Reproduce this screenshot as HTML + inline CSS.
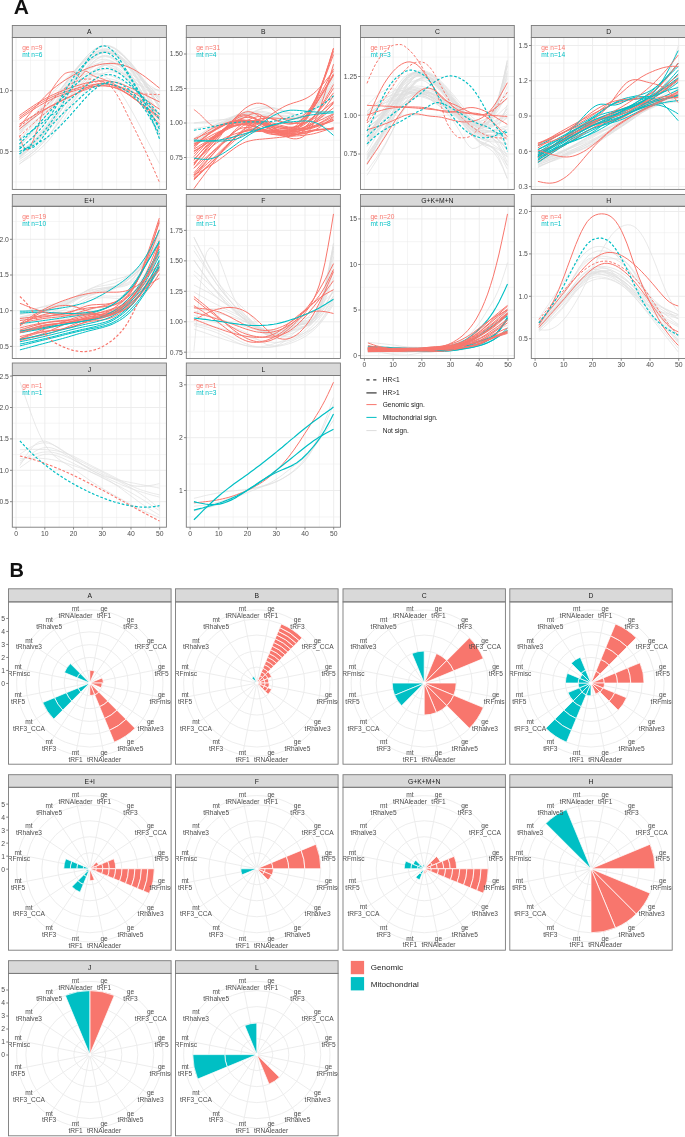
<!DOCTYPE html>
<html><head><meta charset="utf-8"><style>
html,body{margin:0;padding:0;background:#fff;overflow:hidden;}
svg{display:block;font-family:"Liberation Sans",sans-serif;will-change:transform;}
</style></head><body>
<svg width="685" height="1137" viewBox="0 0 685 1137">
<defs><clipPath id="clipA0"><rect x="12.3" y="37.5" width="154.1" height="151.9"/></clipPath><clipPath id="clipA1"><rect x="186.3" y="37.5" width="154.1" height="151.9"/></clipPath><clipPath id="clipA2"><rect x="360.5" y="37.5" width="153.8" height="151.9"/></clipPath><clipPath id="clipA3"><rect x="531.3" y="37.5" width="154.7" height="151.9"/></clipPath><clipPath id="clipA4"><rect x="12.3" y="206.3" width="154.1" height="152.2"/></clipPath><clipPath id="clipA5"><rect x="186.3" y="206.3" width="154.1" height="152.2"/></clipPath><clipPath id="clipA6"><rect x="360.5" y="206.3" width="153.8" height="152.2"/></clipPath><clipPath id="clipA7"><rect x="531.3" y="206.3" width="154.7" height="152.2"/></clipPath><clipPath id="clipA8"><rect x="12.3" y="375.5" width="154.1" height="151.7"/></clipPath><clipPath id="clipA9"><rect x="186.3" y="375.5" width="154.1" height="151.7"/></clipPath><clipPath id="clipB0"><rect x="8.5" y="601.9" width="162.6" height="162.3"/></clipPath><clipPath id="clipB1"><rect x="175.5" y="601.9" width="162.6" height="162.3"/></clipPath><clipPath id="clipB2"><rect x="343" y="601.9" width="162.4" height="162.3"/></clipPath><clipPath id="clipB3"><rect x="509.8" y="601.9" width="162.4" height="162.3"/></clipPath><clipPath id="clipB4"><rect x="8.5" y="787.3" width="162.6" height="162.9"/></clipPath><clipPath id="clipB5"><rect x="175.5" y="787.3" width="162.6" height="162.9"/></clipPath><clipPath id="clipB6"><rect x="343" y="787.3" width="162.4" height="162.9"/></clipPath><clipPath id="clipB7"><rect x="509.8" y="787.3" width="162.4" height="162.9"/></clipPath><clipPath id="clipB8"><rect x="8.5" y="973.4" width="162.6" height="162.4"/></clipPath><clipPath id="clipB9"><rect x="175.5" y="973.4" width="162.6" height="162.4"/></clipPath></defs>
<rect width="685" height="1137" fill="#fff"/>
<text x="13.7" y="14.1" font-size="21" text-anchor="start" fill="#111" font-weight="bold" >A</text>
<rect x="12.3" y="37.5" width="154.1" height="151.9" fill="#fff"/>
<g clip-path="url(#clipA0)">
<line x1="12.3" x2="166.4" y1="181.9" y2="181.9" stroke="#EBEBEB" stroke-width="0.5"/>
<line x1="12.3" x2="166.4" y1="121.1" y2="121.1" stroke="#EBEBEB" stroke-width="0.5"/>
<line x1="12.3" x2="166.4" y1="60.3" y2="60.3" stroke="#EBEBEB" stroke-width="0.5"/>
<line x1="30.46" x2="30.46" y1="37.5" y2="189.4" stroke="#EBEBEB" stroke-width="0.5"/>
<line x1="59.18" x2="59.18" y1="37.5" y2="189.4" stroke="#EBEBEB" stroke-width="0.5"/>
<line x1="87.9" x2="87.9" y1="37.5" y2="189.4" stroke="#EBEBEB" stroke-width="0.5"/>
<line x1="116.62" x2="116.62" y1="37.5" y2="189.4" stroke="#EBEBEB" stroke-width="0.5"/>
<line x1="145.34" x2="145.34" y1="37.5" y2="189.4" stroke="#EBEBEB" stroke-width="0.5"/>
<line x1="12.3" x2="166.4" y1="151.5" y2="151.5" stroke="#EBEBEB" stroke-width="0.9"/>
<line x1="12.3" x2="166.4" y1="90.7" y2="90.7" stroke="#EBEBEB" stroke-width="0.9"/>
<line x1="16.1" x2="16.1" y1="37.5" y2="189.4" stroke="#EBEBEB" stroke-width="0.9"/>
<line x1="44.82" x2="44.82" y1="37.5" y2="189.4" stroke="#EBEBEB" stroke-width="0.9"/>
<line x1="73.54" x2="73.54" y1="37.5" y2="189.4" stroke="#EBEBEB" stroke-width="0.9"/>
<line x1="102.26" x2="102.26" y1="37.5" y2="189.4" stroke="#EBEBEB" stroke-width="0.9"/>
<line x1="130.98" x2="130.98" y1="37.5" y2="189.4" stroke="#EBEBEB" stroke-width="0.9"/>
<line x1="159.7" x2="159.7" y1="37.5" y2="189.4" stroke="#EBEBEB" stroke-width="0.9"/>
<path d="M19.4,161.7 23.9,158.8 28.4,155.7 32.9,152.3 37.5,148.5 42,144 46.5,138.8 51,132.6 55.5,125.5 60.1,117.8 64.6,109.8 69.1,101.8 73.6,94.3 78.2,87.4 82.7,81.3 87.2,76.1 91.7,71.8 96.3,68.5 100.8,66.3 105.3,65.1 109.8,65.1 114.3,66.2 118.9,68.5 123.4,71.9 127.9,76.6 132.4,82.5 137,89.5 141.5,97.4 146,106.1 150.5,115.2 155.1,124.8 159.6,134.5" fill="none" stroke="#DFDFDF" stroke-width="0.7" stroke-linejoin="round"/>
<path d="M19.4,159.6 23.9,156.5 28.4,153.4 32.9,150 37.5,146.4 42,142.3 46.5,137.8 51,132.6 55.5,126.8 60.1,120.6 64.6,114.1 69.1,107.7 73.6,101.4 78.2,95.5 82.7,90 87.2,85.1 91.7,80.9 96.3,77.3 100.8,74.6 105.3,72.7 109.8,71.9 114.3,72.1 118.9,73.4 123.4,76.1 127.9,80.1 132.4,85.6 137,92.4 141.5,100.3 146,109.1 150.5,118.6 155.1,128.5 159.6,138.7" fill="none" stroke="#DFDFDF" stroke-width="0.7" stroke-linejoin="round"/>
<path d="M19.4,130.5 23.9,127.8 28.4,125 32.9,122.1 37.5,118.9 42,115.4 46.5,111.6 51,107.3 55.5,102.7 60.1,97.8 64.6,92.9 69.1,88.3 73.6,84.1 78.2,80.6 82.7,77.8 87.2,75.7 91.7,74.3 96.3,73.6 100.8,73.6 105.3,74.2 109.8,75.4 114.3,77.2 118.9,79.3 123.4,81.7 127.9,84.2 132.4,86.8 137,89.4 141.5,92 146,94.5 150.5,97.1 155.1,99.7 159.6,102.3" fill="none" stroke="#DFDFDF" stroke-width="0.7" stroke-linejoin="round"/>
<path d="M19.4,147 23.9,141.9 28.4,136.9 32.9,131.7 37.5,126.4 42,121 46.5,115.4 51,109.6 55.5,103.5 60.1,97.4 64.6,91.1 69.1,85 73.6,78.9 78.2,73.1 82.7,67.7 87.2,62.7 91.7,58.5 96.3,55.1 100.8,52.7 105.3,51.5 109.8,51.5 114.3,52.7 118.9,55 123.4,58.4 127.9,62.6 132.4,67.6 137,73.4 141.5,79.7 146,86.5 150.5,93.7 155.1,101.1 159.6,108.7" fill="none" stroke="#DFDFDF" stroke-width="0.7" stroke-linejoin="round"/>
<path d="M19.4,157.1 23.9,151.9 28.4,146.7 32.9,141.5 37.5,136.3 42,131.1 46.5,125.9 51,120.7 55.5,115.6 60.1,110.4 64.6,105.2 69.1,99.9 73.6,94.6 78.2,89.1 82.7,83.6 87.2,78.4 91.7,73.7 96.3,69.5 100.8,66.2 105.3,63.9 109.8,62.7 114.3,62.8 118.9,64.2 123.4,66.9 127.9,71.1 132.4,76.7 137,83.6 141.5,91.6 146,100.4 150.5,110 155.1,119.9 159.6,130.1" fill="none" stroke="#DFDFDF" stroke-width="0.7" stroke-linejoin="round"/>
<path d="M19.4,144 23.9,139.7 28.4,135.3 32.9,130.7 37.5,125.8 42,120.5 46.5,114.7 51,108.4 55.5,101.5 60.1,94.2 64.6,87 69.1,79.9 73.6,73.3 78.2,67.4 82.7,62.3 87.2,58 91.7,54.5 96.3,51.9 100.8,50.2 105.3,49.5 109.8,49.6 114.3,50.7 118.9,52.8 123.4,55.8 127.9,59.7 132.4,64.5 137,70.3 141.5,76.7 146,83.6 150.5,91 155.1,98.7 159.6,106.5" fill="none" stroke="#DFDFDF" stroke-width="0.7" stroke-linejoin="round"/>
<path d="M19.4,157.3 23.9,153.2 28.4,149 32.9,144.6 37.5,140 42,135.2 46.5,129.9 51,124.2 55.5,118.1 60.1,111.7 64.6,105 69.1,98.3 73.6,91.5 78.2,85 82.7,78.9 87.2,73.3 91.7,68.5 96.3,64.6 100.8,62 105.3,60.8 109.8,61 114.3,62.7 118.9,65.7 123.4,69.9 127.9,75.1 132.4,81.3 137,88.3 141.5,96 146,104.2 150.5,112.9 155.1,121.8 159.6,130.8" fill="none" stroke="#DFDFDF" stroke-width="0.7" stroke-linejoin="round"/>
<path d="M19.4,139.6 23.9,134.7 28.4,129.8 32.9,124.8 37.5,119.7 42,114.5 46.5,109 51,103.2 55.5,97.2 60.1,91 64.6,84.8 69.1,78.5 73.6,72.4 78.2,66.5 82.7,60.9 87.2,56 91.7,51.7 96.3,48.5 100.8,46.4 105.3,45.6 109.8,46.3 114.3,48.3 118.9,51.4 123.4,55.4 127.9,60.3 132.4,65.8 137,71.8 141.5,78.3 146,85.1 150.5,92.2 155.1,99.5 159.6,106.8" fill="none" stroke="#DFDFDF" stroke-width="0.7" stroke-linejoin="round"/>
<path d="M19.4,129.1 23.9,125.5 28.4,121.8 32.9,118 37.5,114 42,109.8 46.5,105.3 51,100.5 55.5,95.4 60.1,90.1 64.6,84.8 69.1,79.5 73.6,74.5 78.2,70 82.7,65.9 87.2,62.4 91.7,59.6 96.3,57.5 100.8,56.4 105.3,56.1 109.8,56.8 114.3,58.3 118.9,60.4 123.4,63.2 127.9,66.5 132.4,70.1 137,74.1 141.5,78.4 146,82.9 150.5,87.5 155.1,92.3 159.6,97.1" fill="none" stroke="#DFDFDF" stroke-width="0.7" stroke-linejoin="round"/>
<path d="M19.4,139.6 23.9,135.3 28.4,130.9 32.9,126.5 37.5,122 42,117.3 46.5,112.5 51,107.4 55.5,102.1 60.1,96.6 64.6,90.8 69.1,84.8 73.6,78.6 78.2,72.3 82.7,65.9 87.2,59.9 91.7,54.6 96.3,50.2 100.8,47.1 105.3,45.6 109.8,45.8 114.3,47.6 118.9,50.7 123.4,54.8 127.9,59.8 132.4,65.4 137,71.4 141.5,77.9 146,84.7 150.5,91.7 155.1,98.9 159.6,106.2" fill="none" stroke="#DFDFDF" stroke-width="0.7" stroke-linejoin="round"/>
<path d="M19.4,134.3 23.9,128.6 28.4,122.9 32.9,117.4 37.5,112.1 42,107.1 46.5,102.5 51,98.3 55.5,94.5 60.1,90.9 64.6,87.5 69.1,84 73.6,80.2 78.2,76.1 82.7,71.8 87.2,67.7 91.7,64.1 96.3,61.2 100.8,59.5 105.3,59.3 109.8,60.3 114.3,62.3 118.9,65.1 123.4,68.3 127.9,71.6 132.4,74.9 137,77.9 141.5,80.8 146,83.5 150.5,86.2 155.1,88.8 159.6,91.3" fill="none" stroke="#DFDFDF" stroke-width="0.7" stroke-linejoin="round"/>
<path d="M19.4,153.7 23.9,149.9 28.4,145.9 32.9,141.8 37.5,137.4 42,132.6 46.5,127.4 51,121.6 55.5,115.2 60.1,108.4 64.6,101.2 69.1,93.9 73.6,86.6 78.2,79.3 82.7,72.4 87.2,66.1 91.7,60.6 96.3,56.2 100.8,53.2 105.3,51.7 109.8,52 114.3,53.8 118.9,57 123.4,61.4 127.9,66.8 132.4,73 137,80 141.5,87.5 146,95.5 150.5,103.8 155.1,112.4 159.6,121.1" fill="none" stroke="#DFDFDF" stroke-width="0.7" stroke-linejoin="round"/>
<path d="M19.4,133.7 23.9,130.4 28.4,127 32.9,123.4 37.5,119.4 42,115 46.5,110 51,104.3 55.5,97.9 60.1,91.2 64.6,84.3 69.1,77.7 73.6,71.5 78.2,66.1 82.7,61.6 87.2,57.9 91.7,55.1 96.3,53.2 100.8,52.3 105.3,52.4 109.8,53.3 114.3,55.1 118.9,57.6 123.4,60.8 127.9,64.6 132.4,68.9 137,73.6 141.5,78.7 146,84.1 150.5,89.8 155.1,95.6 159.6,101.4" fill="none" stroke="#DFDFDF" stroke-width="0.7" stroke-linejoin="round"/>
<path d="M19.4,131.4 23.9,127.1 28.4,122.8 32.9,118.5 37.5,114.2 42,110 46.5,105.7 51,101.6 55.5,97.4 60.1,93.4 64.6,89.3 69.1,85.3 73.6,81.3 78.2,77.3 82.7,73.6 87.2,70.2 91.7,67.5 96.3,65.6 100.8,64.7 105.3,65.1 109.8,66.7 114.3,69.3 118.9,72.5 123.4,75.9 127.9,79.2 132.4,81.9 137,84.1 141.5,85.9 146,87.3 150.5,88.4 155.1,89.3 159.6,90.1" fill="none" stroke="#DFDFDF" stroke-width="0.7" stroke-linejoin="round"/>
<path d="M19.4,157 23.9,152.9 28.4,148.6 32.9,144.1 37.5,139.4 42,134.2 46.5,128.6 51,122.3 55.5,115.5 60.1,108.2 64.6,100.8 69.1,93.3 73.6,86.1 78.2,79.2 82.7,73 87.2,67.4 91.7,62.9 96.3,59.4 100.8,57.3 105.3,56.6 109.8,57.5 114.3,59.8 118.9,63.2 123.4,67.7 127.9,73 132.4,79 137,85.5 141.5,92.4 146,99.7 150.5,107.3 155.1,115 159.6,122.9" fill="none" stroke="#DFDFDF" stroke-width="0.7" stroke-linejoin="round"/>
<path d="M19.4,133.9 23.9,128.1 28.4,122.2 32.9,116.5 37.5,110.8 42,105.3 46.5,99.9 51,94.6 55.5,89.6 60.1,84.8 64.6,80.1 69.1,75.6 73.6,71.3 78.2,67.2 82.7,63.3 87.2,59.8 91.7,56.9 96.3,54.6 100.8,53.2 105.3,52.7 109.8,53.2 114.3,54.5 118.9,56.6 123.4,59.5 127.9,63 132.4,67.1 137,71.7 141.5,76.7 146,82 150.5,87.6 155.1,93.4 159.6,99.2" fill="none" stroke="#DFDFDF" stroke-width="0.7" stroke-linejoin="round"/>
<path d="M19.4,129.6 23.9,125.6 28.4,121.7 32.9,117.7 37.5,113.7 42,109.6 46.5,105.5 51,101.2 55.5,97 60.1,92.7 64.6,88.6 69.1,84.7 73.6,81.2 78.2,78.1 82.7,75.5 87.2,73.3 91.7,71.6 96.3,70.4 100.8,69.7 105.3,69.5 109.8,69.9 114.3,70.7 118.9,71.9 123.4,73.6 127.9,75.6 132.4,78 137,80.6 141.5,83.5 146,86.6 150.5,89.8 155.1,93.2 159.6,96.6" fill="none" stroke="#DFDFDF" stroke-width="0.7" stroke-linejoin="round"/>
<path d="M19.4,149.4 23.9,145.3 28.4,141.1 32.9,136.7 37.5,132 42,126.9 46.5,121.3 51,115.1 55.5,108.3 60.1,101 64.6,93.6 69.1,86.1 73.6,78.8 78.2,71.9 82.7,65.5 87.2,59.9 91.7,55.2 96.3,51.7 100.8,49.4 105.3,48.6 109.8,49.3 114.3,51.5 118.9,54.9 123.4,59.3 127.9,64.7 132.4,70.9 137,77.7 141.5,85.1 146,92.9 150.5,100.9 155.1,109.3 159.6,117.7" fill="none" stroke="#DFDFDF" stroke-width="0.7" stroke-linejoin="round"/>
<path d="M19.4,132 23.9,127.9 28.4,123.8 32.9,119.6 37.5,115.2 42,110.6 46.5,105.8 51,100.7 55.5,95.2 60.1,89.6 64.6,83.9 69.1,78.2 73.6,72.6 78.2,67.3 82.7,62.4 87.2,58.1 91.7,54.6 96.3,52.1 100.8,50.8 105.3,50.8 109.8,52.2 114.3,54.6 118.9,57.8 123.4,61.8 127.9,66.1 132.4,70.7 137,75.5 141.5,80.4 146,85.4 150.5,90.5 155.1,95.6 159.6,100.7" fill="none" stroke="#DFDFDF" stroke-width="0.7" stroke-linejoin="round"/>
<path d="M19.4,145.2 23.9,141.5 28.4,137.7 32.9,133.7 37.5,129.3 42,124.3 46.5,118.7 51,112.4 55.5,105.3 60.1,97.7 64.6,89.8 69.1,82 73.6,74.5 78.2,67.5 82.7,61.2 87.2,55.8 91.7,51.4 96.3,48.1 100.8,46.1 105.3,45.5 109.8,46.4 114.3,48.6 118.9,51.9 123.4,56.2 127.9,61.3 132.4,67 137,73.2 141.5,79.8 146,86.8 150.5,94 155.1,101.4 159.6,108.8" fill="none" stroke="#DFDFDF" stroke-width="0.7" stroke-linejoin="round"/>
<path d="M19.4,151.5 23.9,148.3 28.4,144.9 32.9,141.3 37.5,137.1 42,132.4 46.5,126.8 51,120.2 55.5,112.8 60.1,104.7 64.6,96.3 69.1,88.1 73.6,80.3 78.2,73.3 82.7,67.3 87.2,62.1 91.7,58 96.3,55 100.8,53.1 105.3,52.3 109.8,52.8 114.3,54.4 118.9,57.1 123.4,61 127.9,65.9 132.4,71.9 137,78.7 141.5,86.4 146,94.6 150.5,103.3 155.1,112.3 159.6,121.5" fill="none" stroke="#DFDFDF" stroke-width="0.7" stroke-linejoin="round"/>
<path d="M19.4,157.7 23.9,153.9 28.4,150 32.9,146 37.5,141.9 42,137.5 46.5,132.8 51,127.8 55.5,122.4 60.1,116.7 64.6,110.7 69.1,104.7 73.6,98.5 78.2,92.3 82.7,86.3 87.2,80.7 91.7,75.5 96.3,71.1 100.8,67.6 105.3,65.2 109.8,64 114.3,64.1 118.9,65.4 123.4,68.1 127.9,72.1 132.4,77.4 137,84 141.5,91.6 146,100 150.5,109 155.1,118.4 159.6,128" fill="none" stroke="#DFDFDF" stroke-width="0.7" stroke-linejoin="round"/>
<path d="M19.4,127.8 23.9,124.1 28.4,120.4 32.9,116.7 37.5,112.9 42,109 46.5,105 51,100.9 55.5,96.7 60.1,92.4 64.6,88.1 69.1,83.8 73.6,79.5 78.2,75.4 82.7,71.6 87.2,68.2 91.7,65.5 96.3,63.7 100.8,62.9 105.3,63.3 109.8,64.8 114.3,67.1 118.9,70.1 123.4,73.4 127.9,76.8 132.4,80.1 137,83.3 141.5,86.3 146,89.2 150.5,92 155.1,94.8 159.6,97.6" fill="none" stroke="#DFDFDF" stroke-width="0.7" stroke-linejoin="round"/>
<path d="M19.4,147.3 23.9,144.4 28.4,141.4 32.9,138.1 37.5,134.4 42,130.1 46.5,125.1 51,119.2 55.5,112.5 60.1,105.1 64.6,97.5 69.1,89.7 73.6,82.1 78.2,75 82.7,68.4 87.2,62.7 91.7,57.8 96.3,54.1 100.8,51.6 105.3,50.6 109.8,51 114.3,52.8 118.9,55.8 123.4,59.9 127.9,64.8 132.4,70.6 137,77 141.5,83.9 146,91.2 150.5,98.9 155.1,106.8 159.6,114.8" fill="none" stroke="#DFDFDF" stroke-width="0.7" stroke-linejoin="round"/>
<path d="M19.4,155.6 23.9,151.9 28.4,148.1 32.9,144.2 37.5,139.9 42,135.3 46.5,130.2 51,124.6 55.5,118.3 60.1,111.7 64.6,104.6 69.1,97.3 73.6,90 78.2,82.6 82.7,75.6 87.2,69.1 91.7,63.6 96.3,59.2 100.8,56.3 105.3,55.2 109.8,56.1 114.3,58.7 118.9,62.7 123.4,67.9 127.9,74 132.4,80.7 137,88 141.5,95.8 146,103.8 150.5,112.2 155.1,120.7 159.6,129.3" fill="none" stroke="#DFDFDF" stroke-width="0.7" stroke-linejoin="round"/>
<path d="M19.4,164.2 23.9,160.4 28.4,156.5 32.9,152.5 37.5,148.2 42,143.6 46.5,138.6 51,133.1 55.5,127.1 60.1,120.7 64.6,114.1 69.1,107.4 73.6,100.8 78.2,94.3 82.7,88.1 87.2,82.4 91.7,77.4 96.3,73.3 100.8,70.2 105.3,68.3 109.8,67.8 114.3,68.6 118.9,70.6 123.4,74 127.9,78.7 132.4,84.6 137,91.6 141.5,99.5 146,108.2 150.5,117.5 155.1,127.1 159.6,136.9" fill="none" stroke="#DFDFDF" stroke-width="0.7" stroke-linejoin="round"/>
<path d="M19.4,159 22.5,156 25.7,152.9 28.9,149.9 32.1,146.7 35.3,143.4 38.5,140 41.7,136.5 44.9,132.7 48,128.8 51.2,124.6 54.4,120.2 57.6,115.7 60.8,111 64,106.4 67.2,101.8 70.3,97.4 73.5,93.1 76.7,89.2 79.9,85.5 83.1,82.3 86.3,79.5 89.5,77.3 92.7,75.7 95.8,74.8 99,74.6 102.2,75.2 105.4,76.6 108.6,78.7 111.8,81.6 115,85 118.1,89 121.3,93.4 124.5,98.4 127.7,103.7 130.9,109.2 134.1,115 137.3,121 140.5,127 143.6,133.1 146.8,139.2 150,145.4 153.2,151.6 156.4,157.8 159.6,163.9" fill="none" stroke="#DFDFDF" stroke-width="0.7" stroke-linejoin="round"/>
<path d="M19.4,163.9 22.5,161.9 25.7,159.8 28.9,157.7 32.1,155.4 35.3,153 38.5,150.4 41.7,147.5 44.9,144.4 48,141 51.2,137.2 54.4,133.1 57.6,128.7 60.8,124.1 64,119.5 67.2,114.8 70.3,110.2 73.5,105.6 76.7,101.3 79.9,97.3 83.1,93.5 86.3,90.1 89.5,87.1 92.7,84.4 95.8,82.3 99,80.6 102.2,79.4 105.4,78.8 108.6,78.8 111.8,79.2 115,80 118.1,81.3 121.3,82.9 124.5,84.8 127.7,87 130.9,89.5 134.1,92.2 137.3,95.2 140.5,98.3 143.6,101.5 146.8,104.9 150,108.4 153.2,112 156.4,115.6 159.6,119.3" fill="none" stroke="#DFDFDF" stroke-width="0.7" stroke-linejoin="round"/>
<path d="M19.4,115.5 22.2,113.5 25.1,111.5 27.9,109.5 30.8,107.6 33.7,105.6 36.5,103.8 39.4,102 42.3,100.3 45.1,98.7 48,97.2 50.8,95.7 53.7,94.4 56.6,93.1 59.4,91.9 62.3,90.8 65.1,89.7 68,88.7 70.9,87.7 73.7,86.7 76.6,85.8 79.5,84.9 82.3,84.1 85.2,83.3 88,82.6 90.9,82 93.8,81.5 96.6,81.2 99.5,80.9 102.3,80.8 105.2,80.8 108.1,81 110.9,81.4 113.8,81.9 116.7,82.6 119.5,83.4 122.4,84.4 125.2,85.5 128.1,86.8 131,88.1 133.8,89.4 136.7,90.8 139.5,92.3 142.4,93.7 145.3,95 148.1,96.4 151,97.8 153.9,99.2 156.7,100.5 159.6,101.9" fill="none" stroke="#F8766D" stroke-width="1.0" stroke-linejoin="round"/>
<path d="M19.4,117.5 22.2,115.5 25.1,113.4 27.9,111.4 30.8,109.4 33.7,107.4 36.5,105.5 39.4,103.7 42.3,102 45.1,100.4 48,98.9 50.8,97.5 53.7,96.2 56.6,95 59.4,93.9 62.3,92.9 65.1,91.9 68,90.9 70.9,90.1 73.7,89.2 76.6,88.4 79.5,87.6 82.3,86.9 85.2,86.2 88,85.6 90.9,85 93.8,84.6 96.6,84.3 99.5,84.1 102.3,84 105.2,84.1 108.1,84.3 110.9,84.7 113.8,85.2 116.7,85.9 119.5,86.7 122.4,87.6 125.2,88.7 128.1,89.9 131,91.3 133.8,92.8 136.7,94.3 139.5,96 142.4,97.8 145.3,99.6 148.1,101.5 151,103.4 153.9,105.4 156.7,107.3 159.6,109.3" fill="none" stroke="#F8766D" stroke-width="1.0" stroke-linejoin="round"/>
<path d="M19.4,119.3 22.2,117.2 25.1,115.2 27.9,113.2 30.8,111.2 33.7,109.3 36.5,107.5 39.4,105.7 42.3,104 45.1,102.4 48,100.9 50.8,99.5 53.7,98.2 56.6,97 59.4,95.8 62.3,94.8 65.1,93.7 68,92.8 70.9,91.8 73.7,91 76.6,90.1 79.5,89.3 82.3,88.5 85.2,87.8 88,87.2 90.9,86.6 93.8,86.2 96.6,85.9 99.5,85.7 102.3,85.7 105.2,85.8 108.1,86.1 110.9,86.6 113.8,87.3 116.7,88.2 119.5,89.3 122.4,90.6 125.2,92.1 128.1,93.8 131,95.8 133.8,98 136.7,100.4 139.5,103 142.4,105.7 145.3,108.6 148.1,111.6 151,114.7 153.9,117.8 156.7,121 159.6,124.2" fill="none" stroke="#F8766D" stroke-width="1.0" stroke-linejoin="round"/>
<path d="M19.4,126.7 22.2,123.1 25.1,119.5 27.9,116 30.8,112.5 33.7,109 36.5,105.7 39.4,102.4 42.3,99.3 45.1,96.4 48,93.5 50.8,90.9 53.7,88.4 56.6,86.1 59.4,84 62.3,81.9 65.1,80.1 68,78.3 70.9,76.6 73.7,75 76.6,73.5 79.5,72 82.3,70.6 85.2,69.4 88,68.2 90.9,67.1 93.8,66.2 96.6,65.3 99.5,64.6 102.3,64.1 105.2,63.7 108.1,63.5 110.9,63.4 113.8,63.5 116.7,63.8 119.5,64.3 122.4,65 125.2,65.8 128.1,66.9 131,68.1 133.8,69.6 136.7,71.2 139.5,73 142.4,74.9 145.3,76.9 148.1,79.1 151,81.3 153.9,83.6 156.7,85.9 159.6,88.2" fill="none" stroke="#F8766D" stroke-width="1.0" stroke-linejoin="round"/>
<path d="M19.4,135.4 22.2,144.1 25.1,149.1 27.9,150.1 30.8,146.3 33.7,139.1 36.5,131 39.4,122.8 42.3,112.9 45.1,103.9 48,97.4 50.8,91.7 53.7,86.8 56.6,82.7 59.4,79.1 62.3,75.8 65.1,73.4 68,72.4 70.9,71.9 73.7,71.6 76.6,74 79.5,77.6 82.3,74.6 85.2,71 88,72 90.9,74.5 93.8,76 96.6,77 99.5,77.9 102.3,78.8 105.2,80 108.1,81.2 110.9,82.5 113.8,83.9 116.7,85.4 119.5,86.9 122.4,88.5 125.2,90.2 128.1,91.8 131,93.6 133.8,95.4 136.7,97.3 139.5,99.2 142.4,101.2 145.3,103.2 148.1,105.3 151,107.5 153.9,109.7 156.7,112 159.6,114.3" fill="none" stroke="#F8766D" stroke-width="0.9" stroke-linejoin="round"/>
<path d="M19.4,129.2 22.2,126.9 25.1,124.6 27.9,122.3 30.8,120.1 33.7,117.9 36.5,115.8 39.4,113.7 42.3,111.7 45.1,109.7 48,107.9 50.8,106.1 53.7,104.5 56.6,103 59.4,101.5 62.3,100.1 65.1,98.7 68,97.4 70.9,96.1 73.7,94.8 76.6,93.5 79.5,92.2 82.3,90.9 85.2,89.8 88,88.7 90.9,87.7 93.8,86.9 96.6,86.3 99.5,85.9 102.3,85.8 105.2,85.8 108.1,86.2 110.9,86.7 113.8,87.5 116.7,88.5 119.5,89.7 122.4,91.1 125.2,92.6 128.1,94.3 131,96.1 133.8,98.1 136.7,100.1 139.5,102.3 142.4,104.6 145.3,106.9 148.1,109.3 151,111.7 153.9,114.2 156.7,116.7 159.6,119.3" fill="none" stroke="#F8766D" stroke-width="1.0" stroke-linejoin="round"/>
<path d="M19.4,124.2 22.2,122.5 25.1,120.7 27.9,119 30.8,117.2 33.7,115.5 36.5,113.9 39.4,112.2 42.3,110.6 45.1,109.1 48,107.6 50.8,106.2 53.7,104.8 56.6,103.4 59.4,102 62.3,100.6 65.1,99.2 68,97.8 70.9,96.3 73.7,94.8 76.6,93.3 79.5,91.7 82.3,90.1 85.2,88.6 88,87.2 90.9,86 93.8,84.9 96.6,84 99.5,83.5 102.3,83.2 105.2,83.4 108.1,83.9 110.9,84.7 113.8,85.8 116.7,87.2 119.5,88.8 122.4,90.6 125.2,92.5 128.1,94.5 131,96.5 133.8,98.6 136.7,100.6 139.5,102.6 142.4,104.7 145.3,106.7 148.1,108.7 151,110.7 153.9,112.8 156.7,114.8 159.6,116.8" fill="none" stroke="#F8766D" stroke-width="1.0" stroke-linejoin="round"/>
<path d="M19.4,136.6 22.2,133.9 25.1,131.2 27.9,128.6 30.8,125.9 33.7,123.3 36.5,120.7 39.4,118.2 42.3,115.7 45.1,113.2 48,110.8 50.8,108.3 53.7,105.8 56.6,103.2 59.4,100.5 62.3,98 65.1,95.6 68,93.4 70.9,91.4 73.7,89.8 76.6,88.5 79.5,87.2 82.3,85.9 85.2,84.7 88,83.7 90.9,82.8 93.8,82.1 96.6,81.7 99.5,81.5 102.3,82 105.2,83 108.1,84.4 110.9,86.4 113.8,90 116.7,94.2 119.5,99 122.4,104.4 125.2,110.2 128.1,116.1 131,121.8 133.8,127.4 136.7,133.1 139.5,138.9 142.4,144.8 145.3,150.8 148.1,156.9 151,163.1 153.9,169.5 156.7,176 159.6,182.6" fill="none" stroke="#F8766D" stroke-width="1.0" stroke-dasharray="2.7,1.8" stroke-linejoin="round"/>
<path d="M19.4,126.7 22.2,124.5 25.1,122.3 27.9,120 30.8,117.8 33.7,115.5 36.5,113.1 39.4,110.8 42.3,108.4 45.1,105.9 48,103.4 50.8,100.8 53.7,98.2 56.6,95.5 59.4,93 62.3,90.5 65.1,88.1 68,86 70.9,84 73.7,82.4 76.6,81.1 79.5,80.1 82.3,79.5 85.2,79.1 88,79 90.9,79.1 93.8,79.4 96.6,79.9 99.5,80.6 102.3,81.4 105.2,82.4 108.1,83.4 110.9,84.5 113.8,85.6 116.7,86.8 119.5,87.9 122.4,89 125.2,90 128.1,91 131,91.8 133.8,92.5 136.7,93.1 139.5,93.5 142.4,93.8 145.3,94.1 148.1,94.2 151,94.3 153.9,94.4 156.7,94.4 159.6,94.5" fill="none" stroke="#F8766D" stroke-width="1.0" stroke-dasharray="2.7,1.8" stroke-linejoin="round"/>
<path d="M19.4,154 22.2,151.8 25.1,149.5 27.9,147.2 30.8,144.7 33.7,142.2 36.5,139.5 39.4,136.6 42.3,133.5 45.1,130.1 48,126.5 50.8,122.5 53.7,118.3 56.6,113.8 59.4,109 62.3,104.1 65.1,99 68,93.8 70.9,88.6 73.7,83.4 76.6,78.2 79.5,73.1 82.3,68.1 85.2,63.5 88,59.1 90.9,55.1 93.8,51.7 96.6,48.9 99.5,46.9 102.3,45.9 105.2,46 108.1,47.1 110.9,49.1 113.8,51.9 116.7,55.3 119.5,59.2 122.4,63.6 125.2,68.2 128.1,73 131,77.8 133.8,82.6 136.7,87.5 139.5,92.7 142.4,98.1 145.3,103.8 148.1,110.1 151,116.8 153.9,124 156.7,131.5 159.6,139.1" fill="none" stroke="#00BFC4" stroke-width="1.15" stroke-dasharray="2.7,1.8" stroke-linejoin="round"/>
<path d="M19.4,149.1 22.2,146.6 25.1,144.2 27.9,141.6 30.8,139 33.7,136.3 36.5,133.3 39.4,130.2 42.3,126.8 45.1,123.2 48,119.2 50.8,115 53.7,110.4 56.6,105.5 59.4,100.6 62.3,95.6 65.1,90.6 68,85.8 70.9,81.2 73.7,76.9 76.6,73 79.5,69.5 82.3,66.3 85.2,63.5 88,60.8 90.9,58.4 93.8,56.2 96.6,54.4 99.5,53.1 102.3,52.4 105.2,52.3 108.1,53.1 110.9,54.6 113.8,56.7 116.7,59.4 119.5,62.7 122.4,66.4 125.2,70.4 128.1,74.8 131,79.4 133.8,84.2 136.7,89 139.5,93.9 142.4,98.9 145.3,103.9 148.1,108.9 151,113.9 153.9,119 156.7,124.1 159.6,129.2" fill="none" stroke="#00BFC4" stroke-width="1.15" stroke-dasharray="2.7,1.8" stroke-linejoin="round"/>
<path d="M19.4,144.1 22.2,141.1 25.1,138.1 27.9,135.1 30.8,132 33.7,129 36.5,126 39.4,122.9 42.3,119.8 45.1,116.7 48,113.6 50.8,110.5 53.7,107.4 56.6,104.2 59.4,101.1 62.3,98 65.1,95 68,92.1 70.9,89.2 73.7,86.4 76.6,83.8 79.5,81.3 82.3,79 85.2,76.9 88,74.9 90.9,73.1 93.8,71.6 96.6,70.3 99.5,69.3 102.3,68.6 105.2,68.4 108.1,68.5 110.9,69.2 113.8,70.2 116.7,71.7 119.5,73.5 122.4,75.6 125.2,78.1 128.1,80.9 131,83.9 133.8,87.1 136.7,90.4 139.5,93.9 142.4,97.5 145.3,101.1 148.1,104.7 151,108.3 153.9,112 156.7,115.6 159.6,119.3" fill="none" stroke="#00BFC4" stroke-width="1.15" stroke-dasharray="2.7,1.8" stroke-linejoin="round"/>
<path d="M19.4,140.4 22.2,138.2 25.1,136 27.9,133.8 30.8,131.6 33.7,129.4 36.5,127.2 39.4,125 42.3,122.7 45.1,120.4 48,118.1 50.8,115.8 53.7,113.5 56.6,111.1 59.4,108.7 62.3,106.3 65.1,103.8 68,101.3 70.9,98.9 73.7,96.3 76.6,93.8 79.5,91.3 82.3,88.8 85.2,86.4 88,84.1 90.9,81.9 93.8,79.9 96.6,78.2 99.5,76.7 102.3,75.5 105.2,74.8 108.1,74.5 110.9,74.8 113.8,75.4 116.7,76.5 119.5,77.9 122.4,79.6 125.2,81.6 128.1,83.8 131,86.1 133.8,88.5 136.7,91.1 139.5,93.8 142.4,96.5 145.3,99.4 148.1,102.3 151,105.3 153.9,108.2 156.7,111.3 159.6,114.3" fill="none" stroke="#00BFC4" stroke-width="1.15" stroke-dasharray="2.7,1.8" stroke-linejoin="round"/>
<path d="M19.4,146.6 22.2,147.6 25.1,148.4 27.9,148.8 30.8,148.4 33.7,147 36.5,144.7 39.4,141.6 42.3,138 45.1,134.1 48,130.2 50.8,126.4 53.7,123 56.6,119.8 59.4,116.9 62.3,114.1 65.1,111.5 68,108.9 70.9,106.4 73.7,103.8 76.6,101.2 79.5,98.5 82.3,95.9 85.2,93.4 88,91 90.9,88.9 93.8,87.1 96.6,85.6 99.5,84.5 102.3,83.8 105.2,83.6 108.1,83.7 110.9,84.2 113.8,85 116.7,86 119.5,87.2 122.4,88.5 125.2,90.1 128.1,91.9 131,94.1 133.8,96.5 136.7,99.3 139.5,102.6 142.4,106.3 145.3,110.3 148.1,114.7 151,119.4 153.9,124.2 156.7,129.1 159.6,134.2" fill="none" stroke="#00BFC4" stroke-width="1.15" stroke-dasharray="2.7,1.8" stroke-linejoin="round"/>
<path d="M19.4,151.5 22.2,150.4 25.1,149.2 27.9,147.9 30.8,146.6 33.7,145.3 36.5,143.8 39.4,142.2 42.3,140.5 45.1,138.7 48,136.7 50.8,134.5 53.7,132.1 56.6,129.5 59.4,126.8 62.3,123.9 65.1,120.9 68,117.8 70.9,114.7 73.7,111.4 76.6,108.1 79.5,104.8 82.3,101.5 85.2,98.4 88,95.3 90.9,92.5 93.8,89.9 96.6,87.7 99.5,85.7 102.3,84.2 105.2,83 108.1,82.2 110.9,81.9 113.8,82 116.7,82.6 119.5,83.6 122.4,84.9 125.2,86.7 128.1,88.7 131,91.1 133.8,93.8 136.7,96.8 139.5,100 142.4,103.4 145.3,107 148.1,110.8 151,114.7 153.9,118.6 156.7,122.7 159.6,126.7" fill="none" stroke="#00BFC4" stroke-width="1.15" stroke-dasharray="2.7,1.8" stroke-linejoin="round"/>
<text x="22.2" y="49.8" font-size="6.6" text-anchor="start" fill="#F8766D" font-weight="normal" >ge n=9</text>
<text x="22.2" y="57.1" font-size="6.6" text-anchor="start" fill="#00BFC4" font-weight="normal" >mt n=6</text>
</g>
<rect x="12.3" y="25.5" width="154.1" height="12" fill="#D9D9D9" stroke="#7a7a7a" stroke-width="0.9"/>
<text x="89.35" y="34" font-size="6.8" text-anchor="middle" fill="#1A1A1A" font-weight="normal" >A</text>
<rect x="12.3" y="37.5" width="154.1" height="151.9" fill="none" stroke="#7a7a7a" stroke-width="0.9"/>
<line x1="10" x2="12.3" y1="151.5" y2="151.5" stroke="#7a7a7a" stroke-width="0.9"/>
<text x="8.9" y="153.9" font-size="6.8" text-anchor="end" fill="#4D4D4D" font-weight="normal" >0.5</text>
<line x1="10" x2="12.3" y1="90.7" y2="90.7" stroke="#7a7a7a" stroke-width="0.9"/>
<text x="8.9" y="93.1" font-size="6.8" text-anchor="end" fill="#4D4D4D" font-weight="normal" >1.0</text>
<rect x="186.3" y="37.5" width="154.1" height="151.9" fill="#fff"/>
<g clip-path="url(#clipA1)">
<line x1="186.3" x2="340.4" y1="174.75" y2="174.75" stroke="#EBEBEB" stroke-width="0.5"/>
<line x1="186.3" x2="340.4" y1="140.25" y2="140.25" stroke="#EBEBEB" stroke-width="0.5"/>
<line x1="186.3" x2="340.4" y1="105.75" y2="105.75" stroke="#EBEBEB" stroke-width="0.5"/>
<line x1="186.3" x2="340.4" y1="71.25" y2="71.25" stroke="#EBEBEB" stroke-width="0.5"/>
<line x1="186.3" x2="340.4" y1="36.75" y2="36.75" stroke="#EBEBEB" stroke-width="0.5"/>
<line x1="204.46" x2="204.46" y1="37.5" y2="189.4" stroke="#EBEBEB" stroke-width="0.5"/>
<line x1="233.18" x2="233.18" y1="37.5" y2="189.4" stroke="#EBEBEB" stroke-width="0.5"/>
<line x1="261.9" x2="261.9" y1="37.5" y2="189.4" stroke="#EBEBEB" stroke-width="0.5"/>
<line x1="290.62" x2="290.62" y1="37.5" y2="189.4" stroke="#EBEBEB" stroke-width="0.5"/>
<line x1="319.34" x2="319.34" y1="37.5" y2="189.4" stroke="#EBEBEB" stroke-width="0.5"/>
<line x1="186.3" x2="340.4" y1="157.5" y2="157.5" stroke="#EBEBEB" stroke-width="0.9"/>
<line x1="186.3" x2="340.4" y1="123" y2="123" stroke="#EBEBEB" stroke-width="0.9"/>
<line x1="186.3" x2="340.4" y1="88.5" y2="88.5" stroke="#EBEBEB" stroke-width="0.9"/>
<line x1="186.3" x2="340.4" y1="54" y2="54" stroke="#EBEBEB" stroke-width="0.9"/>
<line x1="190.1" x2="190.1" y1="37.5" y2="189.4" stroke="#EBEBEB" stroke-width="0.9"/>
<line x1="218.82" x2="218.82" y1="37.5" y2="189.4" stroke="#EBEBEB" stroke-width="0.9"/>
<line x1="247.54" x2="247.54" y1="37.5" y2="189.4" stroke="#EBEBEB" stroke-width="0.9"/>
<line x1="276.26" x2="276.26" y1="37.5" y2="189.4" stroke="#EBEBEB" stroke-width="0.9"/>
<line x1="304.98" x2="304.98" y1="37.5" y2="189.4" stroke="#EBEBEB" stroke-width="0.9"/>
<line x1="333.7" x2="333.7" y1="37.5" y2="189.4" stroke="#EBEBEB" stroke-width="0.9"/>
<path d="M193.9,142.6 198.4,139.7 202.9,136.8 207.4,134 211.9,131.1 216.4,128.2 220.9,125.3 225.4,122.4 230,119.7 234.5,117.3 239,115.2 243.5,113.7 248,112.7 252.5,112.3 257,112.3 261.5,112.7 266,113.2 270.5,114 275,114.8 279.5,115.7 284,116.5 288.5,117.3 293,117.9 297.5,118.1 302,117.3 306.5,115.4 311,112.1 315.5,107 320,100.6 324.5,93.1 329,84.9 333.5,76.4" fill="none" stroke="#DFDFDF" stroke-width="0.7" stroke-linejoin="round"/>
<path d="M193.9,143.7 198.4,140.9 202.9,138.1 207.4,135.2 211.9,132.4 216.4,129.5 220.9,126.6 225.4,123.6 230,120.9 234.5,118.4 239,116.6 243.5,115.4 248,115 252.5,115.3 257,115.9 261.5,116.6 266,117.2 270.5,117.6 275,117.9 279.5,118.1 284,118.2 288.5,118.6 293,118.9 297.5,119 302,118.4 306.5,116.5 311,113.1 315.5,107.8 320,100.9 324.5,92.8 329,84 333.5,74.8" fill="none" stroke="#DFDFDF" stroke-width="0.7" stroke-linejoin="round"/>
<path d="M193.9,123.1 198.4,122.4 202.9,121.7 207.4,121 211.9,120.4 216.4,120 220.9,119.7 225.4,119.6 230,119.5 234.5,119.1 239,118.3 243.5,117 248,115.1 252.5,112.9 257,110.7 261.5,109 266,108.1 270.5,108.2 275,109 279.5,110.4 284,111.9 288.5,113.5 293,114.7 297.5,115.8 302,116.6 306.5,117.4 311,118 315.5,118.7 320,119.3 324.5,119.9 329,120.4 333.5,121" fill="none" stroke="#DFDFDF" stroke-width="0.7" stroke-linejoin="round"/>
<path d="M193.9,142.6 198.4,139.5 202.9,136.4 207.4,133.2 211.9,130.2 216.4,127.1 220.9,124.2 225.4,121.3 230,118.7 234.5,116.5 239,114.8 243.5,113.9 248,113.6 252.5,113.9 257,114.5 261.5,115.1 266,115.6 270.5,115.8 275,115.8 279.5,115.8 284,116 288.5,116.6 293,117.6 297.5,118.4 302,118.4 306.5,117.1 311,114 315.5,108.5 320,101.2 324.5,92.4 329,82.7 333.5,72.6" fill="none" stroke="#DFDFDF" stroke-width="0.7" stroke-linejoin="round"/>
<path d="M193.9,138.9 198.4,135.7 202.9,132.6 207.4,129.6 211.9,126.8 216.4,124.2 220.9,122 225.4,120 230,118.4 234.5,116.9 239,115.6 243.5,114.3 248,113.1 252.5,112.1 257,111.5 261.5,111.4 266,111.9 270.5,113.1 275,114.8 279.5,116.5 284,117.9 288.5,118.6 293,118.5 297.5,117.5 302,115.7 306.5,113.2 311,110 315.5,106.2 320,102 324.5,97.4 329,92.5 333.5,87.6" fill="none" stroke="#DFDFDF" stroke-width="0.7" stroke-linejoin="round"/>
<path d="M193.9,143.3 198.4,140.2 202.9,137.1 207.4,133.9 211.9,130.8 216.4,127.7 220.9,124.5 225.4,121.4 230,118.5 234.5,116 239,114.1 243.5,113.1 248,112.9 252.5,113.3 257,114.1 261.5,114.8 266,115.4 270.5,115.5 275,115.4 279.5,115.2 284,115.2 288.5,115.6 293,116.5 297.5,117.3 302,117.6 306.5,116.7 311,114.1 315.5,109.5 320,103.3 324.5,95.8 329,87.4 333.5,78.6" fill="none" stroke="#DFDFDF" stroke-width="0.7" stroke-linejoin="round"/>
<path d="M193.9,123 198.4,122.9 202.9,122.8 207.4,122.5 211.9,122 216.4,121.3 220.9,120.3 225.4,119 230,117.5 234.5,115.8 239,114 243.5,112.1 248,110.4 252.5,108.9 257,107.7 261.5,106.9 266,106.7 270.5,107.2 275,108.1 279.5,109.4 284,110.8 288.5,112.3 293,113.7 297.5,115.1 302,116.6 306.5,118.2 311,120 315.5,122.1 320,124.3 324.5,126.8 329,129.3 333.5,131.9" fill="none" stroke="#DFDFDF" stroke-width="0.7" stroke-linejoin="round"/>
<path d="M193.9,139.4 198.4,136.9 202.9,134.5 207.4,132 211.9,129.6 216.4,127.1 220.9,124.7 225.4,122.3 230,120.1 234.5,118.2 239,116.6 243.5,115.5 248,114.9 252.5,114.8 257,115.1 261.5,115.7 266,116.5 270.5,117.4 275,118.3 279.5,119 284,119.4 288.5,119.3 293,118.6 297.5,117.4 302,115.4 306.5,112.7 311,109.3 315.5,105.1 320,100.3 324.5,95 329,89.4 333.5,83.6" fill="none" stroke="#DFDFDF" stroke-width="0.7" stroke-linejoin="round"/>
<path d="M193.9,138.5 198.4,135.4 202.9,132.5 207.4,129.6 211.9,127 216.4,124.7 220.9,122.7 225.4,121.2 230,119.9 234.5,118.9 239,118.1 243.5,117.4 248,116.8 252.5,116.2 257,115.6 261.5,115 266,114.3 270.5,113.7 275,113.2 279.5,113 284,113.1 288.5,113.7 293,114.7 297.5,115.8 302,116.3 306.5,115.7 311,113.7 315.5,109.7 320,104.1 324.5,97.4 329,89.9 333.5,82" fill="none" stroke="#DFDFDF" stroke-width="0.7" stroke-linejoin="round"/>
<path d="M193.9,128.7 198.4,128 202.9,127.2 207.4,126.5 211.9,125.6 216.4,124.7 220.9,123.7 225.4,122.6 230,121.4 234.5,120 239,118.3 243.5,116.4 248,114.3 252.5,112.1 257,110.1 261.5,108.6 266,107.7 270.5,107.7 275,108.3 279.5,109.5 284,110.9 288.5,112.6 293,114.2 297.5,115.8 302,117.1 306.5,118 311,118.5 315.5,118.4 320,117.8 324.5,116.9 329,115.7 333.5,114.5" fill="none" stroke="#DFDFDF" stroke-width="0.7" stroke-linejoin="round"/>
<path d="M193.9,165.3 198.4,159 202.9,152.9 207.4,147 211.9,141.5 216.4,136.5 220.9,132.1 225.4,128.5 230,125.5 234.5,123.2 239,121.6 243.5,120.7 248,120.3 252.5,120.6 257,121.5 261.5,122.8 266,124.7 270.5,126.9 275,129.1 279.5,130.8 284,131.8 288.5,131.5 293,129.7 297.5,126.6 302,122.4 306.5,117.2 311,111.3 315.5,104.8 320,97.8 324.5,90.5 329,82.9 333.5,75.3" fill="none" stroke="#F8766D" stroke-width="1.0" stroke-linejoin="round"/>
<path d="M193.9,175.5 198.4,171.6 202.9,167.6 207.4,163.5 211.9,159.4 216.4,155.2 220.9,150.8 225.4,146.4 230,142 234.5,138.1 239,134.7 243.5,132 248,130.4 252.5,129.5 257,129.3 261.5,129.7 266,130.6 270.5,131.7 275,132.9 279.5,134 284,134.9 288.5,135.2 293,135 297.5,134.4 302,133.5 306.5,132.4 311,131.5 315.5,130.6 320,130 324.5,129.4 329,128.9 333.5,128.5" fill="none" stroke="#F8766D" stroke-width="1.0" stroke-linejoin="round"/>
<path d="M193.9,144.6 198.4,141.4 202.9,138.3 207.4,135.2 211.9,132.3 216.4,129.5 220.9,126.9 225.4,124.5 230,122.5 234.5,121.1 239,120.2 243.5,120.2 248,121 252.5,122.4 257,124.2 261.5,126.1 266,128 270.5,129.6 275,130.8 279.5,131.6 284,132 288.5,131.8 293,131.1 297.5,129.9 302,128.3 306.5,126.5 311,124.5 315.5,122.4 320,120.3 324.5,118.2 329,116 333.5,113.8" fill="none" stroke="#F8766D" stroke-width="1.0" stroke-linejoin="round"/>
<path d="M193.9,164.3 198.4,159.1 202.9,153.9 207.4,148.8 211.9,143.8 216.4,138.9 220.9,134.1 225.4,129.6 230,125.5 234.5,122 239,119.3 243.5,117.8 248,117.3 252.5,118 257,119.6 261.5,122 266,125.1 270.5,128.6 275,132.1 279.5,134.9 284,136.5 288.5,136.4 293,134.2 297.5,130.2 302,124.8 306.5,118.5 311,111.5 315.5,104.3 320,96.8 324.5,89.2 329,81.6 333.5,73.8" fill="none" stroke="#F8766D" stroke-width="1.0" stroke-linejoin="round"/>
<path d="M193.9,146.2 198.4,142.2 202.9,138.4 207.4,134.7 211.9,131.2 216.4,128.1 220.9,125.5 225.4,123.3 230,121.7 234.5,120.6 239,120 243.5,120 248,120.4 252.5,121.3 257,122.5 261.5,124 266,125.5 270.5,127.1 275,128.5 279.5,129.7 284,130.5 288.5,130.8 293,130.5 297.5,129.5 302,128 306.5,125.9 311,123.2 315.5,119.9 320,116.1 324.5,112.1 329,107.8 333.5,103.4" fill="none" stroke="#F8766D" stroke-width="1.0" stroke-linejoin="round"/>
<path d="M193.9,179.1 198.4,174.9 202.9,170.7 207.4,166.5 211.9,162.1 216.4,157.5 220.9,152.8 225.4,147.9 230,142.9 234.5,138.1 239,133.5 243.5,129.2 248,125.5 252.5,122.5 257,120.1 261.5,118.6 266,118.1 270.5,118.5 275,119.5 279.5,120.9 284,122.2 288.5,123.2 293,123.5 297.5,122.7 302,120.4 306.5,116.2 311,109.6 315.5,100.5 320,89.2 324.5,76.4 329,62.6 333.5,48.2" fill="none" stroke="#F8766D" stroke-width="1.0" stroke-linejoin="round"/>
<path d="M193.9,156.6 198.4,151.6 202.9,146.8 207.4,142.2 211.9,137.9 216.4,134.1 220.9,130.9 225.4,128.3 230,126.4 234.5,125.2 239,124.6 243.5,124.7 248,125.4 252.5,126.5 257,127.8 261.5,129 266,129.9 270.5,130.4 275,130.5 279.5,130.4 284,130.2 288.5,129.9 293,129.7 297.5,129.4 302,128.9 306.5,128.1 311,126.8 315.5,125.1 320,122.8 324.5,120.3 329,117.5 333.5,114.6" fill="none" stroke="#F8766D" stroke-width="1.0" stroke-linejoin="round"/>
<path d="M193.9,163.2 198.4,158.8 202.9,154.5 207.4,150.4 211.9,146.5 216.4,143.1 220.9,140.1 225.4,137.6 230,135.6 234.5,134 239,132.7 243.5,131.7 248,130.9 252.5,130.4 257,130.2 261.5,130.2 266,130.4 270.5,131 275,131.6 279.5,132.4 284,133.1 288.5,133.7 293,134.2 297.5,134.3 302,134 306.5,133.2 311,131.8 315.5,129.7 320,127.1 324.5,124 329,120.7 333.5,117.2" fill="none" stroke="#F8766D" stroke-width="1.0" stroke-linejoin="round"/>
<path d="M193.9,138.9 198.4,137 202.9,135.1 207.4,133.2 211.9,131.2 216.4,129.1 220.9,127 225.4,124.8 230,122.9 234.5,121.5 239,120.9 243.5,121.4 248,123.1 252.5,125.5 257,128.3 261.5,130.9 266,133 270.5,134.2 275,134.7 279.5,134.6 284,134.1 288.5,133.4 293,132.5 297.5,131.5 302,130.3 306.5,129 311,127.3 315.5,125.5 320,123.4 324.5,121.2 329,118.9 333.5,116.5" fill="none" stroke="#F8766D" stroke-width="1.0" stroke-linejoin="round"/>
<path d="M193.9,147.8 198.4,143.5 202.9,139.3 207.4,135.4 211.9,131.7 216.4,128.6 220.9,125.9 225.4,123.9 230,122.4 234.5,121.5 239,120.9 243.5,120.8 248,121 252.5,121.4 257,122.1 261.5,122.9 266,123.7 270.5,124.6 275,125.5 279.5,126.3 284,127.1 288.5,127.8 293,128.3 297.5,128.5 302,128.1 306.5,127 311,124.9 315.5,121.7 320,117.7 324.5,112.9 329,107.8 333.5,102.4" fill="none" stroke="#F8766D" stroke-width="1.0" stroke-linejoin="round"/>
<path d="M193.9,162.8 198.4,158.1 202.9,153.4 207.4,148.6 211.9,143.7 216.4,138.6 220.9,133.3 225.4,128 230,122.9 234.5,118.7 239,115.8 243.5,114.6 248,115.2 252.5,117.4 257,120.4 261.5,123.7 266,126.7 270.5,129.1 275,130.6 279.5,131.3 284,131.1 288.5,129.9 293,127.8 297.5,124.6 302,120.5 306.5,115.3 311,109.3 315.5,102.3 320,94.6 324.5,86.3 329,77.7 333.5,68.9" fill="none" stroke="#F8766D" stroke-width="1.0" stroke-linejoin="round"/>
<path d="M193.9,141.3 198.4,137.8 202.9,134.3 207.4,131.2 211.9,128.5 216.4,126.3 220.9,124.7 225.4,123.9 230,123.6 234.5,123.4 239,123.2 243.5,122.7 248,121.9 252.5,121 257,120.5 261.5,120.8 266,122.1 270.5,124.8 275,128.1 279.5,131.5 284,134.3 288.5,135.9 293,135.8 297.5,134.4 302,132 306.5,128.9 311,125.4 315.5,121.9 320,118.4 324.5,114.9 329,111.4 333.5,107.9" fill="none" stroke="#F8766D" stroke-width="1.0" stroke-linejoin="round"/>
<path d="M193.9,151 198.4,148.3 202.9,145.5 207.4,142.7 211.9,139.6 216.4,136.4 220.9,133 225.4,129.3 230,125.9 234.5,123.1 239,121.2 243.5,120.7 248,121.8 252.5,123.9 257,126.5 261.5,129.1 266,131.3 270.5,132.6 275,133.1 279.5,133.2 284,132.9 288.5,132.4 293,131.8 297.5,131.2 302,130.5 306.5,129.6 311,128.5 315.5,127.2 320,125.7 324.5,124 329,122.3 333.5,120.5" fill="none" stroke="#F8766D" stroke-width="1.0" stroke-linejoin="round"/>
<path d="M193.9,176.8 198.4,171.4 202.9,166 207.4,160.7 211.9,155.5 216.4,150.4 220.9,145.5 225.4,140.8 230,136.3 234.5,132.2 239,128.6 243.5,125.5 248,123 252.5,121 257,119.6 261.5,118.6 266,118.1 270.5,118 275,118.1 279.5,118.4 284,118.8 288.5,119 293,119 297.5,118.3 302,116.4 306.5,112.8 311,107 315.5,98.8 320,88.7 324.5,77 329,64.4 333.5,51.2" fill="none" stroke="#F8766D" stroke-width="1.0" stroke-linejoin="round"/>
<path d="M193.9,151.5 198.4,148.8 202.9,145.9 207.4,142.9 211.9,139.7 216.4,136.1 220.9,132.2 225.4,127.9 230,123.7 234.5,120 239,117.2 243.5,115.8 248,115.9 252.5,117.1 257,119.2 261.5,121.6 266,123.8 270.5,125.7 275,127.1 279.5,128 284,128.5 288.5,128.4 293,127.8 297.5,126.6 302,124.7 306.5,122.1 311,118.8 315.5,114.6 320,109.7 324.5,104.4 329,98.7 333.5,92.9" fill="none" stroke="#F8766D" stroke-width="1.0" stroke-linejoin="round"/>
<path d="M193.9,149.1 198.4,146.4 202.9,143.7 207.4,141.1 211.9,138.4 216.4,135.7 220.9,133.1 225.4,130.5 230,128.1 234.5,126.2 239,124.8 243.5,124.3 248,124.7 252.5,125.7 257,127 261.5,128.5 266,129.9 270.5,131 275,131.8 279.5,132.2 284,132.3 288.5,132.2 293,131.7 297.5,131 302,130.1 306.5,129 311,127.8 315.5,126.5 320,125 324.5,123.5 329,122 333.5,120.4" fill="none" stroke="#F8766D" stroke-width="1.0" stroke-linejoin="round"/>
<path d="M193.9,174.6 198.4,169.7 202.9,164.8 207.4,159.9 211.9,155 216.4,150 220.9,145 225.4,140 230,135.1 234.5,130.6 239,126.4 243.5,122.9 248,120.1 252.5,118 257,116.8 261.5,116.4 266,116.9 270.5,118.3 275,120 279.5,121.9 284,123.4 288.5,124.2 293,123.9 297.5,122.2 302,119.2 306.5,114.5 311,107.9 315.5,99.6 320,89.7 324.5,78.6 329,66.8 333.5,54.6" fill="none" stroke="#F8766D" stroke-width="1.0" stroke-linejoin="round"/>
<path d="M193.9,168.1 198.4,164.2 202.9,160.2 207.4,156.2 211.9,152.2 216.4,148 220.9,143.7 225.4,139.4 230,135.3 234.5,131.7 239,129.1 243.5,127.6 248,127.5 252.5,128.3 257,129.6 261.5,130.9 266,131.9 270.5,132.3 275,132.2 279.5,131.7 284,131.1 288.5,130.5 293,130 297.5,129.5 302,129 306.5,128.3 311,127.3 315.5,126.1 320,124.5 324.5,122.8 329,120.9 333.5,119" fill="none" stroke="#F8766D" stroke-width="1.0" stroke-linejoin="round"/>
<path d="M193.9,145.9 198.4,143 202.9,140.3 207.4,137.6 211.9,135.1 216.4,132.8 220.9,130.8 225.4,129 230,127.5 234.5,126.2 239,125.1 243.5,124.2 248,123.3 252.5,122.7 257,122.5 261.5,122.6 266,123.1 270.5,124.2 275,125.5 279.5,126.7 284,127.6 288.5,127.9 293,127.3 297.5,126.1 302,124.2 306.5,121.8 311,118.9 315.5,115.8 320,112.5 324.5,109 329,105.3 333.5,101.6" fill="none" stroke="#F8766D" stroke-width="1.0" stroke-linejoin="round"/>
<path d="M193.9,180 198.4,175.6 202.9,171.2 207.4,166.8 211.9,162.4 216.4,157.9 220.9,153.4 225.4,148.9 230,144.6 234.5,140.6 239,137.3 243.5,134.7 248,132.9 252.5,131.9 257,131.5 261.5,131.5 266,131.8 270.5,132.3 275,132.8 279.5,133.3 284,133.6 288.5,133.7 293,133.4 297.5,132.9 302,132.2 306.5,131.4 311,130.7 315.5,130.1 320,129.5 324.5,129 329,128.6 333.5,128.2" fill="none" stroke="#F8766D" stroke-width="1.0" stroke-linejoin="round"/>
<path d="M193.9,160.4 198.4,154.9 202.9,149.5 207.4,144.4 211.9,139.5 216.4,135.1 220.9,131.2 225.4,127.9 230,125.3 234.5,123.2 239,121.9 243.5,121.1 248,121.1 252.5,121.6 257,122.7 261.5,124.3 266,126.3 270.5,128.6 275,130.8 279.5,132.6 284,133.4 288.5,133 293,130.9 297.5,127.5 302,122.9 306.5,117.4 311,111.2 315.5,104.5 320,97.5 324.5,90.2 329,82.6 333.5,75" fill="none" stroke="#F8766D" stroke-width="1.0" stroke-linejoin="round"/>
<path d="M193.9,178.4 198.4,174.4 202.9,170.4 207.4,166.2 211.9,161.9 216.4,157.3 220.9,152.4 225.4,147.3 230,142.3 234.5,137.7 239,133.9 243.5,131.2 248,129.8 252.5,129.4 257,129.9 261.5,130.9 266,132.1 270.5,133.4 275,134.5 279.5,135.4 284,135.8 288.5,135.8 293,135.1 297.5,134 302,132.7 306.5,131.4 311,130.4 315.5,129.7 320,129.3 324.5,129.2 329,129.2 333.5,129.3" fill="none" stroke="#F8766D" stroke-width="1.0" stroke-linejoin="round"/>
<path d="M193.9,153.9 198.4,149.5 202.9,145.3 207.4,141.3 211.9,137.5 216.4,134.1 220.9,131.2 225.4,128.7 230,126.8 234.5,125.3 239,124.2 243.5,123.5 248,123.1 252.5,122.9 257,123.1 261.5,123.7 266,124.5 270.5,125.7 275,127 279.5,128.2 284,129 288.5,129.4 293,129.1 297.5,128 302,126 306.5,123.1 311,119.2 315.5,114.3 320,108.5 324.5,102.1 329,95.3 333.5,88.3" fill="none" stroke="#F8766D" stroke-width="1.0" stroke-linejoin="round"/>
<path d="M193.9,188.7 198.4,182.5 202.9,176.5 207.4,170.5 211.9,164.6 216.4,158.8 220.9,153.2 225.4,147.8 230,142.7 234.5,138 239,133.8 243.5,130.1 248,127 252.5,124.6 257,123 261.5,122 266,121.9 270.5,122.5 275,123.6 279.5,124.9 284,126.1 288.5,127 293,127.2 297.5,126.2 302,123.7 306.5,119.2 311,112.3 315.5,102.8 320,91.1 324.5,77.8 329,63.3 333.5,48.3" fill="none" stroke="#F8766D" stroke-width="1.0" stroke-linejoin="round"/>
<path d="M193.9,109.4 194.4,109.8 194.8,110.1 195.2,110.5 195.7,110.8 196.1,111.2 196.6,111.5 197,111.9 197.4,112.2 197.9,112.6 198.3,113 198.7,113.4 199.2,113.7 199.6,114.1 200.1,114.5 200.5,114.9 200.9,115.3 201.4,115.8 201.8,116.2 202.3,116.6 202.7,117.1 203.1,117.5 203.6,118 204,118.4 204.5,118.9 204.9,119.3 205.3,119.8 205.8,120.3 206.2,120.7 206.6,121.1 207.1,121.6 207.5,122 208,122.4 208.4,122.8 208.8,123.2 209.3,123.5 209.7,123.9 210.2,124.2 210.6,124.5 211,124.8 211.5,125.1 211.9,125.4 212.3,125.7 212.8,126 213.2,126.2 213.7,126.5 214.1,126.8 214.5,127 215,127.3 215.4,127.5" fill="none" stroke="#F8766D" stroke-width="1.0" stroke-linejoin="round"/>
<path d="M193.9,168.3 196.8,164.8 199.6,161.4 202.5,158 205.3,154.6 208.2,151.1 211,147.7 213.9,144.2 216.7,140.6 219.6,137 222.4,133.4 225.3,129.8 228.1,126.2 231,122.8 233.8,119.4 236.7,116.2 239.5,113.3 242.4,110.7 245.2,108.3 248.1,106.4 250.9,104.9 253.8,103.8 256.6,103.2 259.5,103.2 262.3,103.7 265.2,104.6 268,106 270.9,108 273.7,110.3 276.6,112.8 279.4,115.3 282.3,117.7 285.1,119.7 288,121.2 290.8,122.4 293.7,123.1 296.5,123.5 299.4,123.6 302.2,123.3 305,122.7 307.9,121.7 310.7,120.5 313.6,118.8 316.4,116.7 319.3,114.2 322.1,111.3 325,107.8 327.8,104 330.7,100 333.5,95.8" fill="none" stroke="#F8766D" stroke-width="1.0" stroke-linejoin="round"/>
<path d="M193.9,159.2 196.8,156.3 199.6,153.4 202.5,150.5 205.3,147.7 208.2,144.9 211,142.2 213.9,139.6 216.7,137.1 219.6,134.6 222.4,132.3 225.3,130.1 228.1,128 231,126 233.8,124 236.7,122.2 239.5,120.4 242.4,118.6 245.2,116.9 248.1,115.4 250.9,114.2 253.8,113.5 256.6,113.5 259.5,114.3 262.3,116 265.2,118.3 268,121 270.9,124 273.7,127 276.6,129.8 279.4,132.3 282.3,134.4 285.1,136.1 288,137.4 290.8,138.3 293.7,138.8 296.5,138.8 299.4,138.3 302.2,137.2 305,135.3 307.9,132.5 310.7,128.6 313.6,123.6 316.4,117.3 319.3,110.1 322.1,101.9 325,93.1 327.8,83.7 330.7,74 333.5,64.2" fill="none" stroke="#F8766D" stroke-width="1.0" stroke-linejoin="round"/>
<path d="M193.9,143.4 196.8,142.6 199.6,141.8 202.5,141 205.3,140 208.2,138.9 211,137.6 213.9,136.1 216.7,134.4 219.6,132.3 222.4,130 225.3,127.4 228.1,124.7 231,122 233.8,119.4 236.7,117 239.5,114.9 242.4,113.2 245.2,112.1 248.1,111.6 250.9,111.9 253.8,112.9 256.6,114.6 259.5,116.6 262.3,119 265.2,121.5 268,124.1 270.9,126.6 273.7,128.8 276.6,130.7 279.4,132.3 282.3,133.5 285.1,134.3 288,134.6 290.8,134.6 293.7,134 296.5,132.9 299.4,131.4 302.2,129.4 305,127 307.9,124.2 310.7,121 313.6,117.3 316.4,113.3 319.3,109 322.1,104.4 325,99.6 327.8,94.7 330.7,89.6 333.5,84.5" fill="none" stroke="#F8766D" stroke-width="1.0" stroke-linejoin="round"/>
<path d="M193.9,172.8 196.8,169.5 199.6,166.2 202.5,162.9 205.3,159.7 208.2,156.7 211,153.7 213.9,150.9 216.7,148.3 219.6,145.9 222.4,143.7 225.3,141.8 228.1,139.9 231,138.3 233.8,136.7 236.7,135.2 239.5,133.7 242.4,132.2 245.2,130.6 248.1,129 250.9,127.4 253.8,125.7 256.6,124 259.5,122.2 262.3,120.4 265.2,118.5 268,116.6 270.9,114.7 273.7,112.8 276.6,110.9 279.4,109.2 282.3,107.6 285.1,106.1 288,104.8 290.8,103.8 293.7,102.8 296.5,102 299.4,101.1 302.2,100.1 305,98.9 307.9,97.4 310.7,95.6 313.6,93.5 316.4,90.9 319.3,88.1 322.1,84.9 325,81.6 327.8,78.1 330.7,74.6 333.5,70.9" fill="none" stroke="#F8766D" stroke-width="1.0" stroke-linejoin="round"/>
<path d="M193.9,175 196.8,173.5 199.6,171.9 202.5,170.3 205.3,168.7 208.2,167 211,165.2 213.9,163.4 216.7,161.5 219.6,159.5 222.4,157.3 225.3,155.2 228.1,152.9 231,150.8 233.8,148.7 236.7,146.7 239.5,145 242.4,143.5 245.2,142.2 248.1,141.3 250.9,140.6 253.8,140 256.6,139.6 259.5,139.3 262.3,139.1 265.2,138.8 268,138.6 270.9,138.3 273.7,138 276.6,137.7 279.4,137.4 282.3,137.1 285.1,136.8 288,136.6 290.8,136.3 293.7,136.1 296.5,135.9 299.4,135.7 302.2,135.5 305,135.1 307.9,134.7 310.7,134.3 313.6,133.7 316.4,133 319.3,132.2 322.1,131.3 325,130.4 327.8,129.5 330.7,128.5 333.5,127.5" fill="none" stroke="#F8766D" stroke-width="1.0" stroke-linejoin="round"/>
<path d="M193.9,140 196.8,140.2 199.6,140.4 202.5,140.6 205.3,140.7 208.2,140.9 211,141 213.9,141.1 216.7,141.1 219.6,141.1 222.4,141 225.3,140.9 228.1,140.6 231,140.2 233.8,139.7 236.7,138.9 239.5,137.9 242.4,136.7 245.2,135.1 248.1,133.4 250.9,131.4 253.8,129.3 256.6,127.2 259.5,125 262.3,122.8 265.2,120.8 268,118.8 270.9,117.1 273.7,115.5 276.6,114 279.4,112.8 282.3,111.8 285.1,111.1 288,110.5 290.8,110.2 293.7,110.2 296.5,110.3 299.4,110.5 302.2,110.8 305,111.1 307.9,111.4 310.7,111.7 313.6,111.9 316.4,112 319.3,112.1 322.1,112 325,112 327.8,111.9 330.7,111.8 333.5,111.7" fill="none" stroke="#00BFC4" stroke-width="1.0" stroke-linejoin="round"/>
<path d="M193.9,158.1 196.8,158.6 199.6,159 202.5,159.3 205.3,159.4 208.2,159.3 211,158.7 213.9,157.9 216.7,156.8 219.6,155.4 222.4,153.8 225.3,152 228.1,150.1 231,148.1 233.8,146 236.7,143.9 239.5,141.7 242.4,139.6 245.2,137.6 248.1,135.6 250.9,133.8 253.8,132.1 256.6,130.6 259.5,129.3 262.3,128.1 265.2,127.1 268,126.2 270.9,125.4 273.7,124.7 276.6,124.1 279.4,123.6 282.3,123.1 285.1,122.6 288,122.3 290.8,121.9 293.7,121.6 296.5,121.4 299.4,121.2 302.2,121 305,120.9 307.9,121.1 310.7,121.4 313.6,122.1 316.4,123.1 319.3,124.5 322.1,126.2 325,128.2 327.8,130.5 330.7,132.9 333.5,135.4" fill="none" stroke="#00BFC4" stroke-width="1.0" stroke-linejoin="round"/>
<path d="M193.9,130.2 196.8,129.7 199.6,129.2 202.5,128.7 205.3,128.2 208.2,127.6 211,127 213.9,126.4 216.7,125.8 219.6,125.1 222.4,124.5 225.3,124 228.1,123.5 231,123 233.8,122.7 236.7,122.4 239.5,122.2 242.4,122 245.2,121.9 248.1,121.9 250.9,121.9 253.8,121.9 256.6,121.9 259.5,121.9 262.3,121.9 265.2,121.8 268,121.7 270.9,121.5 273.7,121.2 276.6,120.7 279.4,120.1 282.3,119.4 285.1,118.6 288,117.7 290.8,116.7 293.7,115.8 296.5,114.8 299.4,113.9 302.2,113 305,112.1 307.9,111.2 310.7,110.2 313.6,109.1 316.4,107.8 319.3,106.4 322.1,104.7 325,102.7 327.8,100.5 330.7,98.2 333.5,95.8" fill="none" stroke="#00BFC4" stroke-width="1.15" stroke-dasharray="2.7,1.8" stroke-linejoin="round"/>
<path d="M193.9,141.1 196.8,141.1 199.6,141.1 202.5,141.1 205.3,141.1 208.2,141 211,140.9 213.9,140.7 216.7,140.4 219.6,140 222.4,139.5 225.3,139 228.1,138.3 231,137.6 233.8,136.9 236.7,136.1 239.5,135.2 242.4,134.4 245.2,133.5 248.1,132.7 250.9,131.8 253.8,131 256.6,130.1 259.5,129.2 262.3,128.4 265.2,127.5 268,126.7 270.9,125.8 273.7,124.9 276.6,124.1 279.4,123.2 282.3,122.4 285.1,121.5 288,120.7 290.8,119.9 293.7,119 296.5,118.3 299.4,117.5 302.2,116.8 305,116.1 307.9,115.5 310.7,115 313.6,114.6 316.4,114.2 319.3,113.9 322.1,113.6 325,113.4 327.8,113.2 330.7,113 333.5,112.8" fill="none" stroke="#00BFC4" stroke-width="1.0" stroke-linejoin="round"/>
<text x="196.2" y="49.8" font-size="6.6" text-anchor="start" fill="#F8766D" font-weight="normal" >ge n=31</text>
<text x="196.2" y="57.1" font-size="6.6" text-anchor="start" fill="#00BFC4" font-weight="normal" >mt n=4</text>
</g>
<rect x="186.3" y="25.5" width="154.1" height="12" fill="#D9D9D9" stroke="#7a7a7a" stroke-width="0.9"/>
<text x="263.35" y="34" font-size="6.8" text-anchor="middle" fill="#1A1A1A" font-weight="normal" >B</text>
<rect x="186.3" y="37.5" width="154.1" height="151.9" fill="none" stroke="#7a7a7a" stroke-width="0.9"/>
<line x1="184" x2="186.3" y1="157.5" y2="157.5" stroke="#7a7a7a" stroke-width="0.9"/>
<text x="182.9" y="159.9" font-size="6.8" text-anchor="end" fill="#4D4D4D" font-weight="normal" >0.75</text>
<line x1="184" x2="186.3" y1="123" y2="123" stroke="#7a7a7a" stroke-width="0.9"/>
<text x="182.9" y="125.4" font-size="6.8" text-anchor="end" fill="#4D4D4D" font-weight="normal" >1.00</text>
<line x1="184" x2="186.3" y1="88.5" y2="88.5" stroke="#7a7a7a" stroke-width="0.9"/>
<text x="182.9" y="90.9" font-size="6.8" text-anchor="end" fill="#4D4D4D" font-weight="normal" >1.25</text>
<line x1="184" x2="186.3" y1="54" y2="54" stroke="#7a7a7a" stroke-width="0.9"/>
<text x="182.9" y="56.4" font-size="6.8" text-anchor="end" fill="#4D4D4D" font-weight="normal" >1.50</text>
<rect x="360.5" y="37.5" width="153.8" height="151.9" fill="#fff"/>
<g clip-path="url(#clipA2)">
<line x1="360.5" x2="514.3" y1="173.38" y2="173.38" stroke="#EBEBEB" stroke-width="0.5"/>
<line x1="360.5" x2="514.3" y1="134.62" y2="134.62" stroke="#EBEBEB" stroke-width="0.5"/>
<line x1="360.5" x2="514.3" y1="95.88" y2="95.88" stroke="#EBEBEB" stroke-width="0.5"/>
<line x1="360.5" x2="514.3" y1="57.12" y2="57.12" stroke="#EBEBEB" stroke-width="0.5"/>
<line x1="378.76" x2="378.76" y1="37.5" y2="189.4" stroke="#EBEBEB" stroke-width="0.5"/>
<line x1="407.48" x2="407.48" y1="37.5" y2="189.4" stroke="#EBEBEB" stroke-width="0.5"/>
<line x1="436.2" x2="436.2" y1="37.5" y2="189.4" stroke="#EBEBEB" stroke-width="0.5"/>
<line x1="464.92" x2="464.92" y1="37.5" y2="189.4" stroke="#EBEBEB" stroke-width="0.5"/>
<line x1="493.64" x2="493.64" y1="37.5" y2="189.4" stroke="#EBEBEB" stroke-width="0.5"/>
<line x1="360.5" x2="514.3" y1="154" y2="154" stroke="#EBEBEB" stroke-width="0.9"/>
<line x1="360.5" x2="514.3" y1="115.25" y2="115.25" stroke="#EBEBEB" stroke-width="0.9"/>
<line x1="360.5" x2="514.3" y1="76.5" y2="76.5" stroke="#EBEBEB" stroke-width="0.9"/>
<line x1="364.4" x2="364.4" y1="37.5" y2="189.4" stroke="#EBEBEB" stroke-width="0.9"/>
<line x1="393.12" x2="393.12" y1="37.5" y2="189.4" stroke="#EBEBEB" stroke-width="0.9"/>
<line x1="421.84" x2="421.84" y1="37.5" y2="189.4" stroke="#EBEBEB" stroke-width="0.9"/>
<line x1="450.56" x2="450.56" y1="37.5" y2="189.4" stroke="#EBEBEB" stroke-width="0.9"/>
<line x1="479.28" x2="479.28" y1="37.5" y2="189.4" stroke="#EBEBEB" stroke-width="0.9"/>
<line x1="508" x2="508" y1="37.5" y2="189.4" stroke="#EBEBEB" stroke-width="0.9"/>
<path d="M367,143.6 371.5,136.1 376.1,128.6 380.6,120.9 385.1,113 389.6,104.7 394.2,96.5 398.7,88.9 403.2,82.5 407.7,78.2 412.3,75.8 416.8,75.1 421.3,75.8 425.9,77.4 430.4,79.7 434.9,82.8 439.4,86.6 444,91.1 448.5,96.3 453,101.7 457.5,107.4 462.1,113.1 466.6,118.4 471.1,122.7 475.6,125.3 480.2,125.5 484.7,122.8 489.2,117.5 493.7,109.9 498.3,100.5 502.8,89.9 507.3,78.6" fill="none" stroke="#DFDFDF" stroke-width="0.7" stroke-linejoin="round"/>
<path d="M367,158.6 371.5,152 376.1,145.2 380.6,137.8 385.1,129.7 389.6,120.5 394.2,110.6 398.7,100.8 403.2,91.8 407.7,84.5 412.3,79.1 416.8,75.5 421.3,73.6 425.9,73.3 430.4,74.6 434.9,77.5 439.4,81.9 444,87.8 448.5,94.9 453,102.6 457.5,110.1 462.1,116.8 466.6,122.1 471.1,126 475.6,128.8 480.2,130.4 484.7,131.2 489.2,131.6 493.7,132.3 498.3,133.7 502.8,136 507.3,138.7" fill="none" stroke="#DFDFDF" stroke-width="0.7" stroke-linejoin="round"/>
<path d="M367,122.5 371.5,120 376.1,117.4 380.6,114.4 385.1,110.9 389.6,106.8 394.2,102.3 398.7,98 403.2,94.7 407.7,92.8 412.3,92.3 416.8,92.9 421.3,94 425.9,95.1 430.4,96.2 434.9,97.6 439.4,99.6 444,102.5 448.5,106.4 453,111 457.5,115.9 462.1,120.8 466.6,125.4 471.1,129.3 475.6,132 480.2,133.3 484.7,133 489.2,131.6 493.7,130.1 498.3,129.3 502.8,129.3 507.3,129.8" fill="none" stroke="#DFDFDF" stroke-width="0.7" stroke-linejoin="round"/>
<path d="M367,146.5 371.5,140 376.1,133.3 380.6,126.3 385.1,118.6 389.6,110.2 394.2,101.3 398.7,92.6 403.2,84.8 407.7,78.6 412.3,74.3 416.8,71.6 421.3,70.6 425.9,71.2 430.4,73 434.9,76 439.4,79.9 444,84.3 448.5,89.2 453,94.4 457.5,99.9 462.1,105.6 466.6,111.3 471.1,116.3 475.6,119.9 480.2,121.3 484.7,120 489.2,116.8 493.7,112.3 498.3,107.5 502.8,102.8 507.3,98.1" fill="none" stroke="#DFDFDF" stroke-width="0.7" stroke-linejoin="round"/>
<path d="M367,127.4 371.5,124.5 376.1,121.3 380.6,117.7 385.1,113.4 389.6,108.2 394.2,102.3 398.7,96.7 403.2,91.9 407.7,88.7 412.3,87.3 416.8,87.4 421.3,88.4 425.9,90.2 430.4,92.4 434.9,94.9 439.4,97.8 444,100.9 448.5,104.1 453,107.4 457.5,110.8 462.1,114.2 466.6,117.6 471.1,120.6 475.6,123.1 480.2,124.8 484.7,125.5 489.2,124.9 493.7,122.9 498.3,119.3 502.8,114.5 507.3,109" fill="none" stroke="#DFDFDF" stroke-width="0.7" stroke-linejoin="round"/>
<path d="M367,158.2 371.5,150.5 376.1,142.8 380.6,135 385.1,127.1 389.6,118.9 394.2,110.8 398.7,103 403.2,95.8 407.7,89.5 412.3,84.3 416.8,80.4 421.3,77.9 425.9,77.1 430.4,77.8 434.9,80.1 439.4,83.8 444,88.9 448.5,95.1 453,101.9 457.5,108.9 462.1,115.5 466.6,121.4 471.1,126.4 475.6,130.2 480.2,132.8 484.7,134.1 489.2,135 493.7,136.5 498.3,139.8 502.8,144.7 507.3,150.4" fill="none" stroke="#DFDFDF" stroke-width="0.7" stroke-linejoin="round"/>
<path d="M367,118.1 371.5,113.2 376.1,108.6 380.6,104.4 385.1,100.8 389.6,98.2 394.2,96.4 398.7,95.3 403.2,94.5 407.7,94 412.3,93.7 416.8,93.7 421.3,94.1 425.9,95.1 430.4,96.7 434.9,98.8 439.4,101.5 444,104.6 448.5,108 453,111.7 457.5,115.6 462.1,119.5 466.6,123.3 471.1,126.8 475.6,129.5 480.2,131.2 484.7,131.9 489.2,132 493.7,132.5 498.3,134 502.8,136.8 507.3,140.1" fill="none" stroke="#DFDFDF" stroke-width="0.7" stroke-linejoin="round"/>
<path d="M367,159.2 371.5,152.5 376.1,145.6 380.6,138.5 385.1,130.9 389.6,122.8 394.2,114.4 398.7,105.9 403.2,97.8 407.7,90.7 412.3,84.7 416.8,80.5 421.3,78.3 425.9,78.4 430.4,80.8 434.9,84.4 439.4,88.5 444,92.2 448.5,95.4 453,98.8 457.5,103 462.1,108.6 466.6,115.9 471.1,123.7 475.6,130.5 480.2,135.1 484.7,136.7 489.2,137.1 493.7,138.6 498.3,143.6 502.8,152 507.3,162.2" fill="none" stroke="#DFDFDF" stroke-width="0.7" stroke-linejoin="round"/>
<path d="M367,162.3 371.5,156 376.1,149.6 380.6,142.6 385.1,134.9 389.6,126.2 394.2,116.8 398.7,107.4 403.2,98.7 407.7,91.3 412.3,85.6 416.8,81.8 421.3,79.8 425.9,79.9 430.4,81.7 434.9,84.8 439.4,88.8 444,93.3 448.5,98 453,103.1 457.5,108.5 462.1,114.4 466.6,120.8 471.1,126.7 475.6,131.5 480.2,134.3 484.7,134.8 489.2,134.6 493.7,135.7 498.3,140.1 502.8,147.7 507.3,156.9" fill="none" stroke="#DFDFDF" stroke-width="0.7" stroke-linejoin="round"/>
<path d="M367,127.6 371.5,124.3 376.1,120.9 380.6,117 385.1,112.5 389.6,107.3 394.2,101.6 398.7,96.3 403.2,92.2 407.7,90.1 412.3,90 416.8,91.2 421.3,93.1 425.9,95.1 430.4,96.8 434.9,98.6 439.4,100.6 444,102.9 448.5,105.8 453,108.9 457.5,112.4 462.1,116.1 466.6,119.9 471.1,123.5 475.6,126.4 480.2,128.4 484.7,129.1 489.2,128.4 493.7,126.4 498.3,123.1 502.8,118.7 507.3,113.7" fill="none" stroke="#DFDFDF" stroke-width="0.7" stroke-linejoin="round"/>
<path d="M367,141.1 371.5,136.7 376.1,132.2 380.6,127.7 385.1,123.1 389.6,118.3 394.2,113.5 398.7,108.9 403.2,104.6 407.7,100.9 412.3,98.1 416.8,96.3 421.3,95.8 425.9,96.9 430.4,99.4 434.9,102.6 439.4,106 444,108.8 448.5,111.1 453,113.5 457.5,116.5 462.1,120.6 466.6,126.1 471.1,132.2 475.6,137.9 480.2,142.1 484.7,144.5 489.2,146.1 493.7,148.6 498.3,153.4 502.8,160.6 507.3,169.1" fill="none" stroke="#DFDFDF" stroke-width="0.7" stroke-linejoin="round"/>
<path d="M367,159.9 371.5,153.2 376.1,146.4 380.6,139.4 385.1,132.3 389.6,124.8 394.2,117.1 398.7,109.2 403.2,101.4 407.7,93.8 412.3,86.8 416.8,81.3 421.3,77.8 425.9,77 430.4,79 434.9,83.1 439.4,88.5 444,94.6 448.5,100.9 453,107.2 457.5,113.1 462.1,118.5 466.6,123.1 471.1,126.9 475.6,129.8 480.2,132 484.7,133.5 489.2,135.5 493.7,139.2 498.3,145.7 502.8,155 507.3,165.6" fill="none" stroke="#DFDFDF" stroke-width="0.7" stroke-linejoin="round"/>
<path d="M367,165 371.5,155.8 376.1,146.8 380.6,137.8 385.1,129 389.6,120.4 394.2,112.2 398.7,104.3 403.2,97.1 407.7,90.6 412.3,85 416.8,80.7 421.3,78 425.9,77.1 430.4,78 434.9,80.4 439.4,83.9 444,88.1 448.5,92.9 453,98.3 457.5,104.2 462.1,110.7 466.6,117.6 471.1,124.1 475.6,129.3 480.2,132.4 484.7,132.8 489.2,132.1 493.7,132 498.3,134.2 502.8,138.8 507.3,144.8" fill="none" stroke="#DFDFDF" stroke-width="0.7" stroke-linejoin="round"/>
<path d="M367,141.3 371.5,134.3 376.1,127.1 380.6,119.7 385.1,111.9 389.6,103.7 394.2,95.4 398.7,87.5 403.2,80.8 407.7,75.9 412.3,73 416.8,72 421.3,72.7 425.9,74.8 430.4,78.2 434.9,82.4 439.4,86.9 444,91.4 448.5,95.8 453,100.2 457.5,105 462.1,110.2 466.6,115.9 471.1,121.2 475.6,125.2 480.2,126.7 484.7,125.1 489.2,119.9 493.7,111.1 498.3,98.6 502.8,83.1 507.3,66" fill="none" stroke="#DFDFDF" stroke-width="0.7" stroke-linejoin="round"/>
<path d="M367,137 371.5,129.5 376.1,121.9 380.6,114.3 385.1,106.6 389.6,98.6 394.2,90.9 398.7,83.9 403.2,78.2 407.7,74.5 412.3,72.8 416.8,72.8 421.3,74.2 425.9,76.6 430.4,79.8 434.9,83.9 439.4,88.9 444,94.8 448.5,101.4 453,108.1 457.5,114.2 462.1,119.3 466.6,122.9 471.1,124.9 475.6,125.5 480.2,124.8 484.7,122.6 489.2,118.1 493.7,110.1 498.3,97.6 502.8,81.2 507.3,62.8" fill="none" stroke="#DFDFDF" stroke-width="0.7" stroke-linejoin="round"/>
<path d="M367,155.5 371.5,149.1 376.1,142.4 380.6,135.2 385.1,127.2 389.6,118.3 394.2,108.8 398.7,99.3 403.2,90.7 407.7,83.8 412.3,78.9 416.8,75.9 421.3,74.7 425.9,75.3 430.4,77.5 434.9,81 439.4,85.2 444,90.1 448.5,95.1 453,100.4 457.5,105.7 462.1,111 466.6,116 471.1,120.5 475.6,124.1 480.2,126.4 484.7,127.2 489.2,126.8 493.7,125.4 498.3,123.4 502.8,120.9 507.3,118.1" fill="none" stroke="#DFDFDF" stroke-width="0.7" stroke-linejoin="round"/>
<path d="M367,137.9 371.5,131.4 376.1,124.9 380.6,118 385.1,110.8 389.6,103.1 394.2,95.2 398.7,87.7 403.2,81.4 407.7,76.8 412.3,74.2 416.8,73.4 421.3,74.2 425.9,76.3 430.4,79.6 434.9,83.6 439.4,88.2 444,93 448.5,97.9 453,102.8 457.5,107.6 462.1,112.4 466.6,116.9 471.1,120.9 475.6,123.9 480.2,125.5 484.7,125 489.2,121.5 493.7,113.4 498.3,99.7 502.8,81.1 507.3,60.1" fill="none" stroke="#DFDFDF" stroke-width="0.7" stroke-linejoin="round"/>
<path d="M367,113.5 371.5,109.5 376.1,105.6 380.6,102 385.1,98.7 389.6,95.8 394.2,93.4 398.7,91.6 403.2,90.3 407.7,89.7 412.3,89.6 416.8,90.1 421.3,91.2 425.9,92.8 430.4,94.8 434.9,97.3 439.4,100.3 444,103.6 448.5,107.4 453,111.5 457.5,115.8 462.1,120.5 466.6,125.1 471.1,129.5 475.6,132.9 480.2,135 484.7,135.5 489.2,135.3 493.7,135.5 498.3,137.2 502.8,140.5 507.3,144.7" fill="none" stroke="#DFDFDF" stroke-width="0.7" stroke-linejoin="round"/>
<path d="M367,156.8 371.5,150.3 376.1,143.6 380.6,136.3 385.1,128.1 389.6,118.7 394.2,108.6 398.7,98.6 403.2,89.5 407.7,82.3 412.3,77.1 416.8,73.9 421.3,72.4 425.9,72.5 430.4,74 434.9,77 439.4,81.6 444,87.8 448.5,95.2 453,103.1 457.5,110.7 462.1,117.5 466.6,122.8 471.1,126.5 475.6,129 480.2,130.3 484.7,130.6 489.2,130.6 493.7,131.1 498.3,132.9 502.8,135.8 507.3,139.4" fill="none" stroke="#DFDFDF" stroke-width="0.7" stroke-linejoin="round"/>
<path d="M367,136.8 371.5,130.1 376.1,123.4 380.6,116.4 385.1,109.2 389.6,101.7 394.2,94 398.7,86.9 403.2,80.8 407.7,76.4 412.3,73.7 416.8,72.7 421.3,73.3 425.9,75.2 430.4,78.3 434.9,82.3 439.4,87 444,92.1 448.5,97.3 453,102.5 457.5,107.6 462.1,112.3 466.6,116.4 471.1,119.9 475.6,122.5 480.2,124.2 484.7,124.4 489.2,121.9 493.7,115.2 498.3,102.8 502.8,85.3 507.3,65.3" fill="none" stroke="#DFDFDF" stroke-width="0.7" stroke-linejoin="round"/>
<path d="M367,133.1 371.5,128 376.1,122.9 380.6,117.9 385.1,112.9 389.6,108 394.2,103.4 398.7,99.2 403.2,95.6 407.7,93 412.3,91.2 416.8,90.3 421.3,89.9 425.9,90.1 430.4,90.8 434.9,92.4 439.4,95.1 444,99.1 448.5,104.1 453,109.7 457.5,115.3 462.1,120.1 466.6,123.8 471.1,126.3 475.6,127.7 480.2,128 484.7,127.4 489.2,125.9 493.7,123.4 498.3,120.1 502.8,116 507.3,111.6" fill="none" stroke="#DFDFDF" stroke-width="0.7" stroke-linejoin="round"/>
<path d="M367,170.8 371.5,164.6 376.1,158.2 380.6,151.4 385.1,144.1 389.6,135.9 394.2,127.3 398.7,118.7 403.2,110.8 407.7,104.3 412.3,99.2 416.8,95.6 421.3,93.4 425.9,92.3 430.4,92.4 434.9,93.7 439.4,96.3 444,100.2 448.5,105.3 453,111.1 457.5,117.3 462.1,123.5 466.6,129.2 471.1,134.3 475.6,138.5 480.2,141.4 484.7,143.1 489.2,145.1 493.7,149 498.3,156.1 502.8,166.6 507.3,178.7" fill="none" stroke="#DFDFDF" stroke-width="0.7" stroke-linejoin="round"/>
<path d="M367,140 371.5,132.3 376.1,124.6 380.6,117.1 385.1,109.6 389.6,102.3 394.2,95.3 398.7,89.1 403.2,83.9 407.7,80 412.3,77.6 416.8,76.3 421.3,76.2 425.9,76.8 430.4,78.3 434.9,80.7 439.4,84.1 444,88.6 448.5,93.9 453,99.7 457.5,105.5 462.1,111 466.6,115.6 471.1,119.1 475.6,121.2 480.2,121.4 484.7,119.5 489.2,115.2 493.7,108.1 498.3,98 502.8,85.2 507.3,71.2" fill="none" stroke="#DFDFDF" stroke-width="0.7" stroke-linejoin="round"/>
<path d="M367,127.9 371.5,125 376.1,121.8 380.6,118.1 385.1,113.6 389.6,108.2 394.2,102 398.7,96.1 403.2,91.4 407.7,88.6 412.3,87.8 416.8,88.5 421.3,90 425.9,91.6 430.4,93.2 434.9,95.3 439.4,98.1 444,102.1 448.5,107 453,112.1 457.5,116.6 462.1,120 466.6,121.6 471.1,122 475.6,122 480.2,122.5 484.7,123.7 489.2,125 493.7,125.4 498.3,124 502.8,120.8 507.3,116.8" fill="none" stroke="#DFDFDF" stroke-width="0.7" stroke-linejoin="round"/>
<path d="M367,111.3 371.5,107.3 376.1,103.4 380.6,99.7 385.1,96.3 389.6,93.4 394.2,90.9 398.7,89.1 403.2,88 407.7,87.9 412.3,88.6 416.8,90 421.3,92 425.9,94.6 430.4,97.4 434.9,100.4 439.4,103.4 444,106.2 448.5,109 453,111.9 457.5,115.4 462.1,119.7 466.6,125 471.1,130.5 475.6,135.4 480.2,138.6 484.7,139.8 489.2,139.9 493.7,140.1 498.3,141.7 502.8,144.7 507.3,148.5" fill="none" stroke="#DFDFDF" stroke-width="0.7" stroke-linejoin="round"/>
<path d="M367,152.7 371.5,144.5 376.1,136.3 380.6,128.3 385.1,120.5 389.6,113 394.2,105.7 398.7,98.7 403.2,91.9 407.7,85.4 412.3,79.4 416.8,74.8 421.3,72.3 425.9,72.7 430.4,75.8 434.9,80.8 439.4,86.6 444,92.5 448.5,98 453,103.2 457.5,108.2 462.1,113.1 466.6,117.8 471.1,121.8 475.6,124.7 480.2,125.9 484.7,125.2 489.2,123.2 493.7,120.9 498.3,119.1 502.8,118.1 507.3,117.5" fill="none" stroke="#DFDFDF" stroke-width="0.7" stroke-linejoin="round"/>
<path d="M367,132.1 371.5,128.2 376.1,124.3 380.6,119.9 385.1,115 389.6,109.5 394.2,103.5 398.7,97.6 403.2,92.6 407.7,88.9 412.3,86.8 416.8,86 421.3,86.3 425.9,87.5 430.4,89.4 434.9,92 439.4,95.2 444,98.9 448.5,103 453,107.4 457.5,111.8 462.1,116.3 466.6,120.4 471.1,123.8 475.6,126.1 480.2,126.6 484.7,125.2 489.2,122.2 493.7,118.3 498.3,114.2 502.8,110 507.3,105.8" fill="none" stroke="#DFDFDF" stroke-width="0.7" stroke-linejoin="round"/>
<path d="M367,141.7 371.5,135 376.1,128.1 380.6,120.8 385.1,113 389.6,104.6 394.2,95.8 398.7,87.6 403.2,80.7 407.7,75.9 412.3,73.4 416.8,72.6 421.3,73 425.9,74.1 430.4,75.6 434.9,77.8 439.4,81 444,85.2 448.5,90.4 453,96.2 457.5,102.4 462.1,108.5 466.6,114.2 471.1,119.1 475.6,122.8 480.2,124.7 484.7,124.5 489.2,121.3 493.7,114.7 498.3,103.8 502.8,89.3 507.3,73.1" fill="none" stroke="#DFDFDF" stroke-width="0.7" stroke-linejoin="round"/>
<path d="M367,146.2 371.5,139 376.1,131.8 380.6,124.2 385.1,116.3 389.6,107.8 394.2,99.2 398.7,90.8 403.2,83.5 407.7,77.7 412.3,73.7 416.8,71.5 421.3,71 425.9,72.1 430.4,74.6 434.9,78.3 439.4,82.8 444,87.8 448.5,93.2 453,98.7 457.5,104.2 462.1,109.6 466.6,114.6 471.1,118.9 475.6,122 480.2,123.6 484.7,123.4 489.2,121.1 493.7,116.7 498.3,110.1 502.8,101.8 507.3,92.6" fill="none" stroke="#DFDFDF" stroke-width="0.7" stroke-linejoin="round"/>
<path d="M367,175.3 371.5,168.3 376.1,161.1 380.6,153.4 385.1,145.3 389.6,136.4 394.2,127 398.7,117.8 403.2,109.5 407.7,102.8 412.3,97.8 416.8,94.5 421.3,92.6 425.9,92.1 430.4,92.7 434.9,94.5 439.4,97.2 444,100.8 448.5,105.1 453,110.1 457.5,115.7 462.1,121.7 466.6,127.9 471.1,133.9 475.6,139.3 480.2,143.3 484.7,146.1 489.2,148.6 493.7,152.3 498.3,158.8 502.8,167.8 507.3,178.2" fill="none" stroke="#DFDFDF" stroke-width="0.7" stroke-linejoin="round"/>
<path d="M367,126 371.5,121.7 376.1,117.5 380.6,113.5 385.1,109.9 389.6,106.8 394.2,104.1 398.7,101.7 403.2,99.7 407.7,97.8 412.3,96 416.8,94.7 421.3,93.7 425.9,93.4 430.4,93.9 434.9,95.2 439.4,97.4 444,100.7 448.5,104.9 453,109.5 457.5,114 462.1,118.2 466.6,121.6 471.1,124.3 475.6,126.4 480.2,128.3 484.7,129.9 489.2,131 493.7,131.2 498.3,130.5 502.8,128.8 507.3,126.6" fill="none" stroke="#DFDFDF" stroke-width="0.7" stroke-linejoin="round"/>
<path d="M367,138.1 371.5,131.2 376.1,124.3 380.6,117.4 385.1,110.8 389.6,104.4 394.2,98.3 398.7,92.8 403.2,88.1 407.7,84.2 412.3,81.5 416.8,80 421.3,80 425.9,81.7 430.4,84.9 434.9,89.1 439.4,94.1 444,99.3 448.5,104.5 453,109.6 457.5,114.6 462.1,119.5 466.6,123.9 471.1,127.4 475.6,129.5 480.2,129.5 484.7,127.2 489.2,122.4 493.7,115.6 498.3,107 502.8,97 507.3,86.4" fill="none" stroke="#DFDFDF" stroke-width="0.7" stroke-linejoin="round"/>
<path d="M367,164.9 371.5,155.7 376.1,146.5 380.6,137.2 385.1,128 389.6,118.8 394.2,109.8 398.7,101.3 403.2,93.9 407.7,87.7 412.3,83.1 416.8,79.8 421.3,77.8 425.9,77 430.4,77.5 434.9,79.1 439.4,82 444,86.2 448.5,91.5 453,97.8 457.5,104.9 462.1,112.5 466.6,120.3 471.1,127.5 475.6,133.2 480.2,136.6 484.7,137.1 489.2,136.5 493.7,136.4 498.3,138.9 502.8,143.9 507.3,150.3" fill="none" stroke="#DFDFDF" stroke-width="0.7" stroke-linejoin="round"/>
<path d="M367,122.5 371.5,119.6 376.1,116.7 380.6,113.7 385.1,110.5 389.6,107.1 394.2,103.7 398.7,100.3 403.2,97.2 407.7,94.6 412.3,92.7 416.8,91.5 421.3,91.1 425.9,91.8 430.4,93.4 434.9,95.8 439.4,98.7 444,101.9 448.5,105.5 453,109.3 457.5,113.5 462.1,117.9 466.6,122.6 471.1,127 475.6,130.5 480.2,132.5 484.7,132.6 489.2,131.5 493.7,129.8 498.3,128.2 502.8,126.9 507.3,125.8" fill="none" stroke="#DFDFDF" stroke-width="0.7" stroke-linejoin="round"/>
<path d="M367,134.5 371.5,129.1 376.1,123.5 380.6,117.6 385.1,111.1 389.6,103.8 394.2,96.1 398.7,88.7 403.2,82.3 407.7,77.6 412.3,74.8 416.8,73.9 421.3,74.7 425.9,77.1 430.4,80.8 434.9,85.4 439.4,90.5 444,95.8 448.5,100.9 453,105.8 457.5,110.4 462.1,114.4 466.6,117.9 471.1,120.7 475.6,122.8 480.2,124 484.7,124 489.2,121.2 493.7,114 498.3,100.8 502.8,82.2 507.3,60.9" fill="none" stroke="#DFDFDF" stroke-width="0.7" stroke-linejoin="round"/>
<path d="M367,114.9 371.5,111.4 376.1,108 380.6,105.1 385.1,102.8 389.6,101.2 394.2,100.3 398.7,99.6 403.2,98.6 407.7,96.9 412.3,94.7 416.8,92.9 421.3,92 425.9,92.9 430.4,95.5 434.9,99.1 439.4,103 444,106.5 448.5,109.4 453,112.2 457.5,115.1 462.1,118.5 466.6,122.6 471.1,126.9 475.6,130.8 480.2,133.7 484.7,135.1 489.2,135.5 493.7,135.4 498.3,135.4 502.8,135.7 507.3,136.1" fill="none" stroke="#DFDFDF" stroke-width="0.7" stroke-linejoin="round"/>
<path d="M367,144.4 371.5,137.8 376.1,131.3 380.6,125.2 385.1,119.6 389.6,114.8 394.2,110.6 398.7,107 403.2,103.8 407.7,100.8 412.3,98.2 416.8,96.5 421.3,95.9 425.9,96.9 430.4,99.4 434.9,102.7 439.4,106.2 444,109.5 448.5,112.4 453,115.2 457.5,118.5 462.1,122.5 466.6,127.5 471.1,132.8 475.6,137.7 480.2,141.4 484.7,143.6 489.2,145.3 493.7,147.6 498.3,151.9 502.8,158.2 507.3,165.4" fill="none" stroke="#DFDFDF" stroke-width="0.7" stroke-linejoin="round"/>
<path d="M367,144.8 371.5,136.3 376.1,127.8 380.6,119.6 385.1,111.7 389.6,104.2 394.2,97.3 398.7,91.1 403.2,85.8 407.7,81.4 412.3,78.2 416.8,76.1 421.3,75.5 425.9,76.3 430.4,78.4 434.9,81.7 439.4,85.7 444,90.3 448.5,95.1 453,100.4 457.5,105.9 462.1,111.7 466.6,117.6 471.1,122.9 475.6,126.6 480.2,127.8 484.7,125.7 489.2,120.6 493.7,112.6 498.3,101.9 502.8,89.3 507.3,75.7" fill="none" stroke="#DFDFDF" stroke-width="0.7" stroke-linejoin="round"/>
<path d="M367,133 371.5,128.9 376.1,124.7 380.6,120.3 385.1,115.7 389.6,110.9 394.2,105.9 398.7,101 403.2,96.6 407.7,93 412.3,90.3 416.8,88.8 421.3,88.7 425.9,90.1 430.4,92.9 434.9,96.4 439.4,100.1 444,103.4 448.5,106.2 453,108.8 457.5,111.4 462.1,114.2 466.6,117.4 471.1,120.6 475.6,123.6 480.2,126 484.7,127.3 489.2,127.2 493.7,125.3 498.3,121.1 502.8,115.1 507.3,108.2" fill="none" stroke="#DFDFDF" stroke-width="0.7" stroke-linejoin="round"/>
<path d="M367,113.8 371.5,111.1 376.1,108.3 380.6,105.5 385.1,102.6 389.6,99.6 394.2,96.7 398.7,94.1 403.2,92.2 407.7,91.4 412.3,91.7 416.8,92.9 421.3,94.6 425.9,96.7 430.4,98.9 434.9,101.4 439.4,103.9 444,106.7 448.5,109.6 453,113 457.5,117 462.1,121.9 466.6,127.6 471.1,133.6 475.6,138.9 480.2,142.9 484.7,145 489.2,146.1 493.7,147.2 498.3,149.5 502.8,152.9 507.3,157" fill="none" stroke="#DFDFDF" stroke-width="0.7" stroke-linejoin="round"/>
<path d="M367,105.5 371.5,100.8 376.1,96.4 380.6,92.7 385.1,90.1 389.6,88.8 394.2,88.9 398.7,89.8 403.2,91.2 407.7,92.7 412.3,94 416.8,95.4 421.3,96.7 425.9,98.2 430.4,99.8 434.9,101.7 439.4,104.1 444,107 448.5,110.3 453,114 457.5,117.7 462.1,121.4 466.6,125 471.1,128.3 475.6,131.6 480.2,134.9 484.7,138.3 489.2,141.6 493.7,145 498.3,148.2 502.8,151.2 507.3,154.2" fill="none" stroke="#DFDFDF" stroke-width="0.7" stroke-linejoin="round"/>
<path d="M367,111.7 371.5,107.7 376.1,103.9 380.6,100.6 385.1,97.9 389.6,96.1 394.2,95 398.7,94.5 403.2,94.1 407.7,93.6 412.3,93 416.8,92.7 421.3,93 425.9,94.3 430.4,96.5 434.9,99.3 439.4,102.3 444,105.1 448.5,107.9 453,110.8 457.5,114.2 462.1,118.5 466.6,123.8 471.1,129.4 475.6,134.5 480.2,138.4 484.7,140.6 489.2,141.5 493.7,141.9 498.3,142.3 502.8,142.9 507.3,143.8" fill="none" stroke="#DFDFDF" stroke-width="0.7" stroke-linejoin="round"/>
<path d="M367,154.7 370.2,150.1 373.4,145.4 376.6,140.8 379.8,136.3 383,131.7 386.1,127.2 389.3,122.7 392.5,118.2 395.7,113.8 398.9,109.4 402.1,105.4 405.3,101.7 408.5,98.5 411.7,96 414.8,94.2 418,93.3 421.2,93.3 424.4,94.1 427.6,95.6 430.8,97.6 434,100.1 437.2,102.9 440.4,106 443.5,109.3 446.7,112.8 449.9,116.6 453.1,120.8 456.3,125.5 459.5,130.7 462.7,136.4 465.9,142 469.1,146.3 472.2,148.5 475.4,148.2 478.6,146.7 481.8,144.8 485,143 488.2,140.9 491.4,138 494.6,134 497.8,128.4 500.9,121.4 504.1,113.4 507.3,104.9" fill="none" stroke="#DFDFDF" stroke-width="0.7" stroke-linejoin="round"/>
<path d="M367,83.4 369.9,76.3 372.7,69.9 375.6,64.1 378.5,59.4 381.3,55.7 384.2,52.3 387.1,49.2 389.9,46.8 392.8,45.4 395.6,44.8 398.5,44.5 401.4,44.6 404.2,45.9 407.1,48.2 410,50.7 412.8,53.7 415.7,57.4 418.6,61.5 421.4,66 424.3,71.2 427.1,76.4 430,81.4 432.9,86.2 435.7,91.6 438.6,98.6 441.5,107.2 444.3,115.9 447.2,123.5 450.1,128.4 452.9,132.3 455.8,135.6 458.6,137.6 461.5,137.9 464.4,137.7 467.2,137.4 470.1,136.5 473,134.3 475.8,131.6 478.7,128.8 481.5,125.6 484.4,122 487.3,118.4 490.1,114.8 493,111.2 495.9,107.5 498.7,103.8 501.6,100 504.5,96.1 507.3,92.2" fill="none" stroke="#F8766D" stroke-width="1.0" stroke-dasharray="2.7,1.8" stroke-linejoin="round"/>
<path d="M367,123 369.9,119.1 372.7,115.1 375.6,111.1 378.5,107.1 381.3,103.1 384.2,98.9 387.1,94.7 389.9,90.5 392.8,86.2 395.6,82 398.5,78 401.4,74.3 404.2,70.9 407.1,68 410,65.5 412.8,63.7 415.7,62.4 418.6,61.8 421.4,61.9 424.3,62.7 427.1,64.6 430,67.4 432.9,71.4 435.7,76.1 438.6,81.4 441.5,86.8 444.3,92.1 447.2,97.1 450.1,101.9 452.9,106.4 455.8,110.4 458.6,114 461.5,117.3 464.4,120.2 467.2,122.8 470.1,125.2 473,127.4 475.8,129.4 478.7,131.3 481.5,133 484.4,134.5 487.3,135.7 490.1,136.6 493,137.3 495.9,137.7 498.7,137.9 501.6,138 504.5,138 507.3,137.9" fill="none" stroke="#F8766D" stroke-width="1.0" stroke-dasharray="2.7,1.8" stroke-linejoin="round"/>
<path d="M367,121 369.9,113.9 372.7,107 375.6,100.4 378.5,94.2 381.3,88.6 384.2,83.5 387.1,79.1 389.9,75.2 392.8,71.7 395.6,68.8 398.5,66.3 401.4,64.3 404.2,62.9 407.1,62 410,61.9 412.8,62.5 415.7,63.8 418.6,66 421.4,69.1 424.3,72.8 427.1,77 430,81.5 432.9,86 435.7,90.4 438.6,94.3 441.5,97.4 444.3,99.8 447.2,101.5 450.1,102.9 452.9,104 455.8,105.2 458.6,106.6 461.5,108 464.4,109.5 467.2,111 470.1,112.4 473,113.6 475.8,114.5 478.7,115 481.5,115 484.4,114.3 487.3,113.2 490.1,111.6 493,109.8 495.9,107.7 498.7,105.4 501.6,103.1 504.5,100.6 507.3,98.1" fill="none" stroke="#F8766D" stroke-width="1.0" stroke-linejoin="round"/>
<path d="M367,164 369.9,159.8 372.7,155.6 375.6,151.4 378.5,147.1 381.3,142.6 384.2,138.1 387.1,133.5 389.9,128.9 392.8,124.4 395.6,120.1 398.5,115.8 401.4,111.8 404.2,107.9 407.1,104.2 410,100.6 412.8,97.4 415.7,94.4 418.6,91.9 421.4,89.9 424.3,88.5 427.1,88 430,88.3 432.9,89.4 435.7,91.1 438.6,93.4 441.5,96 444.3,98.7 447.2,101.5 450.1,104.1 452.9,106.5 455.8,108.6 458.6,110.3 461.5,111.6 464.4,112.4 467.2,112.8 470.1,113 473,113.1 475.8,113.3 478.7,113.7 481.5,114.4 484.4,115.7 487.3,117.6 490.1,119.8 493,122.4 495.9,125.1 498.7,128 501.6,130.8 504.5,133.7 507.3,136.6" fill="none" stroke="#F8766D" stroke-width="1.0" stroke-linejoin="round"/>
<path d="M367,105.3 369.9,105.5 372.7,105.6 375.6,105.7 378.5,105.8 381.3,105.9 384.2,106.1 387.1,106.2 389.9,106.3 392.8,106.5 395.6,106.7 398.5,106.8 401.4,107 404.2,107.2 407.1,107.4 410,107.6 412.8,107.8 415.7,108 418.6,108.3 421.4,108.5 424.3,108.7 427.1,109 430,109.3 432.9,109.6 435.7,109.9 438.6,110.2 441.5,110.5 444.3,110.8 447.2,111.1 450.1,111.4 452.9,111.8 455.8,112.1 458.6,112.4 461.5,112.7 464.4,113 467.2,113.4 470.1,113.6 473,113.9 475.8,114.2 478.7,114.4 481.5,114.7 484.4,114.9 487.3,115.1 490.1,115.3 493,115.5 495.9,115.7 498.7,115.9 501.6,116.1 504.5,116.3 507.3,116.4" fill="none" stroke="#F8766D" stroke-width="1.0" stroke-linejoin="round"/>
<path d="M367,115.1 369.9,114.1 372.7,113.1 375.6,112.1 378.5,111.2 381.3,110.4 384.2,109.6 387.1,108.9 389.9,108.4 392.8,107.9 395.6,107.5 398.5,107.3 401.4,107.1 404.2,106.9 407.1,106.9 410,106.9 412.8,106.9 415.7,107 418.6,107.1 421.4,107.3 424.3,107.6 427.1,107.9 430,108.4 432.9,108.9 435.7,109.6 438.6,110.3 441.5,111.1 444.3,111.8 447.2,112.3 450.1,112.3 452.9,112 455.8,111.3 458.6,110.4 461.5,109.5 464.4,108.6 467.2,107.9 470.1,107.6 473,107.6 475.8,108 478.7,108.7 481.5,109.7 484.4,110.9 487.3,112.4 490.1,114 493,115.7 495.9,117.4 498.7,119.2 501.6,120.9 504.5,122.6 507.3,124.4" fill="none" stroke="#F8766D" stroke-width="1.0" stroke-linejoin="round"/>
<path d="M367,129.8 369.9,128.9 372.7,128.1 375.6,127.2 378.5,126.3 381.3,125.3 384.2,124.2 387.1,123.1 389.9,121.9 392.8,120.7 395.6,119.4 398.5,118.1 401.4,116.9 404.2,115.7 407.1,114.8 410,114.1 412.8,113.8 415.7,113.8 418.6,114.1 421.4,114.6 424.3,115.2 427.1,115.7 430,116.1 432.9,116.4 435.7,116.6 438.6,116.9 441.5,117.3 444.3,118 447.2,118.7 450.1,119.5 452.9,120.2 455.8,120.9 458.6,121.4 461.5,121.8 464.4,122 467.2,121.9 470.1,121.7 473,121.2 475.8,120.4 478.7,119.4 481.5,118 484.4,116.1 487.3,113.7 490.1,110.7 493,107.1 495.9,102.9 498.7,98.2 501.6,93.2 504.5,88 507.3,82.7" fill="none" stroke="#F8766D" stroke-width="1.0" stroke-linejoin="round"/>
<path d="M367,131.1 369.9,125.2 372.7,119.1 375.6,112.8 378.5,106.4 381.3,100.2 384.2,94.4 387.1,89.3 389.9,85 392.8,81.4 395.6,78.4 398.5,75.9 401.4,73.8 404.2,72 407.1,70.7 410,70.1 412.8,70.2 415.7,71.1 418.6,72.3 421.4,73.7 424.3,75.4 427.1,77.9 430,81.5 432.9,86.3 435.7,91.7 438.6,96.7 441.5,101.2 444.3,105.4 447.2,109.4 450.1,113.2 452.9,117 455.8,120.6 458.6,124 461.5,127 464.4,129.7 467.2,131.9 470.1,133.8 473,135.3 475.8,136.4 478.7,137.2 481.5,137.7 484.4,137.9 487.3,137.7 490.1,137.2 493,136.4 495.9,135.3 498.7,134.1 501.6,132.7 504.5,131.3 507.3,129.8" fill="none" stroke="#00BFC4" stroke-width="1.15" stroke-dasharray="2.7,1.8" stroke-linejoin="round"/>
<path d="M367,143.8 369.9,141.1 372.7,138.5 375.6,136 378.5,133.7 381.3,131.7 384.2,129.9 387.1,128.3 389.9,126.8 392.8,125.4 395.6,124 398.5,122.6 401.4,121 404.2,119.4 407.1,117.6 410,115.9 412.8,114.3 415.7,112.8 418.6,111.3 421.4,110 424.3,108.5 427.1,107 430,105.3 432.9,103.7 435.7,102.7 438.6,102.5 441.5,103.1 444.3,104.2 447.2,105.7 450.1,107.3 452.9,109 455.8,110.7 458.6,112.4 461.5,114.1 464.4,116 467.2,117.9 470.1,119.7 473,121.3 475.8,122.8 478.7,123.9 481.5,124.9 484.4,125.8 487.3,127 490.1,128.6 493,130.5 495.9,132.5 498.7,133.7 501.6,133.9 504.5,133.2 507.3,132" fill="none" stroke="#00BFC4" stroke-width="1.15" stroke-dasharray="2.7,1.8" stroke-linejoin="round"/>
<path d="M367,136.6 369.9,133.9 372.7,131.2 375.6,128.6 378.5,126 381.3,123.4 384.2,121 387.1,118.5 389.9,116.2 392.8,114 395.6,111.8 398.5,109.7 401.4,107.6 404.2,105.6 407.1,103.6 410,101.6 412.8,99.5 415.7,97.4 418.6,95.1 421.4,92.7 424.3,90.2 427.1,87.7 430,85.3 432.9,83.1 435.7,81.1 438.6,79.4 441.5,78 444.3,76.9 447.2,76.2 450.1,75.9 452.9,76 455.8,76.6 458.6,77.7 461.5,79.1 464.4,80.9 467.2,83.2 470.1,85.9 473,89.1 475.8,92.9 478.7,97.2 481.5,102 484.4,107.2 487.3,112.5 490.1,117.9 493,122.7 495.9,126.6 498.7,129.9 501.6,134.2 504.5,141.4 507.3,151.3" fill="none" stroke="#00BFC4" stroke-width="1.15" stroke-dasharray="2.7,1.8" stroke-linejoin="round"/>
<text x="370.4" y="49.8" font-size="6.6" text-anchor="start" fill="#F8766D" font-weight="normal" >ge n=7</text>
<text x="370.4" y="57.1" font-size="6.6" text-anchor="start" fill="#00BFC4" font-weight="normal" >mt n=3</text>
</g>
<rect x="360.5" y="25.5" width="153.8" height="12" fill="#D9D9D9" stroke="#7a7a7a" stroke-width="0.9"/>
<text x="437.4" y="34" font-size="6.8" text-anchor="middle" fill="#1A1A1A" font-weight="normal" >C</text>
<rect x="360.5" y="37.5" width="153.8" height="151.9" fill="none" stroke="#7a7a7a" stroke-width="0.9"/>
<line x1="358.2" x2="360.5" y1="154" y2="154" stroke="#7a7a7a" stroke-width="0.9"/>
<text x="357.1" y="156.4" font-size="6.8" text-anchor="end" fill="#4D4D4D" font-weight="normal" >0.75</text>
<line x1="358.2" x2="360.5" y1="115.25" y2="115.25" stroke="#7a7a7a" stroke-width="0.9"/>
<text x="357.1" y="117.65" font-size="6.8" text-anchor="end" fill="#4D4D4D" font-weight="normal" >1.00</text>
<line x1="358.2" x2="360.5" y1="76.5" y2="76.5" stroke="#7a7a7a" stroke-width="0.9"/>
<text x="357.1" y="78.9" font-size="6.8" text-anchor="end" fill="#4D4D4D" font-weight="normal" >1.25</text>
<rect x="531.3" y="37.5" width="154.7" height="151.9" fill="#fff"/>
<g clip-path="url(#clipA3)">
<line x1="531.3" x2="686" y1="168.96" y2="168.96" stroke="#EBEBEB" stroke-width="0.5"/>
<line x1="531.3" x2="686" y1="133.69" y2="133.69" stroke="#EBEBEB" stroke-width="0.5"/>
<line x1="531.3" x2="686" y1="98.41" y2="98.41" stroke="#EBEBEB" stroke-width="0.5"/>
<line x1="531.3" x2="686" y1="63.14" y2="63.14" stroke="#EBEBEB" stroke-width="0.5"/>
<line x1="549.46" x2="549.46" y1="37.5" y2="189.4" stroke="#EBEBEB" stroke-width="0.5"/>
<line x1="578.18" x2="578.18" y1="37.5" y2="189.4" stroke="#EBEBEB" stroke-width="0.5"/>
<line x1="606.9" x2="606.9" y1="37.5" y2="189.4" stroke="#EBEBEB" stroke-width="0.5"/>
<line x1="635.62" x2="635.62" y1="37.5" y2="189.4" stroke="#EBEBEB" stroke-width="0.5"/>
<line x1="664.34" x2="664.34" y1="37.5" y2="189.4" stroke="#EBEBEB" stroke-width="0.5"/>
<line x1="531.3" x2="686" y1="186.6" y2="186.6" stroke="#EBEBEB" stroke-width="0.9"/>
<line x1="531.3" x2="686" y1="151.32" y2="151.32" stroke="#EBEBEB" stroke-width="0.9"/>
<line x1="531.3" x2="686" y1="116.05" y2="116.05" stroke="#EBEBEB" stroke-width="0.9"/>
<line x1="531.3" x2="686" y1="80.78" y2="80.78" stroke="#EBEBEB" stroke-width="0.9"/>
<line x1="531.3" x2="686" y1="45.5" y2="45.5" stroke="#EBEBEB" stroke-width="0.9"/>
<line x1="535.1" x2="535.1" y1="37.5" y2="189.4" stroke="#EBEBEB" stroke-width="0.9"/>
<line x1="563.82" x2="563.82" y1="37.5" y2="189.4" stroke="#EBEBEB" stroke-width="0.9"/>
<line x1="592.54" x2="592.54" y1="37.5" y2="189.4" stroke="#EBEBEB" stroke-width="0.9"/>
<line x1="621.26" x2="621.26" y1="37.5" y2="189.4" stroke="#EBEBEB" stroke-width="0.9"/>
<line x1="649.98" x2="649.98" y1="37.5" y2="189.4" stroke="#EBEBEB" stroke-width="0.9"/>
<line x1="678.7" x2="678.7" y1="37.5" y2="189.4" stroke="#EBEBEB" stroke-width="0.9"/>
<path d="M537.9,164.6 542.4,162.9 547,161.2 551.5,159.4 556,157.6 560.5,155.7 565.1,153.7 569.6,151.5 574.1,149.3 578.7,147.1 583.2,144.8 587.7,142.5 592.2,140.3 596.8,138.2 601.3,136.1 605.8,134.1 610.3,131.9 614.9,129.7 619.4,127.3 623.9,124.6 628.4,121.7 633,118.8 637.5,115.8 642,112.8 646.5,110 651.1,107.4 655.6,105 660.1,102.9 664.6,100.9 669.2,99.1 673.7,97.3 678.2,95.6" fill="none" stroke="#DFDFDF" stroke-width="0.7" stroke-linejoin="round"/>
<path d="M537.9,162.2 542.4,161.1 547,159.9 551.5,158.7 556,157.4 560.5,155.9 565.1,154.4 569.6,152.7 574.1,150.8 578.7,148.8 583.2,146.6 587.7,144.2 592.2,141.6 596.8,138.7 601.3,135.8 605.8,132.7 610.3,129.7 614.9,126.7 619.4,123.8 623.9,121.1 628.4,118.7 633,116.4 637.5,114.3 642,112.3 646.5,110.3 651.1,108.4 655.6,106.5 660.1,104.6 664.6,102.7 669.2,100.8 673.7,99 678.2,97.1" fill="none" stroke="#DFDFDF" stroke-width="0.7" stroke-linejoin="round"/>
<path d="M537.9,162.4 542.4,160.3 547,158.3 551.5,156.2 556,154.3 560.5,152.3 565.1,150.5 569.6,148.7 574.1,146.9 578.7,145.2 583.2,143.4 587.7,141.5 592.2,139.5 596.8,137.3 601.3,135 605.8,132.6 610.3,130.1 614.9,127.5 619.4,124.8 623.9,122.1 628.4,119.4 633,116.7 637.5,114.1 642,111.4 646.5,108.8 651.1,106.3 655.6,103.9 660.1,101.5 664.6,99.1 669.2,96.8 673.7,94.6 678.2,92.3" fill="none" stroke="#DFDFDF" stroke-width="0.7" stroke-linejoin="round"/>
<path d="M537.9,161.3 542.4,159.9 547,158.4 551.5,156.8 556,155.1 560.5,153.1 565.1,150.8 569.6,148.2 574.1,145.4 578.7,142.6 583.2,139.7 587.7,137 592.2,134.5 596.8,132.4 601.3,130.5 605.8,128.7 610.3,127 614.9,125.2 619.4,123.2 623.9,120.9 628.4,118.2 633,115.3 637.5,112.2 642,109.1 646.5,105.9 651.1,102.8 655.6,99.8 660.1,97 664.6,94.2 669.2,91.4 673.7,88.7 678.2,86" fill="none" stroke="#DFDFDF" stroke-width="0.7" stroke-linejoin="round"/>
<path d="M537.9,161 542.4,159.2 547,157.4 551.5,155.6 556,153.8 560.5,151.9 565.1,149.9 569.6,147.9 574.1,145.8 578.7,143.6 583.2,141.3 587.7,139 592.2,136.5 596.8,133.9 601.3,131.3 605.8,128.6 610.3,125.9 614.9,123.3 619.4,120.7 623.9,118.3 628.4,115.9 633,113.6 637.5,111.3 642,109.1 646.5,106.8 651.1,104.5 655.6,102 660.1,99.6 664.6,97.1 669.2,94.5 673.7,92 678.2,89.4" fill="none" stroke="#DFDFDF" stroke-width="0.7" stroke-linejoin="round"/>
<path d="M537.9,161.6 542.4,160.1 547,158.5 551.5,156.8 556,155 560.5,153 565.1,150.7 569.6,148.1 574.1,145.4 578.7,142.6 583.2,139.9 587.7,137.4 592.2,135.1 596.8,133.1 601.3,131.5 605.8,130 610.3,128.5 614.9,126.9 619.4,125 623.9,122.7 628.4,120.1 633,117.1 637.5,114 642,110.9 646.5,107.9 651.1,105 655.6,102.4 660.1,100 664.6,97.7 669.2,95.6 673.7,93.6 678.2,91.6" fill="none" stroke="#DFDFDF" stroke-width="0.7" stroke-linejoin="round"/>
<path d="M537.9,165 542.4,163.2 547,161.4 551.5,159.6 556,157.8 560.5,156 565.1,154.1 569.6,152.3 574.1,150.4 578.7,148.5 583.2,146.5 587.7,144.5 592.2,142.4 596.8,140.3 601.3,138 605.8,135.6 610.3,133.1 614.9,130.4 619.4,127.7 623.9,124.7 628.4,121.7 633,118.6 637.5,115.6 642,112.7 646.5,110.1 651.1,107.6 655.6,105.5 660.1,103.7 664.6,102.1 669.2,100.6 673.7,99.2 678.2,97.9" fill="none" stroke="#DFDFDF" stroke-width="0.7" stroke-linejoin="round"/>
<path d="M537.9,167.5 542.4,165.4 547,163.2 551.5,161.1 556,159.2 560.5,157.3 565.1,155.5 569.6,153.9 574.1,152.3 578.7,150.7 583.2,149.1 587.7,147.3 592.2,145.2 596.8,142.8 601.3,140.2 605.8,137.3 610.3,134.2 614.9,130.9 619.4,127.6 623.9,124.3 628.4,121 633,117.8 637.5,114.8 642,112 646.5,109.6 651.1,107.5 655.6,105.9 660.1,104.6 664.6,103.6 669.2,102.8 673.7,102.2 678.2,101.6" fill="none" stroke="#DFDFDF" stroke-width="0.7" stroke-linejoin="round"/>
<path d="M537.9,167.1 542.4,165 547,163 551.5,160.9 556,158.9 560.5,157 565.1,155.1 569.6,153.4 574.1,151.6 578.7,149.8 583.2,148 587.7,146 592.2,143.8 596.8,141.3 601.3,138.6 605.8,135.7 610.3,132.7 614.9,129.5 619.4,126.3 623.9,123 628.4,119.8 633,116.6 637.5,113.6 642,110.9 646.5,108.4 651.1,106.4 655.6,104.8 660.1,103.6 664.6,102.6 669.2,101.9 673.7,101.3 678.2,100.8" fill="none" stroke="#DFDFDF" stroke-width="0.7" stroke-linejoin="round"/>
<path d="M537.9,163.9 542.4,161.9 547,160 551.5,158 556,156.1 560.5,154.3 565.1,152.4 569.6,150.6 574.1,148.9 578.7,147.1 583.2,145.2 587.7,143.3 592.2,141.2 596.8,139 601.3,136.7 605.8,134.2 610.3,131.5 614.9,128.8 619.4,125.9 623.9,123 628.4,120 633,117 637.5,114.1 642,111.3 646.5,108.6 651.1,106.1 655.6,103.8 660.1,101.7 664.6,99.8 669.2,97.9 673.7,96.2 678.2,94.5" fill="none" stroke="#DFDFDF" stroke-width="0.7" stroke-linejoin="round"/>
<path d="M537.9,161.6 542.4,159.8 547,158 551.5,156.2 556,154.4 560.5,152.6 565.1,150.7 569.6,148.7 574.1,146.7 578.7,144.6 583.2,142.4 587.7,140.1 592.2,137.7 596.8,135.1 601.3,132.5 605.8,129.7 610.3,127 614.9,124.3 619.4,121.8 623.9,119.3 628.4,117 633,114.7 637.5,112.5 642,110.3 646.5,108 651.1,105.7 655.6,103.2 660.1,100.7 664.6,98 669.2,95.3 673.7,92.6 678.2,89.9" fill="none" stroke="#DFDFDF" stroke-width="0.7" stroke-linejoin="round"/>
<path d="M537.9,161 542.4,159.2 547,157.3 551.5,155.5 556,153.5 560.5,151.5 565.1,149.4 569.6,147.2 574.1,144.9 578.7,142.6 583.2,140.3 587.7,138 592.2,135.7 596.8,133.6 601.3,131.4 605.8,129.3 610.3,127.2 614.9,125 619.4,122.8 623.9,120.4 628.4,117.8 633,115.2 637.5,112.5 642,109.7 646.5,107 651.1,104.3 655.6,101.6 660.1,99 664.6,96.4 669.2,93.8 673.7,91.3 678.2,88.8" fill="none" stroke="#DFDFDF" stroke-width="0.7" stroke-linejoin="round"/>
<path d="M537.9,166 541.1,164.9 544.3,163.9 547.5,162.8 550.7,161.8 553.9,160.7 557.1,159.5 560.2,158.4 563.4,157.1 566.6,155.9 569.8,154.6 573,153.2 576.2,151.8 579.4,150.3 582.6,148.8 585.8,147.2 588.9,145.6 592.1,144 595.3,142.3 598.5,140.6 601.7,138.8 604.9,137 608.1,135.2 611.3,133.3 614.4,131.3 617.6,129.4 620.8,127.3 624,125.2 627.2,123.1 630.4,120.8 633.6,118.5 636.8,116.1 640,113.6 643.1,111 646.3,108.2 649.5,105.3 652.7,102.2 655.9,98.7 659.1,94.5 662.3,89.3 665.5,83 668.7,75.1 671.8,66.1 675,56.3 678.2,46.1" fill="none" stroke="#DFDFDF" stroke-width="0.7" stroke-linejoin="round"/>
<path d="M537.9,144.8 542.4,142.2 547,139.6 551.5,137 556,134.4 560.5,131.8 565.1,129.3 569.6,126.7 574.1,124.2 578.7,121.7 583.2,119.2 587.7,116.8 592.2,114.3 596.8,111.9 601.3,109.6 605.8,107.4 610.3,105.4 614.9,103.6 619.4,102.2 623.9,101.2 628.4,100.4 633,99.7 637.5,98.8 642,97.6 646.5,95.7 651.1,93.1 655.6,89.5 660.1,85.2 664.6,80.2 669.2,74.8 673.7,69.1 678.2,63.2" fill="none" stroke="#F8766D" stroke-width="1.0" stroke-linejoin="round"/>
<path d="M537.9,156.9 542.4,155.2 547,153.5 551.5,151.7 556,149.7 560.5,147.5 565.1,145 569.6,142.2 574.1,139.2 578.7,136.2 583.2,133.2 587.7,130.5 592.2,128.1 596.8,126.2 601.3,124.6 605.8,123.2 610.3,121.9 614.9,120.5 619.4,118.8 623.9,116.6 628.4,114.1 633,111.4 637.5,108.6 642,105.9 646.5,103.5 651.1,101.5 655.6,100.1 660.1,99 664.6,98.4 669.2,98 673.7,97.7 678.2,97.6" fill="none" stroke="#F8766D" stroke-width="1.0" stroke-linejoin="round"/>
<path d="M537.9,151.6 542.4,150 547,148.3 551.5,146.6 556,144.6 560.5,142.5 565.1,140.1 569.6,137.4 574.1,134.6 578.7,131.6 583.2,128.5 587.7,125.6 592.2,122.8 596.8,120.2 601.3,117.8 605.8,115.6 610.3,113.6 614.9,111.7 619.4,109.9 623.9,108.2 628.4,106.6 633,104.9 637.5,103.1 642,101.2 646.5,99.2 651.1,96.8 655.6,94.2 660.1,91.4 664.6,88.4 669.2,85.2 673.7,82 678.2,78.7" fill="none" stroke="#F8766D" stroke-width="1.0" stroke-linejoin="round"/>
<path d="M537.9,149.5 542.4,147 547,144.5 551.5,142.1 556,139.6 560.5,137.1 565.1,134.6 569.6,132.2 574.1,129.7 578.7,127.3 583.2,125 587.7,122.8 592.2,120.7 596.8,118.7 601.3,116.9 605.8,115.2 610.3,113.6 614.9,112 619.4,110.6 623.9,109.2 628.4,107.7 633,106.2 637.5,104.5 642,102.5 646.5,100.2 651.1,97.5 655.6,94.3 660.1,90.7 664.6,86.8 669.2,82.6 673.7,78.3 678.2,73.9" fill="none" stroke="#00BFC4" stroke-width="1.0" stroke-linejoin="round"/>
<path d="M537.9,156.3 542.4,153.1 547,150.1 551.5,147 556,144 560.5,141.1 565.1,138.2 569.6,135.5 574.1,132.9 578.7,130.4 583.2,128.2 587.7,126.3 592.2,124.7 596.8,123.4 601.3,122.4 605.8,121.5 610.3,120.6 614.9,119.5 619.4,118.1 623.9,116.3 628.4,114.2 633,111.8 637.5,109.3 642,106.9 646.5,104.6 651.1,102.7 655.6,101.1 660.1,99.9 664.6,98.9 669.2,98.2 673.7,97.5 678.2,97" fill="none" stroke="#F8766D" stroke-width="1.0" stroke-linejoin="round"/>
<path d="M537.9,151.8 542.4,149.9 547,148 551.5,146 556,144 560.5,141.9 565.1,139.6 569.6,137.3 574.1,134.8 578.7,132.3 583.2,129.7 587.7,127.1 592.2,124.5 596.8,122 601.3,119.5 605.8,117.2 610.3,115 614.9,112.9 619.4,111 623.9,109.4 628.4,107.8 633,106.3 637.5,104.8 642,103.2 646.5,101.3 651.1,99.1 655.6,96.6 660.1,93.7 664.6,90.6 669.2,87.3 673.7,83.9 678.2,80.5" fill="none" stroke="#F8766D" stroke-width="1.0" stroke-linejoin="round"/>
<path d="M537.9,157.5 542.4,155.5 547,153.4 551.5,151.3 556,149.2 560.5,146.9 565.1,144.5 569.6,141.9 574.1,139.2 578.7,136.5 583.2,133.7 587.7,131 592.2,128.3 596.8,125.7 601.3,123.3 605.8,120.9 610.3,118.8 614.9,116.8 619.4,115 623.9,113.4 628.4,112 633,110.6 637.5,109.3 642,107.9 646.5,106.5 651.1,104.8 655.6,103 660.1,101.1 664.6,98.9 669.2,96.7 673.7,94.5 678.2,92.2" fill="none" stroke="#F8766D" stroke-width="1.0" stroke-linejoin="round"/>
<path d="M537.9,156.5 542.4,153.6 547,150.7 551.5,147.8 556,144.9 560.5,141.9 565.1,138.8 569.6,135.7 574.1,132.6 578.7,129.6 583.2,126.8 587.7,124.3 592.2,122.2 596.8,120.5 601.3,119.1 605.8,117.9 610.3,116.8 614.9,115.6 619.4,114 623.9,112.1 628.4,109.7 633,107.1 637.5,104.4 642,101.7 646.5,99.1 651.1,96.7 655.6,94.7 660.1,92.9 664.6,91.4 669.2,90 673.7,88.8 678.2,87.6" fill="none" stroke="#00BFC4" stroke-width="1.0" stroke-linejoin="round"/>
<path d="M537.9,156.1 542.4,154 547,151.9 551.5,149.8 556,147.9 560.5,146 565.1,144.2 569.6,142.6 574.1,141 578.7,139.2 583.2,137.3 587.7,135.1 592.2,132.5 596.8,129.4 601.3,126 605.8,122.4 610.3,118.8 614.9,115.4 619.4,112.4 623.9,109.9 628.4,108 633,106.5 637.5,105.2 642,104.1 646.5,102.9 651.1,101.6 655.6,100 660.1,98.2 664.6,96.2 669.2,94.2 673.7,92 678.2,89.8" fill="none" stroke="#00BFC4" stroke-width="1.0" stroke-linejoin="round"/>
<path d="M537.9,162 542.4,159 547,156 551.5,153 556,149.9 560.5,146.7 565.1,143.4 569.6,139.9 574.1,136.6 578.7,133.3 583.2,130.3 587.7,127.7 592.2,125.6 596.8,124 601.3,123 605.8,122.2 610.3,121.4 614.9,120.4 619.4,118.9 623.9,116.9 628.4,114.2 633,111.3 637.5,108.2 642,105.1 646.5,102.3 651.1,100.1 655.6,98.4 660.1,97.3 664.6,96.6 669.2,96.1 673.7,95.9 678.2,95.9" fill="none" stroke="#F8766D" stroke-width="1.0" stroke-linejoin="round"/>
<path d="M537.9,153.3 542.4,151.1 547,149 551.5,146.9 556,144.6 560.5,142.3 565.1,140 569.6,137.5 574.1,135 578.7,132.5 583.2,130 587.7,127.7 592.2,125.5 596.8,123.5 601.3,121.7 605.8,120 610.3,118.4 614.9,116.8 619.4,115.2 623.9,113.4 628.4,111.6 633,109.6 637.5,107.4 642,105.1 646.5,102.5 651.1,99.7 655.6,96.7 660.1,93.4 664.6,90 669.2,86.4 673.7,82.8 678.2,79.1" fill="none" stroke="#00BFC4" stroke-width="1.0" stroke-linejoin="round"/>
<path d="M537.9,149.8 542.4,147.6 547,145.4 551.5,143.2 556,140.9 560.5,138.5 565.1,136 569.6,133.4 574.1,130.7 578.7,127.9 583.2,124.9 587.7,121.8 592.2,118.6 596.8,115.2 601.3,111.9 605.8,108.6 610.3,105.6 614.9,103.1 619.4,101.2 623.9,100 628.4,99.4 633,99.2 637.5,98.9 642,98.4 646.5,97.4 651.1,95.6 655.6,92.9 660.1,89.3 664.6,85.1 669.2,80.4 673.7,75.4 678.2,70.2" fill="none" stroke="#00BFC4" stroke-width="1.0" stroke-linejoin="round"/>
<path d="M537.9,154.8 542.4,152.3 547,149.7 551.5,147.1 556,144.3 560.5,141.3 565.1,138.1 569.6,134.6 574.1,131.1 578.7,127.6 583.2,124.2 587.7,121.1 592.2,118.4 596.8,116.2 601.3,114.5 605.8,113.1 610.3,112 614.9,110.9 619.4,109.8 623.9,108.5 628.4,107 633,105.3 637.5,103.4 642,101.3 646.5,99 651.1,96.4 655.6,93.7 660.1,90.7 664.6,87.6 669.2,84.4 673.7,81.1 678.2,77.8" fill="none" stroke="#00BFC4" stroke-width="1.0" stroke-linejoin="round"/>
<path d="M537.9,145.9 542.4,143.5 547,141.2 551.5,138.8 556,136.5 560.5,134.2 565.1,131.9 569.6,129.6 574.1,127.3 578.7,125 583.2,122.5 587.7,119.9 592.2,117.2 596.8,114.2 601.3,111.1 605.8,108 610.3,105.1 614.9,102.5 619.4,100.3 623.9,98.7 628.4,97.5 633,96.6 637.5,95.6 642,94.4 646.5,92.7 651.1,90.4 655.6,87.2 660.1,83.3 664.6,78.8 669.2,73.9 673.7,68.8 678.2,63.5" fill="none" stroke="#00BFC4" stroke-width="1.0" stroke-linejoin="round"/>
<path d="M537.9,158.7 542.4,155.8 547,152.9 551.5,150 556,147.1 560.5,144.2 565.1,141.4 569.6,138.5 574.1,135.7 578.7,133 583.2,130.5 587.7,128.1 592.2,126.1 596.8,124.3 601.3,122.7 605.8,121.3 610.3,119.9 614.9,118.5 619.4,117 623.9,115.2 628.4,113.2 633,111.1 637.5,108.9 642,106.8 646.5,104.8 651.1,103 655.6,101.4 660.1,100 664.6,98.7 669.2,97.6 673.7,96.6 678.2,95.6" fill="none" stroke="#00BFC4" stroke-width="1.0" stroke-linejoin="round"/>
<path d="M537.9,154.3 542.4,152 547,149.6 551.5,147.2 556,144.7 560.5,142.1 565.1,139.3 569.6,136.4 574.1,133.4 578.7,130.4 583.2,127.5 587.7,124.8 592.2,122.4 596.8,120.3 601.3,118.5 605.8,117 610.3,115.6 614.9,114.2 619.4,112.9 623.9,111.4 628.4,109.8 633,108 637.5,106 642,103.9 646.5,101.5 651.1,98.8 655.6,95.9 660.1,92.9 664.6,89.6 669.2,86.2 673.7,82.7 678.2,79.2" fill="none" stroke="#F8766D" stroke-width="1.0" stroke-linejoin="round"/>
<path d="M537.9,160.3 542.4,157.4 547,154.6 551.5,151.7 556,148.8 560.5,146 565.1,143.2 569.6,140.4 574.1,137.7 578.7,135.1 583.2,132.7 587.7,130.5 592.2,128.6 596.8,127 601.3,125.7 605.8,124.4 610.3,123.2 614.9,121.9 619.4,120.4 623.9,118.6 628.4,116.6 633,114.4 637.5,112.1 642,109.9 646.5,107.9 651.1,106.1 655.6,104.6 660.1,103.5 664.6,102.5 669.2,101.7 673.7,101.1 678.2,100.5" fill="none" stroke="#00BFC4" stroke-width="1.0" stroke-linejoin="round"/>
<path d="M537.9,159.8 542.4,156.9 547,154 551.5,151.2 556,148.5 560.5,146.1 565.1,143.9 569.6,142 574.1,140.3 578.7,138.7 583.2,137.1 587.7,135.4 592.2,133.4 596.8,131.2 601.3,128.7 605.8,126.1 610.3,123.4 614.9,120.8 619.4,118.2 623.9,115.9 628.4,113.7 633,111.7 637.5,109.9 642,108.1 646.5,106.4 651.1,104.8 655.6,103.1 660.1,101.4 664.6,99.7 669.2,98 673.7,96.4 678.2,94.7" fill="none" stroke="#00BFC4" stroke-width="1.0" stroke-linejoin="round"/>
<path d="M537.9,156.6 542.4,153.2 547,149.8 551.5,146.4 556,143.1 560.5,139.9 565.1,136.7 569.6,133.6 574.1,130.8 578.7,128.1 583.2,125.7 587.7,123.5 592.2,121.8 596.8,120.4 601.3,119.4 605.8,118.4 610.3,117.6 614.9,116.5 619.4,115.2 623.9,113.5 628.4,111.4 633,108.9 637.5,106.1 642,103.1 646.5,99.8 651.1,96.5 655.6,93.1 660.1,89.6 664.6,86.1 669.2,82.5 673.7,78.9 678.2,75.3" fill="none" stroke="#F8766D" stroke-width="1.0" stroke-linejoin="round"/>
<path d="M537.9,143.2 542.4,141.8 547,140.2 551.5,138.5 556,136.6 560.5,134.4 565.1,131.8 569.6,128.8 574.1,125.6 578.7,122.2 583.2,118.7 587.7,115.3 592.2,112.1 596.8,109.1 601.3,106.5 605.8,104.3 610.3,102.4 614.9,101 619.4,100 623.9,99.4 628.4,99.1 633,98.9 637.5,98.5 642,97.6 646.5,96.1 651.1,93.6 655.6,90.1 660.1,85.8 664.6,80.7 669.2,75.1 673.7,69.1 678.2,63" fill="none" stroke="#F8766D" stroke-width="1.0" stroke-linejoin="round"/>
<path d="M537.9,156.9 540.8,154.9 543.6,152.8 546.5,150.7 549.4,148.5 552.2,146.3 555.1,144.1 558,141.7 560.8,139.3 563.7,136.8 566.6,134.2 569.4,131.4 572.3,128.6 575.1,125.7 578,122.7 580.9,119.5 583.7,116.4 586.6,113.3 589.5,110.5 592.3,108.1 595.2,106.1 598.1,104.8 600.9,104.2 603.8,104.2 606.6,104.5 609.5,104.8 612.4,105.1 615.2,105 618.1,104.4 621,103.3 623.8,101.9 626.7,100.4 629.5,99 632.4,97.9 635.3,97.2 638.1,96.8 641,96.7 643.9,96.6 646.7,96.6 649.6,96.5 652.5,96.2 655.3,95.6 658.2,94.7 661,93.5 663.9,92 666.8,90.3 669.6,88.5 672.5,86.5 675.4,84.4 678.2,82.3" fill="none" stroke="#00BFC4" stroke-width="1.0" stroke-linejoin="round"/>
<path d="M537.9,154.7 540.8,152.9 543.6,151.2 546.5,149.4 549.4,147.7 552.2,145.9 555.1,144.2 558,142.4 560.8,140.7 563.7,139 566.6,137.3 569.4,135.6 572.3,133.9 575.1,132.2 578,130.6 580.9,129 583.7,127.5 586.6,126 589.5,124.5 592.3,123.2 595.2,121.9 598.1,120.7 600.9,119.5 603.8,118.5 606.6,117.4 609.5,116.4 612.4,115.3 615.2,114.1 618.1,112.9 621,111.6 623.8,110.1 626.7,108.5 629.5,106.7 632.4,104.9 635.3,103.1 638.1,101.4 641,100 643.9,98.9 646.7,98.2 649.6,98 652.5,98.3 655.3,99.2 658.2,100.5 661,102.5 663.9,104.9 666.8,107.8 669.6,110.9 672.5,114.2 675.4,117.4 678.2,120.7" fill="none" stroke="#00BFC4" stroke-width="1.0" stroke-linejoin="round"/>
<path d="M537.9,155.8 540.8,154.2 543.6,152.5 546.5,150.9 549.4,149.3 552.2,147.7 555.1,146.1 558,144.4 560.8,142.8 563.7,141.2 566.6,139.6 569.4,138.1 572.3,136.5 575.1,134.9 578,133.4 580.9,131.8 583.7,130.3 586.6,128.8 589.5,127.3 592.3,125.8 595.2,124.3 598.1,122.9 600.9,121.5 603.8,120.1 606.6,118.7 609.5,117.4 612.4,116 615.2,114.7 618.1,113.4 621,112 623.8,110.7 626.7,109.5 629.5,108.2 632.4,106.9 635.3,105.6 638.1,104.2 641,102.7 643.9,101 646.7,99 649.6,96.7 652.5,94 655.3,90.8 658.2,87.1 661,82.9 663.9,78.2 666.8,73.1 669.6,67.7 672.5,62.1 675.4,56.4 678.2,50.6" fill="none" stroke="#00BFC4" stroke-width="1.0" stroke-linejoin="round"/>
<path d="M537.9,152.4 540.8,150.7 543.6,148.9 546.5,147.2 549.4,145.4 552.2,143.7 555.1,141.9 558,140.2 560.8,138.4 563.7,136.7 566.6,135 569.4,133.3 572.3,131.6 575.1,130 578,128.3 580.9,126.8 583.7,125.2 586.6,123.7 589.5,122.3 592.3,120.9 595.2,119.6 598.1,118.4 600.9,117.3 603.8,116.2 606.6,115.1 609.5,114.1 612.4,113.1 615.2,112.1 618.1,111 621,109.9 623.8,108.7 626.7,107.5 629.5,106.1 632.4,104.6 635.3,102.9 638.1,101.1 641,99.2 643.9,97.2 646.7,95 649.6,92.8 652.5,90.4 655.3,88 658.2,85.5 661,82.9 663.9,80.3 666.8,77.5 669.6,74.8 672.5,72 675.4,69.2 678.2,66.4" fill="none" stroke="#00BFC4" stroke-width="1.0" stroke-linejoin="round"/>
<path d="M537.9,162.6 540.8,160.7 543.6,158.7 546.5,156.8 549.4,154.9 552.2,153 555.1,151.2 558,149.3 560.8,147.5 563.7,145.8 566.6,144.1 569.4,142.4 572.3,140.8 575.1,139.2 578,137.6 580.9,136.1 583.7,134.6 586.6,133.1 589.5,131.7 592.3,130.2 595.2,128.8 598.1,127.4 600.9,126.1 603.8,124.7 606.6,123.3 609.5,122 612.4,120.6 615.2,119.3 618.1,118 621,116.7 623.8,115.3 626.7,114 629.5,112.7 632.4,111.4 635.3,110.1 638.1,108.9 641,107.7 643.9,106.7 646.7,105.9 649.6,105.2 652.5,104.9 655.3,104.8 658.2,105.1 661,105.7 663.9,106.6 666.8,107.7 669.6,109.1 672.5,110.6 675.4,112.2 678.2,113.9" fill="none" stroke="#00BFC4" stroke-width="1.0" stroke-linejoin="round"/>
<path d="M537.9,181.4 540.8,182 543.6,182.6 546.5,183 549.4,183.2 552.2,183 555.1,182.5 558,181.5 560.8,180.1 563.7,178.4 566.6,176.4 569.4,174 572.3,171.3 575.1,168.3 578,165.1 580.9,161.8 583.7,158.4 586.6,155 589.5,151.7 592.3,148.5 595.2,145.3 598.1,142.4 600.9,139.5 603.8,136.8 606.6,134.2 609.5,131.8 612.4,129.5 615.2,127.4 618.1,125.4 621,123.4 623.8,121.5 626.7,119.6 629.5,117.8 632.4,115.9 635.3,114.1 638.1,112.3 641,110.6 643.9,109 646.7,107.5 649.6,106.1 652.5,104.6 655.3,103.3 658.2,101.9 661,100.5 663.9,99 666.8,97.5 669.6,96 672.5,94.4 675.4,92.9 678.2,91.3" fill="none" stroke="#F8766D" stroke-width="1.0" stroke-linejoin="round"/>
<path d="M537.9,150.1 540.8,151.1 543.6,152 546.5,152.9 549.4,153.7 552.2,154.6 555.1,155.3 558,156 560.8,156.6 563.7,156.9 566.6,157 569.4,156.8 572.3,156.3 575.1,155.5 578,154.4 580.9,153 583.7,151.5 586.6,149.7 589.5,147.7 592.3,145.6 595.2,143.3 598.1,141 600.9,138.5 603.8,135.9 606.6,133.4 609.5,131 612.4,128.6 615.2,126.4 618.1,124.3 621,122.5 623.8,120.7 626.7,119 629.5,117.4 632.4,115.9 635.3,114.4 638.1,112.9 641,111.5 643.9,110 646.7,108.6 649.6,107.2 652.5,105.9 655.3,104.5 658.2,103.1 661,101.7 663.9,100.4 666.8,99 669.6,97.6 672.5,96.3 675.4,94.9 678.2,93.6" fill="none" stroke="#F8766D" stroke-width="1.0" stroke-linejoin="round"/>
<path d="M537.9,147.9 540.8,146.1 543.6,144.3 546.5,142.5 549.4,140.8 552.2,139 555.1,137.3 558,135.6 560.8,133.9 563.7,132.2 566.6,130.5 569.4,128.9 572.3,127.3 575.1,125.7 578,124.1 580.9,122.4 583.7,120.8 586.6,119 589.5,117.3 592.3,115.4 595.2,113.5 598.1,111.6 600.9,109.5 603.8,107.3 606.6,105.1 609.5,102.8 612.4,100.5 615.2,98.1 618.1,95.7 621,93.2 623.8,90.7 626.7,88.2 629.5,85.8 632.4,83.5 635.3,81.3 638.1,79.2 641,77.3 643.9,75.6 646.7,74.1 649.6,72.7 652.5,71.5 655.3,70.3 658.2,69.3 661,68.3 663.9,67.5 666.8,66.9 669.6,66.5 672.5,66.3 675.4,66.3 678.2,66.4" fill="none" stroke="#F8766D" stroke-width="1.0" stroke-linejoin="round"/>
<path d="M537.9,143.4 540.8,142.1 543.6,140.8 546.5,139.6 549.4,138.3 552.2,137.1 555.1,135.8 558,134.6 560.8,133.4 563.7,132.2 566.6,131 569.4,129.8 572.3,128.7 575.1,127.6 578,126.5 580.9,125.3 583.7,124.1 586.6,122.9 589.5,121.5 592.3,119.9 595.2,118.1 598.1,116 600.9,113.7 603.8,111 606.6,108 609.5,104.5 612.4,100.7 615.2,96.6 618.1,92.6 621,88.7 623.8,85.4 626.7,82.7 629.5,80.9 632.4,79.9 635.3,79.6 638.1,79.8 641,80.4 643.9,81.2 646.7,82 649.6,82.7 652.5,83.4 655.3,84.1 658.2,85 661,86.1 663.9,87.7 666.8,89.9 669.6,92.5 672.5,95.7 675.4,99.1 678.2,102.6" fill="none" stroke="#F8766D" stroke-width="1.0" stroke-linejoin="round"/>
<path d="M537.9,145.6 540.8,144.7 543.6,143.8 546.5,142.9 549.4,141.9 552.2,141 555.1,140 558,139 560.8,137.9 563.7,136.9 566.6,135.8 569.4,134.6 572.3,133.4 575.1,132.1 578,130.8 580.9,129.4 583.7,127.9 586.6,126.5 589.5,124.9 592.3,123.4 595.2,121.8 598.1,120.2 600.9,118.6 603.8,117 606.6,115.4 609.5,113.8 612.4,112.2 615.2,110.5 618.1,108.9 621,107.3 623.8,105.6 626.7,103.8 629.5,102 632.4,100.2 635.3,98.2 638.1,96.2 641,94.1 643.9,91.8 646.7,89.5 649.6,87 652.5,84.4 655.3,81.6 658.2,78.7 661,75.7 663.9,72.5 666.8,69.2 669.6,65.8 672.5,62.3 675.4,58.7 678.2,55.1" fill="none" stroke="#F8766D" stroke-width="1.0" stroke-linejoin="round"/>
<text x="541.2" y="49.8" font-size="6.6" text-anchor="start" fill="#F8766D" font-weight="normal" >ge n=14</text>
<text x="541.2" y="57.1" font-size="6.6" text-anchor="start" fill="#00BFC4" font-weight="normal" >mt n=14</text>
</g>
<rect x="531.3" y="25.5" width="154.7" height="12" fill="#D9D9D9" stroke="#7a7a7a" stroke-width="0.9"/>
<text x="608.65" y="34" font-size="6.8" text-anchor="middle" fill="#1A1A1A" font-weight="normal" >D</text>
<rect x="531.3" y="37.5" width="154.7" height="151.9" fill="none" stroke="#7a7a7a" stroke-width="0.9"/>
<line x1="529" x2="531.3" y1="186.6" y2="186.6" stroke="#7a7a7a" stroke-width="0.9"/>
<text x="527.9" y="189" font-size="6.8" text-anchor="end" fill="#4D4D4D" font-weight="normal" >0.3</text>
<line x1="529" x2="531.3" y1="151.32" y2="151.32" stroke="#7a7a7a" stroke-width="0.9"/>
<text x="527.9" y="153.72" font-size="6.8" text-anchor="end" fill="#4D4D4D" font-weight="normal" >0.6</text>
<line x1="529" x2="531.3" y1="116.05" y2="116.05" stroke="#7a7a7a" stroke-width="0.9"/>
<text x="527.9" y="118.45" font-size="6.8" text-anchor="end" fill="#4D4D4D" font-weight="normal" >0.9</text>
<line x1="529" x2="531.3" y1="80.78" y2="80.78" stroke="#7a7a7a" stroke-width="0.9"/>
<text x="527.9" y="83.18" font-size="6.8" text-anchor="end" fill="#4D4D4D" font-weight="normal" >1.2</text>
<line x1="529" x2="531.3" y1="45.5" y2="45.5" stroke="#7a7a7a" stroke-width="0.9"/>
<text x="527.9" y="47.9" font-size="6.8" text-anchor="end" fill="#4D4D4D" font-weight="normal" >1.5</text>
<rect x="12.3" y="206.3" width="154.1" height="152.2" fill="#fff"/>
<g clip-path="url(#clipA4)">
<line x1="12.3" x2="166.4" y1="328.55" y2="328.55" stroke="#EBEBEB" stroke-width="0.5"/>
<line x1="12.3" x2="166.4" y1="292.85" y2="292.85" stroke="#EBEBEB" stroke-width="0.5"/>
<line x1="12.3" x2="166.4" y1="257.15" y2="257.15" stroke="#EBEBEB" stroke-width="0.5"/>
<line x1="12.3" x2="166.4" y1="221.45" y2="221.45" stroke="#EBEBEB" stroke-width="0.5"/>
<line x1="30.46" x2="30.46" y1="206.3" y2="358.5" stroke="#EBEBEB" stroke-width="0.5"/>
<line x1="59.18" x2="59.18" y1="206.3" y2="358.5" stroke="#EBEBEB" stroke-width="0.5"/>
<line x1="87.9" x2="87.9" y1="206.3" y2="358.5" stroke="#EBEBEB" stroke-width="0.5"/>
<line x1="116.62" x2="116.62" y1="206.3" y2="358.5" stroke="#EBEBEB" stroke-width="0.5"/>
<line x1="145.34" x2="145.34" y1="206.3" y2="358.5" stroke="#EBEBEB" stroke-width="0.5"/>
<line x1="12.3" x2="166.4" y1="346.4" y2="346.4" stroke="#EBEBEB" stroke-width="0.9"/>
<line x1="12.3" x2="166.4" y1="310.7" y2="310.7" stroke="#EBEBEB" stroke-width="0.9"/>
<line x1="12.3" x2="166.4" y1="275" y2="275" stroke="#EBEBEB" stroke-width="0.9"/>
<line x1="12.3" x2="166.4" y1="239.3" y2="239.3" stroke="#EBEBEB" stroke-width="0.9"/>
<line x1="16.1" x2="16.1" y1="206.3" y2="358.5" stroke="#EBEBEB" stroke-width="0.9"/>
<line x1="44.82" x2="44.82" y1="206.3" y2="358.5" stroke="#EBEBEB" stroke-width="0.9"/>
<line x1="73.54" x2="73.54" y1="206.3" y2="358.5" stroke="#EBEBEB" stroke-width="0.9"/>
<line x1="102.26" x2="102.26" y1="206.3" y2="358.5" stroke="#EBEBEB" stroke-width="0.9"/>
<line x1="130.98" x2="130.98" y1="206.3" y2="358.5" stroke="#EBEBEB" stroke-width="0.9"/>
<line x1="159.7" x2="159.7" y1="206.3" y2="358.5" stroke="#EBEBEB" stroke-width="0.9"/>
<path d="M19.9,317.3 24.4,316.4 28.9,315.5 33.4,314.6 37.9,313.6 42.4,312.5 46.9,311.3 51.4,310 55.9,308.6 60.4,306.8 64.9,304.9 69.4,302.6 73.9,300 78.4,297.3 82.9,294.7 87.4,292.4 91.9,290.6 96.4,289.3 100.9,288.3 105.4,287.5 109.9,286.9 114.4,286.4 118.8,285.7 123.3,284.6 127.8,282.6 132.3,279.1 136.8,273.7 141.3,266.8 145.8,259.3 150.3,252.6 154.8,247.2 159.3,242.4" fill="none" stroke="#DFDFDF" stroke-width="0.7" stroke-linejoin="round"/>
<path d="M19.9,314.4 24.4,313.6 28.9,312.9 33.4,312.1 37.9,311.4 42.4,310.7 46.9,310 51.4,309.3 55.9,308.5 60.4,307.4 64.9,305.9 69.4,304 73.9,301.6 78.4,298.9 82.9,296.3 87.4,294.2 91.9,292.7 96.4,291.8 100.9,291.2 105.4,290.6 109.9,289.7 114.4,288.3 118.8,286.2 123.3,283.4 127.8,280 132.3,276.2 136.8,272.2 141.3,267.7 145.8,262.7 150.3,256.8 154.8,250.1 159.3,242.9" fill="none" stroke="#DFDFDF" stroke-width="0.7" stroke-linejoin="round"/>
<path d="M19.9,330.1 24.4,328.5 28.9,327 33.4,325.5 37.9,324.1 42.4,322.9 46.9,321.9 51.4,321.1 55.9,320.2 60.4,319.1 64.9,317.5 69.4,315.1 73.9,312 78.4,308.5 82.9,305 87.4,301.9 91.9,299.8 96.4,298.5 100.9,297.8 105.4,297.7 109.9,297.9 114.4,298.3 118.8,298.6 123.3,298.6 127.8,297.6 132.3,295.1 136.8,290.7 141.3,284.4 145.8,277 150.3,269.2 154.8,261.4 159.3,253.6" fill="none" stroke="#DFDFDF" stroke-width="0.7" stroke-linejoin="round"/>
<path d="M19.9,330 24.4,328.7 28.9,327.3 33.4,326 37.9,324.8 42.4,323.8 46.9,322.9 51.4,322.1 55.9,321.3 60.4,320.5 64.9,319.4 69.4,318 73.9,316.1 78.4,314.1 82.9,312.1 87.4,310.3 91.9,309 96.4,308 100.9,307.2 105.4,306.6 109.9,306 114.4,305.3 118.8,304.3 123.3,302.9 127.8,300.8 132.3,297.6 136.8,293.2 141.3,287.7 145.8,281.8 150.3,276.4 154.8,271.9 159.3,267.7" fill="none" stroke="#DFDFDF" stroke-width="0.7" stroke-linejoin="round"/>
<path d="M19.9,330.1 24.4,329.5 28.9,328.9 33.4,328.2 37.9,327.5 42.4,326.6 46.9,325.6 51.4,324.5 55.9,323.1 60.4,321.6 64.9,320 69.4,318.1 73.9,316 78.4,314 82.9,312 87.4,310.2 91.9,308.8 96.4,307.7 100.9,306.9 105.4,306.1 109.9,305.4 114.4,304.6 118.8,303.6 123.3,302.3 127.8,300.5 132.3,297.9 136.8,294.4 141.3,289.9 145.8,284.6 150.3,278.7 154.8,272.3 159.3,265.8" fill="none" stroke="#DFDFDF" stroke-width="0.7" stroke-linejoin="round"/>
<path d="M19.9,313 24.4,311.6 28.9,310.3 33.4,309.1 37.9,308 42.4,307.1 46.9,306.5 51.4,306.2 55.9,305.8 60.4,305.2 64.9,304.1 69.4,302.2 73.9,299.4 78.4,296.2 82.9,293 87.4,290.2 91.9,288.2 96.4,286.9 100.9,286 105.4,285.3 109.9,284.5 114.4,283.3 118.8,281.4 123.3,279 127.8,276 132.3,272.4 136.8,268.4 141.3,263.8 145.8,258.1 150.3,250.9 154.8,242.1 159.3,232.5" fill="none" stroke="#DFDFDF" stroke-width="0.7" stroke-linejoin="round"/>
<path d="M19.9,318.9 24.4,317.3 28.9,315.6 33.4,313.9 37.9,312.3 42.4,310.6 46.9,309 51.4,307.4 55.9,305.8 60.4,304.1 64.9,302.5 69.4,300.7 73.9,298.9 78.4,297.2 82.9,295.4 87.4,293.8 91.9,292.3 96.4,291 100.9,289.9 105.4,289 109.9,288.2 114.4,287.7 118.8,287.2 123.3,286.5 127.8,285 132.3,282.1 136.8,277.5 141.3,270.9 145.8,263.1 150.3,254.9 154.8,246.6 159.3,238.3" fill="none" stroke="#DFDFDF" stroke-width="0.7" stroke-linejoin="round"/>
<path d="M19.9,327 24.4,325.2 28.9,323.4 33.4,321.8 37.9,320.2 42.4,318.9 46.9,317.8 51.4,316.9 55.9,316 60.4,314.9 64.9,313.3 69.4,311.2 73.9,308.3 78.4,305.1 82.9,302 87.4,299.4 91.9,297.6 96.4,296.5 100.9,296.1 105.4,296 109.9,296.1 114.4,296.3 118.8,296.2 123.3,295.6 127.8,294.1 132.3,291.1 136.8,286.3 141.3,279.8 145.8,272.7 150.3,265.8 154.8,259.6 159.3,253.8" fill="none" stroke="#DFDFDF" stroke-width="0.7" stroke-linejoin="round"/>
<path d="M19.9,314.4 24.4,312.8 28.9,311.1 33.4,309.5 37.9,308 42.4,306.7 46.9,305.5 51.4,304.5 55.9,303.5 60.4,302.4 64.9,301.1 69.4,299.4 73.9,297.3 78.4,295 82.9,292.8 87.4,291 91.9,289.7 96.4,288.9 100.9,288.4 105.4,287.9 109.9,287.2 114.4,286.1 118.8,284.3 123.3,281.9 127.8,278.8 132.3,275.1 136.8,270.7 141.3,265.5 145.8,259.2 150.3,251.4 154.8,242.3 159.3,232.5" fill="none" stroke="#DFDFDF" stroke-width="0.7" stroke-linejoin="round"/>
<path d="M19.9,314.7 24.4,313.7 28.9,312.8 33.4,311.7 37.9,310.6 42.4,309.5 46.9,308.2 51.4,306.7 55.9,305.2 60.4,303.4 64.9,301.5 69.4,299.5 73.9,297.3 78.4,295 82.9,292.6 87.4,290.3 91.9,288.1 96.4,286.1 100.9,284.2 105.4,282.5 109.9,280.9 114.4,279.6 118.8,278.5 123.3,277.3 127.8,275.7 132.3,273.4 136.8,270 141.3,265.4 145.8,259.5 150.3,252.2 154.8,243.8 159.3,234.8" fill="none" stroke="#DFDFDF" stroke-width="0.7" stroke-linejoin="round"/>
<path d="M19.9,332.3 24.4,331.6 28.9,330.9 33.4,330.1 37.9,329.2 42.4,328.2 46.9,327.1 51.4,325.8 55.9,324.3 60.4,322.9 64.9,321.4 69.4,319.9 73.9,318.6 78.4,317.3 82.9,315.9 87.4,314.5 91.9,313 96.4,311.4 100.9,309.7 105.4,308.1 109.9,306.4 114.4,304.9 118.8,303.4 123.3,301.8 127.8,300 132.3,297.6 136.8,294.4 141.3,290.5 145.8,285.9 150.3,280.8 154.8,275.5 159.3,270" fill="none" stroke="#DFDFDF" stroke-width="0.7" stroke-linejoin="round"/>
<path d="M19.9,316.9 24.4,315.9 28.9,314.9 33.4,313.8 37.9,312.7 42.4,311.4 46.9,310.1 51.4,308.6 55.9,307 60.4,305.3 64.9,303.5 69.4,301.7 73.9,299.9 78.4,298.2 82.9,296.6 87.4,295.3 91.9,294.3 96.4,293.5 100.9,292.7 105.4,291.7 109.9,290.5 114.4,288.8 118.8,286.5 123.3,283.6 127.8,280.1 132.3,276.2 136.8,272 141.3,267.2 145.8,261.5 150.3,254.6 154.8,246.4 159.3,237.5" fill="none" stroke="#DFDFDF" stroke-width="0.7" stroke-linejoin="round"/>
<path d="M19.9,317.9 24.4,317.9 28.9,317.8 33.4,317.5 37.9,316.9 42.4,316 46.9,314.6 51.4,312.7 55.9,310.4 60.4,307.9 64.9,305.3 69.4,302.7 73.9,300.3 78.4,297.9 82.9,295.8 87.4,293.9 91.9,292.3 96.4,290.8 100.9,289.6 105.4,288.6 109.9,287.8 114.4,287.2 118.8,286.6 123.3,285.6 127.8,283.7 132.3,280.3 136.8,274.7 141.3,267.4 145.8,259.7 150.3,253.1 154.8,248.1 159.3,244.1" fill="none" stroke="#DFDFDF" stroke-width="0.7" stroke-linejoin="round"/>
<path d="M19.9,319.8 24.4,318.8 28.9,317.7 33.4,316.7 37.9,315.8 42.4,314.8 46.9,314 51.4,313.2 55.9,312.3 60.4,311.2 64.9,309.7 69.4,307.7 73.9,305.3 78.4,302.5 82.9,299.7 87.4,297.1 91.9,295 96.4,293.3 100.9,291.8 105.4,290.4 109.9,288.9 114.4,287.1 118.8,284.8 123.3,282.2 127.8,279.1 132.3,275.8 136.8,272.2 141.3,268.3 145.8,263.5 150.3,257.6 154.8,250.6 159.3,242.9" fill="none" stroke="#DFDFDF" stroke-width="0.7" stroke-linejoin="round"/>
<path d="M19.9,338.6 24.4,336.7 28.9,334.9 33.4,333.1 37.9,331.4 42.4,329.8 46.9,328.5 51.4,327.3 55.9,326.2 60.4,325.1 64.9,324 69.4,322.8 73.9,321.4 78.4,319.9 82.9,318.5 87.4,317.2 91.9,316.1 96.4,315.2 100.9,314.4 105.4,313.4 109.9,312.3 114.4,310.8 118.8,308.8 123.3,306.3 127.8,303.3 132.3,299.7 136.8,295.4 141.3,290.5 145.8,285.1 150.3,279.3 154.8,273.3 159.3,267.1" fill="none" stroke="#F8766D" stroke-width="1.0" stroke-linejoin="round"/>
<path d="M19.9,331.4 24.4,330.2 28.9,329 33.4,327.8 37.9,326.8 42.4,325.9 46.9,325.1 51.4,324.4 55.9,323.9 60.4,323.4 64.9,322.8 69.4,322.1 73.9,321.2 78.4,320.2 82.9,319.3 87.4,318.5 91.9,317.9 96.4,317.4 100.9,316.8 105.4,315.9 109.9,314.5 114.4,312.4 118.8,309.4 123.3,305.6 127.8,301.3 132.3,296.6 136.8,291.6 141.3,286.1 145.8,279 150.3,269.2 154.8,256.8 159.3,242.9" fill="none" stroke="#F8766D" stroke-width="1.0" stroke-linejoin="round"/>
<path d="M19.9,340.5 24.4,339.4 28.9,338.2 33.4,336.9 37.9,335.5 42.4,333.9 46.9,332.1 51.4,330.1 55.9,328.1 60.4,326.1 64.9,324.3 69.4,323 73.9,322.1 78.4,321.5 82.9,321.1 87.4,320.7 91.9,320.2 96.4,319.4 100.9,318.3 105.4,317 109.9,315.4 114.4,313.5 118.8,311.2 123.3,308.5 127.8,305.4 132.3,301.8 136.8,297.8 141.3,293.2 145.8,288.1 150.3,282.4 154.8,276.2 159.3,269.8" fill="none" stroke="#F8766D" stroke-width="1.0" stroke-linejoin="round"/>
<path d="M19.9,323.4 24.4,322.3 28.9,321.3 33.4,320.4 37.9,319.5 42.4,318.7 46.9,318.1 51.4,317.7 55.9,317.2 60.4,316.7 64.9,316.1 69.4,315.1 73.9,313.9 78.4,312.5 82.9,311 87.4,309.7 91.9,308.5 96.4,307.5 100.9,306.5 105.4,305.4 109.9,304.1 114.4,302.4 118.8,300.2 123.3,297.3 127.8,293.4 132.3,288.4 136.8,281.9 141.3,274 145.8,264.6 150.3,253.8 154.8,242 159.3,229.6" fill="none" stroke="#F8766D" stroke-width="1.0" stroke-linejoin="round"/>
<path d="M19.9,320.6 24.4,319.9 28.9,319.3 33.4,318.6 37.9,318 42.4,317.2 46.9,316.5 51.4,315.7 55.9,314.8 60.4,313.9 64.9,312.9 69.4,311.8 73.9,310.7 78.4,309.7 82.9,308.8 87.4,308 91.9,307.5 96.4,307.3 100.9,307 105.4,306.6 109.9,305.9 114.4,304.9 118.8,303.2 123.3,300.6 127.8,296.5 132.3,290.4 136.8,282 141.3,271.2 145.8,258.8 150.3,245.5 154.8,231.9 159.3,218.1" fill="none" stroke="#F8766D" stroke-width="1.0" stroke-linejoin="round"/>
<path d="M19.9,339.3 24.4,338.6 28.9,337.9 33.4,337.1 37.9,336.2 42.4,335.2 46.9,334.1 51.4,332.8 55.9,331.4 60.4,329.8 64.9,328.1 69.4,326.3 73.9,324.4 78.4,322.5 82.9,320.9 87.4,319.5 91.9,318.6 96.4,318.1 100.9,317.5 105.4,316.8 109.9,315.7 114.4,314 118.8,311.5 123.3,308.3 127.8,304.9 132.3,301.4 136.8,298.3 141.3,295.3 145.8,291.8 150.3,287 154.8,280.7 159.3,273.7" fill="none" stroke="#F8766D" stroke-width="1.0" stroke-linejoin="round"/>
<path d="M19.9,330.1 24.4,328.7 28.9,327.3 33.4,325.9 37.9,324.7 42.4,323.6 46.9,322.6 51.4,321.8 55.9,321.1 60.4,320.6 64.9,320.2 69.4,320 73.9,319.9 78.4,319.7 82.9,319.4 87.4,318.9 91.9,318 96.4,316.7 100.9,315 105.4,313 109.9,310.5 114.4,307.7 118.8,304.5 123.3,300.9 127.8,297.1 132.3,293.2 136.8,289.1 141.3,284.6 145.8,278.3 150.3,269.1 154.8,257 159.3,243.3" fill="none" stroke="#F8766D" stroke-width="1.0" stroke-linejoin="round"/>
<path d="M19.9,324.7 24.4,322.4 28.9,320.3 33.4,318.2 37.9,316.4 42.4,315 46.9,313.9 51.4,313.3 55.9,313.1 60.4,313 64.9,313.2 69.4,313.3 73.9,313.4 78.4,313.4 82.9,313.2 87.4,312.8 91.9,312.2 96.4,311.2 100.9,309.9 105.4,308.4 109.9,306.6 114.4,304.6 118.8,302.3 123.3,299.3 127.8,295.2 132.3,289.5 136.8,281.8 141.3,272.1 145.8,260.8 150.3,248.5 154.8,235.7 159.3,222.6" fill="none" stroke="#F8766D" stroke-width="1.0" stroke-linejoin="round"/>
<path d="M19.9,318.5 24.4,318 28.9,317.4 33.4,316.9 37.9,316.5 42.4,316.1 46.9,315.8 51.4,315.6 55.9,315.2 60.4,314.7 64.9,313.9 69.4,312.7 73.9,311 78.4,309 82.9,307.2 87.4,305.7 91.9,304.9 96.4,304.6 100.9,304.4 105.4,304.2 109.9,303.5 114.4,302.2 118.8,300.1 123.3,296.8 127.8,292.5 132.3,286.9 136.8,280.2 141.3,271.9 145.8,261.9 150.3,249.8 154.8,235.7 159.3,220.6" fill="none" stroke="#F8766D" stroke-width="1.0" stroke-linejoin="round"/>
<path d="M19.9,338.9 24.4,337.4 28.9,335.9 33.4,334.5 37.9,333.2 42.4,332.1 46.9,331.3 51.4,330.7 55.9,330.1 60.4,329.6 64.9,328.8 69.4,327.8 73.9,326.3 78.4,324.6 82.9,322.8 87.4,321.1 91.9,319.4 96.4,318 100.9,316.7 105.4,315.4 109.9,314.3 114.4,313.3 118.8,312.2 123.3,310.7 127.8,308.4 132.3,304.8 136.8,299.4 141.3,292.4 145.8,285 150.3,278.3 154.8,273 159.3,268.3" fill="none" stroke="#F8766D" stroke-width="1.0" stroke-linejoin="round"/>
<path d="M19.9,328 24.4,326.8 28.9,325.7 33.4,324.7 37.9,323.8 42.4,323 46.9,322.4 51.4,322 55.9,321.6 60.4,321.3 64.9,320.9 69.4,320.2 73.9,319.4 78.4,318.3 82.9,317.2 87.4,315.9 91.9,314.7 96.4,313.5 100.9,312.3 105.4,311 109.9,309.6 114.4,308.2 118.8,306.6 123.3,304.5 127.8,301.5 132.3,297.2 136.8,291.2 141.3,283.2 145.8,273.8 150.3,263.3 154.8,252.1 159.3,240.4" fill="none" stroke="#F8766D" stroke-width="1.0" stroke-linejoin="round"/>
<path d="M19.9,332.8 24.4,331 28.9,329.3 33.4,327.8 37.9,326.4 42.4,325.3 46.9,324.5 51.4,324 55.9,323.7 60.4,323.4 64.9,323 69.4,322.3 73.9,321.2 78.4,319.9 82.9,318.6 87.4,317.5 91.9,316.7 96.4,316.2 100.9,315.7 105.4,315 109.9,313.8 114.4,312 118.8,309.3 123.3,305.7 127.8,301.4 132.3,296.4 136.8,291 141.3,284.8 145.8,277.4 150.3,268.3 154.8,257.5 159.3,245.9" fill="none" stroke="#F8766D" stroke-width="1.0" stroke-linejoin="round"/>
<path d="M19.9,331 24.4,330.6 28.9,330.1 33.4,329.6 37.9,328.9 42.4,328.1 46.9,327.1 51.4,325.8 55.9,324.4 60.4,322.9 64.9,321.3 69.4,319.7 73.9,318.1 78.4,316.7 82.9,315.6 87.4,314.8 91.9,314.5 96.4,314.5 100.9,314.4 105.4,314 109.9,313 114.4,311.1 118.8,308 123.3,304 127.8,299.4 132.3,294.5 136.8,289.5 141.3,284.5 145.8,278.6 150.3,271.3 154.8,262.3 159.3,252.5" fill="none" stroke="#F8766D" stroke-width="1.0" stroke-linejoin="round"/>
<path d="M19.9,336.6 24.4,335.5 28.9,334.4 33.4,333.4 37.9,332.5 42.4,331.7 46.9,331 51.4,330.5 55.9,330 60.4,329.4 64.9,328.6 69.4,327.5 73.9,326.2 78.4,324.6 82.9,323.2 87.4,322 91.9,321.2 96.4,320.7 100.9,320.2 105.4,319.5 109.9,318.3 114.4,316.5 118.8,313.7 123.3,310.1 127.8,306 132.3,301.6 136.8,297 141.3,292.3 145.8,287 150.3,280.9 154.8,273.8 159.3,266.3" fill="none" stroke="#F8766D" stroke-width="1.0" stroke-linejoin="round"/>
<path d="M19.9,311.2 22.8,311.2 25.6,311.1 28.5,311 31.3,311 34.1,310.9 37,310.7 39.8,310.6 42.7,310.4 45.5,310.1 48.4,309.9 51.2,309.5 54.1,309.1 56.9,308.7 59.7,308.3 62.6,307.8 65.4,307.3 68.3,306.8 71.1,306.2 74,305.6 76.8,304.9 79.7,304.2 82.5,303.4 85.4,302.5 88.2,301.4 91,300.3 93.9,299 96.7,297.6 99.6,296.1 102.4,294.6 105.3,292.9 108.1,291.2 111,289.4 113.8,287.6 116.6,285.7 119.5,283.7 122.3,281.7 125.2,279.5 128,277.2 130.9,274.7 133.7,271.9 136.6,268.9 139.4,265.6 142.2,261.8 145.1,257.7 147.9,253 150.8,247.8 153.6,242.2 156.5,236.3 159.3,230.2" fill="none" stroke="#00BFC4" stroke-width="1.0" stroke-linejoin="round"/>
<path d="M19.9,313 22.8,312.9 25.6,312.7 28.5,312.6 31.3,312.5 34.1,312.4 37,312.3 39.8,312.3 42.7,312.3 45.5,312.3 48.4,312.4 51.2,312.6 54.1,312.8 56.9,312.9 59.7,313.1 62.6,313.3 65.4,313.4 68.3,313.5 71.1,313.5 74,313.5 76.8,313.4 79.7,313.2 82.5,313 85.4,312.7 88.2,312.3 91,311.9 93.9,311.4 96.7,310.8 99.6,310.1 102.4,309.2 105.3,308.2 108.1,307 111,305.6 113.8,304 116.6,302.2 119.5,300.1 122.3,297.7 125.2,295 128,292 130.9,288.7 133.7,284.9 136.6,280.8 139.4,276.3 142.2,271.5 145.1,266.6 147.9,261.6 150.8,256.7 153.6,251.8 156.5,247 159.3,242.2" fill="none" stroke="#00BFC4" stroke-width="1.0" stroke-linejoin="round"/>
<path d="M19.9,323.7 22.8,323.3 25.6,323 28.5,322.6 31.3,322.2 34.1,321.9 37,321.5 39.8,321.1 42.7,320.7 45.5,320.3 48.4,319.9 51.2,319.5 54.1,319.1 56.9,318.7 59.7,318.2 62.6,317.8 65.4,317.4 68.3,316.9 71.1,316.5 74,316.1 76.8,315.7 79.7,315.2 82.5,314.7 85.4,314.2 88.2,313.7 91,313.1 93.9,312.4 96.7,311.6 99.6,310.8 102.4,309.7 105.3,308.5 108.1,307.1 111,305.5 113.8,303.7 116.6,301.6 119.5,299.2 122.3,296.6 125.2,293.6 128,290.5 130.9,287 133.7,283.3 136.6,279.3 139.4,275 142.2,270.6 145.1,265.9 147.9,261.1 150.8,256.2 153.6,251.2 156.5,246.2 159.3,241.1" fill="none" stroke="#00BFC4" stroke-width="1.0" stroke-linejoin="round"/>
<path d="M19.9,331.1 22.8,330.7 25.6,330.2 28.5,329.8 31.3,329.3 34.1,328.9 37,328.4 39.8,328 42.7,327.6 45.5,327.1 48.4,326.7 51.2,326.3 54.1,325.9 56.9,325.4 59.7,325 62.6,324.6 65.4,324.1 68.3,323.7 71.1,323.3 74,322.8 76.8,322.4 79.7,321.9 82.5,321.4 85.4,320.8 88.2,320.2 91,319.6 93.9,318.9 96.7,318.1 99.6,317.3 102.4,316.3 105.3,315.2 108.1,313.9 111,312.4 113.8,310.8 116.6,309 119.5,306.9 122.3,304.6 125.2,302.1 128,299.2 130.9,296.1 133.7,292.7 136.6,288.9 139.4,284.8 142.2,280.4 145.1,275.7 147.9,270.7 150.8,265.5 153.6,260.1 156.5,254.6 159.3,249" fill="none" stroke="#00BFC4" stroke-width="1.0" stroke-linejoin="round"/>
<path d="M19.9,339.5 22.8,338.9 25.6,338.3 28.5,337.7 31.3,337.1 34.1,336.5 37,335.9 39.8,335.3 42.7,334.6 45.5,334 48.4,333.3 51.2,332.6 54.1,331.9 56.9,331.1 59.7,330.4 62.6,329.7 65.4,329 68.3,328.3 71.1,327.6 74,326.9 76.8,326.2 79.7,325.6 82.5,324.9 85.4,324.3 88.2,323.6 91,323 93.9,322.4 96.7,321.7 99.6,320.9 102.4,320.1 105.3,319.1 108.1,318 111,316.8 113.8,315.3 116.6,313.6 119.5,311.7 122.3,309.5 125.2,307.1 128,304.4 130.9,301.4 133.7,298.2 136.6,294.7 139.4,290.8 142.2,286.7 145.1,282.2 147.9,277.5 150.8,272.3 153.6,267 156.5,261.4 159.3,255.8" fill="none" stroke="#00BFC4" stroke-width="1.0" stroke-linejoin="round"/>
<path d="M19.9,341.8 22.8,341.2 25.6,340.6 28.5,340 31.3,339.4 34.1,338.8 37,338.2 39.8,337.5 42.7,336.9 45.5,336.2 48.4,335.5 51.2,334.8 54.1,334.1 56.9,333.4 59.7,332.7 62.6,332 65.4,331.3 68.3,330.5 71.1,329.8 74,329.1 76.8,328.4 79.7,327.7 82.5,327.1 85.4,326.5 88.2,325.9 91,325.4 93.9,324.8 96.7,324.3 99.6,323.6 102.4,322.9 105.3,322.1 108.1,321.1 111,319.9 113.8,318.4 116.6,316.8 119.5,314.8 122.3,312.6 125.2,310.2 128,307.6 130.9,304.7 133.7,301.7 136.6,298.5 139.4,295.1 142.2,291.3 145.1,287.2 147.9,282.6 150.8,277.5 153.6,271.9 156.5,266 159.3,259.9" fill="none" stroke="#00BFC4" stroke-width="1.0" stroke-linejoin="round"/>
<path d="M19.9,345.9 22.8,345.2 25.6,344.5 28.5,343.8 31.3,343.1 34.1,342.4 37,341.7 39.8,341 42.7,340.3 45.5,339.6 48.4,338.9 51.2,338.2 54.1,337.5 56.9,336.8 59.7,336.1 62.6,335.4 65.4,334.6 68.3,333.9 71.1,333.2 74,332.5 76.8,331.8 79.7,331.2 82.5,330.5 85.4,329.9 88.2,329.3 91,328.7 93.9,328.2 96.7,327.6 99.6,327 102.4,326.3 105.3,325.5 108.1,324.5 111,323.4 113.8,322 116.6,320.5 119.5,318.6 122.3,316.6 125.2,314.3 128,311.8 130.9,309 133.7,306 136.6,302.8 139.4,299.3 142.2,295.4 145.1,291.2 147.9,286.5 150.8,281.3 153.6,275.7 156.5,269.8 159.3,263.7" fill="none" stroke="#00BFC4" stroke-width="1.0" stroke-linejoin="round"/>
<path d="M19.9,349.9 22.8,349.1 25.6,348.4 28.5,347.6 31.3,346.8 34.1,346.1 37,345.3 39.8,344.5 42.7,343.8 45.5,343 48.4,342.3 51.2,341.5 54.1,340.8 56.9,340 59.7,339.3 62.6,338.5 65.4,337.7 68.3,336.9 71.1,336 74,335.2 76.8,334.3 79.7,333.5 82.5,332.7 85.4,331.9 88.2,331.1 91,330.4 93.9,329.7 96.7,329 99.6,328.3 102.4,327.6 105.3,326.7 108.1,325.8 111,324.8 113.8,323.5 116.6,322.1 119.5,320.5 122.3,318.7 125.2,316.6 128,314.2 130.9,311.6 133.7,308.5 136.6,305.2 139.4,301.4 142.2,297.3 145.1,292.9 147.9,288.1 150.8,283 153.6,277.7 156.5,272.2 159.3,266.6" fill="none" stroke="#00BFC4" stroke-width="1.0" stroke-linejoin="round"/>
<path d="M19.9,344 22.8,343.5 25.6,342.9 28.5,342.3 31.3,341.7 34.1,341.1 37,340.4 39.8,339.8 42.7,339.1 45.5,338.5 48.4,337.8 51.2,337.1 54.1,336.4 56.9,335.7 59.7,334.9 62.6,334.2 65.4,333.5 68.3,332.8 71.1,332.1 74,331.4 76.8,330.7 79.7,330.1 82.5,329.4 85.4,328.8 88.2,328.2 91,327.5 93.9,326.9 96.7,326.2 99.6,325.4 102.4,324.6 105.3,323.6 108.1,322.5 111,321.3 113.8,319.8 116.6,318.1 119.5,316.2 122.3,314.1 125.2,311.7 128,309 130.9,306 133.7,302.8 136.6,299.2 139.4,295.3 142.2,291.1 145.1,286.6 147.9,281.9 150.8,277 153.6,271.9 156.5,266.7 159.3,261.4" fill="none" stroke="#00BFC4" stroke-width="1.0" stroke-linejoin="round"/>
<path d="M19.9,332.7 22.8,332.3 25.6,331.8 28.5,331.3 31.3,330.8 34.1,330.3 37,329.9 39.8,329.3 42.7,328.8 45.5,328.3 48.4,327.7 51.2,327.2 54.1,326.6 56.9,326 59.7,325.4 62.6,324.8 65.4,324.3 68.3,323.7 71.1,323.2 74,322.7 76.8,322.2 79.7,321.7 82.5,321.2 85.4,320.7 88.2,320.3 91,319.8 93.9,319.2 96.7,318.7 99.6,318 102.4,317.3 105.3,316.4 108.1,315.4 111,314.3 113.8,313 116.6,311.4 119.5,309.7 122.3,307.6 125.2,305.3 128,302.6 130.9,299.6 133.7,296.1 136.6,292.2 139.4,287.9 142.2,283.2 145.1,278.2 147.9,273 150.8,267.7 153.6,262.3 156.5,256.8 159.3,251.3" fill="none" stroke="#00BFC4" stroke-width="1.0" stroke-linejoin="round"/>
<path d="M19.9,325.9 22.8,324 25.6,322.1 28.5,320.1 31.3,318.3 34.1,316.5 37,314.8 39.8,313.2 42.7,311.7 45.5,310.3 48.4,309.1 51.2,308 54.1,307.1 56.9,306.3 59.7,305.8 62.6,305.5 65.4,305.4 68.3,305.5 71.1,305.9 74,306.5 76.8,307.3 79.7,308.2 82.5,309.2 85.4,310.3 88.2,311.3 91,312.3 93.9,313.2 96.7,314 99.6,314.6 102.4,315 105.3,315.1 108.1,314.8 111,314.2 113.8,313.2 116.6,311.8 119.5,310 122.3,307.9 125.2,305.5 128,302.8 130.9,299.7 133.7,296.4 136.6,292.8 139.4,288.7 142.2,284.2 145.1,279.2 147.9,273.6 150.8,267.4 153.6,260.8 156.5,253.8 159.3,246.7" fill="none" stroke="#F8766D" stroke-width="1.0" stroke-linejoin="round"/>
<path d="M19.9,323.7 22.8,321.9 25.6,320.1 28.5,318.3 31.3,316.5 34.1,314.8 37,313.2 39.8,311.5 42.7,310 45.5,308.5 48.4,307.1 51.2,305.7 54.1,304.4 56.9,303.2 59.7,302 62.6,300.9 65.4,299.9 68.3,298.9 71.1,297.9 74,297 76.8,296.2 79.7,295.4 82.5,294.7 85.4,294.1 88.2,293.5 91,293.1 93.9,292.8 96.7,292.6 99.6,292.4 102.4,292.3 105.3,292.2 108.1,292.2 111,292.2 113.8,292.2 116.6,292.2 119.5,292 122.3,291.6 125.2,291.1 128,290.3 130.9,289.2 133.7,287.7 136.6,286 139.4,283.9 142.2,281.6 145.1,278.9 147.9,276 150.8,272.8 153.6,269.5 156.5,266.1 159.3,262.6" fill="none" stroke="#F8766D" stroke-width="1.0" stroke-linejoin="round"/>
<path d="M19.9,303.3 22.8,304.4 25.6,305.6 28.5,306.7 31.3,307.8 34.1,308.8 37,309.8 39.8,310.7 42.7,311.6 45.5,312.4 48.4,313.1 51.2,313.7 54.1,314.2 56.9,314.6 59.7,314.9 62.6,315 65.4,315.1 68.3,315.1 71.1,315.1 74,315 76.8,314.8 79.7,314.6 82.5,314.5 85.4,314.3 88.2,314 91,313.8 93.9,313.5 96.7,313.2 99.6,312.8 102.4,312.4 105.3,311.9 108.1,311.2 111,310.5 113.8,309.5 116.6,308.4 119.5,307 122.3,305.3 125.2,303.3 128,300.9 130.9,298.3 133.7,295.4 136.6,292.4 139.4,289.3 142.2,286.3 145.1,283.3 147.9,280.4 150.8,277.6 153.6,274.8 156.5,272.1 159.3,269.4" fill="none" stroke="#F8766D" stroke-width="1.0" stroke-linejoin="round"/>
<path d="M19.9,332.7 22.8,332 25.6,331.2 28.5,330.4 31.3,329.7 34.1,328.9 37,328.2 39.8,327.5 42.7,326.8 45.5,326.1 48.4,325.5 51.2,324.9 54.1,324.3 56.9,323.7 59.7,323.2 62.6,322.7 65.4,322.3 68.3,321.9 71.1,321.4 74,321.1 76.8,320.7 79.7,320.3 82.5,319.9 85.4,319.5 88.2,319.1 91,318.7 93.9,318.3 96.7,317.8 99.6,317.3 102.4,316.8 105.3,316.2 108.1,315.5 111,314.7 113.8,313.9 116.6,312.9 119.5,311.8 122.3,310.6 125.2,309.1 128,307.2 130.9,305.1 133.7,302.5 136.6,299.4 139.4,296 142.2,292.4 145.1,289 147.9,285.9 150.8,283.4 153.6,281.5 156.5,279.8 159.3,278.4" fill="none" stroke="#F8766D" stroke-width="1.0" stroke-linejoin="round"/>
<path d="M19.9,296.5 22.3,298.8 24.7,301.2 27.1,303.9 29.5,307 32,310.7 34.4,314.9 36.8,319.4 39.2,323.9 41.6,328.2 44,332.2 46.4,335.6 48.8,338.2 51.2,340.3 53.6,342 56,343.4 58.4,344.6 60.8,345.8 63.2,346.9 65.6,347.9 68,348.8 70.4,349.6 72.9,350.3 75.3,350.8 77.7,351.2 80.1,351.5 82.5,351.6 84.9,351.6 87.3,351.4 89.7,351 92.1,350.5 94.5,349.9 96.9,349.1 99.3,348.2 101.7,347 104.1,345.8 106.5,344.3 108.9,342.7 111.4,340.9 113.8,339 116.2,336.8 118.6,334.5 121,331.9 123.4,329 125.8,325.6 128.2,321.8 130.6,317.6 133,312.9 135.4,307.9 137.8,302.9" fill="none" stroke="#F8766D" stroke-width="1.2" stroke-dasharray="2.7,1.8" stroke-linejoin="round"/>
<text x="22.2" y="218.6" font-size="6.6" text-anchor="start" fill="#F8766D" font-weight="normal" >ge n=19</text>
<text x="22.2" y="225.9" font-size="6.6" text-anchor="start" fill="#00BFC4" font-weight="normal" >mt n=10</text>
</g>
<rect x="12.3" y="194.5" width="154.1" height="11.8" fill="#D9D9D9" stroke="#7a7a7a" stroke-width="0.9"/>
<text x="89.35" y="202.9" font-size="6.8" text-anchor="middle" fill="#1A1A1A" font-weight="normal" >E+I</text>
<rect x="12.3" y="206.3" width="154.1" height="152.2" fill="none" stroke="#7a7a7a" stroke-width="0.9"/>
<line x1="10" x2="12.3" y1="346.4" y2="346.4" stroke="#7a7a7a" stroke-width="0.9"/>
<text x="8.9" y="348.8" font-size="6.8" text-anchor="end" fill="#4D4D4D" font-weight="normal" >0.5</text>
<line x1="10" x2="12.3" y1="310.7" y2="310.7" stroke="#7a7a7a" stroke-width="0.9"/>
<text x="8.9" y="313.1" font-size="6.8" text-anchor="end" fill="#4D4D4D" font-weight="normal" >1.0</text>
<line x1="10" x2="12.3" y1="275" y2="275" stroke="#7a7a7a" stroke-width="0.9"/>
<text x="8.9" y="277.4" font-size="6.8" text-anchor="end" fill="#4D4D4D" font-weight="normal" >1.5</text>
<line x1="10" x2="12.3" y1="239.3" y2="239.3" stroke="#7a7a7a" stroke-width="0.9"/>
<text x="8.9" y="241.7" font-size="6.8" text-anchor="end" fill="#4D4D4D" font-weight="normal" >2.0</text>
<rect x="186.3" y="206.3" width="154.1" height="152.2" fill="#fff"/>
<g clip-path="url(#clipA5)">
<line x1="186.3" x2="340.4" y1="336.98" y2="336.98" stroke="#EBEBEB" stroke-width="0.5"/>
<line x1="186.3" x2="340.4" y1="306.52" y2="306.52" stroke="#EBEBEB" stroke-width="0.5"/>
<line x1="186.3" x2="340.4" y1="276.07" y2="276.07" stroke="#EBEBEB" stroke-width="0.5"/>
<line x1="186.3" x2="340.4" y1="245.62" y2="245.62" stroke="#EBEBEB" stroke-width="0.5"/>
<line x1="186.3" x2="340.4" y1="215.18" y2="215.18" stroke="#EBEBEB" stroke-width="0.5"/>
<line x1="204.46" x2="204.46" y1="206.3" y2="358.5" stroke="#EBEBEB" stroke-width="0.5"/>
<line x1="233.18" x2="233.18" y1="206.3" y2="358.5" stroke="#EBEBEB" stroke-width="0.5"/>
<line x1="261.9" x2="261.9" y1="206.3" y2="358.5" stroke="#EBEBEB" stroke-width="0.5"/>
<line x1="290.62" x2="290.62" y1="206.3" y2="358.5" stroke="#EBEBEB" stroke-width="0.5"/>
<line x1="319.34" x2="319.34" y1="206.3" y2="358.5" stroke="#EBEBEB" stroke-width="0.5"/>
<line x1="186.3" x2="340.4" y1="352.2" y2="352.2" stroke="#EBEBEB" stroke-width="0.9"/>
<line x1="186.3" x2="340.4" y1="321.75" y2="321.75" stroke="#EBEBEB" stroke-width="0.9"/>
<line x1="186.3" x2="340.4" y1="291.3" y2="291.3" stroke="#EBEBEB" stroke-width="0.9"/>
<line x1="186.3" x2="340.4" y1="260.85" y2="260.85" stroke="#EBEBEB" stroke-width="0.9"/>
<line x1="186.3" x2="340.4" y1="230.4" y2="230.4" stroke="#EBEBEB" stroke-width="0.9"/>
<line x1="190.1" x2="190.1" y1="206.3" y2="358.5" stroke="#EBEBEB" stroke-width="0.9"/>
<line x1="218.82" x2="218.82" y1="206.3" y2="358.5" stroke="#EBEBEB" stroke-width="0.9"/>
<line x1="247.54" x2="247.54" y1="206.3" y2="358.5" stroke="#EBEBEB" stroke-width="0.9"/>
<line x1="276.26" x2="276.26" y1="206.3" y2="358.5" stroke="#EBEBEB" stroke-width="0.9"/>
<line x1="304.98" x2="304.98" y1="206.3" y2="358.5" stroke="#EBEBEB" stroke-width="0.9"/>
<line x1="333.7" x2="333.7" y1="206.3" y2="358.5" stroke="#EBEBEB" stroke-width="0.9"/>
<path d="M193.9,274.5 198.4,279.3 202.9,284 207.4,288.6 211.9,292.9 216.4,296.9 220.9,300.5 225.4,303.7 230,306.7 234.5,309.5 239,312.4 243.5,315.6 248,319.1 252.5,323.1 257,327.4 261.5,331.5 266,334.8 270.5,336.9 275,337.3 279.5,335.6 284,332 288.5,327.6 293,323.3 297.5,320 302,318.4 306.5,318 311,317.3 315.5,314.5 320,308.2 324.5,296.8 329,281.1 333.5,263" fill="none" stroke="#DFDFDF" stroke-width="0.7" stroke-linejoin="round"/>
<path d="M193.9,325.5 198.4,326.7 202.9,328 207.4,329.4 211.9,330.9 216.4,332.6 220.9,334.6 225.4,336.8 230,339.1 234.5,341.3 239,343.4 243.5,345.1 248,346.4 252.5,347 257,347.1 261.5,346.7 266,345.8 270.5,344.7 275,343.4 279.5,341.9 284,340.4 288.5,338.9 293,337.3 297.5,335.7 302,334 306.5,332.1 311,329.8 315.5,326.6 320,322.3 324.5,316.6 329,309.8 333.5,302.4" fill="none" stroke="#DFDFDF" stroke-width="0.7" stroke-linejoin="round"/>
<path d="M193.9,324 198.4,325 202.9,326 207.4,327.2 211.9,328.5 216.4,330 220.9,331.8 225.4,333.9 230,336.2 234.5,338.5 239,340.7 243.5,342.8 248,344.5 252.5,345.9 257,346.7 261.5,347.2 266,347.3 270.5,347 275,346.3 279.5,345.3 284,344 288.5,342.4 293,340.5 297.5,338.5 302,336.2 306.5,333.6 311,330.5 315.5,326.5 320,321.4 324.5,315 329,307.6 333.5,299.6" fill="none" stroke="#DFDFDF" stroke-width="0.7" stroke-linejoin="round"/>
<path d="M193.9,260 198.4,266.7 202.9,273.3 207.4,279.8 211.9,286 216.4,291.9 220.9,297.5 225.4,302.7 230,307.4 234.5,311.7 239,315.7 243.5,319.3 248,322.6 252.5,325.5 257,328 261.5,330 266,331.4 270.5,332 275,331.7 279.5,330.4 284,328.4 288.5,326.2 293,324.2 297.5,323 302,322.9 306.5,323.2 311,322 315.5,317.6 320,308.3 324.5,292.6 329,271.2 333.5,247.1" fill="none" stroke="#DFDFDF" stroke-width="0.7" stroke-linejoin="round"/>
<path d="M193.9,285 198.4,287.3 202.9,289.6 207.4,292 211.9,294.5 216.4,297.3 220.9,300.2 225.4,303.5 230,306.9 234.5,310.5 239,314.2 243.5,317.9 248,321.6 252.5,325.2 257,328.6 261.5,331.5 266,333.7 270.5,334.9 275,335 279.5,333.6 284,331.2 288.5,328.1 293,325.1 297.5,322.7 302,321.3 306.5,320.5 311,319 315.5,315.9 320,309.8 324.5,299.6 329,286 333.5,270.6" fill="none" stroke="#DFDFDF" stroke-width="0.7" stroke-linejoin="round"/>
<path d="M193.9,250.7 198.4,257.5 202.9,264.2 207.4,270.9 211.9,277.3 216.4,283.6 220.9,289.7 225.4,295.4 230,300.8 234.5,305.9 239,310.7 243.5,315.1 248,319.2 252.5,322.8 257,326 261.5,328.7 266,330.6 270.5,331.8 275,332 279.5,331.3 284,329.8 288.5,327.9 293,326.1 297.5,324.6 302,324 306.5,323.3 311,321.1 315.5,315.8 320,306.1 324.5,290.5 329,269.8 333.5,246.6" fill="none" stroke="#DFDFDF" stroke-width="0.7" stroke-linejoin="round"/>
<path d="M193.9,315.1 198.4,316.7 202.9,318.3 207.4,319.9 211.9,321.4 216.4,322.8 220.9,324.2 225.4,325.4 230,326.6 234.5,327.9 239,329.5 243.5,331.3 248,333.5 252.5,336.2 257,339.1 261.5,341.9 266,344.2 270.5,345.7 275,345.8 279.5,344.4 284,341.5 288.5,337.8 293,333.9 297.5,330.2 302,327.3 306.5,325 311,322.8 315.5,320.1 320,316.2 324.5,310.7 329,303.7 333.5,296" fill="none" stroke="#DFDFDF" stroke-width="0.7" stroke-linejoin="round"/>
<path d="M193.9,237.2 198.4,246 202.9,254.8 207.4,263.3 211.9,271.6 216.4,279.5 220.9,287 225.4,294 230,300.5 234.5,306.4 239,311.8 243.5,316.6 248,320.7 252.5,324.3 257,327.3 261.5,329.6 266,331.4 270.5,332.6 275,333.1 279.5,333.2 284,332.7 288.5,331.9 293,330.8 297.5,329.6 302,328.4 306.5,326.4 311,322.5 315.5,315.6 320,304.4 324.5,288 329,267 333.5,243.8" fill="none" stroke="#DFDFDF" stroke-width="0.7" stroke-linejoin="round"/>
<path d="M193.9,260.2 198.4,266.6 202.9,273 207.4,279.2 211.9,285.2 216.4,291 220.9,296.4 225.4,301.5 230,306.2 234.5,310.5 239,314.6 243.5,318.5 248,322.1 252.5,325.5 257,328.6 261.5,331.1 266,332.9 270.5,333.7 275,333.3 279.5,331.5 284,328.8 288.5,325.6 293,322.8 297.5,321 302,320.8 306.5,321.3 311,320.7 315.5,317.2 320,309 324.5,294.3 329,274.2 333.5,251.3" fill="none" stroke="#DFDFDF" stroke-width="0.7" stroke-linejoin="round"/>
<path d="M193.9,307.8 198.4,308.8 202.9,309.8 207.4,310.8 211.9,311.8 216.4,312.9 220.9,314 225.4,315.1 230,316.3 234.5,317.7 239,319.2 243.5,321 248,322.9 252.5,325.2 257,327.7 261.5,330.1 266,332.4 270.5,334.2 275,335.4 279.5,335.9 284,335.6 288.5,334.6 293,332.9 297.5,330.8 302,328.1 306.5,325 311,321.3 315.5,316.9 320,311.7 324.5,305.5 329,298.5 333.5,291.2" fill="none" stroke="#DFDFDF" stroke-width="0.7" stroke-linejoin="round"/>
<path d="M193.9,237.3 198.4,246.6 202.9,255.6 207.4,264.3 211.9,272.5 216.4,279.8 220.9,286.2 225.4,291.6 230,296.2 234.5,300.3 239,304.3 243.5,308.3 248,312.8 252.5,317.9 257,323.4 261.5,328.8 266,333.6 270.5,337.1 275,339 279.5,338.6 284,336.4 288.5,333.3 293,330 297.5,327.5 302,326.5 306.5,326.2 311,324.7 315.5,319.8 320,309.7 324.5,292.5 329,269.2 333.5,242.9" fill="none" stroke="#DFDFDF" stroke-width="0.7" stroke-linejoin="round"/>
<path d="M193.9,329 198.4,330.6 202.9,332.1 207.4,333.7 211.9,335.3 216.4,336.8 220.9,338.3 225.4,339.8 230,341.2 234.5,342.6 239,343.8 243.5,344.9 248,345.8 252.5,346.5 257,347 261.5,347.3 266,347.3 270.5,347.1 275,346.7 279.5,346 284,345.1 288.5,343.9 293,342.4 297.5,340.5 302,338.3 306.5,335.7 311,332.4 315.5,328.5 320,323.7 324.5,318 329,311.5 333.5,304.6" fill="none" stroke="#DFDFDF" stroke-width="0.7" stroke-linejoin="round"/>
<path d="M193.9,310.8 198.4,312.3 202.9,313.8 207.4,315.2 211.9,316.7 216.4,318.1 220.9,319.5 225.4,320.9 230,322.3 234.5,323.6 239,324.9 243.5,326.2 248,327.5 252.5,328.8 257,330 261.5,331.3 266,332.5 270.5,333.6 275,334.7 279.5,335.7 284,336.5 288.5,336.8 293,336.4 297.5,335.1 302,332.5 306.5,328.9 311,324.4 315.5,319.2 320,313.6 324.5,307.9 329,302 333.5,296.2" fill="none" stroke="#DFDFDF" stroke-width="0.7" stroke-linejoin="round"/>
<path d="M193.9,323.3 198.4,323.9 202.9,324.7 207.4,325.4 211.9,326.3 216.4,327.2 220.9,328.3 225.4,329.6 230,330.9 234.5,332.4 239,333.9 243.5,335.4 248,336.8 252.5,338.2 257,339.5 261.5,340.6 266,341.5 270.5,342.1 275,342.4 279.5,342.2 284,341.6 288.5,340.6 293,339.1 297.5,337 302,334.5 306.5,331.4 311,327.6 315.5,323.2 320,317.9 324.5,311.9 329,305.2 333.5,298.2" fill="none" stroke="#DFDFDF" stroke-width="0.7" stroke-linejoin="round"/>
<path d="M193.9,270.8 198.4,274.6 202.9,278.3 207.4,282.2 211.9,286.2 216.4,290.3 220.9,294.8 225.4,299.4 230,304.2 234.5,309.1 239,313.8 243.5,318.4 248,322.6 252.5,326.5 257,329.8 261.5,332.5 266,334.3 270.5,335.4 275,335.3 279.5,334.2 284,332.3 288.5,329.8 293,327.5 297.5,325.6 302,324.5 306.5,323.6 311,321.6 315.5,317 320,308.6 324.5,294.9 329,276.9 333.5,256.7" fill="none" stroke="#DFDFDF" stroke-width="0.7" stroke-linejoin="round"/>
<path d="M193.9,292 198.4,294.6 202.9,297.1 207.4,299.6 211.9,302.1 216.4,304.4 220.9,306.7 225.4,309 230,311.1 234.5,313.3 239,315.6 243.5,318.1 248,320.7 252.5,323.6 257,326.6 261.5,329.4 266,331.8 270.5,333.5 275,334.2 279.5,333.7 284,332.2 288.5,330 293,327.6 297.5,325.3 302,323.6 306.5,322.1 311,320 315.5,316.4 320,310.5 324.5,301.5 329,289.9 333.5,276.9" fill="none" stroke="#DFDFDF" stroke-width="0.7" stroke-linejoin="round"/>
<path d="M193.9,312.5 198.4,311.3 202.9,310.2 207.4,309.4 211.9,308.9 216.4,309 220.9,309.8 225.4,311.2 230,313.2 234.5,315.5 239,318 243.5,320.6 248,323 252.5,325.1 257,326.8 261.5,328.1 266,329.2 270.5,329.9 275,330.4 279.5,330.7 284,330.6 288.5,330.3 293,329.7 297.5,328.8 302,327.6 306.5,325.9 311,323.3 315.5,319.5 320,314.2 324.5,307.2 329,298.7 333.5,289.5" fill="none" stroke="#DFDFDF" stroke-width="0.7" stroke-linejoin="round"/>
<path d="M193.9,245.2 198.4,253.4 202.9,261.4 207.4,269.2 211.9,276.7 216.4,283.6 220.9,290 225.4,295.7 230,300.8 234.5,305.4 239,309.7 243.5,313.7 248,317.6 252.5,321.4 257,325.1 261.5,328.4 266,331.1 270.5,332.9 275,333.7 279.5,333.2 284,331.6 288.5,329.5 293,327.3 297.5,325.6 302,324.6 306.5,323.7 311,321.4 315.5,316.2 320,306.4 324.5,290.8 329,270.2 333.5,247.1" fill="none" stroke="#DFDFDF" stroke-width="0.7" stroke-linejoin="round"/>
<path d="M193.9,350.8 197.1,316.2 200.3,285.9 203.4,264.3 206.6,252.4 209.8,247.9 213,248.4 216.1,252.7 219.3,259.5 222.5,267.8 225.7,276.8 228.8,285.7 232,293.8 235.2,300.5 238.3,306 241.5,310.5 244.7,314.3 247.9,317.7 251,320.7 254.2,323.6 257.4,326.3 260.6,328.7 263.7,330.8 266.9,332.5 270.1,333.7 273.3,334.6 276.4,335 279.6,334.9 282.8,334.4 285.9,333.5 289.1,332.1 292.3,330.3 295.5,328.1 298.6,325.6 301.8,322.8 305,319.9 308.2,316.9 311.3,313.8 314.5,310.7 317.7,307.6 320.9,304.5 324,301.3 327.2,298.2 330.4,295.1 333.5,292" fill="none" stroke="#DFDFDF" stroke-width="0.7" stroke-linejoin="round"/>
<path d="M193.9,296.5 196.8,298.8 199.6,301.1 202.5,303.4 205.3,305.7 208.2,308.1 211,310.5 213.9,313 216.7,315.5 219.6,318.1 222.4,320.6 225.3,323.1 228.1,325.6 231,328 233.8,330.2 236.7,332.3 239.5,334.3 242.4,336 245.2,337.6 248.1,339 250.9,340.1 253.8,341 256.6,341.6 259.5,342 262.3,342 265.2,341.8 268,341.2 270.9,340.3 273.7,339.2 276.6,337.7 279.4,336.1 282.3,334.1 285.1,332 288,329.7 290.8,327.2 293.7,324.6 296.5,321.8 299.4,318.9 302.2,316 305,312.7 307.9,309 310.7,304.6 313.6,299.3 316.4,293 319.3,285 322.1,275.1 325,262.6 327.8,247.8 330.7,231.3 333.5,213.9" fill="none" stroke="#F8766D" stroke-width="1.0" stroke-linejoin="round"/>
<path d="M193.9,307.8 196.8,308.1 199.6,308.3 202.5,308.6 205.3,308.9 208.2,309.3 211,309.9 213.9,310.5 216.7,311.3 219.6,312.2 222.4,313.3 225.3,314.6 228.1,316 231,317.5 233.8,319 236.7,320.6 239.5,322.1 242.4,323.6 245.2,325 248.1,326.2 250.9,327.4 253.8,328.4 256.6,329.2 259.5,329.9 262.3,330.3 265.2,330.5 268,330.4 270.9,330.1 273.7,329.5 276.6,328.7 279.4,327.7 282.3,326.5 285.1,325.2 288,323.6 290.8,321.9 293.7,320 296.5,317.9 299.4,315.5 302.2,312.8 305,309.9 307.9,306.6 310.7,302.9 313.6,298.9 316.4,294.5 319.3,289.8 322.1,284.9 325,279.8 327.8,274.5 330.7,269.1 333.5,263.7" fill="none" stroke="#F8766D" stroke-width="1.0" stroke-linejoin="round"/>
<path d="M193.9,320.3 196.8,318.6 199.6,317 202.5,315.4 205.3,313.9 208.2,312.6 211,311.4 213.9,310.3 216.7,309.4 219.6,308.7 222.4,308.1 225.3,307.7 228.1,307.5 231,307.5 233.8,307.7 236.7,308.2 239.5,308.9 242.4,310 245.2,311.4 248.1,313.1 250.9,315.2 253.8,317.4 256.6,319.9 259.5,322.5 262.3,325.3 265.2,328.1 268,330.8 270.9,333.3 273.7,335.5 276.6,337.3 279.4,338.5 282.3,339.1 285.1,339.2 288,338.8 290.8,337.9 293.7,336.6 296.5,334.8 299.4,332.6 302.2,329.8 305,326.6 307.9,322.9 310.7,318.7 313.6,314 316.4,308.8 319.3,303.2 322.1,297.3 325,291.1 327.8,284.7 330.7,278.2 333.5,271.6" fill="none" stroke="#F8766D" stroke-width="1.0" stroke-linejoin="round"/>
<path d="M193.9,305.6 196.8,307.5 199.6,309.4 202.5,311.3 205.3,313.2 208.2,315.2 211,317.1 213.9,319.2 216.7,321.3 219.6,323.4 222.4,325.6 225.3,327.8 228.1,330 231,332.1 233.8,334.1 236.7,336.1 239.5,337.8 242.4,339.3 245.2,340.5 248.1,341.5 250.9,342.1 253.8,342.3 256.6,342.3 259.5,342 262.3,341.4 265.2,340.7 268,339.8 270.9,338.6 273.7,337.2 276.6,335.7 279.4,333.9 282.3,331.8 285.1,329.6 288,327.3 290.8,324.7 293.7,322.1 296.5,319.4 299.4,316.6 302.2,313.8 305,311 307.9,308.3 310.7,305.6 313.6,303 316.4,300.6 319.3,298.3 322.1,296.3 325,294.4 327.8,292.8 330.7,291.2 333.5,289.7" fill="none" stroke="#F8766D" stroke-width="1.0" stroke-linejoin="round"/>
<path d="M193.9,312.4 196.8,313.1 199.6,313.9 202.5,314.7 205.3,315.5 208.2,316.3 211,317.1 213.9,318 216.7,318.8 219.6,319.7 222.4,320.6 225.3,321.6 228.1,322.6 231,323.6 233.8,324.6 236.7,325.7 239.5,326.7 242.4,327.8 245.2,328.8 248.1,329.7 250.9,330.5 253.8,331.3 256.6,331.9 259.5,332.3 262.3,332.6 265.2,332.7 268,332.6 270.9,332.3 273.7,331.7 276.6,331 279.4,330 282.3,328.8 285.1,327.5 288,325.9 290.8,324.1 293.7,322.2 296.5,320.2 299.4,318.3 302.2,316.4 305,314.8 307.9,313.3 310.7,312.3 313.6,311.6 316.4,311.2 319.3,311.1 322.1,311.3 325,311.7 327.8,312.2 330.7,312.8 333.5,313.5" fill="none" stroke="#F8766D" stroke-width="1.0" stroke-linejoin="round"/>
<path d="M193.9,298.8 196.8,301.1 199.6,303.4 202.5,305.7 205.3,308 208.2,310.2 211,312.4 213.9,314.6 216.7,316.8 219.6,318.9 222.4,320.9 225.3,322.9 228.1,324.8 231,326.6 233.8,328.3 236.7,329.9 239.5,331.4 242.4,332.6 245.2,333.7 248.1,334.7 250.9,335.5 253.8,336.1 256.6,336.6 259.5,336.9 262.3,337.2 265.2,337.3 268,337.2 270.9,337.1 273.7,336.7 276.6,336.2 279.4,335.5 282.3,334.5 285.1,333.3 288,331.8 290.8,330 293.7,327.9 296.5,325.5 299.4,322.8 302.2,319.9 305,316.9 307.9,313.6 310.7,310.2 313.6,306.8 316.4,303.2 319.3,299.5 322.1,295.8 325,292.1 327.8,288.3 330.7,284.5 333.5,280.7" fill="none" stroke="#F8766D" stroke-width="1.0" stroke-linejoin="round"/>
<path d="M193.9,319.1 196.8,320.3 199.6,321.4 202.5,322.5 205.3,323.6 208.2,324.7 211,325.8 213.9,326.9 216.7,327.9 219.6,328.9 222.4,329.9 225.3,330.9 228.1,331.8 231,332.6 233.8,333.5 236.7,334.2 239.5,335 242.4,335.6 245.2,336.2 248.1,336.6 250.9,337 253.8,337.2 256.6,337.4 259.5,337.4 262.3,337.2 265.2,336.8 268,336.2 270.9,335.3 273.7,334.2 276.6,332.7 279.4,330.9 282.3,328.9 285.1,326.7 288,324.3 290.8,321.8 293.7,319.3 296.5,316.8 299.4,314.5 302.2,312.2 305,310 307.9,307.7 310.7,305.2 313.6,302.5 316.4,299.3 319.3,295.7 322.1,291.4 325,286.5 327.8,281.1 330.7,275.3 333.5,269.4" fill="none" stroke="#F8766D" stroke-width="1.0" stroke-linejoin="round"/>
<path d="M193.9,318 196.8,318.4 199.6,318.7 202.5,319.1 205.3,319.4 208.2,319.8 211,320.2 213.9,320.5 216.7,320.9 219.6,321.4 222.4,321.8 225.3,322.2 228.1,322.7 231,323.1 233.8,323.5 236.7,323.9 239.5,324.3 242.4,324.6 245.2,324.9 248.1,325.2 250.9,325.4 253.8,325.5 256.6,325.5 259.5,325.5 262.3,325.4 265.2,325.2 268,325 270.9,324.6 273.7,324.2 276.6,323.7 279.4,323.1 282.3,322.4 285.1,321.6 288,320.7 290.8,319.8 293.7,318.9 296.5,317.9 299.4,316.8 302.2,315.7 305,314.6 307.9,313.4 310.7,312.1 313.6,310.8 316.4,309.4 319.3,307.9 322.1,306.2 325,304.6 327.8,302.8 330.7,301 333.5,299.2" fill="none" stroke="#00BFC4" stroke-width="1.1" stroke-linejoin="round"/>
<text x="196.2" y="218.6" font-size="6.6" text-anchor="start" fill="#F8766D" font-weight="normal" >ge n=7</text>
<text x="196.2" y="225.9" font-size="6.6" text-anchor="start" fill="#00BFC4" font-weight="normal" >mt n=1</text>
</g>
<rect x="186.3" y="194.5" width="154.1" height="11.8" fill="#D9D9D9" stroke="#7a7a7a" stroke-width="0.9"/>
<text x="263.35" y="202.9" font-size="6.8" text-anchor="middle" fill="#1A1A1A" font-weight="normal" >F</text>
<rect x="186.3" y="206.3" width="154.1" height="152.2" fill="none" stroke="#7a7a7a" stroke-width="0.9"/>
<line x1="184" x2="186.3" y1="352.2" y2="352.2" stroke="#7a7a7a" stroke-width="0.9"/>
<text x="182.9" y="354.6" font-size="6.8" text-anchor="end" fill="#4D4D4D" font-weight="normal" >0.75</text>
<line x1="184" x2="186.3" y1="321.75" y2="321.75" stroke="#7a7a7a" stroke-width="0.9"/>
<text x="182.9" y="324.15" font-size="6.8" text-anchor="end" fill="#4D4D4D" font-weight="normal" >1.00</text>
<line x1="184" x2="186.3" y1="291.3" y2="291.3" stroke="#7a7a7a" stroke-width="0.9"/>
<text x="182.9" y="293.7" font-size="6.8" text-anchor="end" fill="#4D4D4D" font-weight="normal" >1.25</text>
<line x1="184" x2="186.3" y1="260.85" y2="260.85" stroke="#7a7a7a" stroke-width="0.9"/>
<text x="182.9" y="263.25" font-size="6.8" text-anchor="end" fill="#4D4D4D" font-weight="normal" >1.50</text>
<line x1="184" x2="186.3" y1="230.4" y2="230.4" stroke="#7a7a7a" stroke-width="0.9"/>
<text x="182.9" y="232.8" font-size="6.8" text-anchor="end" fill="#4D4D4D" font-weight="normal" >1.75</text>
<rect x="360.5" y="206.3" width="153.8" height="152.2" fill="#fff"/>
<g clip-path="url(#clipA6)">
<line x1="360.5" x2="514.3" y1="332.82" y2="332.82" stroke="#EBEBEB" stroke-width="0.5"/>
<line x1="360.5" x2="514.3" y1="287.25" y2="287.25" stroke="#EBEBEB" stroke-width="0.5"/>
<line x1="360.5" x2="514.3" y1="241.68" y2="241.68" stroke="#EBEBEB" stroke-width="0.5"/>
<line x1="378.76" x2="378.76" y1="206.3" y2="358.5" stroke="#EBEBEB" stroke-width="0.5"/>
<line x1="407.48" x2="407.48" y1="206.3" y2="358.5" stroke="#EBEBEB" stroke-width="0.5"/>
<line x1="436.2" x2="436.2" y1="206.3" y2="358.5" stroke="#EBEBEB" stroke-width="0.5"/>
<line x1="464.92" x2="464.92" y1="206.3" y2="358.5" stroke="#EBEBEB" stroke-width="0.5"/>
<line x1="493.64" x2="493.64" y1="206.3" y2="358.5" stroke="#EBEBEB" stroke-width="0.5"/>
<line x1="360.5" x2="514.3" y1="355.6" y2="355.6" stroke="#EBEBEB" stroke-width="0.9"/>
<line x1="360.5" x2="514.3" y1="310.03" y2="310.03" stroke="#EBEBEB" stroke-width="0.9"/>
<line x1="360.5" x2="514.3" y1="264.47" y2="264.47" stroke="#EBEBEB" stroke-width="0.9"/>
<line x1="360.5" x2="514.3" y1="218.9" y2="218.9" stroke="#EBEBEB" stroke-width="0.9"/>
<line x1="364.4" x2="364.4" y1="206.3" y2="358.5" stroke="#EBEBEB" stroke-width="0.9"/>
<line x1="393.12" x2="393.12" y1="206.3" y2="358.5" stroke="#EBEBEB" stroke-width="0.9"/>
<line x1="421.84" x2="421.84" y1="206.3" y2="358.5" stroke="#EBEBEB" stroke-width="0.9"/>
<line x1="450.56" x2="450.56" y1="206.3" y2="358.5" stroke="#EBEBEB" stroke-width="0.9"/>
<line x1="479.28" x2="479.28" y1="206.3" y2="358.5" stroke="#EBEBEB" stroke-width="0.9"/>
<line x1="508" x2="508" y1="206.3" y2="358.5" stroke="#EBEBEB" stroke-width="0.9"/>
<path d="M367.9,349.2 372.4,350.4 376.9,351.4 381.4,352.4 385.9,353.3 390.4,354.1 394.9,354.6 399.4,354.9 404,355 408.5,354.8 413,354.2 417.5,353.5 422,352.6 426.5,351.6 431,350.6 435.5,349.5 440,348.5 444.5,347.6 449,346.8 453.5,346 458,345.2 462.5,344.3 467,343.3 471.5,342.3 476,341.2 480.5,340 485,338.7 489.5,337.4 494,335.9 498.5,334.4 503,332.7 507.5,331" fill="none" stroke="#DFDFDF" stroke-width="0.7" stroke-linejoin="round"/>
<path d="M367.9,347.1 372.4,347.3 376.9,347.6 381.4,347.8 385.9,348.1 390.4,348.4 394.9,348.7 399.4,349 404,349.3 408.5,349.6 413,350 417.5,350.3 422,350.5 426.5,350.7 431,350.7 435.5,350.6 440,350.2 444.5,349.7 449,348.9 453.5,348 458,346.8 462.5,345.6 467,344 471.5,342 476,339.2 480.5,335.2 485,330.1 489.5,324.6 494,319.8 498.5,316.4 503,314.4 507.5,313.2" fill="none" stroke="#DFDFDF" stroke-width="0.7" stroke-linejoin="round"/>
<path d="M367.9,349.2 372.4,348.8 376.9,348.4 381.4,348.1 385.9,347.9 390.4,347.8 394.9,347.8 399.4,347.9 404,348.3 408.5,348.8 413,349.5 417.5,350.3 422,351 426.5,351.5 431,351.8 435.5,351.7 440,351.2 444.5,350.2 449,348.9 453.5,347.6 458,346.3 462.5,345.3 467,344.8 471.5,344.2 476,343.2 480.5,341.4 485,338.5 489.5,335.2 494,331.9 498.5,329.2 503,327.1 507.5,325.4" fill="none" stroke="#DFDFDF" stroke-width="0.7" stroke-linejoin="round"/>
<path d="M367.9,348.8 372.4,348.5 376.9,348.2 381.4,348 385.9,347.7 390.4,347.5 394.9,347.3 399.4,347.2 404,347.1 408.5,347.1 413,347.2 417.5,347.3 422,347.5 426.5,347.7 431,348.1 435.5,348.5 440,349 444.5,349.6 449,350.1 453.5,350.4 458,350.3 462.5,349.7 467,348.5 471.5,346.7 476,344.4 480.5,341.4 485,338 489.5,334.2 494,330.1 498.5,326 503,321.9 507.5,317.8" fill="none" stroke="#DFDFDF" stroke-width="0.7" stroke-linejoin="round"/>
<path d="M367.9,349.5 372.4,349.6 376.9,349.7 381.4,349.8 385.9,349.9 390.4,350 394.9,350.2 399.4,350.3 404,350.5 408.5,350.8 413,351 417.5,351.1 422,351.2 426.5,351.1 431,350.7 435.5,350.1 440,349.2 444.5,348 449,346.5 453.5,345.1 458,343.6 462.5,342.5 467,341.5 471.5,340.5 476,339 480.5,336.6 485,333.3 489.5,329.4 494,325.4 498.5,321.9 503,319 507.5,316.3" fill="none" stroke="#DFDFDF" stroke-width="0.7" stroke-linejoin="round"/>
<path d="M367.9,349.4 372.4,349.5 376.9,349.6 381.4,349.8 385.9,349.9 390.4,350.1 394.9,350.3 399.4,350.6 404,350.9 408.5,351.2 413,351.6 417.5,351.9 422,352.1 426.5,352.1 431,351.9 435.5,351.4 440,350.6 444.5,349.5 449,348.1 453.5,346.5 458,344.9 462.5,343.4 467,341.9 471.5,340.2 476,338 480.5,335 485,331 489.5,326.5 494,321.8 498.5,317.5 503,313.5 507.5,309.7" fill="none" stroke="#DFDFDF" stroke-width="0.7" stroke-linejoin="round"/>
<path d="M367.9,351.9 372.4,352.2 376.9,352.5 381.4,352.7 385.9,352.9 390.4,353 394.9,353 399.4,352.9 404,352.7 408.5,352.3 413,351.8 417.5,351.2 422,350.5 426.5,349.9 431,349.3 435.5,348.7 440,348.3 444.5,348 449,347.8 453.5,347.6 458,347.6 462.5,347.6 467,347.6 471.5,347.1 476,346 480.5,343.8 485,340.4 489.5,336.2 494,331.8 498.5,327.6 503,323.9 507.5,320.3" fill="none" stroke="#DFDFDF" stroke-width="0.7" stroke-linejoin="round"/>
<path d="M367.9,347 372.4,347.6 376.9,348.3 381.4,348.9 385.9,349.4 390.4,349.8 394.9,350 399.4,350.2 404,350.1 408.5,349.9 413,349.4 417.5,348.9 422,348.3 426.5,347.7 431,347.2 435.5,346.8 440,346.6 444.5,346.6 449,346.4 453.5,345.7 458,344.4 462.5,342 467,338.5 471.5,334.5 476,330.7 480.5,327.9 485,326.2 489.5,325 494,323.3 498.5,320.2 503,315.7 507.5,310.5" fill="none" stroke="#DFDFDF" stroke-width="0.7" stroke-linejoin="round"/>
<path d="M367.9,352.1 372.4,352 376.9,351.8 381.4,351.6 385.9,351.4 390.4,351.2 394.9,350.9 399.4,350.6 404,350.2 408.5,349.7 413,349.2 417.5,348.7 422,348.2 426.5,347.6 431,347.1 435.5,346.6 440,346.2 444.5,345.9 449,345.6 453.5,345.2 458,344.8 462.5,344.4 467,343.8 471.5,342.9 476,341.6 480.5,339.9 485,337.6 489.5,334.5 494,330.6 498.5,325.6 503,319.9 507.5,313.7" fill="none" stroke="#DFDFDF" stroke-width="0.7" stroke-linejoin="round"/>
<path d="M367.9,346.2 372.4,346.4 376.9,346.7 381.4,346.9 385.9,347.2 390.4,347.6 394.9,348.1 399.4,348.6 404,349.3 408.5,350 413,350.8 417.5,351.6 422,352.1 426.5,352.4 431,352.2 435.5,351.5 440,350.2 444.5,348.3 449,346 453.5,343.7 458,341.8 462.5,340.5 467,340.1 471.5,340 476,339.6 480.5,338.3 485,335.7 489.5,332 494,327.5 498.5,322.3 503,316.7 507.5,310.9" fill="none" stroke="#DFDFDF" stroke-width="0.7" stroke-linejoin="round"/>
<path d="M367.9,346.2 372.4,346.8 376.9,347.3 381.4,347.9 385.9,348.4 390.4,348.8 394.9,349.2 399.4,349.4 404,349.6 408.5,349.6 413,349.4 417.5,349.2 422,348.9 426.5,348.6 431,348.2 435.5,347.8 440,347.4 444.5,347 449,346.5 453.5,346 458,345.3 462.5,344.4 467,343.2 471.5,341.6 476,339.4 480.5,336.4 485,332.6 489.5,328.5 494,324.6 498.5,321.4 503,319 507.5,316.9" fill="none" stroke="#DFDFDF" stroke-width="0.7" stroke-linejoin="round"/>
<path d="M367.9,342.3 372.4,342.7 376.9,343.2 381.4,343.6 385.9,344.1 390.4,344.7 394.9,345.2 399.4,345.9 404,346.6 408.5,347.3 413,348.2 417.5,348.9 422,349.7 426.5,350.3 431,350.7 435.5,351 440,350.9 444.5,350.6 449,349.8 453.5,348.7 458,347.2 462.5,345.2 467,342.8 471.5,340.2 476,337.4 480.5,334.9 485,332.6 489.5,330.6 494,329 498.5,327.5 503,326.3 507.5,325.3" fill="none" stroke="#DFDFDF" stroke-width="0.7" stroke-linejoin="round"/>
<path d="M367.9,348.6 371.1,348.6 374.3,348.6 377.4,348.7 380.6,348.7 383.8,348.7 387,348.8 390.1,348.8 393.3,348.9 396.5,348.9 399.7,348.9 402.8,349 406,349 409.2,349.1 412.3,349.1 415.5,349.1 418.7,349.1 421.9,349.1 425,349 428.2,348.8 431.4,348.6 434.6,348.3 437.7,347.9 440.9,347.4 444.1,346.8 447.3,346 450.4,345.1 453.6,344 456.8,342.7 459.9,341.1 463.1,339.3 466.3,337.1 469.5,334.5 472.6,331.4 475.8,327.7 479,323.5 482.2,318.8 485.3,313.8 488.5,308.6 491.7,303.3 494.9,297.6 498,290.9 501.2,282.7 504.4,273.1 507.5,262.6" fill="none" stroke="#DFDFDF" stroke-width="0.7" stroke-linejoin="round"/>
<path d="M367.9,348.7 372.4,348.7 376.9,348.7 381.4,348.7 385.9,348.7 390.4,348.8 394.9,348.9 399.4,349.1 404,349.3 408.5,349.6 413,349.9 417.5,350.3 422,350.6 426.5,351 431,351.2 435.5,351.4 440,351.5 444.5,351.4 449,351.1 453.5,350.5 458,349.5 462.5,347.9 467,345.9 471.5,343.8 476,341.9 480.5,340.5 485,339.7 489.5,338.7 494,336.4 498.5,332 503,325.6 507.5,318.2" fill="none" stroke="#00BFC4" stroke-width="1.0" stroke-linejoin="round"/>
<path d="M367.9,349.1 372.4,349.3 376.9,349.5 381.4,349.7 385.9,349.8 390.4,350 394.9,350.1 399.4,350.2 404,350.3 408.5,350.4 413,350.4 417.5,350.5 422,350.4 426.5,350.4 431,350.4 435.5,350.4 440,350.3 444.5,350.3 449,350.2 453.5,350 458,349.7 462.5,349.2 467,348.4 471.5,347.5 476,346.4 480.5,345.2 485,343.8 489.5,342 494,339.6 498.5,336.3 503,332.4 507.5,328.1" fill="none" stroke="#00BFC4" stroke-width="1.0" stroke-linejoin="round"/>
<path d="M367.9,349.5 372.4,349.7 376.9,349.9 381.4,350.1 385.9,350.3 390.4,350.4 394.9,350.4 399.4,350.4 404,350.3 408.5,350.1 413,349.8 417.5,349.5 422,349.2 426.5,349 431,348.9 435.5,349 440,349.2 444.5,349.6 449,350 453.5,350.2 458,349.9 462.5,348.9 467,347.3 471.5,345.1 476,343 480.5,341.1 485,339.7 489.5,338 494,335.1 498.5,330.5 503,324.1 507.5,316.9" fill="none" stroke="#00BFC4" stroke-width="1.0" stroke-linejoin="round"/>
<path d="M367.9,348.4 372.4,348.6 376.9,348.8 381.4,349 385.9,349.2 390.4,349.4 394.9,349.6 399.4,349.8 404,350 408.5,350.2 413,350.3 417.5,350.5 422,350.6 426.5,350.7 431,350.7 435.5,350.7 440,350.7 444.5,350.5 449,350.2 453.5,349.7 458,348.8 462.5,347.6 467,346 471.5,344.1 476,342.3 480.5,340.7 485,339.4 489.5,337.8 494,335.3 498.5,331.2 503,325.8 507.5,319.6" fill="none" stroke="#00BFC4" stroke-width="1.0" stroke-linejoin="round"/>
<path d="M367.9,347.8 372.4,348 376.9,348.3 381.4,348.5 385.9,348.7 390.4,349 394.9,349.2 399.4,349.4 404,349.6 408.5,349.8 413,350 417.5,350.1 422,350.2 426.5,350.1 431,349.9 435.5,349.6 440,349.1 444.5,348.4 449,347.6 453.5,346.9 458,346.2 462.5,345.8 467,345.6 471.5,345.4 476,345 480.5,344 485,342.3 489.5,339.6 494,335.8 498.5,330.8 503,324.7 507.5,318.2" fill="none" stroke="#00BFC4" stroke-width="1.0" stroke-linejoin="round"/>
<path d="M367.9,346.3 370.8,346.5 373.6,346.6 376.5,346.8 379.3,347 382.2,347.1 385,347.3 387.9,347.4 390.7,347.5 393.6,347.7 396.4,347.8 399.3,347.9 402.1,348 405,348.1 407.8,348.2 410.7,348.2 413.5,348.3 416.4,348.3 419.2,348.3 422.1,348.3 424.9,348.2 427.8,348.2 430.6,348 433.5,347.9 436.3,347.7 439.2,347.4 442,347.1 444.9,346.8 447.7,346.3 450.6,345.7 453.4,345 456.3,344.1 459.1,343 462,341.7 464.8,340.2 467.7,338.4 470.5,336.4 473.4,334.1 476.2,331.7 479,329.1 481.9,326.2 484.7,323.2 487.6,319.8 490.4,316.1 493.3,311.9 496.1,307.2 499,301.9 501.8,296.2 504.7,290.2 507.5,284.1" fill="none" stroke="#00BFC4" stroke-width="1.1" stroke-linejoin="round"/>
<path d="M367.9,347.4 370.8,347.6 373.6,347.7 376.5,347.8 379.3,348 382.2,348.1 385,348.2 387.9,348.4 390.7,348.5 393.6,348.6 396.4,348.7 399.3,348.8 402.1,348.9 405,349 407.8,349.1 410.7,349.2 413.5,349.2 416.4,349.3 419.2,349.3 422.1,349.3 424.9,349.3 427.8,349.2 430.6,349.1 433.5,349 436.3,348.8 439.2,348.6 442,348.3 444.9,347.9 447.7,347.5 450.6,347 453.4,346.4 456.3,345.7 459.1,344.9 462,344 464.8,342.9 467.7,341.7 470.5,340.4 473.4,338.9 476.2,337.3 479,335.6 481.9,333.7 484.7,331.7 487.6,329.6 490.4,327.5 493.3,325.5 496.1,323.4 499,321.4 501.8,319.5 504.7,317.6 507.5,315.8" fill="none" stroke="#00BFC4" stroke-width="1.1" stroke-linejoin="round"/>
<path d="M367.9,349.7 370.8,349.8 373.6,349.9 376.5,350.1 379.3,350.2 382.2,350.3 385,350.4 387.9,350.5 390.7,350.6 393.6,350.7 396.4,350.8 399.3,350.9 402.1,350.9 405,351 407.8,351 410.7,351 413.5,351 416.4,351 419.2,351 422.1,351 424.9,350.9 427.8,350.8 430.6,350.7 433.5,350.6 436.3,350.5 439.2,350.3 442,350.2 444.9,350 447.7,349.8 450.6,349.6 453.4,349.3 456.3,349.1 459.1,348.8 462,348.6 464.8,348.3 467.7,348 470.5,347.6 473.4,347.1 476.2,346.5 479,345.8 481.9,345 484.7,343.9 487.6,342.7 490.4,341.3 493.3,339.7 496.1,338 499,336.2 501.8,334.3 504.7,332.4 507.5,330.5" fill="none" stroke="#00BFC4" stroke-width="1.1" stroke-linejoin="round"/>
<path d="M367.9,348.7 372.4,348.9 376.9,349.2 381.4,349.4 385.9,349.5 390.4,349.7 394.9,349.7 399.4,349.8 404,349.7 408.5,349.6 413,349.4 417.5,349.1 422,348.7 426.5,348.3 431,347.9 435.5,347.3 440,346.8 444.5,346.1 449,345.4 453.5,344.4 458,343.2 462.5,341.6 467,339.7 471.5,337.2 476,334.3 480.5,330.9 485,326.9 489.5,322.7 494,318.4 498.5,314.2 503,310.2 507.5,306.3" fill="none" stroke="#F8766D" stroke-width="1.0" stroke-linejoin="round"/>
<path d="M367.9,350.7 372.4,350.8 376.9,350.8 381.4,350.9 385.9,350.9 390.4,350.9 394.9,350.9 399.4,350.9 404,350.8 408.5,350.7 413,350.5 417.5,350.4 422,350.1 426.5,349.9 431,349.7 435.5,349.5 440,349.2 444.5,349 449,348.8 453.5,348.5 458,348 462.5,347.4 467,346.6 471.5,345.6 476,344.4 480.5,343 485,341.3 489.5,339.6 494,337.8 498.5,336.2 503,334.8 507.5,333.4" fill="none" stroke="#F8766D" stroke-width="1.0" stroke-linejoin="round"/>
<path d="M367.9,350.6 372.4,350.8 376.9,351 381.4,351.2 385.9,351.3 390.4,351.3 394.9,351.2 399.4,351 404,350.6 408.5,350.1 413,349.4 417.5,348.7 422,348.1 426.5,347.5 431,347 435.5,346.7 440,346.8 444.5,347.1 449,347.4 453.5,347.5 458,347.1 462.5,346 467,343.9 471.5,341.3 476,338.4 480.5,335.5 485,332.8 489.5,330 494,326.9 498.5,323.2 503,318.9 507.5,314.3" fill="none" stroke="#F8766D" stroke-width="1.0" stroke-linejoin="round"/>
<path d="M367.9,351.7 372.4,351.6 376.9,351.5 381.4,351.3 385.9,351.2 390.4,351 394.9,350.9 399.4,350.8 404,350.7 408.5,350.6 413,350.5 417.5,350.4 422,350.3 426.5,350.1 431,349.9 435.5,349.7 440,349.4 444.5,349 449,348.6 453.5,348.2 458,347.8 462.5,347.5 467,347.1 471.5,346.5 476,345.6 480.5,344.1 485,341.8 489.5,339.2 494,336.6 498.5,334.4 503,332.6 507.5,330.9" fill="none" stroke="#F8766D" stroke-width="1.0" stroke-linejoin="round"/>
<path d="M367.9,349.1 372.4,349.1 376.9,349.2 381.4,349.2 385.9,349.3 390.4,349.4 394.9,349.4 399.4,349.5 404,349.5 408.5,349.6 413,349.7 417.5,349.7 422,349.7 426.5,349.7 431,349.6 435.5,349.4 440,349.1 444.5,348.6 449,348 453.5,347.2 458,346.1 462.5,344.6 467,342.8 471.5,340.7 476,338.2 480.5,335.4 485,332.5 489.5,329.2 494,325.7 498.5,321.8 503,317.8 507.5,313.6" fill="none" stroke="#F8766D" stroke-width="1.0" stroke-linejoin="round"/>
<path d="M367.9,351.2 372.4,351.1 376.9,351.1 381.4,351.1 385.9,351 390.4,351 394.9,350.9 399.4,350.8 404,350.6 408.5,350.5 413,350.3 417.5,350.1 422,349.9 426.5,349.7 431,349.6 435.5,349.4 440,349.3 444.5,349.2 449,349.1 453.5,348.9 458,348.6 462.5,348 467,347.2 471.5,346.1 476,344.8 480.5,343.2 485,341.5 489.5,339.6 494,337.7 498.5,335.8 503,333.9 507.5,332" fill="none" stroke="#F8766D" stroke-width="1.0" stroke-linejoin="round"/>
<path d="M367.9,348.5 372.4,348.8 376.9,349 381.4,349.3 385.9,349.5 390.4,349.7 394.9,349.8 399.4,350 404,350 408.5,350 413,350 417.5,349.9 422,349.7 426.5,349.4 431,349 435.5,348.6 440,348.1 444.5,347.4 449,346.7 453.5,345.7 458,344.6 462.5,343.3 467,341.7 471.5,339.8 476,337.6 480.5,335 485,332 489.5,328.8 494,325.3 498.5,321.7 503,318 507.5,314.3" fill="none" stroke="#F8766D" stroke-width="1.0" stroke-linejoin="round"/>
<path d="M367.9,350.2 372.4,350 376.9,349.8 381.4,349.7 385.9,349.5 390.4,349.4 394.9,349.3 399.4,349.2 404,349.1 408.5,349.1 413,349.1 417.5,349.2 422,349.2 426.5,349.2 431,349.3 435.5,349.3 440,349.3 444.5,349.2 449,348.9 453.5,348.5 458,347.7 462.5,346.5 467,344.8 471.5,342.8 476,340.6 480.5,338.4 485,336.1 489.5,333.7 494,331 498.5,327.8 503,324.2 507.5,320.4" fill="none" stroke="#F8766D" stroke-width="1.0" stroke-linejoin="round"/>
<path d="M367.9,348.9 372.4,348.8 376.9,348.7 381.4,348.6 385.9,348.5 390.4,348.4 394.9,348.3 399.4,348.2 404,348.2 408.5,348.1 413,348.1 417.5,348 422,348 426.5,347.9 431,347.7 435.5,347.6 440,347.3 444.5,346.9 449,346.4 453.5,345.4 458,344 462.5,342.1 467,339.4 471.5,336.2 476,332.6 480.5,328.7 485,324.7 489.5,320.6 494,316.5 498.5,312.7 503,309 507.5,305.4" fill="none" stroke="#F8766D" stroke-width="1.0" stroke-linejoin="round"/>
<path d="M367.9,351.6 372.4,351.2 376.9,350.8 381.4,350.5 385.9,350.2 390.4,349.9 394.9,349.8 399.4,349.7 404,349.7 408.5,349.9 413,350.1 417.5,350.4 422,350.6 426.5,350.6 431,350.6 435.5,350.2 440,349.6 444.5,348.7 449,347.6 453.5,346.4 458,345.4 462.5,344.5 467,344 471.5,343.5 476,342.8 480.5,341.8 485,340.2 489.5,338.4 494,336.6 498.5,335.1 503,333.9 507.5,332.9" fill="none" stroke="#F8766D" stroke-width="1.0" stroke-linejoin="round"/>
<path d="M367.9,348.2 372.4,348.3 376.9,348.3 381.4,348.4 385.9,348.4 390.4,348.5 394.9,348.6 399.4,348.7 404,348.9 408.5,349.1 413,349.2 417.5,349.4 422,349.5 426.5,349.6 431,349.5 435.5,349.3 440,348.9 444.5,348.4 449,347.6 453.5,346.4 458,344.9 462.5,343 467,340.7 471.5,337.9 476,334.7 480.5,331.3 485,327.5 489.5,323.7 494,319.8 498.5,316.1 503,312.6 507.5,309.1" fill="none" stroke="#F8766D" stroke-width="1.0" stroke-linejoin="round"/>
<path d="M367.9,350.3 372.4,350 376.9,349.7 381.4,349.5 385.9,349.3 390.4,349.2 394.9,349.1 399.4,349.2 404,349.3 408.5,349.6 413,350 417.5,350.4 422,350.8 426.5,351.1 431,351.4 435.5,351.5 440,351.3 444.5,351 449,350.5 453.5,349.7 458,348.9 462.5,347.9 467,346.9 471.5,345.7 476,344.3 480.5,342.7 485,340.8 489.5,338.8 494,336.9 498.5,335.1 503,333.5 507.5,332" fill="none" stroke="#F8766D" stroke-width="1.0" stroke-linejoin="round"/>
<path d="M367.9,347.8 372.4,348.2 376.9,348.5 381.4,348.9 385.9,349.3 390.4,349.6 394.9,349.9 399.4,350.1 404,350.3 408.5,350.5 413,350.6 417.5,350.6 422,350.5 426.5,350.3 431,350 435.5,349.6 440,349.1 444.5,348.4 449,347.5 453.5,346.4 458,345 462.5,343.4 467,341.4 471.5,339.1 476,336.5 480.5,333.5 485,330.3 489.5,326.8 494,323.3 498.5,319.8 503,316.5 507.5,313.3" fill="none" stroke="#F8766D" stroke-width="1.0" stroke-linejoin="round"/>
<path d="M367.9,349.1 372.4,349.1 376.9,349 381.4,349 385.9,348.9 390.4,348.9 394.9,348.8 399.4,348.8 404,348.7 408.5,348.7 413,348.6 417.5,348.6 422,348.5 426.5,348.3 431,348.2 435.5,347.9 440,347.6 444.5,347.2 449,346.6 453.5,345.7 458,344.5 462.5,342.9 467,340.9 471.5,338.5 476,335.7 480.5,332.6 485,329.4 489.5,325.9 494,322.2 498.5,318.4 503,314.4 507.5,310.4" fill="none" stroke="#F8766D" stroke-width="1.0" stroke-linejoin="round"/>
<path d="M367.9,349.4 372.4,349.5 376.9,349.6 381.4,349.6 385.9,349.7 390.4,349.8 394.9,349.8 399.4,349.8 404,349.8 408.5,349.8 413,349.7 417.5,349.6 422,349.5 426.5,349.3 431,349 435.5,348.7 440,348.3 444.5,347.8 449,347.2 453.5,346.6 458,345.9 462.5,345.2 467,344.4 471.5,343.5 476,342.3 480.5,340.7 485,338.7 489.5,336.4 494,334 498.5,331.9 503,329.9 507.5,328" fill="none" stroke="#F8766D" stroke-width="1.0" stroke-linejoin="round"/>
<path d="M367.9,347.4 372.4,348 376.9,348.5 381.4,349.1 385.9,349.6 390.4,350 394.9,350.4 399.4,350.7 404,351 408.5,351.1 413,351.2 417.5,351.1 422,351 426.5,350.7 431,350.3 435.5,349.8 440,349.2 444.5,348.4 449,347.5 453.5,346.6 458,345.5 462.5,344.4 467,343.2 471.5,341.8 476,340 480.5,337.9 485,335.2 489.5,332.2 494,329 498.5,325.8 503,322.6 507.5,319.5" fill="none" stroke="#F8766D" stroke-width="1.0" stroke-linejoin="round"/>
<path d="M367.9,345.7 372.4,346.4 376.9,347 381.4,347.7 385.9,348.2 390.4,348.7 394.9,349.1 399.4,349.4 404,349.6 408.5,349.6 413,349.4 417.5,349.2 422,348.8 426.5,348.4 431,348 435.5,347.6 440,347.1 444.5,346.8 449,346.3 453.5,345.7 458,344.9 462.5,343.7 467,342.2 471.5,340.3 476,338 480.5,335.4 485,332.4 489.5,329.1 494,325.4 498.5,321.4 503,317.2 507.5,312.8" fill="none" stroke="#F8766D" stroke-width="1.0" stroke-linejoin="round"/>
<path d="M367.9,350.6 372.4,350.8 376.9,351 381.4,351.1 385.9,351.2 390.4,351.3 394.9,351.3 399.4,351.2 404,351 408.5,350.7 413,350.3 417.5,349.8 422,349.3 426.5,348.8 431,348.3 435.5,347.9 440,347.5 444.5,347.2 449,346.9 453.5,346.6 458,346.2 462.5,345.6 467,344.7 471.5,343.5 476,341.9 480.5,340 485,337.6 489.5,335 494,332.1 498.5,329 503,325.9 507.5,322.8" fill="none" stroke="#F8766D" stroke-width="1.0" stroke-linejoin="round"/>
<path d="M367.9,347.4 370.8,347.5 373.6,347.7 376.5,347.8 379.3,347.9 382.2,348 385,348.1 387.9,348.2 390.7,348.4 393.6,348.5 396.4,348.6 399.3,348.7 402.1,348.9 405,349 407.8,349.1 410.7,349.3 413.5,349.4 416.4,349.5 419.2,349.5 422.1,349.5 424.9,349.4 427.8,349.2 430.6,348.9 433.5,348.6 436.3,348.1 439.2,347.4 442,346.7 444.9,345.8 447.7,344.7 450.6,343.4 453.4,341.9 456.3,340.2 459.1,338.3 462,336.1 464.8,333.5 467.7,330.6 470.5,327.2 473.4,323.4 476.2,319 479,313.9 481.9,308.2 484.7,301.6 487.6,294.1 490.4,285.7 493.3,276.2 496.1,265.7 499,254 501.8,241.2 504.7,227.8 507.5,213.9" fill="none" stroke="#F8766D" stroke-width="1.0" stroke-linejoin="round"/>
<path d="M367.9,342.9 370.8,343.9 373.6,344.9 376.5,345.8 379.3,346.6 382.2,347.3 385,347.9 387.9,348.4 390.7,348.7 393.6,349 396.4,349.1 399.3,349.2 402.1,349.2 405,349.1 407.8,349 410.7,348.9 413.5,348.7 416.4,348.6 419.2,348.4 422.1,348.3 424.9,348.1 427.8,347.9 430.6,347.7 433.5,347.4 436.3,347.1 439.2,346.6 442,346.1 444.9,345.5 447.7,344.8 450.6,344 453.4,343.1 456.3,342 459.1,340.8 462,339.4 464.8,337.9 467.7,336.3 470.5,334.5 473.4,332.6 476.2,330.5 479,328.3 481.9,326.1 484.7,323.9 487.6,321.7 490.4,319.7 493.3,317.8 496.1,316.1 499,314.5 501.8,313 504.7,311.5 507.5,310.1" fill="none" stroke="#F8766D" stroke-width="1.0" stroke-linejoin="round"/>
<text x="370.4" y="218.6" font-size="6.6" text-anchor="start" fill="#F8766D" font-weight="normal" >ge n=20</text>
<text x="370.4" y="225.9" font-size="6.6" text-anchor="start" fill="#00BFC4" font-weight="normal" >mt n=8</text>
</g>
<rect x="360.5" y="194.5" width="153.8" height="11.8" fill="#D9D9D9" stroke="#7a7a7a" stroke-width="0.9"/>
<text x="437.4" y="202.9" font-size="6.8" text-anchor="middle" fill="#1A1A1A" font-weight="normal" >G+K+M+N</text>
<rect x="360.5" y="206.3" width="153.8" height="152.2" fill="none" stroke="#7a7a7a" stroke-width="0.9"/>
<line x1="358.2" x2="360.5" y1="355.6" y2="355.6" stroke="#7a7a7a" stroke-width="0.9"/>
<text x="357.1" y="358" font-size="6.8" text-anchor="end" fill="#4D4D4D" font-weight="normal" >0</text>
<line x1="358.2" x2="360.5" y1="310.03" y2="310.03" stroke="#7a7a7a" stroke-width="0.9"/>
<text x="357.1" y="312.43" font-size="6.8" text-anchor="end" fill="#4D4D4D" font-weight="normal" >5</text>
<line x1="358.2" x2="360.5" y1="264.47" y2="264.47" stroke="#7a7a7a" stroke-width="0.9"/>
<text x="357.1" y="266.87" font-size="6.8" text-anchor="end" fill="#4D4D4D" font-weight="normal" >10</text>
<line x1="358.2" x2="360.5" y1="218.9" y2="218.9" stroke="#7a7a7a" stroke-width="0.9"/>
<text x="357.1" y="221.3" font-size="6.8" text-anchor="end" fill="#4D4D4D" font-weight="normal" >15</text>
<line x1="364.4" x2="364.4" y1="358.5" y2="360.8" stroke="#7a7a7a" stroke-width="0.9"/>
<text x="364.4" y="367.3" font-size="6.8" text-anchor="middle" fill="#4D4D4D" font-weight="normal" >0</text>
<line x1="393.12" x2="393.12" y1="358.5" y2="360.8" stroke="#7a7a7a" stroke-width="0.9"/>
<text x="393.12" y="367.3" font-size="6.8" text-anchor="middle" fill="#4D4D4D" font-weight="normal" >10</text>
<line x1="421.84" x2="421.84" y1="358.5" y2="360.8" stroke="#7a7a7a" stroke-width="0.9"/>
<text x="421.84" y="367.3" font-size="6.8" text-anchor="middle" fill="#4D4D4D" font-weight="normal" >20</text>
<line x1="450.56" x2="450.56" y1="358.5" y2="360.8" stroke="#7a7a7a" stroke-width="0.9"/>
<text x="450.56" y="367.3" font-size="6.8" text-anchor="middle" fill="#4D4D4D" font-weight="normal" >30</text>
<line x1="479.28" x2="479.28" y1="358.5" y2="360.8" stroke="#7a7a7a" stroke-width="0.9"/>
<text x="479.28" y="367.3" font-size="6.8" text-anchor="middle" fill="#4D4D4D" font-weight="normal" >40</text>
<line x1="508" x2="508" y1="358.5" y2="360.8" stroke="#7a7a7a" stroke-width="0.9"/>
<text x="508" y="367.3" font-size="6.8" text-anchor="middle" fill="#4D4D4D" font-weight="normal" >50</text>
<rect x="531.3" y="206.3" width="154.7" height="152.2" fill="#fff"/>
<g clip-path="url(#clipA7)">
<line x1="531.3" x2="686" y1="317.5" y2="317.5" stroke="#EBEBEB" stroke-width="0.5"/>
<line x1="531.3" x2="686" y1="275.1" y2="275.1" stroke="#EBEBEB" stroke-width="0.5"/>
<line x1="531.3" x2="686" y1="232.7" y2="232.7" stroke="#EBEBEB" stroke-width="0.5"/>
<line x1="549.46" x2="549.46" y1="206.3" y2="358.5" stroke="#EBEBEB" stroke-width="0.5"/>
<line x1="578.18" x2="578.18" y1="206.3" y2="358.5" stroke="#EBEBEB" stroke-width="0.5"/>
<line x1="606.9" x2="606.9" y1="206.3" y2="358.5" stroke="#EBEBEB" stroke-width="0.5"/>
<line x1="635.62" x2="635.62" y1="206.3" y2="358.5" stroke="#EBEBEB" stroke-width="0.5"/>
<line x1="664.34" x2="664.34" y1="206.3" y2="358.5" stroke="#EBEBEB" stroke-width="0.5"/>
<line x1="531.3" x2="686" y1="338.7" y2="338.7" stroke="#EBEBEB" stroke-width="0.9"/>
<line x1="531.3" x2="686" y1="296.3" y2="296.3" stroke="#EBEBEB" stroke-width="0.9"/>
<line x1="531.3" x2="686" y1="253.9" y2="253.9" stroke="#EBEBEB" stroke-width="0.9"/>
<line x1="531.3" x2="686" y1="211.5" y2="211.5" stroke="#EBEBEB" stroke-width="0.9"/>
<line x1="535.1" x2="535.1" y1="206.3" y2="358.5" stroke="#EBEBEB" stroke-width="0.9"/>
<line x1="563.82" x2="563.82" y1="206.3" y2="358.5" stroke="#EBEBEB" stroke-width="0.9"/>
<line x1="592.54" x2="592.54" y1="206.3" y2="358.5" stroke="#EBEBEB" stroke-width="0.9"/>
<line x1="621.26" x2="621.26" y1="206.3" y2="358.5" stroke="#EBEBEB" stroke-width="0.9"/>
<line x1="649.98" x2="649.98" y1="206.3" y2="358.5" stroke="#EBEBEB" stroke-width="0.9"/>
<line x1="678.7" x2="678.7" y1="206.3" y2="358.5" stroke="#EBEBEB" stroke-width="0.9"/>
<path d="M538.9,321.4 543.4,317.7 547.9,313.8 552.4,309.4 556.9,304.4 561.4,298.5 565.8,291.6 570.3,283.8 574.8,275.5 579.3,267.6 583.8,260.8 588.3,255.6 592.8,252.5 597.3,251 601.8,250.8 606.3,251.3 610.8,252.4 615.3,254.1 619.8,256.7 624.3,260.5 628.8,265.5 633.3,271.7 637.8,278.7 642.3,286.1 646.8,293.5 651.3,300.8 655.8,307.7 660.3,314.4 664.8,320.9 669.3,327.2 673.8,333.5 678.3,339.6" fill="none" stroke="#DFDFDF" stroke-width="0.7" stroke-linejoin="round"/>
<path d="M538.9,327.8 543.4,323 547.9,318.1 552.4,313.1 556.9,308 561.4,302.7 565.8,297.1 570.3,291.3 574.8,285.8 579.3,280.8 583.8,276.9 588.3,274.2 592.8,273.1 597.3,273.2 601.8,274.2 606.3,275.6 610.8,277.4 615.3,279.5 619.8,282 624.3,285 628.8,288.5 633.3,292.6 637.8,296.8 642.3,301.1 646.8,305.2 651.3,308.9 655.8,312.2 660.3,315.2 664.8,317.9 669.3,320.4 673.8,322.8 678.3,325.2" fill="none" stroke="#DFDFDF" stroke-width="0.7" stroke-linejoin="round"/>
<path d="M538.9,325.8 543.4,320.9 547.9,316 552.4,311 556.9,305.8 561.4,300.4 565.8,294.8 570.3,288.9 574.8,283.2 579.3,277.9 583.8,273.4 588.3,269.9 592.8,267.7 597.3,266.6 601.8,266.3 606.3,266.7 610.8,267.7 615.3,269.2 619.8,271.5 624.3,274.5 628.8,278.4 633.3,283.1 637.8,288.3 642.3,294 646.8,299.9 651.3,305.8 655.8,311.8 660.3,317.7 664.8,323.7 669.3,329.7 673.8,335.6 678.3,341.6" fill="none" stroke="#DFDFDF" stroke-width="0.7" stroke-linejoin="round"/>
<path d="M538.9,320.8 543.4,317.4 547.9,313.9 552.4,310.2 556.9,306.3 561.4,302 565.8,297.4 570.3,292.5 574.8,287.5 579.3,282.7 583.8,278.5 588.3,275.2 592.8,272.9 597.3,271.7 601.8,271.5 606.3,272.3 610.8,273.9 615.3,276.2 619.8,279.1 624.3,282.4 628.8,285.8 633.3,289.4 637.8,292.9 642.3,296.4 646.8,299.7 651.3,302.9 655.8,305.9 660.3,308.7 664.8,311.4 669.3,314 673.8,316.5 678.3,319" fill="none" stroke="#DFDFDF" stroke-width="0.7" stroke-linejoin="round"/>
<path d="M538.9,328.8 543.4,325.2 547.9,321.4 552.4,317.5 556.9,313.2 561.4,308.4 565.8,303 570.3,297.1 574.8,291.1 579.3,285.5 583.8,280.7 588.3,277.3 592.8,275.3 597.3,274.6 601.8,274.6 606.3,275.1 610.8,275.9 615.3,277.1 619.8,279 624.3,281.8 628.8,285.8 633.3,290.8 637.8,296.4 642.3,302.3 646.8,308.2 651.3,313.7 655.8,318.8 660.3,323.5 664.8,327.9 669.3,332.1 673.8,336.2 678.3,340.2" fill="none" stroke="#DFDFDF" stroke-width="0.7" stroke-linejoin="round"/>
<path d="M538.9,324.3 543.4,319.7 547.9,315.2 552.4,310.6 556.9,306 561.4,301.4 565.8,296.7 570.3,292 574.8,287.3 579.3,282.9 583.8,278.8 588.3,275.1 592.8,272 597.3,269.6 601.8,268.3 606.3,268.3 610.8,269.6 615.3,271.9 619.8,275.1 624.3,278.8 628.8,282.8 633.3,286.8 637.8,290.8 642.3,294.7 646.8,298.3 651.3,301.5 655.8,304.3 660.3,306.8 664.8,309 669.3,311 673.8,312.9 678.3,314.7" fill="none" stroke="#DFDFDF" stroke-width="0.7" stroke-linejoin="round"/>
<path d="M538.9,327.1 543.4,321.8 547.9,316.5 552.4,311.2 556.9,306 561.4,300.7 565.8,295.5 570.3,290.4 574.8,285.4 579.3,280.8 583.8,276.5 588.3,272.9 592.8,269.9 597.3,268 601.8,267.4 606.3,268.4 610.8,271 615.3,274.8 619.8,279.2 624.3,283.7 628.8,287.8 633.3,291.5 637.8,294.9 642.3,298.1 646.8,301.2 651.3,304.4 655.8,307.6 660.3,310.9 664.8,314.2 669.3,317.6 673.8,321 678.3,324.4" fill="none" stroke="#DFDFDF" stroke-width="0.7" stroke-linejoin="round"/>
<path d="M538.9,321.2 543.4,316.2 547.9,311.2 552.4,305.9 556.9,300.5 561.4,294.7 565.8,288.6 570.3,282.1 574.8,275.7 579.3,269.7 583.8,264.5 588.3,260.5 592.8,257.9 597.3,256.5 601.8,256.1 606.3,256.5 610.8,257.5 615.3,259.2 619.8,261.8 624.3,265.4 628.8,270.1 633.3,275.7 637.8,281.9 642.3,288.5 646.8,295.2 651.3,301.6 655.8,307.8 660.3,313.7 664.8,319.4 669.3,325 673.8,330.5 678.3,335.9" fill="none" stroke="#DFDFDF" stroke-width="0.7" stroke-linejoin="round"/>
<path d="M538.9,322.4 543.4,318.7 547.9,314.8 552.4,310.9 556.9,306.7 561.4,302.1 565.8,297.2 570.3,291.9 574.8,286.6 579.3,281.6 583.8,277.4 588.3,274.1 592.8,272.1 597.3,271.1 601.8,271 606.3,271.6 610.8,272.7 615.3,274.4 619.8,276.5 624.3,279.2 628.8,282.4 633.3,286 637.8,289.8 642.3,293.5 646.8,297.2 651.3,300.4 655.8,303.4 660.3,306 664.8,308.4 669.3,310.6 673.8,312.7 678.3,314.7" fill="none" stroke="#DFDFDF" stroke-width="0.7" stroke-linejoin="round"/>
<path d="M538.9,321.2 543.4,316.8 547.9,312.4 552.4,307.9 556.9,303.5 561.4,298.9 565.8,294.3 570.3,289.6 574.8,285.1 579.3,281.1 583.8,277.6 588.3,275.1 592.8,273.5 597.3,272.7 601.8,272.7 606.3,273.3 610.8,274.5 615.3,276.2 619.8,278.6 624.3,281.6 628.8,285.5 633.3,289.8 637.8,294.4 642.3,299 646.8,303.2 651.3,306.8 655.8,309.7 660.3,312.1 664.8,314.1 669.3,315.7 673.8,317.2 678.3,318.5" fill="none" stroke="#DFDFDF" stroke-width="0.7" stroke-linejoin="round"/>
<path d="M538.9,321.3 543.4,317.8 547.9,314.1 552.4,310.2 556.9,305.9 561.4,301.2 565.8,295.8 570.3,289.9 574.8,283.9 579.3,278.4 583.8,273.9 588.3,270.9 592.8,269.5 597.3,269.7 601.8,270.9 606.3,272.9 610.8,275.5 615.3,278.5 619.8,281.9 624.3,285.6 628.8,289.5 633.3,293.6 637.8,297.6 642.3,301.3 646.8,304.6 651.3,307.4 655.8,309.7 660.3,311.5 664.8,312.9 669.3,314.1 673.8,315 678.3,315.9" fill="none" stroke="#DFDFDF" stroke-width="0.7" stroke-linejoin="round"/>
<path d="M538.9,322.2 543.4,317.6 547.9,312.8 552.4,307.7 556.9,302.2 561.4,296.1 565.8,289.3 570.3,281.9 574.8,274.5 579.3,267.8 583.8,262.4 588.3,258.9 592.8,257.6 597.3,257.7 601.8,258.4 606.3,258.9 610.8,258.8 615.3,258.7 619.8,259.3 624.3,261.1 628.8,264.8 633.3,270.3 637.8,276.9 642.3,284.3 646.8,291.9 651.3,299.1 655.8,306 660.3,312.5 664.8,318.8 669.3,324.9 673.8,330.8 678.3,336.7" fill="none" stroke="#DFDFDF" stroke-width="0.7" stroke-linejoin="round"/>
<path d="M538.9,329.2 543.4,324.3 547.9,319.3 552.4,314.4 556.9,309.4 561.4,304.4 565.8,299.2 570.3,294.1 574.8,289.1 579.3,284.4 583.8,280.2 588.3,276.7 592.8,273.9 597.3,271.9 601.8,270.7 606.3,270.4 610.8,270.8 615.3,272.1 619.8,274.3 624.3,277.5 628.8,281.6 633.3,286.4 637.8,291.9 642.3,297.7 646.8,303.7 651.3,309.6 655.8,315.3 660.3,320.9 664.8,326.5 669.3,332 673.8,337.4 678.3,342.8" fill="none" stroke="#DFDFDF" stroke-width="0.7" stroke-linejoin="round"/>
<path d="M538.9,331.5 543.4,327.6 547.9,323.5 552.4,319.2 556.9,314.7 561.4,309.8 565.8,304.4 570.3,298.7 574.8,292.9 579.3,287.5 583.8,282.9 588.3,279.5 592.8,277.6 597.3,276.8 601.8,277 606.3,277.8 610.8,279.2 615.3,281.1 619.8,283.7 624.3,287 628.8,291 633.3,295.7 637.8,300.9 642.3,306.4 646.8,312.1 651.3,317.9 655.8,323.6 660.3,329.3 664.8,335 669.3,340.7 673.8,346.3 678.3,352" fill="none" stroke="#DFDFDF" stroke-width="0.7" stroke-linejoin="round"/>
<path d="M538.9,326.3 543.4,321.5 547.9,316.7 552.4,311.9 556.9,307.2 561.4,302.7 565.8,298.2 570.3,293.8 574.8,289.7 579.3,285.7 583.8,281.9 588.3,278.3 592.8,275 597.3,272.5 601.8,271.1 606.3,271.2 610.8,272.9 615.3,275.9 619.8,279.9 624.3,284.4 628.8,289.2 633.3,294 637.8,298.6 642.3,303.1 646.8,307.2 651.3,310.9 655.8,314.2 660.3,317.1 664.8,319.7 669.3,322.1 673.8,324.4 678.3,326.6" fill="none" stroke="#DFDFDF" stroke-width="0.7" stroke-linejoin="round"/>
<path d="M538.9,330.3 543.4,325.2 547.9,320.2 552.4,315.3 556.9,310.4 561.4,305.5 565.8,300.8 570.3,296.2 574.8,291.9 579.3,288 583.8,284.7 588.3,282 592.8,280.1 597.3,278.9 601.8,278.5 606.3,278.8 610.8,279.9 615.3,281.7 619.8,284.2 624.3,287.3 628.8,291.2 633.3,295.6 637.8,300.4 642.3,305.5 646.8,310.8 651.3,316.2 655.8,321.5 660.3,326.9 664.8,332.2 669.3,337.6 673.8,343 678.3,348.4" fill="none" stroke="#DFDFDF" stroke-width="0.7" stroke-linejoin="round"/>
<path d="M538.9,329.7 542,330 545.2,330.1 548.4,329.8 551.5,328.9 554.7,327.3 557.9,325.2 561,322.4 564.2,319 567.4,315 570.5,310.5 573.7,305.5 576.9,300.1 580.1,294.3 583.2,288.2 586.4,281.9 589.6,275.3 592.7,268.7 595.9,262.1 599.1,255.7 602.2,249.7 605.4,244.1 608.6,239.1 611.7,234.8 614.9,231.3 618.1,228.6 621.2,226.6 624.4,225.4 627.6,224.8 630.7,225.1 633.9,226.4 637.1,228.8 640.2,232.4 643.4,237.3 646.6,243.3 649.7,250.2 652.9,257.8 656.1,265.9 659.2,274.3 662.4,282.6 665.6,290.4 668.8,297.3 671.9,303 675.1,307.6 678.3,311.7" fill="none" stroke="#DFDFDF" stroke-width="0.7" stroke-linejoin="round"/>
<path d="M538.9,318.4 542,313.8 545.2,309.2 548.4,304.5 551.5,299.9 554.7,295.2 557.9,290.5 561,285.8 564.2,281 567.4,276.1 570.5,271.3 573.7,266.7 576.9,262.3 580.1,258.2 583.2,254.7 586.4,251.6 589.6,249.3 592.7,247.6 595.9,246.7 599.1,246.4 602.2,246.7 605.4,247.7 608.6,249.3 611.7,251.4 614.9,254 618.1,257.1 621.2,260.6 624.4,264.4 627.6,268.3 630.7,272.5 633.9,276.6 637.1,280.7 640.2,284.7 643.4,288.5 646.6,292.1 649.7,295.6 652.9,298.9 656.1,301.9 659.2,304.7 662.4,307.3 665.6,309.8 668.8,312.1 671.9,314.2 675.1,316.3 678.3,318.4" fill="none" stroke="#DFDFDF" stroke-width="0.7" stroke-linejoin="round"/>
<path d="M538.9,325.2 541.7,320.9 544.6,316.5 547.4,311.9 550.2,307.1 553.1,301.8 555.9,296 558.8,289.6 561.6,282.5 564.5,275.1 567.3,267.3 570.2,259.5 573,251.9 575.8,244.5 578.7,237.6 581.5,231.4 584.4,226.1 587.2,221.7 590.1,218.5 592.9,216.3 595.8,214.9 598.6,214.1 601.5,213.8 604.3,214 607.1,214.6 610,216 612.8,218.1 615.7,221.3 618.5,225.4 621.4,230.6 624.2,236.8 627.1,243.9 629.9,251.8 632.7,260.1 635.6,268.2 638.4,275.9 641.3,283 644.1,289.7 647,296 649.8,302 652.7,307.8 655.5,313.3 658.3,318.6 661.2,323.5 664,328 666.9,332 669.7,335.7 672.6,339.1 675.4,342.3 678.3,345.4" fill="none" stroke="#F8766D" stroke-width="1.0" stroke-linejoin="round"/>
<path d="M538.9,322.9 541.7,319.5 544.6,316.1 547.4,312.7 550.2,309.3 553.1,305.9 555.9,302.4 558.8,298.9 561.6,295.3 564.5,291.8 567.3,288.1 570.2,284.5 573,280.8 575.8,277.3 578.7,273.8 581.5,270.5 584.4,267.3 587.2,264.4 590.1,261.8 592.9,259.4 595.8,257.3 598.6,255.6 601.5,254.2 604.3,253.2 607.1,252.6 610,252.4 612.8,252.6 615.7,253.2 618.5,254.1 621.4,255.4 624.2,257 627.1,258.8 629.9,260.9 632.7,263.2 635.6,265.7 638.4,268.4 641.3,271.2 644.1,274.2 647,277.3 649.8,280.5 652.7,283.8 655.5,287.1 658.3,290.5 661.2,293.8 664,297 666.9,299.9 669.7,302.2 672.6,303.9 675.4,305.1 678.3,306" fill="none" stroke="#F8766D" stroke-width="1.0" stroke-linejoin="round"/>
<path d="M538.9,319.5 541.7,316.1 544.6,312.7 547.4,309.3 550.2,305.9 553.1,302.5 555.9,299.2 558.8,295.9 561.6,292.7 564.5,289.5 567.3,286.3 570.2,283.3 573,280.3 575.8,277.5 578.7,274.8 581.5,272.3 584.4,269.9 587.2,267.8 590.1,265.9 592.9,264.3 595.8,263 598.6,262 601.5,261.4 604.3,261.1 607.1,261.2 610,261.7 612.8,262.6 615.7,263.8 618.5,265.3 621.4,267 624.2,268.9 627.1,271.1 629.9,273.5 632.7,276.2 635.6,279 638.4,282.1 641.3,285.4 644.1,289 647,292.7 649.8,296.7 652.7,300.8 655.5,305.1 658.3,309.5 661.2,313.9 664,318.1 666.9,322 669.7,325.6 672.6,328.9 675.4,332.2 678.3,335.3" fill="none" stroke="#F8766D" stroke-width="1.0" stroke-dasharray="2.7,1.8" stroke-linejoin="round"/>
<path d="M538.9,327.4 541.7,324.2 544.6,321.1 547.4,317.9 550.2,314.7 553.1,311.5 555.9,308.3 558.8,305 561.6,301.8 564.5,298.5 567.3,295.1 570.2,291.8 573,288.5 575.8,285.2 578.7,282.1 581.5,279 584.4,276.1 587.2,273.4 590.1,270.9 592.9,268.7 595.8,266.8 598.6,265.2 601.5,264.1 604.3,263.4 607.1,263.3 610,263.7 612.8,264.5 615.7,265.7 618.5,267.3 621.4,269.3 624.2,271.5 627.1,274 629.9,276.7 632.7,279.7 635.6,282.9 638.4,286.3 641.3,290 644.1,293.8 647,297.7 649.8,301.7 652.7,305.7 655.5,309.7 658.3,313.7 661.2,317.5 664,321 666.9,324.2 669.7,326.9 672.6,328.9 675.4,330.5 678.3,331.9" fill="none" stroke="#F8766D" stroke-width="1.0" stroke-linejoin="round"/>
<path d="M538.9,322.9 541.7,319.3 544.6,315.6 547.4,311.8 550.2,307.8 553.1,303.7 555.9,299.3 558.8,294.6 561.6,289.5 564.5,284.3 567.3,278.8 570.2,273.3 573,267.8 575.8,262.4 578.7,257.2 581.5,252.3 584.4,247.9 587.2,244.2 590.1,241.4 592.9,239.6 595.8,238.6 598.6,238.1 601.5,238.2 604.3,238.8 607.1,240.1 610,242.2 612.8,245.3 615.7,249.1 618.5,253.5 621.4,258.5 624.2,263.9 627.1,269.5 629.9,275.4 632.7,281.4 635.6,287.4 638.4,293.2 641.3,298.8 644.1,303.9 647,308.5 649.8,312.5 652.7,316.1 655.5,319.2 658.3,322 661.2,324.5 664,326.6 666.9,328.6 669.7,330.4 672.6,332.1 675.4,333.7 678.3,335.3" fill="none" stroke="#00BFC4" stroke-width="1.2" stroke-dasharray="2.7,1.8" stroke-linejoin="round"/>
<text x="541.2" y="218.6" font-size="6.6" text-anchor="start" fill="#F8766D" font-weight="normal" >ge n=4</text>
<text x="541.2" y="225.9" font-size="6.6" text-anchor="start" fill="#00BFC4" font-weight="normal" >mt n=1</text>
</g>
<rect x="531.3" y="194.5" width="154.7" height="11.8" fill="#D9D9D9" stroke="#7a7a7a" stroke-width="0.9"/>
<text x="608.65" y="202.9" font-size="6.8" text-anchor="middle" fill="#1A1A1A" font-weight="normal" >H</text>
<rect x="531.3" y="206.3" width="154.7" height="152.2" fill="none" stroke="#7a7a7a" stroke-width="0.9"/>
<line x1="529" x2="531.3" y1="338.7" y2="338.7" stroke="#7a7a7a" stroke-width="0.9"/>
<text x="527.9" y="341.1" font-size="6.8" text-anchor="end" fill="#4D4D4D" font-weight="normal" >0.5</text>
<line x1="529" x2="531.3" y1="296.3" y2="296.3" stroke="#7a7a7a" stroke-width="0.9"/>
<text x="527.9" y="298.7" font-size="6.8" text-anchor="end" fill="#4D4D4D" font-weight="normal" >1.0</text>
<line x1="529" x2="531.3" y1="253.9" y2="253.9" stroke="#7a7a7a" stroke-width="0.9"/>
<text x="527.9" y="256.3" font-size="6.8" text-anchor="end" fill="#4D4D4D" font-weight="normal" >1.5</text>
<line x1="529" x2="531.3" y1="211.5" y2="211.5" stroke="#7a7a7a" stroke-width="0.9"/>
<text x="527.9" y="213.9" font-size="6.8" text-anchor="end" fill="#4D4D4D" font-weight="normal" >2.0</text>
<line x1="535.1" x2="535.1" y1="358.5" y2="360.8" stroke="#7a7a7a" stroke-width="0.9"/>
<text x="535.1" y="367.3" font-size="6.8" text-anchor="middle" fill="#4D4D4D" font-weight="normal" >0</text>
<line x1="563.82" x2="563.82" y1="358.5" y2="360.8" stroke="#7a7a7a" stroke-width="0.9"/>
<text x="563.82" y="367.3" font-size="6.8" text-anchor="middle" fill="#4D4D4D" font-weight="normal" >10</text>
<line x1="592.54" x2="592.54" y1="358.5" y2="360.8" stroke="#7a7a7a" stroke-width="0.9"/>
<text x="592.54" y="367.3" font-size="6.8" text-anchor="middle" fill="#4D4D4D" font-weight="normal" >20</text>
<line x1="621.26" x2="621.26" y1="358.5" y2="360.8" stroke="#7a7a7a" stroke-width="0.9"/>
<text x="621.26" y="367.3" font-size="6.8" text-anchor="middle" fill="#4D4D4D" font-weight="normal" >30</text>
<line x1="649.98" x2="649.98" y1="358.5" y2="360.8" stroke="#7a7a7a" stroke-width="0.9"/>
<text x="649.98" y="367.3" font-size="6.8" text-anchor="middle" fill="#4D4D4D" font-weight="normal" >40</text>
<line x1="678.7" x2="678.7" y1="358.5" y2="360.8" stroke="#7a7a7a" stroke-width="0.9"/>
<text x="678.7" y="367.3" font-size="6.8" text-anchor="middle" fill="#4D4D4D" font-weight="normal" >50</text>
<rect x="12.3" y="375.5" width="154.1" height="151.7" fill="#fff"/>
<g clip-path="url(#clipA8)">
<line x1="12.3" x2="166.4" y1="517.4" y2="517.4" stroke="#EBEBEB" stroke-width="0.5"/>
<line x1="12.3" x2="166.4" y1="486" y2="486" stroke="#EBEBEB" stroke-width="0.5"/>
<line x1="12.3" x2="166.4" y1="454.6" y2="454.6" stroke="#EBEBEB" stroke-width="0.5"/>
<line x1="12.3" x2="166.4" y1="423.2" y2="423.2" stroke="#EBEBEB" stroke-width="0.5"/>
<line x1="12.3" x2="166.4" y1="391.8" y2="391.8" stroke="#EBEBEB" stroke-width="0.5"/>
<line x1="30.46" x2="30.46" y1="375.5" y2="527.2" stroke="#EBEBEB" stroke-width="0.5"/>
<line x1="59.18" x2="59.18" y1="375.5" y2="527.2" stroke="#EBEBEB" stroke-width="0.5"/>
<line x1="87.9" x2="87.9" y1="375.5" y2="527.2" stroke="#EBEBEB" stroke-width="0.5"/>
<line x1="116.62" x2="116.62" y1="375.5" y2="527.2" stroke="#EBEBEB" stroke-width="0.5"/>
<line x1="145.34" x2="145.34" y1="375.5" y2="527.2" stroke="#EBEBEB" stroke-width="0.5"/>
<line x1="12.3" x2="166.4" y1="501.7" y2="501.7" stroke="#EBEBEB" stroke-width="0.9"/>
<line x1="12.3" x2="166.4" y1="470.3" y2="470.3" stroke="#EBEBEB" stroke-width="0.9"/>
<line x1="12.3" x2="166.4" y1="438.9" y2="438.9" stroke="#EBEBEB" stroke-width="0.9"/>
<line x1="12.3" x2="166.4" y1="407.5" y2="407.5" stroke="#EBEBEB" stroke-width="0.9"/>
<line x1="12.3" x2="166.4" y1="376.1" y2="376.1" stroke="#EBEBEB" stroke-width="0.9"/>
<line x1="16.1" x2="16.1" y1="375.5" y2="527.2" stroke="#EBEBEB" stroke-width="0.9"/>
<line x1="44.82" x2="44.82" y1="375.5" y2="527.2" stroke="#EBEBEB" stroke-width="0.9"/>
<line x1="73.54" x2="73.54" y1="375.5" y2="527.2" stroke="#EBEBEB" stroke-width="0.9"/>
<line x1="102.26" x2="102.26" y1="375.5" y2="527.2" stroke="#EBEBEB" stroke-width="0.9"/>
<line x1="130.98" x2="130.98" y1="375.5" y2="527.2" stroke="#EBEBEB" stroke-width="0.9"/>
<line x1="159.7" x2="159.7" y1="375.5" y2="527.2" stroke="#EBEBEB" stroke-width="0.9"/>
<path d="M19.9,381.8 23.1,390.9 26.3,399.9 29.4,408.9 32.6,417.7 35.8,426 39,433.4 42.1,439.8 45.3,445.1 48.5,449.6 51.7,453.2 54.8,456.2 58,458.8 61.2,460.9 64.3,462.9 67.5,464.9 70.7,466.9 73.9,469 77,471.3 80.2,473.5 83.4,475.8 86.6,478.1 89.7,480.4 92.9,482.5 96.1,484.5 99.3,486.5 102.4,488.4 105.6,490.2 108.8,492.1 111.9,493.9 115.1,495.7 118.3,497.5 121.5,499.3 124.6,501.1 127.8,502.8 131,504.5 134.2,506.2 137.3,507.8 140.5,509.4 143.7,510.8 146.9,512.3 150,513.6 153.2,515 156.4,516.3 159.5,517.6" fill="none" stroke="#DFDFDF" stroke-width="0.7" stroke-linejoin="round"/>
<path d="M19.9,465.5 23.1,460.4 26.3,455.4 29.4,450.9 32.6,447 35.8,443.9 39,441.8 42.1,441 45.3,441.2 48.5,442.2 51.7,443.8 54.8,445.8 58,447.9 61.2,450 64.3,452 67.5,453.9 70.7,455.8 73.9,457.7 77,459.4 80.2,461.2 83.4,462.8 86.6,464.4 89.7,466 92.9,467.6 96.1,469.1 99.3,470.7 102.4,472.2 105.6,473.8 108.8,475.5 111.9,477.1 115.1,478.7 118.3,480.3 121.5,481.8 124.6,483.1 127.8,484.3 131,485.2 134.2,485.9 137.3,486.3 140.5,486.4 143.7,486.3 146.9,486 150,485.5 153.2,485 156.4,484.3 159.5,483.6" fill="none" stroke="#DFDFDF" stroke-width="0.7" stroke-linejoin="round"/>
<path d="M19.9,449.7 23.1,449.6 26.3,449.5 29.4,449.4 32.6,449.4 35.8,449.3 39,449.4 42.1,449.5 45.3,449.6 48.5,449.9 51.7,450.2 54.8,450.6 58,451.2 61.2,451.9 64.3,452.8 67.5,453.8 70.7,455 73.9,456.4 77,458 80.2,459.6 83.4,461.3 86.6,463 89.7,464.7 92.9,466.4 96.1,468 99.3,469.6 102.4,471.2 105.6,472.7 108.8,474.3 111.9,475.9 115.1,477.5 118.3,479.2 121.5,480.9 124.6,482.5 127.8,484.2 131,485.7 134.2,487.2 137.3,488.5 140.5,489.7 143.7,490.7 146.9,491.7 150,492.6 153.2,493.4 156.4,494.2 159.5,494.9" fill="none" stroke="#DFDFDF" stroke-width="0.7" stroke-linejoin="round"/>
<path d="M19.9,463.3 23.1,460.5 26.3,457.8 29.4,455.2 32.6,452.9 35.8,450.9 39,449.3 42.1,448.1 45.3,447.5 48.5,447.4 51.7,448 54.8,449 58,450.3 61.2,452 64.3,453.8 67.5,455.8 70.7,457.8 73.9,459.8 77,461.7 80.2,463.7 83.4,465.6 86.6,467.4 89.7,469.2 92.9,471 96.1,472.7 99.3,474.3 102.4,475.9 105.6,477.5 108.8,479 111.9,480.5 115.1,481.9 118.3,483.3 121.5,484.7 124.6,486 127.8,487.3 131,488.5 134.2,489.6 137.3,490.7 140.5,491.7 143.7,492.7 146.9,493.7 150,494.6 153.2,495.5 156.4,496.3 159.5,497.2" fill="none" stroke="#DFDFDF" stroke-width="0.7" stroke-linejoin="round"/>
<path d="M19.9,467.8 23.1,465.4 26.3,463.2 29.4,461 32.6,459 35.8,457.3 39,455.9 42.1,454.9 45.3,454.3 48.5,454.1 51.7,454.5 54.8,455.2 58,456.2 61.2,457.5 64.3,458.9 67.5,460.5 70.7,462 73.9,463.6 77,465.2 80.2,466.8 83.4,468.4 86.6,470 89.7,471.6 92.9,473.2 96.1,474.7 99.3,476.3 102.4,477.9 105.6,479.5 108.8,481.1 111.9,482.7 115.1,484.3 118.3,485.9 121.5,487.5 124.6,489.2 127.8,490.9 131,492.7 134.2,494.5 137.3,496.4 140.5,498.3 143.7,500.3 146.9,502.3 150,504.4 153.2,506.5 156.4,508.6 159.5,510.8" fill="none" stroke="#DFDFDF" stroke-width="0.7" stroke-linejoin="round"/>
<path d="M19.9,458.7 23.1,458.6 26.3,458.4 29.4,458.3 32.6,458.2 35.8,458.2 39,458.2 42.1,458.4 45.3,458.7 48.5,459.1 51.7,459.6 54.8,460.2 58,460.9 61.2,461.7 64.3,462.6 67.5,463.6 70.7,464.6 73.9,465.7 77,466.8 80.2,467.9 83.4,469.1 86.6,470.3 89.7,471.5 92.9,472.8 96.1,474.2 99.3,475.6 102.4,477.1 105.6,478.8 108.8,480.5 111.9,482.4 115.1,484.5 118.3,486.6 121.5,488.9 124.6,491.2 127.8,493.6 131,496 134.2,498.4 137.3,500.7 140.5,503 143.7,505.2 146.9,507.3 150,509.3 153.2,511.3 156.4,513.3 159.5,515.3" fill="none" stroke="#DFDFDF" stroke-width="0.7" stroke-linejoin="round"/>
<path d="M19.9,454.2 23.1,452 26.3,449.9 29.4,447.9 32.6,446.2 35.8,444.7 39,443.6 42.1,443 45.3,442.8 48.5,443.3 51.7,444.2 54.8,445.6 58,447.3 61.2,449.3 64.3,451.4 67.5,453.6 70.7,455.9 73.9,458.3 77,460.6 80.2,462.9 83.4,465.1 86.6,467.2 89.7,469.2 92.9,471 96.1,472.6 99.3,474 102.4,475.3 105.6,476.4 108.8,477.4 111.9,478.3 115.1,479.1 118.3,479.9 121.5,480.6 124.6,481.3 127.8,481.9 131,482.6 134.2,483.2 137.3,483.8 140.5,484.5 143.7,485.1 146.9,485.7 150,486.3 153.2,486.9 156.4,487.5 159.5,488.1" fill="none" stroke="#DFDFDF" stroke-width="0.7" stroke-linejoin="round"/>
<path d="M19.9,461 23.1,459.4 26.3,457.9 29.4,456.4 32.6,455.1 35.8,454 39,453 42.1,452.3 45.3,452 48.5,451.9 51.7,452.2 54.8,452.8 58,453.6 61.2,454.7 64.3,455.9 67.5,457.3 70.7,458.7 73.9,460.3 77,461.8 80.2,463.4 83.4,465 86.6,466.5 89.7,468 92.9,469.4 96.1,470.9 99.3,472.4 102.4,473.8 105.6,475.3 108.8,476.7 111.9,478.2 115.1,479.7 118.3,481.2 121.5,482.8 124.6,484.4 127.8,486.1 131,487.9 134.2,489.8 137.3,491.8 140.5,493.9 143.7,496.1 146.9,498.5 150,500.9 153.2,503.4 156.4,506 159.5,508.5" fill="none" stroke="#DFDFDF" stroke-width="0.7" stroke-linejoin="round"/>
<path d="M19.9,456 22.8,456.7 25.6,457.4 28.5,458.1 31.3,458.9 34.2,459.8 37,460.7 39.9,461.6 42.7,462.6 45.6,463.6 48.4,464.7 51.3,465.8 54.1,466.9 57,468.1 59.8,469.3 62.7,470.5 65.5,471.7 68.4,473 71.2,474.3 74.1,475.7 76.9,477 79.8,478.4 82.6,479.8 85.5,481.3 88.3,482.7 91.2,484.2 94,485.7 96.9,487.2 99.7,488.7 102.6,490.2 105.4,491.7 108.3,493.3 111.1,494.8 114,496.4 116.8,497.9 119.7,499.5 122.5,501.1 125.4,502.6 128.2,504.2 131,505.8 133.9,507.3 136.7,508.9 139.6,510.5 142.4,512 145.3,513.5 148.1,515.1 151,516.6 153.8,518.1 156.7,519.6 159.5,521.1" fill="none" stroke="#F8766D" stroke-width="1.1" stroke-dasharray="2.7,1.8" stroke-linejoin="round"/>
<path d="M19.9,440.8 22.8,444 25.6,447 28.5,450 31.3,452.8 34.2,455.5 37,458.1 39.9,460.6 42.7,463 45.6,465.3 48.4,467.5 51.3,469.6 54.1,471.7 57,473.7 59.8,475.6 62.7,477.5 65.5,479.3 68.4,481 71.2,482.7 74.1,484.3 76.9,485.9 79.8,487.4 82.6,488.9 85.5,490.3 88.3,491.7 91.2,493 94,494.3 96.9,495.5 99.7,496.7 102.6,497.8 105.4,498.9 108.3,499.9 111.1,500.9 114,501.8 116.8,502.6 119.7,503.4 122.5,504.1 125.4,504.8 128.2,505.4 131,505.9 133.9,506.3 136.7,506.6 139.6,506.9 142.4,507.1 145.3,507.1 148.1,507.1 151,506.9 153.8,506.6 156.7,506.2 159.5,505.7" fill="none" stroke="#00BFC4" stroke-width="1.2" stroke-dasharray="2.7,1.8" stroke-linejoin="round"/>
<text x="22.2" y="387.8" font-size="6.6" text-anchor="start" fill="#F8766D" font-weight="normal" >ge n=1</text>
<text x="22.2" y="395.1" font-size="6.6" text-anchor="start" fill="#00BFC4" font-weight="normal" >mt n=1</text>
</g>
<rect x="12.3" y="363" width="154.1" height="12.5" fill="#D9D9D9" stroke="#7a7a7a" stroke-width="0.9"/>
<text x="89.35" y="371.75" font-size="6.8" text-anchor="middle" fill="#1A1A1A" font-weight="normal" >J</text>
<rect x="12.3" y="375.5" width="154.1" height="151.7" fill="none" stroke="#7a7a7a" stroke-width="0.9"/>
<line x1="10" x2="12.3" y1="501.7" y2="501.7" stroke="#7a7a7a" stroke-width="0.9"/>
<text x="8.9" y="504.1" font-size="6.8" text-anchor="end" fill="#4D4D4D" font-weight="normal" >0.5</text>
<line x1="10" x2="12.3" y1="470.3" y2="470.3" stroke="#7a7a7a" stroke-width="0.9"/>
<text x="8.9" y="472.7" font-size="6.8" text-anchor="end" fill="#4D4D4D" font-weight="normal" >1.0</text>
<line x1="10" x2="12.3" y1="438.9" y2="438.9" stroke="#7a7a7a" stroke-width="0.9"/>
<text x="8.9" y="441.3" font-size="6.8" text-anchor="end" fill="#4D4D4D" font-weight="normal" >1.5</text>
<line x1="10" x2="12.3" y1="407.5" y2="407.5" stroke="#7a7a7a" stroke-width="0.9"/>
<text x="8.9" y="409.9" font-size="6.8" text-anchor="end" fill="#4D4D4D" font-weight="normal" >2.0</text>
<line x1="10" x2="12.3" y1="376.1" y2="376.1" stroke="#7a7a7a" stroke-width="0.9"/>
<text x="8.9" y="378.5" font-size="6.8" text-anchor="end" fill="#4D4D4D" font-weight="normal" >2.5</text>
<line x1="16.1" x2="16.1" y1="527.2" y2="529.5" stroke="#7a7a7a" stroke-width="0.9"/>
<text x="16.1" y="536" font-size="6.8" text-anchor="middle" fill="#4D4D4D" font-weight="normal" >0</text>
<line x1="44.82" x2="44.82" y1="527.2" y2="529.5" stroke="#7a7a7a" stroke-width="0.9"/>
<text x="44.82" y="536" font-size="6.8" text-anchor="middle" fill="#4D4D4D" font-weight="normal" >10</text>
<line x1="73.54" x2="73.54" y1="527.2" y2="529.5" stroke="#7a7a7a" stroke-width="0.9"/>
<text x="73.54" y="536" font-size="6.8" text-anchor="middle" fill="#4D4D4D" font-weight="normal" >20</text>
<line x1="102.26" x2="102.26" y1="527.2" y2="529.5" stroke="#7a7a7a" stroke-width="0.9"/>
<text x="102.26" y="536" font-size="6.8" text-anchor="middle" fill="#4D4D4D" font-weight="normal" >30</text>
<line x1="130.98" x2="130.98" y1="527.2" y2="529.5" stroke="#7a7a7a" stroke-width="0.9"/>
<text x="130.98" y="536" font-size="6.8" text-anchor="middle" fill="#4D4D4D" font-weight="normal" >40</text>
<line x1="159.7" x2="159.7" y1="527.2" y2="529.5" stroke="#7a7a7a" stroke-width="0.9"/>
<text x="159.7" y="536" font-size="6.8" text-anchor="middle" fill="#4D4D4D" font-weight="normal" >50</text>
<rect x="186.3" y="375.5" width="154.1" height="151.7" fill="#fff"/>
<g clip-path="url(#clipA9)">
<line x1="186.3" x2="340.4" y1="516.92" y2="516.92" stroke="#EBEBEB" stroke-width="0.5"/>
<line x1="186.3" x2="340.4" y1="464.07" y2="464.07" stroke="#EBEBEB" stroke-width="0.5"/>
<line x1="186.3" x2="340.4" y1="411.23" y2="411.23" stroke="#EBEBEB" stroke-width="0.5"/>
<line x1="204.46" x2="204.46" y1="375.5" y2="527.2" stroke="#EBEBEB" stroke-width="0.5"/>
<line x1="233.18" x2="233.18" y1="375.5" y2="527.2" stroke="#EBEBEB" stroke-width="0.5"/>
<line x1="261.9" x2="261.9" y1="375.5" y2="527.2" stroke="#EBEBEB" stroke-width="0.5"/>
<line x1="290.62" x2="290.62" y1="375.5" y2="527.2" stroke="#EBEBEB" stroke-width="0.5"/>
<line x1="319.34" x2="319.34" y1="375.5" y2="527.2" stroke="#EBEBEB" stroke-width="0.5"/>
<line x1="186.3" x2="340.4" y1="490.5" y2="490.5" stroke="#EBEBEB" stroke-width="0.9"/>
<line x1="186.3" x2="340.4" y1="437.65" y2="437.65" stroke="#EBEBEB" stroke-width="0.9"/>
<line x1="186.3" x2="340.4" y1="384.8" y2="384.8" stroke="#EBEBEB" stroke-width="0.9"/>
<line x1="190.1" x2="190.1" y1="375.5" y2="527.2" stroke="#EBEBEB" stroke-width="0.9"/>
<line x1="218.82" x2="218.82" y1="375.5" y2="527.2" stroke="#EBEBEB" stroke-width="0.9"/>
<line x1="247.54" x2="247.54" y1="375.5" y2="527.2" stroke="#EBEBEB" stroke-width="0.9"/>
<line x1="276.26" x2="276.26" y1="375.5" y2="527.2" stroke="#EBEBEB" stroke-width="0.9"/>
<line x1="304.98" x2="304.98" y1="375.5" y2="527.2" stroke="#EBEBEB" stroke-width="0.9"/>
<line x1="333.7" x2="333.7" y1="375.5" y2="527.2" stroke="#EBEBEB" stroke-width="0.9"/>
<path d="M193.9,498.3 197.1,497.6 200.3,496.8 203.4,496 206.6,495.3 209.8,494.6 213,494 216.1,493.3 219.3,492.8 222.5,492.3 225.7,491.8 228.8,491.4 232,491 235.2,490.7 238.3,490.3 241.5,490 244.7,489.6 247.9,489.2 251,488.7 254.2,488.3 257.4,487.7 260.6,487 263.7,486.3 266.9,485.4 270.1,484.3 273.3,483.1 276.4,481.8 279.6,480.2 282.8,478.5 285.9,476.6 289.1,474.6 292.3,472.4 295.5,470 298.6,467.3 301.8,464.2 305,460.7 308.2,456.5 311.3,451.7 314.5,446.2 317.7,440.1 320.9,433.6 324,426.6 327.2,419.4 330.4,412 333.5,404.4" fill="none" stroke="#DFDFDF" stroke-width="0.7" stroke-linejoin="round"/>
<path d="M193.9,506.3 197.1,505.9 200.3,505.6 203.4,505.2 206.6,504.8 209.8,504.2 213,503.6 216.1,502.8 219.3,501.9 222.5,500.8 225.7,499.6 228.8,498.3 232,496.9 235.2,495.4 238.3,494 241.5,492.6 244.7,491.3 247.9,490.1 251,489.1 254.2,488.2 257.4,487.3 260.6,486.5 263.7,485.6 266.9,484.7 270.1,483.7 273.3,482.6 276.4,481.4 279.6,480 282.8,478.3 285.9,476.4 289.1,474.3 292.3,471.8 295.5,469.1 298.6,466 301.8,462.6 305,459 308.2,455 311.3,450.9 314.5,446.6 317.7,442.3 320.9,437.9 324,433.5 327.2,429.1 330.4,424.7 333.5,420.3" fill="none" stroke="#DFDFDF" stroke-width="0.7" stroke-linejoin="round"/>
<path d="M193.9,510.8 197.1,510.1 200.3,509.4 203.4,508.7 206.6,507.9 209.8,507.1 213,506.2 216.1,505.3 219.3,504.2 222.5,503.1 225.7,501.8 228.8,500.5 232,499.2 235.2,497.8 238.3,496.4 241.5,495 244.7,493.7 247.9,492.4 251,491.1 254.2,489.9 257.4,488.6 260.6,487.3 263.7,485.9 266.9,484.5 270.1,482.9 273.3,481.1 276.4,479.2 279.6,477 282.8,474.7 285.9,472.2 289.1,469.7 292.3,467.3 295.5,464.9 298.6,462.6 301.8,460.1 305,457.2 308.2,453.8 311.3,449.6 314.5,444.3 317.7,438.1 320.9,431 324,423.3 327.2,415 330.4,406.4 333.5,397.6" fill="none" stroke="#DFDFDF" stroke-width="0.7" stroke-linejoin="round"/>
<path d="M193.9,502.9 196.8,502.6 199.6,502.3 202.5,502 205.3,501.7 208.2,501.4 211,501 213.9,500.6 216.7,500.1 219.6,499.5 222.4,498.9 225.3,498.2 228.1,497.5 231,496.6 233.8,495.7 236.7,494.7 239.5,493.6 242.4,492.5 245.2,491.3 248.1,490 250.9,488.6 253.8,487.1 256.6,485.5 259.5,483.8 262.3,482 265.2,480 268,477.9 270.9,475.5 273.7,473 276.6,470.4 279.4,467.5 282.3,464.4 285.1,461.2 288,457.7 290.8,454 293.7,450.2 296.5,446.1 299.4,441.9 302.2,437.6 305,433.2 307.9,428.8 310.7,424.3 313.6,419.9 316.4,415.4 319.3,410.7 322.1,405.7 325,400.3 327.8,394.5 330.7,388.4 333.5,382.2" fill="none" stroke="#F8766D" stroke-width="1.0" stroke-linejoin="round"/>
<path d="M193.9,519.8 196.8,517 199.6,514.1 202.5,511.2 205.3,508.4 208.2,505.7 211,503 213.9,500.3 216.7,497.7 219.6,495.3 222.4,492.9 225.3,490.6 228.1,488.4 231,486.2 233.8,484.1 236.7,482 239.5,480 242.4,478 245.2,475.9 248.1,473.9 250.9,471.8 253.8,469.7 256.6,467.6 259.5,465.4 262.3,463.2 265.2,461 268,458.8 270.9,456.5 273.7,454.2 276.6,451.9 279.4,449.5 282.3,447.2 285.1,444.8 288,442.4 290.8,439.9 293.7,437.6 296.5,435.2 299.4,432.8 302.2,430.5 305,428.2 307.9,426 310.7,423.8 313.6,421.6 316.4,419.5 319.3,417.4 322.1,415.3 325,413.3 327.8,411.2 330.7,409.2 333.5,407.1" fill="none" stroke="#00BFC4" stroke-width="1.2" stroke-linejoin="round"/>
<path d="M193.9,510.1 196.8,509.4 199.6,508.7 202.5,508 205.3,507.2 208.2,506.5 211,505.7 213.9,504.8 216.7,503.9 219.6,503 222.4,502 225.3,500.9 228.1,499.8 231,498.6 233.8,497.3 236.7,496 239.5,494.5 242.4,493.1 245.2,491.5 248.1,489.8 250.9,488.1 253.8,486.3 256.6,484.5 259.5,482.6 262.3,480.6 265.2,478.6 268,476.5 270.9,474.4 273.7,472.2 276.6,470 279.4,467.8 282.3,465.5 285.1,463.3 288,461 290.8,458.7 293.7,456.4 296.5,454.1 299.4,451.8 302.2,449.5 305,447.2 307.9,445 310.7,442.9 313.6,440.8 316.4,438.9 319.3,437.1 322.1,435.4 325,433.8 327.8,432.3 330.7,430.8 333.5,429.3" fill="none" stroke="#00BFC4" stroke-width="1.2" stroke-linejoin="round"/>
<path d="M193.9,501.7 196.8,502.4 199.6,503 202.5,503.5 205.3,504 208.2,504.4 211,504.6 213.9,504.6 216.7,504.5 219.6,504.1 222.4,503.4 225.3,502.5 228.1,501.4 231,500.1 233.8,498.7 236.7,497.1 239.5,495.3 242.4,493.5 245.2,491.7 248.1,489.8 250.9,487.8 253.8,485.9 256.6,484 259.5,482.1 262.3,480.3 265.2,478.5 268,476.8 270.9,475.2 273.7,473.7 276.6,472.3 279.4,471 282.3,469.8 285.1,468.6 288,467.4 290.8,466.1 293.7,464.6 296.5,462.9 299.4,460.8 302.2,458.5 305,455.8 307.9,452.9 310.7,449.7 313.6,446.4 316.4,442.8 319.3,438.9 322.1,434.6 325,430 327.8,424.9 330.7,419.5 333.5,413.9" fill="none" stroke="#00BFC4" stroke-width="1.2" stroke-linejoin="round"/>
<text x="196.2" y="387.8" font-size="6.6" text-anchor="start" fill="#F8766D" font-weight="normal" >ge n=1</text>
<text x="196.2" y="395.1" font-size="6.6" text-anchor="start" fill="#00BFC4" font-weight="normal" >mt n=3</text>
</g>
<rect x="186.3" y="363" width="154.1" height="12.5" fill="#D9D9D9" stroke="#7a7a7a" stroke-width="0.9"/>
<text x="263.35" y="371.75" font-size="6.8" text-anchor="middle" fill="#1A1A1A" font-weight="normal" >L</text>
<rect x="186.3" y="375.5" width="154.1" height="151.7" fill="none" stroke="#7a7a7a" stroke-width="0.9"/>
<line x1="184" x2="186.3" y1="490.5" y2="490.5" stroke="#7a7a7a" stroke-width="0.9"/>
<text x="182.9" y="492.9" font-size="6.8" text-anchor="end" fill="#4D4D4D" font-weight="normal" >1</text>
<line x1="184" x2="186.3" y1="437.65" y2="437.65" stroke="#7a7a7a" stroke-width="0.9"/>
<text x="182.9" y="440.05" font-size="6.8" text-anchor="end" fill="#4D4D4D" font-weight="normal" >2</text>
<line x1="184" x2="186.3" y1="384.8" y2="384.8" stroke="#7a7a7a" stroke-width="0.9"/>
<text x="182.9" y="387.2" font-size="6.8" text-anchor="end" fill="#4D4D4D" font-weight="normal" >3</text>
<line x1="190.1" x2="190.1" y1="527.2" y2="529.5" stroke="#7a7a7a" stroke-width="0.9"/>
<text x="190.1" y="536" font-size="6.8" text-anchor="middle" fill="#4D4D4D" font-weight="normal" >0</text>
<line x1="218.82" x2="218.82" y1="527.2" y2="529.5" stroke="#7a7a7a" stroke-width="0.9"/>
<text x="218.82" y="536" font-size="6.8" text-anchor="middle" fill="#4D4D4D" font-weight="normal" >10</text>
<line x1="247.54" x2="247.54" y1="527.2" y2="529.5" stroke="#7a7a7a" stroke-width="0.9"/>
<text x="247.54" y="536" font-size="6.8" text-anchor="middle" fill="#4D4D4D" font-weight="normal" >20</text>
<line x1="276.26" x2="276.26" y1="527.2" y2="529.5" stroke="#7a7a7a" stroke-width="0.9"/>
<text x="276.26" y="536" font-size="6.8" text-anchor="middle" fill="#4D4D4D" font-weight="normal" >30</text>
<line x1="304.98" x2="304.98" y1="527.2" y2="529.5" stroke="#7a7a7a" stroke-width="0.9"/>
<text x="304.98" y="536" font-size="6.8" text-anchor="middle" fill="#4D4D4D" font-weight="normal" >40</text>
<line x1="333.7" x2="333.7" y1="527.2" y2="529.5" stroke="#7a7a7a" stroke-width="0.9"/>
<text x="333.7" y="536" font-size="6.8" text-anchor="middle" fill="#4D4D4D" font-weight="normal" >50</text>
<line x1="366.4" x2="376.6" y1="379.9" y2="379.9" stroke="#3a3a3a" stroke-width="1.3" stroke-dasharray="3.2,3.6"/>
<text x="382.7" y="382.3" font-size="6.6" text-anchor="start" fill="#1A1A1A" font-weight="normal" >HR&lt;1</text>
<line x1="366.4" x2="376.6" y1="392.9" y2="392.9" stroke="#444" stroke-width="1.3"/>
<text x="382.7" y="395.3" font-size="6.6" text-anchor="start" fill="#1A1A1A" font-weight="normal" >HR&gt;1</text>
<line x1="366.4" x2="376.6" y1="404.6" y2="404.6" stroke="#F8766D" stroke-width="1"/>
<text x="382.7" y="407" font-size="6.6" text-anchor="start" fill="#1A1A1A" font-weight="normal" >Genomic sign.</text>
<line x1="366.4" x2="376.6" y1="417.4" y2="417.4" stroke="#00BFC4" stroke-width="1"/>
<text x="382.7" y="419.8" font-size="6.6" text-anchor="start" fill="#1A1A1A" font-weight="normal" >Mitochondrial sign.</text>
<line x1="366.4" x2="376.6" y1="430.6" y2="430.6" stroke="#DDDDDD" stroke-width="1"/>
<text x="382.7" y="433" font-size="6.6" text-anchor="start" fill="#1A1A1A" font-weight="normal" >Not sign.</text>
<text x="9.6" y="577.1" font-size="20" text-anchor="start" fill="#111" font-weight="bold" >B</text>
<g clip-path="url(#clipB0)">
<circle cx="89.8" cy="683.05" r="12.8" fill="none" stroke="#EBEBEB" stroke-width="0.9"/>
<circle cx="89.8" cy="683.05" r="25.6" fill="none" stroke="#EBEBEB" stroke-width="0.9"/>
<circle cx="89.8" cy="683.05" r="38.4" fill="none" stroke="#EBEBEB" stroke-width="0.9"/>
<circle cx="89.8" cy="683.05" r="51.2" fill="none" stroke="#EBEBEB" stroke-width="0.9"/>
<circle cx="89.8" cy="683.05" r="64" fill="none" stroke="#EBEBEB" stroke-width="0.9"/>
<circle cx="89.8" cy="683.05" r="73.17" fill="none" stroke="#EBEBEB" stroke-width="0.9"/>
<line x1="89.8" y1="683.05" x2="104.07" y2="611.29" stroke="#EBEBEB" stroke-width="0.9"/>
<line x1="89.8" y1="683.05" x2="130.45" y2="622.21" stroke="#EBEBEB" stroke-width="0.9"/>
<line x1="89.8" y1="683.05" x2="150.64" y2="642.4" stroke="#EBEBEB" stroke-width="0.9"/>
<line x1="89.8" y1="683.05" x2="161.56" y2="668.78" stroke="#EBEBEB" stroke-width="0.9"/>
<line x1="89.8" y1="683.05" x2="161.56" y2="697.32" stroke="#EBEBEB" stroke-width="0.9"/>
<line x1="89.8" y1="683.05" x2="150.64" y2="723.7" stroke="#EBEBEB" stroke-width="0.9"/>
<line x1="89.8" y1="683.05" x2="130.45" y2="743.89" stroke="#EBEBEB" stroke-width="0.9"/>
<line x1="89.8" y1="683.05" x2="104.07" y2="754.81" stroke="#EBEBEB" stroke-width="0.9"/>
<line x1="89.8" y1="683.05" x2="75.53" y2="754.81" stroke="#EBEBEB" stroke-width="0.9"/>
<line x1="89.8" y1="683.05" x2="49.15" y2="743.89" stroke="#EBEBEB" stroke-width="0.9"/>
<line x1="89.8" y1="683.05" x2="28.96" y2="723.7" stroke="#EBEBEB" stroke-width="0.9"/>
<line x1="89.8" y1="683.05" x2="18.04" y2="697.32" stroke="#EBEBEB" stroke-width="0.9"/>
<line x1="89.8" y1="683.05" x2="18.04" y2="668.78" stroke="#EBEBEB" stroke-width="0.9"/>
<line x1="89.8" y1="683.05" x2="28.96" y2="642.4" stroke="#EBEBEB" stroke-width="0.9"/>
<line x1="89.8" y1="683.05" x2="49.15" y2="622.21" stroke="#EBEBEB" stroke-width="0.9"/>
<line x1="89.8" y1="683.05" x2="75.53" y2="611.29" stroke="#EBEBEB" stroke-width="0.9"/>
<path d="M89.8,683.05 L89.8,670.25 A12.8,12.8 0 0 1 94.7,671.22 L89.8,683.05Z" fill="#F8766D" stroke="#fff" stroke-width="0.75"/>
<path d="M89.8,683.05 L102.27,677.88 A13.5,13.5 0 0 1 103.3,683.05 L89.8,683.05Z" fill="#F8766D" stroke="#fff" stroke-width="0.75"/>
<path d="M89.8,683.05 L102.1,683.05 A12.3,12.3 0 0 1 101.16,687.76 L89.8,683.05Z" fill="#F8766D" stroke="#fff" stroke-width="0.75"/>
<path d="M89.8,683.05 L98.85,692.1 A12.8,12.8 0 0 1 94.7,694.88 L89.8,683.05Z" fill="#F8766D" stroke="#fff" stroke-width="0.75"/>
<path d="M98.85,692.1 L107.9,701.15 A25.6,25.6 0 0 1 99.6,706.7 L94.7,694.88 A12.8,12.8 0 0 0 98.85,692.1Z" fill="#F8766D" stroke="#fff" stroke-width="0.75"/>
<path d="M107.9,701.15 L116.95,710.2 A38.4,38.4 0 0 1 104.5,718.53 L99.6,706.7 A25.6,25.6 0 0 0 107.9,701.15Z" fill="#F8766D" stroke="#fff" stroke-width="0.75"/>
<path d="M116.95,710.2 L126,719.25 A51.2,51.2 0 0 1 109.39,730.35 L104.5,718.53 A38.4,38.4 0 0 0 116.95,710.2Z" fill="#F8766D" stroke="#fff" stroke-width="0.75"/>
<path d="M126,719.25 L135.05,728.3 A64,64 0 0 1 114.29,742.18 L109.39,730.35 A51.2,51.2 0 0 0 126,719.25Z" fill="#F8766D" stroke="#fff" stroke-width="0.75"/>
<path d="M89.8,683.05 L94.58,694.6 A12.5,12.5 0 0 1 89.8,695.55 L89.8,683.05Z" fill="#F8766D" stroke="#fff" stroke-width="0.75"/>
<path d="M89.8,683.05 L80.78,692.07 A12.75,12.75 0 0 1 78.02,687.93 L89.8,683.05Z" fill="#00BFC4" stroke="#fff" stroke-width="0.75"/>
<path d="M80.78,692.07 L71.77,701.08 A25.5,25.5 0 0 1 66.24,692.81 L78.02,687.93 A12.75,12.75 0 0 0 80.78,692.07Z" fill="#00BFC4" stroke="#fff" stroke-width="0.75"/>
<path d="M71.77,701.08 L62.75,710.1 A38.25,38.25 0 0 1 54.46,697.69 L66.24,692.81 A25.5,25.5 0 0 0 71.77,701.08Z" fill="#00BFC4" stroke="#fff" stroke-width="0.75"/>
<path d="M62.75,710.1 L53.74,719.11 A51,51 0 0 1 42.68,702.57 L54.46,697.69 A38.25,38.25 0 0 0 62.75,710.1Z" fill="#00BFC4" stroke="#fff" stroke-width="0.75"/>
<path d="M89.8,683.05 L77.1,677.79 A13.75,13.75 0 0 1 80.08,673.33 L89.8,683.05Z" fill="#00BFC4" stroke="#fff" stroke-width="0.75"/>
<path d="M77.1,677.79 L64.39,672.53 A27.5,27.5 0 0 1 70.35,663.6 L80.08,673.33 A13.75,13.75 0 0 0 77.1,677.79Z" fill="#00BFC4" stroke="#fff" stroke-width="0.75"/>
<circle cx="89.8" cy="683.05" r="1.6" fill="#fff"/>
<text x="104.07" y="611.39" font-size="6.6" text-anchor="middle" fill="#4D4D4D" font-weight="normal" >ge</text>
<text x="104.07" y="618.29" font-size="6.6" text-anchor="middle" fill="#4D4D4D" font-weight="normal" >tRF1</text>
<text x="130.45" y="622.31" font-size="6.6" text-anchor="middle" fill="#4D4D4D" font-weight="normal" >ge</text>
<text x="130.45" y="629.21" font-size="6.6" text-anchor="middle" fill="#4D4D4D" font-weight="normal" >tRF3</text>
<text x="150.64" y="642.5" font-size="6.6" text-anchor="middle" fill="#4D4D4D" font-weight="normal" >ge</text>
<text x="150.64" y="649.4" font-size="6.6" text-anchor="middle" fill="#4D4D4D" font-weight="normal" >tRF3_CCA</text>
<text x="161.56" y="668.88" font-size="6.6" text-anchor="middle" fill="#4D4D4D" font-weight="normal" >ge</text>
<text x="161.56" y="675.78" font-size="6.6" text-anchor="middle" fill="#4D4D4D" font-weight="normal" >tRF5</text>
<text x="161.56" y="697.42" font-size="6.6" text-anchor="middle" fill="#4D4D4D" font-weight="normal" >ge</text>
<text x="161.56" y="704.32" font-size="6.6" text-anchor="middle" fill="#4D4D4D" font-weight="normal" >tRFmisc</text>
<text x="150.64" y="723.8" font-size="6.6" text-anchor="middle" fill="#4D4D4D" font-weight="normal" >ge</text>
<text x="150.64" y="730.7" font-size="6.6" text-anchor="middle" fill="#4D4D4D" font-weight="normal" >tRhalve3</text>
<text x="130.45" y="743.99" font-size="6.6" text-anchor="middle" fill="#4D4D4D" font-weight="normal" >ge</text>
<text x="130.45" y="750.89" font-size="6.6" text-anchor="middle" fill="#4D4D4D" font-weight="normal" >tRhalve5</text>
<text x="104.07" y="754.91" font-size="6.6" text-anchor="middle" fill="#4D4D4D" font-weight="normal" >ge</text>
<text x="104.07" y="761.81" font-size="6.6" text-anchor="middle" fill="#4D4D4D" font-weight="normal" >tRNAleader</text>
<text x="75.53" y="754.91" font-size="6.6" text-anchor="middle" fill="#4D4D4D" font-weight="normal" >mt</text>
<text x="75.53" y="761.81" font-size="6.6" text-anchor="middle" fill="#4D4D4D" font-weight="normal" >tRF1</text>
<text x="49.15" y="743.99" font-size="6.6" text-anchor="middle" fill="#4D4D4D" font-weight="normal" >mt</text>
<text x="49.15" y="750.89" font-size="6.6" text-anchor="middle" fill="#4D4D4D" font-weight="normal" >tRF3</text>
<text x="28.96" y="723.8" font-size="6.6" text-anchor="middle" fill="#4D4D4D" font-weight="normal" >mt</text>
<text x="28.96" y="730.7" font-size="6.6" text-anchor="middle" fill="#4D4D4D" font-weight="normal" >tRF3_CCA</text>
<text x="18.04" y="697.42" font-size="6.6" text-anchor="middle" fill="#4D4D4D" font-weight="normal" >mt</text>
<text x="18.04" y="704.32" font-size="6.6" text-anchor="middle" fill="#4D4D4D" font-weight="normal" >tRF5</text>
<text x="18.04" y="668.88" font-size="6.6" text-anchor="middle" fill="#4D4D4D" font-weight="normal" >mt</text>
<text x="18.04" y="675.78" font-size="6.6" text-anchor="middle" fill="#4D4D4D" font-weight="normal" >tRFmisc</text>
<text x="28.96" y="642.5" font-size="6.6" text-anchor="middle" fill="#4D4D4D" font-weight="normal" >mt</text>
<text x="28.96" y="649.4" font-size="6.6" text-anchor="middle" fill="#4D4D4D" font-weight="normal" >tRhalve3</text>
<text x="49.15" y="622.31" font-size="6.6" text-anchor="middle" fill="#4D4D4D" font-weight="normal" >mt</text>
<text x="49.15" y="629.21" font-size="6.6" text-anchor="middle" fill="#4D4D4D" font-weight="normal" >tRhalve5</text>
<text x="75.53" y="611.39" font-size="6.6" text-anchor="middle" fill="#4D4D4D" font-weight="normal" >mt</text>
<text x="75.53" y="618.29" font-size="6.6" text-anchor="middle" fill="#4D4D4D" font-weight="normal" >tRNAleader</text>
</g>
<rect x="8.5" y="588.8" width="162.6" height="13.1" fill="#D9D9D9" stroke="#7a7a7a" stroke-width="0.9"/>
<text x="89.8" y="597.85" font-size="6.8" text-anchor="middle" fill="#1A1A1A" font-weight="normal" >A</text>
<rect x="8.5" y="601.9" width="162.6" height="162.3" fill="none" stroke="#7a7a7a" stroke-width="0.9"/>
<line x1="6.2" x2="8.5" y1="683.45" y2="683.45" stroke="#7a7a7a" stroke-width="0.9"/>
<text x="5.1" y="685.85" font-size="6.8" text-anchor="end" fill="#4D4D4D" font-weight="normal" >0</text>
<line x1="6.2" x2="8.5" y1="670.45" y2="670.45" stroke="#7a7a7a" stroke-width="0.9"/>
<text x="5.1" y="672.85" font-size="6.8" text-anchor="end" fill="#4D4D4D" font-weight="normal" >1</text>
<line x1="6.2" x2="8.5" y1="657.45" y2="657.45" stroke="#7a7a7a" stroke-width="0.9"/>
<text x="5.1" y="659.85" font-size="6.8" text-anchor="end" fill="#4D4D4D" font-weight="normal" >2</text>
<line x1="6.2" x2="8.5" y1="644.45" y2="644.45" stroke="#7a7a7a" stroke-width="0.9"/>
<text x="5.1" y="646.85" font-size="6.8" text-anchor="end" fill="#4D4D4D" font-weight="normal" >3</text>
<line x1="6.2" x2="8.5" y1="631.45" y2="631.45" stroke="#7a7a7a" stroke-width="0.9"/>
<text x="5.1" y="633.85" font-size="6.8" text-anchor="end" fill="#4D4D4D" font-weight="normal" >4</text>
<line x1="6.2" x2="8.5" y1="618.45" y2="618.45" stroke="#7a7a7a" stroke-width="0.9"/>
<text x="5.1" y="620.85" font-size="6.8" text-anchor="end" fill="#4D4D4D" font-weight="normal" >5</text>
<g clip-path="url(#clipB1)">
<circle cx="256.8" cy="683.05" r="16" fill="none" stroke="#EBEBEB" stroke-width="0.9"/>
<circle cx="256.8" cy="683.05" r="32" fill="none" stroke="#EBEBEB" stroke-width="0.9"/>
<circle cx="256.8" cy="683.05" r="48" fill="none" stroke="#EBEBEB" stroke-width="0.9"/>
<circle cx="256.8" cy="683.05" r="64" fill="none" stroke="#EBEBEB" stroke-width="0.9"/>
<circle cx="256.8" cy="683.05" r="73.17" fill="none" stroke="#EBEBEB" stroke-width="0.9"/>
<line x1="256.8" y1="683.05" x2="271.07" y2="611.29" stroke="#EBEBEB" stroke-width="0.9"/>
<line x1="256.8" y1="683.05" x2="297.45" y2="622.21" stroke="#EBEBEB" stroke-width="0.9"/>
<line x1="256.8" y1="683.05" x2="317.64" y2="642.4" stroke="#EBEBEB" stroke-width="0.9"/>
<line x1="256.8" y1="683.05" x2="328.56" y2="668.78" stroke="#EBEBEB" stroke-width="0.9"/>
<line x1="256.8" y1="683.05" x2="328.56" y2="697.32" stroke="#EBEBEB" stroke-width="0.9"/>
<line x1="256.8" y1="683.05" x2="317.64" y2="723.7" stroke="#EBEBEB" stroke-width="0.9"/>
<line x1="256.8" y1="683.05" x2="297.45" y2="743.89" stroke="#EBEBEB" stroke-width="0.9"/>
<line x1="256.8" y1="683.05" x2="271.07" y2="754.81" stroke="#EBEBEB" stroke-width="0.9"/>
<line x1="256.8" y1="683.05" x2="242.53" y2="754.81" stroke="#EBEBEB" stroke-width="0.9"/>
<line x1="256.8" y1="683.05" x2="216.15" y2="743.89" stroke="#EBEBEB" stroke-width="0.9"/>
<line x1="256.8" y1="683.05" x2="195.96" y2="723.7" stroke="#EBEBEB" stroke-width="0.9"/>
<line x1="256.8" y1="683.05" x2="185.04" y2="697.32" stroke="#EBEBEB" stroke-width="0.9"/>
<line x1="256.8" y1="683.05" x2="185.04" y2="668.78" stroke="#EBEBEB" stroke-width="0.9"/>
<line x1="256.8" y1="683.05" x2="195.96" y2="642.4" stroke="#EBEBEB" stroke-width="0.9"/>
<line x1="256.8" y1="683.05" x2="216.15" y2="622.21" stroke="#EBEBEB" stroke-width="0.9"/>
<line x1="256.8" y1="683.05" x2="242.53" y2="611.29" stroke="#EBEBEB" stroke-width="0.9"/>
<path d="M256.8,683.05 L258.33,679.35 A4,4 0 0 1 259.63,680.22 L256.8,683.05Z" fill="#F8766D" stroke="#fff" stroke-width="0.75"/>
<path d="M258.33,679.35 L259.86,675.66 A8,8 0 0 1 262.46,677.39 L259.63,680.22 A4,4 0 0 0 258.33,679.35Z" fill="#F8766D" stroke="#fff" stroke-width="0.75"/>
<path d="M259.86,675.66 L261.39,671.96 A12,12 0 0 1 265.29,674.56 L262.46,677.39 A8,8 0 0 0 259.86,675.66Z" fill="#F8766D" stroke="#fff" stroke-width="0.75"/>
<path d="M261.39,671.96 L262.92,668.27 A16,16 0 0 1 268.11,671.74 L265.29,674.56 A12,12 0 0 0 261.39,671.96Z" fill="#F8766D" stroke="#fff" stroke-width="0.75"/>
<path d="M262.92,668.27 L264.45,664.57 A20,20 0 0 1 270.94,668.91 L268.11,671.74 A16,16 0 0 0 262.92,668.27Z" fill="#F8766D" stroke="#fff" stroke-width="0.75"/>
<path d="M264.45,664.57 L265.98,660.88 A24,24 0 0 1 273.77,666.08 L270.94,668.91 A20,20 0 0 0 264.45,664.57Z" fill="#F8766D" stroke="#fff" stroke-width="0.75"/>
<path d="M265.98,660.88 L267.52,657.18 A28,28 0 0 1 276.6,663.25 L273.77,666.08 A24,24 0 0 0 265.98,660.88Z" fill="#F8766D" stroke="#fff" stroke-width="0.75"/>
<path d="M267.52,657.18 L269.05,653.49 A32,32 0 0 1 279.43,660.42 L276.6,663.25 A28,28 0 0 0 267.52,657.18Z" fill="#F8766D" stroke="#fff" stroke-width="0.75"/>
<path d="M269.05,653.49 L270.58,649.79 A36,36 0 0 1 282.26,657.59 L279.43,660.42 A32,32 0 0 0 269.05,653.49Z" fill="#F8766D" stroke="#fff" stroke-width="0.75"/>
<path d="M270.58,649.79 L272.11,646.09 A40,40 0 0 1 285.08,654.77 L282.26,657.59 A36,36 0 0 0 270.58,649.79Z" fill="#F8766D" stroke="#fff" stroke-width="0.75"/>
<path d="M272.11,646.09 L273.64,642.4 A44,44 0 0 1 287.91,651.94 L285.08,654.77 A40,40 0 0 0 272.11,646.09Z" fill="#F8766D" stroke="#fff" stroke-width="0.75"/>
<path d="M273.64,642.4 L275.17,638.7 A48,48 0 0 1 290.74,649.11 L287.91,651.94 A44,44 0 0 0 273.64,642.4Z" fill="#F8766D" stroke="#fff" stroke-width="0.75"/>
<path d="M275.17,638.7 L276.7,635.01 A52,52 0 0 1 293.57,646.28 L290.74,649.11 A48,48 0 0 0 275.17,638.7Z" fill="#F8766D" stroke="#fff" stroke-width="0.75"/>
<path d="M276.7,635.01 L278.23,631.31 A56,56 0 0 1 296.4,643.45 L293.57,646.28 A52,52 0 0 0 276.7,635.01Z" fill="#F8766D" stroke="#fff" stroke-width="0.75"/>
<path d="M278.23,631.31 L279.76,627.62 A60,60 0 0 1 299.23,640.62 L296.4,643.45 A56,56 0 0 0 278.23,631.31Z" fill="#F8766D" stroke="#fff" stroke-width="0.75"/>
<path d="M279.76,627.62 L281.29,623.92 A64,64 0 0 1 302.05,637.8 L299.23,640.62 A60,60 0 0 0 279.76,627.62Z" fill="#F8766D" stroke="#fff" stroke-width="0.75"/>
<path d="M256.8,683.05 L259.63,680.22 A4,4 0 0 1 260.5,681.52 L256.8,683.05Z" fill="#F8766D" stroke="#fff" stroke-width="0.75"/>
<path d="M259.63,680.22 L262.46,677.39 A8,8 0 0 1 264.19,679.99 L260.5,681.52 A4,4 0 0 0 259.63,680.22Z" fill="#F8766D" stroke="#fff" stroke-width="0.75"/>
<path d="M262.46,677.39 L265.29,674.56 A12,12 0 0 1 267.89,678.46 L264.19,679.99 A8,8 0 0 0 262.46,677.39Z" fill="#F8766D" stroke="#fff" stroke-width="0.75"/>
<path d="M265.29,674.56 L268.11,671.74 A16,16 0 0 1 271.58,676.93 L267.89,678.46 A12,12 0 0 0 265.29,674.56Z" fill="#F8766D" stroke="#fff" stroke-width="0.75"/>
<path d="M256.8,683.05 L260.5,681.52 A4,4 0 0 1 260.8,683.05 L256.8,683.05Z" fill="#F8766D" stroke="#fff" stroke-width="0.75"/>
<path d="M260.5,681.52 L264.19,679.99 A8,8 0 0 1 264.8,683.05 L260.8,683.05 A4,4 0 0 0 260.5,681.52Z" fill="#F8766D" stroke="#fff" stroke-width="0.75"/>
<path d="M264.19,679.99 L267.89,678.46 A12,12 0 0 1 268.8,683.05 L264.8,683.05 A8,8 0 0 0 264.19,679.99Z" fill="#F8766D" stroke="#fff" stroke-width="0.75"/>
<path d="M256.8,683.05 L260.97,683.05 A4.17,4.17 0 0 1 260.65,684.64 L256.8,683.05Z" fill="#F8766D" stroke="#fff" stroke-width="0.75"/>
<path d="M260.97,683.05 L265.13,683.05 A8.33,8.33 0 0 1 264.5,686.24 L260.65,684.64 A4.17,4.17 0 0 0 260.97,683.05Z" fill="#F8766D" stroke="#fff" stroke-width="0.75"/>
<path d="M265.13,683.05 L269.3,683.05 A12.5,12.5 0 0 1 268.35,687.83 L264.5,686.24 A8.33,8.33 0 0 0 265.13,683.05Z" fill="#F8766D" stroke="#fff" stroke-width="0.75"/>
<path d="M256.8,683.05 L260.5,684.58 A4,4 0 0 1 259.63,685.88 L256.8,683.05Z" fill="#F8766D" stroke="#fff" stroke-width="0.75"/>
<path d="M260.5,684.58 L264.19,686.11 A8,8 0 0 1 262.46,688.71 L259.63,685.88 A4,4 0 0 0 260.5,684.58Z" fill="#F8766D" stroke="#fff" stroke-width="0.75"/>
<path d="M264.19,686.11 L267.89,687.64 A12,12 0 0 1 265.29,691.54 L262.46,688.71 A8,8 0 0 0 264.19,686.11Z" fill="#F8766D" stroke="#fff" stroke-width="0.75"/>
<path d="M267.89,687.64 L271.58,689.17 A16,16 0 0 1 268.11,694.36 L265.29,691.54 A12,12 0 0 0 267.89,687.64Z" fill="#F8766D" stroke="#fff" stroke-width="0.75"/>
<path d="M256.8,683.05 L254.33,680.58 A3.5,3.5 0 0 1 255.46,679.82 L256.8,683.05Z" fill="#00BFC4" stroke="#fff" stroke-width="0.75"/>
<path d="M254.33,680.58 L251.85,678.1 A7,7 0 0 1 254.12,676.58 L255.46,679.82 A3.5,3.5 0 0 0 254.33,680.58Z" fill="#00BFC4" stroke="#fff" stroke-width="0.75"/>
<path d="M256.8,683.05 L254.8,683.05 A2,2 0 0 1 254.95,682.28 L256.8,683.05Z" fill="#00BFC4" stroke="#fff" stroke-width="0.75"/>
<circle cx="256.8" cy="683.05" r="1.6" fill="#fff"/>
<text x="271.07" y="611.39" font-size="6.6" text-anchor="middle" fill="#4D4D4D" font-weight="normal" >ge</text>
<text x="271.07" y="618.29" font-size="6.6" text-anchor="middle" fill="#4D4D4D" font-weight="normal" >tRF1</text>
<text x="297.45" y="622.31" font-size="6.6" text-anchor="middle" fill="#4D4D4D" font-weight="normal" >ge</text>
<text x="297.45" y="629.21" font-size="6.6" text-anchor="middle" fill="#4D4D4D" font-weight="normal" >tRF3</text>
<text x="317.64" y="642.5" font-size="6.6" text-anchor="middle" fill="#4D4D4D" font-weight="normal" >ge</text>
<text x="317.64" y="649.4" font-size="6.6" text-anchor="middle" fill="#4D4D4D" font-weight="normal" >tRF3_CCA</text>
<text x="328.56" y="668.88" font-size="6.6" text-anchor="middle" fill="#4D4D4D" font-weight="normal" >ge</text>
<text x="328.56" y="675.78" font-size="6.6" text-anchor="middle" fill="#4D4D4D" font-weight="normal" >tRF5</text>
<text x="328.56" y="697.42" font-size="6.6" text-anchor="middle" fill="#4D4D4D" font-weight="normal" >ge</text>
<text x="328.56" y="704.32" font-size="6.6" text-anchor="middle" fill="#4D4D4D" font-weight="normal" >tRFmisc</text>
<text x="317.64" y="723.8" font-size="6.6" text-anchor="middle" fill="#4D4D4D" font-weight="normal" >ge</text>
<text x="317.64" y="730.7" font-size="6.6" text-anchor="middle" fill="#4D4D4D" font-weight="normal" >tRhalve3</text>
<text x="297.45" y="743.99" font-size="6.6" text-anchor="middle" fill="#4D4D4D" font-weight="normal" >ge</text>
<text x="297.45" y="750.89" font-size="6.6" text-anchor="middle" fill="#4D4D4D" font-weight="normal" >tRhalve5</text>
<text x="271.07" y="754.91" font-size="6.6" text-anchor="middle" fill="#4D4D4D" font-weight="normal" >ge</text>
<text x="271.07" y="761.81" font-size="6.6" text-anchor="middle" fill="#4D4D4D" font-weight="normal" >tRNAleader</text>
<text x="242.53" y="754.91" font-size="6.6" text-anchor="middle" fill="#4D4D4D" font-weight="normal" >mt</text>
<text x="242.53" y="761.81" font-size="6.6" text-anchor="middle" fill="#4D4D4D" font-weight="normal" >tRF1</text>
<text x="216.15" y="743.99" font-size="6.6" text-anchor="middle" fill="#4D4D4D" font-weight="normal" >mt</text>
<text x="216.15" y="750.89" font-size="6.6" text-anchor="middle" fill="#4D4D4D" font-weight="normal" >tRF3</text>
<text x="195.96" y="723.8" font-size="6.6" text-anchor="middle" fill="#4D4D4D" font-weight="normal" >mt</text>
<text x="195.96" y="730.7" font-size="6.6" text-anchor="middle" fill="#4D4D4D" font-weight="normal" >tRF3_CCA</text>
<text x="185.04" y="697.42" font-size="6.6" text-anchor="middle" fill="#4D4D4D" font-weight="normal" >mt</text>
<text x="185.04" y="704.32" font-size="6.6" text-anchor="middle" fill="#4D4D4D" font-weight="normal" >tRF5</text>
<text x="185.04" y="668.88" font-size="6.6" text-anchor="middle" fill="#4D4D4D" font-weight="normal" >mt</text>
<text x="185.04" y="675.78" font-size="6.6" text-anchor="middle" fill="#4D4D4D" font-weight="normal" >tRFmisc</text>
<text x="195.96" y="642.5" font-size="6.6" text-anchor="middle" fill="#4D4D4D" font-weight="normal" >mt</text>
<text x="195.96" y="649.4" font-size="6.6" text-anchor="middle" fill="#4D4D4D" font-weight="normal" >tRhalve3</text>
<text x="216.15" y="622.31" font-size="6.6" text-anchor="middle" fill="#4D4D4D" font-weight="normal" >mt</text>
<text x="216.15" y="629.21" font-size="6.6" text-anchor="middle" fill="#4D4D4D" font-weight="normal" >tRhalve5</text>
<text x="242.53" y="611.39" font-size="6.6" text-anchor="middle" fill="#4D4D4D" font-weight="normal" >mt</text>
<text x="242.53" y="618.29" font-size="6.6" text-anchor="middle" fill="#4D4D4D" font-weight="normal" >tRNAleader</text>
</g>
<rect x="175.5" y="588.8" width="162.6" height="13.1" fill="#D9D9D9" stroke="#7a7a7a" stroke-width="0.9"/>
<text x="256.8" y="597.85" font-size="6.8" text-anchor="middle" fill="#1A1A1A" font-weight="normal" >B</text>
<rect x="175.5" y="601.9" width="162.6" height="162.3" fill="none" stroke="#7a7a7a" stroke-width="0.9"/>
<g clip-path="url(#clipB2)">
<circle cx="424.2" cy="683.05" r="16" fill="none" stroke="#EBEBEB" stroke-width="0.9"/>
<circle cx="424.2" cy="683.05" r="32" fill="none" stroke="#EBEBEB" stroke-width="0.9"/>
<circle cx="424.2" cy="683.05" r="48" fill="none" stroke="#EBEBEB" stroke-width="0.9"/>
<circle cx="424.2" cy="683.05" r="64" fill="none" stroke="#EBEBEB" stroke-width="0.9"/>
<circle cx="424.2" cy="683.05" r="73.08" fill="none" stroke="#EBEBEB" stroke-width="0.9"/>
<line x1="424.2" y1="683.05" x2="438.46" y2="611.37" stroke="#EBEBEB" stroke-width="0.9"/>
<line x1="424.2" y1="683.05" x2="464.8" y2="622.29" stroke="#EBEBEB" stroke-width="0.9"/>
<line x1="424.2" y1="683.05" x2="484.96" y2="642.45" stroke="#EBEBEB" stroke-width="0.9"/>
<line x1="424.2" y1="683.05" x2="495.88" y2="668.79" stroke="#EBEBEB" stroke-width="0.9"/>
<line x1="424.2" y1="683.05" x2="495.88" y2="697.31" stroke="#EBEBEB" stroke-width="0.9"/>
<line x1="424.2" y1="683.05" x2="484.96" y2="723.65" stroke="#EBEBEB" stroke-width="0.9"/>
<line x1="424.2" y1="683.05" x2="464.8" y2="743.81" stroke="#EBEBEB" stroke-width="0.9"/>
<line x1="424.2" y1="683.05" x2="438.46" y2="754.73" stroke="#EBEBEB" stroke-width="0.9"/>
<line x1="424.2" y1="683.05" x2="409.94" y2="754.73" stroke="#EBEBEB" stroke-width="0.9"/>
<line x1="424.2" y1="683.05" x2="383.6" y2="743.81" stroke="#EBEBEB" stroke-width="0.9"/>
<line x1="424.2" y1="683.05" x2="363.44" y2="723.65" stroke="#EBEBEB" stroke-width="0.9"/>
<line x1="424.2" y1="683.05" x2="352.52" y2="697.31" stroke="#EBEBEB" stroke-width="0.9"/>
<line x1="424.2" y1="683.05" x2="352.52" y2="668.79" stroke="#EBEBEB" stroke-width="0.9"/>
<line x1="424.2" y1="683.05" x2="363.44" y2="642.45" stroke="#EBEBEB" stroke-width="0.9"/>
<line x1="424.2" y1="683.05" x2="383.6" y2="622.29" stroke="#EBEBEB" stroke-width="0.9"/>
<line x1="424.2" y1="683.05" x2="409.94" y2="611.37" stroke="#EBEBEB" stroke-width="0.9"/>
<path d="M424.2,683.05 L436.45,653.49 A32,32 0 0 1 446.83,660.42 L424.2,683.05Z" fill="#F8766D" stroke="#fff" stroke-width="0.75"/>
<path d="M424.2,683.05 L446.83,660.42 A32,32 0 0 1 453.76,670.8 L424.2,683.05Z" fill="#F8766D" stroke="#fff" stroke-width="0.75"/>
<path d="M446.83,660.42 L469.45,637.8 A64,64 0 0 1 483.33,658.56 L453.76,670.8 A32,32 0 0 0 446.83,660.42Z" fill="#F8766D" stroke="#fff" stroke-width="0.75"/>
<path d="M424.2,683.05 L456.2,683.05 A32,32 0 0 1 453.76,695.3 L424.2,683.05Z" fill="#F8766D" stroke="#fff" stroke-width="0.75"/>
<path d="M424.2,683.05 L453.76,695.3 A32,32 0 0 1 446.83,705.68 L424.2,683.05Z" fill="#F8766D" stroke="#fff" stroke-width="0.75"/>
<path d="M453.76,695.3 L483.33,707.54 A64,64 0 0 1 469.45,728.3 L446.83,705.68 A32,32 0 0 0 453.76,695.3Z" fill="#F8766D" stroke="#fff" stroke-width="0.75"/>
<path d="M424.2,683.05 L446.83,705.68 A32,32 0 0 1 436.45,712.61 L424.2,683.05Z" fill="#F8766D" stroke="#fff" stroke-width="0.75"/>
<path d="M424.2,683.05 L436.45,712.61 A32,32 0 0 1 424.2,715.05 L424.2,683.05Z" fill="#F8766D" stroke="#fff" stroke-width="0.75"/>
<path d="M424.2,683.05 L411.95,653.49 A32,32 0 0 1 424.2,651.05 L424.2,683.05Z" fill="#00BFC4" stroke="#fff" stroke-width="0.75"/>
<path d="M424.2,683.05 L394.64,695.3 A32,32 0 0 1 392.2,683.05 L424.2,683.05Z" fill="#00BFC4" stroke="#fff" stroke-width="0.75"/>
<path d="M424.2,683.05 L401.57,705.68 A32,32 0 0 1 394.64,695.3 L424.2,683.05Z" fill="#00BFC4" stroke="#fff" stroke-width="0.75"/>
<circle cx="424.2" cy="683.05" r="1.6" fill="#fff"/>
<text x="438.46" y="611.47" font-size="6.6" text-anchor="middle" fill="#4D4D4D" font-weight="normal" >ge</text>
<text x="438.46" y="618.37" font-size="6.6" text-anchor="middle" fill="#4D4D4D" font-weight="normal" >tRF1</text>
<text x="464.8" y="622.39" font-size="6.6" text-anchor="middle" fill="#4D4D4D" font-weight="normal" >ge</text>
<text x="464.8" y="629.29" font-size="6.6" text-anchor="middle" fill="#4D4D4D" font-weight="normal" >tRF3</text>
<text x="484.96" y="642.55" font-size="6.6" text-anchor="middle" fill="#4D4D4D" font-weight="normal" >ge</text>
<text x="484.96" y="649.45" font-size="6.6" text-anchor="middle" fill="#4D4D4D" font-weight="normal" >tRF3_CCA</text>
<text x="495.88" y="668.89" font-size="6.6" text-anchor="middle" fill="#4D4D4D" font-weight="normal" >ge</text>
<text x="495.88" y="675.79" font-size="6.6" text-anchor="middle" fill="#4D4D4D" font-weight="normal" >tRF5</text>
<text x="495.88" y="697.41" font-size="6.6" text-anchor="middle" fill="#4D4D4D" font-weight="normal" >ge</text>
<text x="495.88" y="704.31" font-size="6.6" text-anchor="middle" fill="#4D4D4D" font-weight="normal" >tRFmisc</text>
<text x="484.96" y="723.75" font-size="6.6" text-anchor="middle" fill="#4D4D4D" font-weight="normal" >ge</text>
<text x="484.96" y="730.65" font-size="6.6" text-anchor="middle" fill="#4D4D4D" font-weight="normal" >tRhalve3</text>
<text x="464.8" y="743.91" font-size="6.6" text-anchor="middle" fill="#4D4D4D" font-weight="normal" >ge</text>
<text x="464.8" y="750.81" font-size="6.6" text-anchor="middle" fill="#4D4D4D" font-weight="normal" >tRhalve5</text>
<text x="438.46" y="754.83" font-size="6.6" text-anchor="middle" fill="#4D4D4D" font-weight="normal" >ge</text>
<text x="438.46" y="761.73" font-size="6.6" text-anchor="middle" fill="#4D4D4D" font-weight="normal" >tRNAleader</text>
<text x="409.94" y="754.83" font-size="6.6" text-anchor="middle" fill="#4D4D4D" font-weight="normal" >mt</text>
<text x="409.94" y="761.73" font-size="6.6" text-anchor="middle" fill="#4D4D4D" font-weight="normal" >tRF1</text>
<text x="383.6" y="743.91" font-size="6.6" text-anchor="middle" fill="#4D4D4D" font-weight="normal" >mt</text>
<text x="383.6" y="750.81" font-size="6.6" text-anchor="middle" fill="#4D4D4D" font-weight="normal" >tRF3</text>
<text x="363.44" y="723.75" font-size="6.6" text-anchor="middle" fill="#4D4D4D" font-weight="normal" >mt</text>
<text x="363.44" y="730.65" font-size="6.6" text-anchor="middle" fill="#4D4D4D" font-weight="normal" >tRF3_CCA</text>
<text x="352.52" y="697.41" font-size="6.6" text-anchor="middle" fill="#4D4D4D" font-weight="normal" >mt</text>
<text x="352.52" y="704.31" font-size="6.6" text-anchor="middle" fill="#4D4D4D" font-weight="normal" >tRF5</text>
<text x="352.52" y="668.89" font-size="6.6" text-anchor="middle" fill="#4D4D4D" font-weight="normal" >mt</text>
<text x="352.52" y="675.79" font-size="6.6" text-anchor="middle" fill="#4D4D4D" font-weight="normal" >tRFmisc</text>
<text x="363.44" y="642.55" font-size="6.6" text-anchor="middle" fill="#4D4D4D" font-weight="normal" >mt</text>
<text x="363.44" y="649.45" font-size="6.6" text-anchor="middle" fill="#4D4D4D" font-weight="normal" >tRhalve3</text>
<text x="383.6" y="622.39" font-size="6.6" text-anchor="middle" fill="#4D4D4D" font-weight="normal" >mt</text>
<text x="383.6" y="629.29" font-size="6.6" text-anchor="middle" fill="#4D4D4D" font-weight="normal" >tRhalve5</text>
<text x="409.94" y="611.47" font-size="6.6" text-anchor="middle" fill="#4D4D4D" font-weight="normal" >mt</text>
<text x="409.94" y="618.37" font-size="6.6" text-anchor="middle" fill="#4D4D4D" font-weight="normal" >tRNAleader</text>
</g>
<rect x="343" y="588.8" width="162.4" height="13.1" fill="#D9D9D9" stroke="#7a7a7a" stroke-width="0.9"/>
<text x="424.2" y="597.85" font-size="6.8" text-anchor="middle" fill="#1A1A1A" font-weight="normal" >C</text>
<rect x="343" y="601.9" width="162.4" height="162.3" fill="none" stroke="#7a7a7a" stroke-width="0.9"/>
<g clip-path="url(#clipB3)">
<circle cx="591" cy="683.05" r="12.8" fill="none" stroke="#EBEBEB" stroke-width="0.9"/>
<circle cx="591" cy="683.05" r="25.6" fill="none" stroke="#EBEBEB" stroke-width="0.9"/>
<circle cx="591" cy="683.05" r="38.4" fill="none" stroke="#EBEBEB" stroke-width="0.9"/>
<circle cx="591" cy="683.05" r="51.2" fill="none" stroke="#EBEBEB" stroke-width="0.9"/>
<circle cx="591" cy="683.05" r="64" fill="none" stroke="#EBEBEB" stroke-width="0.9"/>
<circle cx="591" cy="683.05" r="73.08" fill="none" stroke="#EBEBEB" stroke-width="0.9"/>
<line x1="591" y1="683.05" x2="605.26" y2="611.37" stroke="#EBEBEB" stroke-width="0.9"/>
<line x1="591" y1="683.05" x2="631.6" y2="622.29" stroke="#EBEBEB" stroke-width="0.9"/>
<line x1="591" y1="683.05" x2="651.76" y2="642.45" stroke="#EBEBEB" stroke-width="0.9"/>
<line x1="591" y1="683.05" x2="662.68" y2="668.79" stroke="#EBEBEB" stroke-width="0.9"/>
<line x1="591" y1="683.05" x2="662.68" y2="697.31" stroke="#EBEBEB" stroke-width="0.9"/>
<line x1="591" y1="683.05" x2="651.76" y2="723.65" stroke="#EBEBEB" stroke-width="0.9"/>
<line x1="591" y1="683.05" x2="631.6" y2="743.81" stroke="#EBEBEB" stroke-width="0.9"/>
<line x1="591" y1="683.05" x2="605.26" y2="754.73" stroke="#EBEBEB" stroke-width="0.9"/>
<line x1="591" y1="683.05" x2="576.74" y2="754.73" stroke="#EBEBEB" stroke-width="0.9"/>
<line x1="591" y1="683.05" x2="550.4" y2="743.81" stroke="#EBEBEB" stroke-width="0.9"/>
<line x1="591" y1="683.05" x2="530.24" y2="723.65" stroke="#EBEBEB" stroke-width="0.9"/>
<line x1="591" y1="683.05" x2="519.32" y2="697.31" stroke="#EBEBEB" stroke-width="0.9"/>
<line x1="591" y1="683.05" x2="519.32" y2="668.79" stroke="#EBEBEB" stroke-width="0.9"/>
<line x1="591" y1="683.05" x2="530.24" y2="642.45" stroke="#EBEBEB" stroke-width="0.9"/>
<line x1="591" y1="683.05" x2="550.4" y2="622.29" stroke="#EBEBEB" stroke-width="0.9"/>
<line x1="591" y1="683.05" x2="576.74" y2="611.37" stroke="#EBEBEB" stroke-width="0.9"/>
<path d="M591,683.05 L595.9,671.22 A12.8,12.8 0 0 1 600.05,674 L591,683.05Z" fill="#F8766D" stroke="#fff" stroke-width="0.75"/>
<path d="M595.9,671.22 L600.8,659.4 A25.6,25.6 0 0 1 609.1,664.95 L600.05,674 A12.8,12.8 0 0 0 595.9,671.22Z" fill="#F8766D" stroke="#fff" stroke-width="0.75"/>
<path d="M600.8,659.4 L605.7,647.57 A38.4,38.4 0 0 1 618.15,655.9 L609.1,664.95 A25.6,25.6 0 0 0 600.8,659.4Z" fill="#F8766D" stroke="#fff" stroke-width="0.75"/>
<path d="M605.7,647.57 L610.59,635.75 A51.2,51.2 0 0 1 627.2,646.85 L618.15,655.9 A38.4,38.4 0 0 0 605.7,647.57Z" fill="#F8766D" stroke="#fff" stroke-width="0.75"/>
<path d="M610.59,635.75 L615.49,623.92 A64,64 0 0 1 636.25,637.8 L627.2,646.85 A51.2,51.2 0 0 0 610.59,635.75Z" fill="#F8766D" stroke="#fff" stroke-width="0.75"/>
<path d="M591,683.05 L603.24,677.98 A13.25,13.25 0 0 1 604.25,683.05 L591,683.05Z" fill="#F8766D" stroke="#fff" stroke-width="0.75"/>
<path d="M603.24,677.98 L615.48,672.91 A26.5,26.5 0 0 1 617.5,683.05 L604.25,683.05 A13.25,13.25 0 0 0 603.24,677.98Z" fill="#F8766D" stroke="#fff" stroke-width="0.75"/>
<path d="M615.48,672.91 L627.72,667.84 A39.75,39.75 0 0 1 630.75,683.05 L617.5,683.05 A26.5,26.5 0 0 0 615.48,672.91Z" fill="#F8766D" stroke="#fff" stroke-width="0.75"/>
<path d="M627.72,667.84 L639.97,662.77 A53,53 0 0 1 644,683.05 L630.75,683.05 A39.75,39.75 0 0 0 627.72,667.84Z" fill="#F8766D" stroke="#fff" stroke-width="0.75"/>
<path d="M591,683.05 L604.5,683.05 A13.5,13.5 0 0 1 603.47,688.22 L591,683.05Z" fill="#F8766D" stroke="#fff" stroke-width="0.75"/>
<path d="M591,683.05 L602.86,687.96 A12.83,12.83 0 0 1 600.07,692.12 L591,683.05Z" fill="#F8766D" stroke="#fff" stroke-width="0.75"/>
<path d="M602.86,687.96 L614.71,692.87 A25.67,25.67 0 0 1 609.15,701.2 L600.07,692.12 A12.83,12.83 0 0 0 602.86,687.96Z" fill="#F8766D" stroke="#fff" stroke-width="0.75"/>
<path d="M614.71,692.87 L626.57,697.78 A38.5,38.5 0 0 1 618.22,710.27 L609.15,701.2 A25.67,25.67 0 0 0 614.71,692.87Z" fill="#F8766D" stroke="#fff" stroke-width="0.75"/>
<path d="M591,683.05 L599.49,691.54 A12,12 0 0 1 595.59,694.14 L591,683.05Z" fill="#F8766D" stroke="#fff" stroke-width="0.75"/>
<path d="M591,683.05 L591,695.85 A12.8,12.8 0 0 1 586.1,694.88 L591,683.05Z" fill="#00BFC4" stroke="#fff" stroke-width="0.75"/>
<path d="M591,683.05 L586.1,694.88 A12.8,12.8 0 0 1 581.95,692.1 L591,683.05Z" fill="#00BFC4" stroke="#fff" stroke-width="0.75"/>
<path d="M586.1,694.88 L581.2,706.7 A25.6,25.6 0 0 1 572.9,701.15 L581.95,692.1 A12.8,12.8 0 0 0 586.1,694.88Z" fill="#00BFC4" stroke="#fff" stroke-width="0.75"/>
<path d="M581.2,706.7 L576.3,718.53 A38.4,38.4 0 0 1 563.85,710.2 L572.9,701.15 A25.6,25.6 0 0 0 581.2,706.7Z" fill="#00BFC4" stroke="#fff" stroke-width="0.75"/>
<path d="M576.3,718.53 L571.41,730.35 A51.2,51.2 0 0 1 554.8,719.25 L563.85,710.2 A38.4,38.4 0 0 0 576.3,718.53Z" fill="#00BFC4" stroke="#fff" stroke-width="0.75"/>
<path d="M571.41,730.35 L566.51,742.18 A64,64 0 0 1 545.75,728.3 L554.8,719.25 A51.2,51.2 0 0 0 571.41,730.35Z" fill="#00BFC4" stroke="#fff" stroke-width="0.75"/>
<path d="M591,683.05 L582.16,691.89 A12.5,12.5 0 0 1 579.45,687.83 L591,683.05Z" fill="#00BFC4" stroke="#fff" stroke-width="0.75"/>
<path d="M582.16,691.89 L573.32,700.73 A25,25 0 0 1 567.9,692.62 L579.45,687.83 A12.5,12.5 0 0 0 582.16,691.89Z" fill="#00BFC4" stroke="#fff" stroke-width="0.75"/>
<path d="M591,683.05 L579.17,687.95 A12.8,12.8 0 0 1 578.2,683.05 L591,683.05Z" fill="#00BFC4" stroke="#fff" stroke-width="0.75"/>
<path d="M591,683.05 L578.2,683.05 A12.8,12.8 0 0 1 579.17,678.15 L591,683.05Z" fill="#00BFC4" stroke="#fff" stroke-width="0.75"/>
<path d="M578.2,683.05 L565.4,683.05 A25.6,25.6 0 0 1 567.35,673.25 L579.17,678.15 A12.8,12.8 0 0 0 578.2,683.05Z" fill="#00BFC4" stroke="#fff" stroke-width="0.75"/>
<path d="M591,683.05 L579.91,678.46 A12,12 0 0 1 582.51,674.56 L591,683.05Z" fill="#00BFC4" stroke="#fff" stroke-width="0.75"/>
<path d="M591,683.05 L581.1,673.15 A14,14 0 0 1 585.64,670.12 L591,683.05Z" fill="#00BFC4" stroke="#fff" stroke-width="0.75"/>
<path d="M581.1,673.15 L571.2,663.25 A28,28 0 0 1 580.28,657.18 L585.64,670.12 A14,14 0 0 0 581.1,673.15Z" fill="#00BFC4" stroke="#fff" stroke-width="0.75"/>
<circle cx="591" cy="683.05" r="1.6" fill="#fff"/>
<text x="605.26" y="611.47" font-size="6.6" text-anchor="middle" fill="#4D4D4D" font-weight="normal" >ge</text>
<text x="605.26" y="618.37" font-size="6.6" text-anchor="middle" fill="#4D4D4D" font-weight="normal" >tRF1</text>
<text x="631.6" y="622.39" font-size="6.6" text-anchor="middle" fill="#4D4D4D" font-weight="normal" >ge</text>
<text x="631.6" y="629.29" font-size="6.6" text-anchor="middle" fill="#4D4D4D" font-weight="normal" >tRF3</text>
<text x="651.76" y="642.55" font-size="6.6" text-anchor="middle" fill="#4D4D4D" font-weight="normal" >ge</text>
<text x="651.76" y="649.45" font-size="6.6" text-anchor="middle" fill="#4D4D4D" font-weight="normal" >tRF3_CCA</text>
<text x="662.68" y="668.89" font-size="6.6" text-anchor="middle" fill="#4D4D4D" font-weight="normal" >ge</text>
<text x="662.68" y="675.79" font-size="6.6" text-anchor="middle" fill="#4D4D4D" font-weight="normal" >tRF5</text>
<text x="662.68" y="697.41" font-size="6.6" text-anchor="middle" fill="#4D4D4D" font-weight="normal" >ge</text>
<text x="662.68" y="704.31" font-size="6.6" text-anchor="middle" fill="#4D4D4D" font-weight="normal" >tRFmisc</text>
<text x="651.76" y="723.75" font-size="6.6" text-anchor="middle" fill="#4D4D4D" font-weight="normal" >ge</text>
<text x="651.76" y="730.65" font-size="6.6" text-anchor="middle" fill="#4D4D4D" font-weight="normal" >tRhalve3</text>
<text x="631.6" y="743.91" font-size="6.6" text-anchor="middle" fill="#4D4D4D" font-weight="normal" >ge</text>
<text x="631.6" y="750.81" font-size="6.6" text-anchor="middle" fill="#4D4D4D" font-weight="normal" >tRhalve5</text>
<text x="605.26" y="754.83" font-size="6.6" text-anchor="middle" fill="#4D4D4D" font-weight="normal" >ge</text>
<text x="605.26" y="761.73" font-size="6.6" text-anchor="middle" fill="#4D4D4D" font-weight="normal" >tRNAleader</text>
<text x="576.74" y="754.83" font-size="6.6" text-anchor="middle" fill="#4D4D4D" font-weight="normal" >mt</text>
<text x="576.74" y="761.73" font-size="6.6" text-anchor="middle" fill="#4D4D4D" font-weight="normal" >tRF1</text>
<text x="550.4" y="743.91" font-size="6.6" text-anchor="middle" fill="#4D4D4D" font-weight="normal" >mt</text>
<text x="550.4" y="750.81" font-size="6.6" text-anchor="middle" fill="#4D4D4D" font-weight="normal" >tRF3</text>
<text x="530.24" y="723.75" font-size="6.6" text-anchor="middle" fill="#4D4D4D" font-weight="normal" >mt</text>
<text x="530.24" y="730.65" font-size="6.6" text-anchor="middle" fill="#4D4D4D" font-weight="normal" >tRF3_CCA</text>
<text x="519.32" y="697.41" font-size="6.6" text-anchor="middle" fill="#4D4D4D" font-weight="normal" >mt</text>
<text x="519.32" y="704.31" font-size="6.6" text-anchor="middle" fill="#4D4D4D" font-weight="normal" >tRF5</text>
<text x="519.32" y="668.89" font-size="6.6" text-anchor="middle" fill="#4D4D4D" font-weight="normal" >mt</text>
<text x="519.32" y="675.79" font-size="6.6" text-anchor="middle" fill="#4D4D4D" font-weight="normal" >tRFmisc</text>
<text x="530.24" y="642.55" font-size="6.6" text-anchor="middle" fill="#4D4D4D" font-weight="normal" >mt</text>
<text x="530.24" y="649.45" font-size="6.6" text-anchor="middle" fill="#4D4D4D" font-weight="normal" >tRhalve3</text>
<text x="550.4" y="622.39" font-size="6.6" text-anchor="middle" fill="#4D4D4D" font-weight="normal" >mt</text>
<text x="550.4" y="629.29" font-size="6.6" text-anchor="middle" fill="#4D4D4D" font-weight="normal" >tRhalve5</text>
<text x="576.74" y="611.47" font-size="6.6" text-anchor="middle" fill="#4D4D4D" font-weight="normal" >mt</text>
<text x="576.74" y="618.37" font-size="6.6" text-anchor="middle" fill="#4D4D4D" font-weight="normal" >tRNAleader</text>
</g>
<rect x="509.8" y="588.8" width="162.4" height="13.1" fill="#D9D9D9" stroke="#7a7a7a" stroke-width="0.9"/>
<text x="591" y="597.85" font-size="6.8" text-anchor="middle" fill="#1A1A1A" font-weight="normal" >D</text>
<rect x="509.8" y="601.9" width="162.4" height="162.3" fill="none" stroke="#7a7a7a" stroke-width="0.9"/>
<g clip-path="url(#clipB4)">
<circle cx="89.8" cy="868.75" r="16" fill="none" stroke="#EBEBEB" stroke-width="0.9"/>
<circle cx="89.8" cy="868.75" r="32" fill="none" stroke="#EBEBEB" stroke-width="0.9"/>
<circle cx="89.8" cy="868.75" r="48" fill="none" stroke="#EBEBEB" stroke-width="0.9"/>
<circle cx="89.8" cy="868.75" r="64" fill="none" stroke="#EBEBEB" stroke-width="0.9"/>
<circle cx="89.8" cy="868.75" r="73.17" fill="none" stroke="#EBEBEB" stroke-width="0.9"/>
<line x1="89.8" y1="868.75" x2="104.07" y2="796.99" stroke="#EBEBEB" stroke-width="0.9"/>
<line x1="89.8" y1="868.75" x2="130.45" y2="807.91" stroke="#EBEBEB" stroke-width="0.9"/>
<line x1="89.8" y1="868.75" x2="150.64" y2="828.1" stroke="#EBEBEB" stroke-width="0.9"/>
<line x1="89.8" y1="868.75" x2="161.56" y2="854.48" stroke="#EBEBEB" stroke-width="0.9"/>
<line x1="89.8" y1="868.75" x2="161.56" y2="883.02" stroke="#EBEBEB" stroke-width="0.9"/>
<line x1="89.8" y1="868.75" x2="150.64" y2="909.4" stroke="#EBEBEB" stroke-width="0.9"/>
<line x1="89.8" y1="868.75" x2="130.45" y2="929.59" stroke="#EBEBEB" stroke-width="0.9"/>
<line x1="89.8" y1="868.75" x2="104.07" y2="940.51" stroke="#EBEBEB" stroke-width="0.9"/>
<line x1="89.8" y1="868.75" x2="75.53" y2="940.51" stroke="#EBEBEB" stroke-width="0.9"/>
<line x1="89.8" y1="868.75" x2="49.15" y2="929.59" stroke="#EBEBEB" stroke-width="0.9"/>
<line x1="89.8" y1="868.75" x2="28.96" y2="909.4" stroke="#EBEBEB" stroke-width="0.9"/>
<line x1="89.8" y1="868.75" x2="18.04" y2="883.02" stroke="#EBEBEB" stroke-width="0.9"/>
<line x1="89.8" y1="868.75" x2="18.04" y2="854.48" stroke="#EBEBEB" stroke-width="0.9"/>
<line x1="89.8" y1="868.75" x2="28.96" y2="828.1" stroke="#EBEBEB" stroke-width="0.9"/>
<line x1="89.8" y1="868.75" x2="49.15" y2="807.91" stroke="#EBEBEB" stroke-width="0.9"/>
<line x1="89.8" y1="868.75" x2="75.53" y2="796.99" stroke="#EBEBEB" stroke-width="0.9"/>
<path d="M89.8,868.75 L95.81,866.26 A6.5,6.5 0 0 1 96.3,868.75 L89.8,868.75Z" fill="#F8766D" stroke="#fff" stroke-width="0.75"/>
<path d="M95.81,866.26 L101.81,863.78 A13,13 0 0 1 102.8,868.75 L96.3,868.75 A6.5,6.5 0 0 0 95.81,866.26Z" fill="#F8766D" stroke="#fff" stroke-width="0.75"/>
<path d="M101.81,863.78 L107.82,861.29 A19.5,19.5 0 0 1 109.3,868.75 L102.8,868.75 A13,13 0 0 0 101.81,863.78Z" fill="#F8766D" stroke="#fff" stroke-width="0.75"/>
<path d="M107.82,861.29 L113.82,858.8 A26,26 0 0 1 115.8,868.75 L109.3,868.75 A19.5,19.5 0 0 0 107.82,861.29Z" fill="#F8766D" stroke="#fff" stroke-width="0.75"/>
<path d="M89.8,868.75 L93.16,865.39 A4.75,4.75 0 0 1 94.19,866.93 L89.8,868.75Z" fill="#F8766D" stroke="#fff" stroke-width="0.75"/>
<path d="M93.16,865.39 L96.52,862.03 A9.5,9.5 0 0 1 98.58,865.11 L94.19,866.93 A4.75,4.75 0 0 0 93.16,865.39Z" fill="#F8766D" stroke="#fff" stroke-width="0.75"/>
<path d="M89.8,868.75 L96.25,868.75 A6.45,6.45 0 0 1 95.76,871.22 L89.8,868.75Z" fill="#F8766D" stroke="#fff" stroke-width="0.75"/>
<path d="M96.25,868.75 L102.7,868.75 A12.9,12.9 0 0 1 101.72,873.69 L95.76,871.22 A6.45,6.45 0 0 0 96.25,868.75Z" fill="#F8766D" stroke="#fff" stroke-width="0.75"/>
<path d="M102.7,868.75 L109.15,868.75 A19.35,19.35 0 0 1 107.68,876.15 L101.72,873.69 A12.9,12.9 0 0 0 102.7,868.75Z" fill="#F8766D" stroke="#fff" stroke-width="0.75"/>
<path d="M109.15,868.75 L115.6,868.75 A25.8,25.8 0 0 1 113.64,878.62 L107.68,876.15 A19.35,19.35 0 0 0 109.15,868.75Z" fill="#F8766D" stroke="#fff" stroke-width="0.75"/>
<path d="M115.6,868.75 L122.05,868.75 A32.25,32.25 0 0 1 119.6,881.09 L113.64,878.62 A25.8,25.8 0 0 0 115.6,868.75Z" fill="#F8766D" stroke="#fff" stroke-width="0.75"/>
<path d="M122.05,868.75 L128.5,868.75 A38.7,38.7 0 0 1 125.55,883.56 L119.6,881.09 A32.25,32.25 0 0 0 122.05,868.75Z" fill="#F8766D" stroke="#fff" stroke-width="0.75"/>
<path d="M128.5,868.75 L134.95,868.75 A45.15,45.15 0 0 1 131.51,886.03 L125.55,883.56 A38.7,38.7 0 0 0 128.5,868.75Z" fill="#F8766D" stroke="#fff" stroke-width="0.75"/>
<path d="M134.95,868.75 L141.4,868.75 A51.6,51.6 0 0 1 137.47,888.5 L131.51,886.03 A45.15,45.15 0 0 0 134.95,868.75Z" fill="#F8766D" stroke="#fff" stroke-width="0.75"/>
<path d="M141.4,868.75 L147.85,868.75 A58.05,58.05 0 0 1 143.43,890.96 L137.47,888.5 A51.6,51.6 0 0 0 141.4,868.75Z" fill="#F8766D" stroke="#fff" stroke-width="0.75"/>
<path d="M147.85,868.75 L154.3,868.75 A64.5,64.5 0 0 1 149.39,893.43 L143.43,890.96 A58.05,58.05 0 0 0 147.85,868.75Z" fill="#F8766D" stroke="#fff" stroke-width="0.75"/>
<path d="M89.8,868.75 L94.39,879.84 A12,12 0 0 1 89.8,880.75 L89.8,868.75Z" fill="#F8766D" stroke="#fff" stroke-width="0.75"/>
<path d="M89.8,868.75 L83.3,868.75 A6.5,6.5 0 0 1 83.79,866.26 L89.8,868.75Z" fill="#00BFC4" stroke="#fff" stroke-width="0.75"/>
<path d="M83.3,868.75 L76.8,868.75 A13,13 0 0 1 77.79,863.78 L83.79,866.26 A6.5,6.5 0 0 0 83.3,868.75Z" fill="#00BFC4" stroke="#fff" stroke-width="0.75"/>
<path d="M76.8,868.75 L70.3,868.75 A19.5,19.5 0 0 1 71.78,861.29 L77.79,863.78 A13,13 0 0 0 76.8,868.75Z" fill="#00BFC4" stroke="#fff" stroke-width="0.75"/>
<path d="M70.3,868.75 L63.8,868.75 A26,26 0 0 1 65.78,858.8 L71.78,861.29 A19.5,19.5 0 0 0 70.3,868.75Z" fill="#00BFC4" stroke="#fff" stroke-width="0.75"/>
<path d="M89.8,868.75 L86.56,876.57 A8.47,8.47 0 0 1 83.81,874.74 L89.8,868.75Z" fill="#00BFC4" stroke="#fff" stroke-width="0.75"/>
<path d="M86.56,876.57 L83.32,884.39 A16.93,16.93 0 0 1 77.83,880.72 L83.81,874.74 A8.47,8.47 0 0 0 86.56,876.57Z" fill="#00BFC4" stroke="#fff" stroke-width="0.75"/>
<path d="M83.32,884.39 L80.08,892.22 A25.4,25.4 0 0 1 71.84,886.71 L77.83,880.72 A16.93,16.93 0 0 0 83.32,884.39Z" fill="#00BFC4" stroke="#fff" stroke-width="0.75"/>
<path d="M89.8,868.75 L86.97,871.58 A4,4 0 0 1 86.1,870.28 L89.8,868.75Z" fill="#00BFC4" stroke="#fff" stroke-width="0.75"/>
<circle cx="89.8" cy="868.75" r="1.6" fill="#fff"/>
<text x="104.07" y="797.09" font-size="6.6" text-anchor="middle" fill="#4D4D4D" font-weight="normal" >ge</text>
<text x="104.07" y="803.99" font-size="6.6" text-anchor="middle" fill="#4D4D4D" font-weight="normal" >tRF1</text>
<text x="130.45" y="808.01" font-size="6.6" text-anchor="middle" fill="#4D4D4D" font-weight="normal" >ge</text>
<text x="130.45" y="814.91" font-size="6.6" text-anchor="middle" fill="#4D4D4D" font-weight="normal" >tRF3</text>
<text x="150.64" y="828.2" font-size="6.6" text-anchor="middle" fill="#4D4D4D" font-weight="normal" >ge</text>
<text x="150.64" y="835.1" font-size="6.6" text-anchor="middle" fill="#4D4D4D" font-weight="normal" >tRF3_CCA</text>
<text x="161.56" y="854.58" font-size="6.6" text-anchor="middle" fill="#4D4D4D" font-weight="normal" >ge</text>
<text x="161.56" y="861.48" font-size="6.6" text-anchor="middle" fill="#4D4D4D" font-weight="normal" >tRF5</text>
<text x="161.56" y="883.12" font-size="6.6" text-anchor="middle" fill="#4D4D4D" font-weight="normal" >ge</text>
<text x="161.56" y="890.02" font-size="6.6" text-anchor="middle" fill="#4D4D4D" font-weight="normal" >tRFmisc</text>
<text x="150.64" y="909.5" font-size="6.6" text-anchor="middle" fill="#4D4D4D" font-weight="normal" >ge</text>
<text x="150.64" y="916.4" font-size="6.6" text-anchor="middle" fill="#4D4D4D" font-weight="normal" >tRhalve3</text>
<text x="130.45" y="929.69" font-size="6.6" text-anchor="middle" fill="#4D4D4D" font-weight="normal" >ge</text>
<text x="130.45" y="936.59" font-size="6.6" text-anchor="middle" fill="#4D4D4D" font-weight="normal" >tRhalve5</text>
<text x="104.07" y="940.61" font-size="6.6" text-anchor="middle" fill="#4D4D4D" font-weight="normal" >ge</text>
<text x="104.07" y="947.51" font-size="6.6" text-anchor="middle" fill="#4D4D4D" font-weight="normal" >tRNAleader</text>
<text x="75.53" y="940.61" font-size="6.6" text-anchor="middle" fill="#4D4D4D" font-weight="normal" >mt</text>
<text x="75.53" y="947.51" font-size="6.6" text-anchor="middle" fill="#4D4D4D" font-weight="normal" >tRF1</text>
<text x="49.15" y="929.69" font-size="6.6" text-anchor="middle" fill="#4D4D4D" font-weight="normal" >mt</text>
<text x="49.15" y="936.59" font-size="6.6" text-anchor="middle" fill="#4D4D4D" font-weight="normal" >tRF3</text>
<text x="28.96" y="909.5" font-size="6.6" text-anchor="middle" fill="#4D4D4D" font-weight="normal" >mt</text>
<text x="28.96" y="916.4" font-size="6.6" text-anchor="middle" fill="#4D4D4D" font-weight="normal" >tRF3_CCA</text>
<text x="18.04" y="883.12" font-size="6.6" text-anchor="middle" fill="#4D4D4D" font-weight="normal" >mt</text>
<text x="18.04" y="890.02" font-size="6.6" text-anchor="middle" fill="#4D4D4D" font-weight="normal" >tRF5</text>
<text x="18.04" y="854.58" font-size="6.6" text-anchor="middle" fill="#4D4D4D" font-weight="normal" >mt</text>
<text x="18.04" y="861.48" font-size="6.6" text-anchor="middle" fill="#4D4D4D" font-weight="normal" >tRFmisc</text>
<text x="28.96" y="828.2" font-size="6.6" text-anchor="middle" fill="#4D4D4D" font-weight="normal" >mt</text>
<text x="28.96" y="835.1" font-size="6.6" text-anchor="middle" fill="#4D4D4D" font-weight="normal" >tRhalve3</text>
<text x="49.15" y="808.01" font-size="6.6" text-anchor="middle" fill="#4D4D4D" font-weight="normal" >mt</text>
<text x="49.15" y="814.91" font-size="6.6" text-anchor="middle" fill="#4D4D4D" font-weight="normal" >tRhalve5</text>
<text x="75.53" y="797.09" font-size="6.6" text-anchor="middle" fill="#4D4D4D" font-weight="normal" >mt</text>
<text x="75.53" y="803.99" font-size="6.6" text-anchor="middle" fill="#4D4D4D" font-weight="normal" >tRNAleader</text>
</g>
<rect x="8.5" y="774.7" width="162.6" height="12.6" fill="#D9D9D9" stroke="#7a7a7a" stroke-width="0.9"/>
<text x="89.8" y="783.5" font-size="6.8" text-anchor="middle" fill="#1A1A1A" font-weight="normal" >E+I</text>
<rect x="8.5" y="787.3" width="162.6" height="162.9" fill="none" stroke="#7a7a7a" stroke-width="0.9"/>
<line x1="6.2" x2="8.5" y1="869.15" y2="869.15" stroke="#7a7a7a" stroke-width="0.9"/>
<text x="5.1" y="871.55" font-size="6.8" text-anchor="end" fill="#4D4D4D" font-weight="normal" >0</text>
<line x1="6.2" x2="8.5" y1="856.15" y2="856.15" stroke="#7a7a7a" stroke-width="0.9"/>
<text x="5.1" y="858.55" font-size="6.8" text-anchor="end" fill="#4D4D4D" font-weight="normal" >1</text>
<line x1="6.2" x2="8.5" y1="843.15" y2="843.15" stroke="#7a7a7a" stroke-width="0.9"/>
<text x="5.1" y="845.55" font-size="6.8" text-anchor="end" fill="#4D4D4D" font-weight="normal" >2</text>
<line x1="6.2" x2="8.5" y1="830.15" y2="830.15" stroke="#7a7a7a" stroke-width="0.9"/>
<text x="5.1" y="832.55" font-size="6.8" text-anchor="end" fill="#4D4D4D" font-weight="normal" >3</text>
<line x1="6.2" x2="8.5" y1="817.15" y2="817.15" stroke="#7a7a7a" stroke-width="0.9"/>
<text x="5.1" y="819.55" font-size="6.8" text-anchor="end" fill="#4D4D4D" font-weight="normal" >4</text>
<line x1="6.2" x2="8.5" y1="804.15" y2="804.15" stroke="#7a7a7a" stroke-width="0.9"/>
<text x="5.1" y="806.55" font-size="6.8" text-anchor="end" fill="#4D4D4D" font-weight="normal" >5</text>
<g clip-path="url(#clipB5)">
<circle cx="256.8" cy="868.75" r="16" fill="none" stroke="#EBEBEB" stroke-width="0.9"/>
<circle cx="256.8" cy="868.75" r="32" fill="none" stroke="#EBEBEB" stroke-width="0.9"/>
<circle cx="256.8" cy="868.75" r="48" fill="none" stroke="#EBEBEB" stroke-width="0.9"/>
<circle cx="256.8" cy="868.75" r="64" fill="none" stroke="#EBEBEB" stroke-width="0.9"/>
<circle cx="256.8" cy="868.75" r="73.17" fill="none" stroke="#EBEBEB" stroke-width="0.9"/>
<line x1="256.8" y1="868.75" x2="271.07" y2="796.99" stroke="#EBEBEB" stroke-width="0.9"/>
<line x1="256.8" y1="868.75" x2="297.45" y2="807.91" stroke="#EBEBEB" stroke-width="0.9"/>
<line x1="256.8" y1="868.75" x2="317.64" y2="828.1" stroke="#EBEBEB" stroke-width="0.9"/>
<line x1="256.8" y1="868.75" x2="328.56" y2="854.48" stroke="#EBEBEB" stroke-width="0.9"/>
<line x1="256.8" y1="868.75" x2="328.56" y2="883.02" stroke="#EBEBEB" stroke-width="0.9"/>
<line x1="256.8" y1="868.75" x2="317.64" y2="909.4" stroke="#EBEBEB" stroke-width="0.9"/>
<line x1="256.8" y1="868.75" x2="297.45" y2="929.59" stroke="#EBEBEB" stroke-width="0.9"/>
<line x1="256.8" y1="868.75" x2="271.07" y2="940.51" stroke="#EBEBEB" stroke-width="0.9"/>
<line x1="256.8" y1="868.75" x2="242.53" y2="940.51" stroke="#EBEBEB" stroke-width="0.9"/>
<line x1="256.8" y1="868.75" x2="216.15" y2="929.59" stroke="#EBEBEB" stroke-width="0.9"/>
<line x1="256.8" y1="868.75" x2="195.96" y2="909.4" stroke="#EBEBEB" stroke-width="0.9"/>
<line x1="256.8" y1="868.75" x2="185.04" y2="883.02" stroke="#EBEBEB" stroke-width="0.9"/>
<line x1="256.8" y1="868.75" x2="185.04" y2="854.48" stroke="#EBEBEB" stroke-width="0.9"/>
<line x1="256.8" y1="868.75" x2="195.96" y2="828.1" stroke="#EBEBEB" stroke-width="0.9"/>
<line x1="256.8" y1="868.75" x2="216.15" y2="807.91" stroke="#EBEBEB" stroke-width="0.9"/>
<line x1="256.8" y1="868.75" x2="242.53" y2="796.99" stroke="#EBEBEB" stroke-width="0.9"/>
<path d="M256.8,868.75 L271.58,862.63 A16,16 0 0 1 272.8,868.75 L256.8,868.75Z" fill="#F8766D" stroke="#fff" stroke-width="0.75"/>
<path d="M271.58,862.63 L286.36,856.5 A32,32 0 0 1 288.8,868.75 L272.8,868.75 A16,16 0 0 0 271.58,862.63Z" fill="#F8766D" stroke="#fff" stroke-width="0.75"/>
<path d="M286.36,856.5 L301.15,850.38 A48,48 0 0 1 304.8,868.75 L288.8,868.75 A32,32 0 0 0 286.36,856.5Z" fill="#F8766D" stroke="#fff" stroke-width="0.75"/>
<path d="M301.15,850.38 L315.93,844.26 A64,64 0 0 1 320.8,868.75 L304.8,868.75 A48,48 0 0 0 301.15,850.38Z" fill="#F8766D" stroke="#fff" stroke-width="0.75"/>
<path d="M256.8,868.75 L265.05,868.75 A8.25,8.25 0 0 1 264.42,871.91 L256.8,868.75Z" fill="#F8766D" stroke="#fff" stroke-width="0.75"/>
<path d="M265.05,868.75 L273.3,868.75 A16.5,16.5 0 0 1 272.04,875.06 L264.42,871.91 A8.25,8.25 0 0 0 265.05,868.75Z" fill="#F8766D" stroke="#fff" stroke-width="0.75"/>
<path d="M256.8,868.75 L264.19,871.81 A8,8 0 0 1 262.46,874.41 L256.8,868.75Z" fill="#F8766D" stroke="#fff" stroke-width="0.75"/>
<path d="M264.19,871.81 L271.58,874.87 A16,16 0 0 1 268.11,880.06 L262.46,874.41 A8,8 0 0 0 264.19,871.81Z" fill="#F8766D" stroke="#fff" stroke-width="0.75"/>
<path d="M256.8,868.75 L242.02,874.87 A16,16 0 0 1 240.8,868.75 L256.8,868.75Z" fill="#00BFC4" stroke="#fff" stroke-width="0.75"/>
<circle cx="256.8" cy="868.75" r="1.6" fill="#fff"/>
<text x="271.07" y="797.09" font-size="6.6" text-anchor="middle" fill="#4D4D4D" font-weight="normal" >ge</text>
<text x="271.07" y="803.99" font-size="6.6" text-anchor="middle" fill="#4D4D4D" font-weight="normal" >tRF1</text>
<text x="297.45" y="808.01" font-size="6.6" text-anchor="middle" fill="#4D4D4D" font-weight="normal" >ge</text>
<text x="297.45" y="814.91" font-size="6.6" text-anchor="middle" fill="#4D4D4D" font-weight="normal" >tRF3</text>
<text x="317.64" y="828.2" font-size="6.6" text-anchor="middle" fill="#4D4D4D" font-weight="normal" >ge</text>
<text x="317.64" y="835.1" font-size="6.6" text-anchor="middle" fill="#4D4D4D" font-weight="normal" >tRF3_CCA</text>
<text x="328.56" y="854.58" font-size="6.6" text-anchor="middle" fill="#4D4D4D" font-weight="normal" >ge</text>
<text x="328.56" y="861.48" font-size="6.6" text-anchor="middle" fill="#4D4D4D" font-weight="normal" >tRF5</text>
<text x="328.56" y="883.12" font-size="6.6" text-anchor="middle" fill="#4D4D4D" font-weight="normal" >ge</text>
<text x="328.56" y="890.02" font-size="6.6" text-anchor="middle" fill="#4D4D4D" font-weight="normal" >tRFmisc</text>
<text x="317.64" y="909.5" font-size="6.6" text-anchor="middle" fill="#4D4D4D" font-weight="normal" >ge</text>
<text x="317.64" y="916.4" font-size="6.6" text-anchor="middle" fill="#4D4D4D" font-weight="normal" >tRhalve3</text>
<text x="297.45" y="929.69" font-size="6.6" text-anchor="middle" fill="#4D4D4D" font-weight="normal" >ge</text>
<text x="297.45" y="936.59" font-size="6.6" text-anchor="middle" fill="#4D4D4D" font-weight="normal" >tRhalve5</text>
<text x="271.07" y="940.61" font-size="6.6" text-anchor="middle" fill="#4D4D4D" font-weight="normal" >ge</text>
<text x="271.07" y="947.51" font-size="6.6" text-anchor="middle" fill="#4D4D4D" font-weight="normal" >tRNAleader</text>
<text x="242.53" y="940.61" font-size="6.6" text-anchor="middle" fill="#4D4D4D" font-weight="normal" >mt</text>
<text x="242.53" y="947.51" font-size="6.6" text-anchor="middle" fill="#4D4D4D" font-weight="normal" >tRF1</text>
<text x="216.15" y="929.69" font-size="6.6" text-anchor="middle" fill="#4D4D4D" font-weight="normal" >mt</text>
<text x="216.15" y="936.59" font-size="6.6" text-anchor="middle" fill="#4D4D4D" font-weight="normal" >tRF3</text>
<text x="195.96" y="909.5" font-size="6.6" text-anchor="middle" fill="#4D4D4D" font-weight="normal" >mt</text>
<text x="195.96" y="916.4" font-size="6.6" text-anchor="middle" fill="#4D4D4D" font-weight="normal" >tRF3_CCA</text>
<text x="185.04" y="883.12" font-size="6.6" text-anchor="middle" fill="#4D4D4D" font-weight="normal" >mt</text>
<text x="185.04" y="890.02" font-size="6.6" text-anchor="middle" fill="#4D4D4D" font-weight="normal" >tRF5</text>
<text x="185.04" y="854.58" font-size="6.6" text-anchor="middle" fill="#4D4D4D" font-weight="normal" >mt</text>
<text x="185.04" y="861.48" font-size="6.6" text-anchor="middle" fill="#4D4D4D" font-weight="normal" >tRFmisc</text>
<text x="195.96" y="828.2" font-size="6.6" text-anchor="middle" fill="#4D4D4D" font-weight="normal" >mt</text>
<text x="195.96" y="835.1" font-size="6.6" text-anchor="middle" fill="#4D4D4D" font-weight="normal" >tRhalve3</text>
<text x="216.15" y="808.01" font-size="6.6" text-anchor="middle" fill="#4D4D4D" font-weight="normal" >mt</text>
<text x="216.15" y="814.91" font-size="6.6" text-anchor="middle" fill="#4D4D4D" font-weight="normal" >tRhalve5</text>
<text x="242.53" y="797.09" font-size="6.6" text-anchor="middle" fill="#4D4D4D" font-weight="normal" >mt</text>
<text x="242.53" y="803.99" font-size="6.6" text-anchor="middle" fill="#4D4D4D" font-weight="normal" >tRNAleader</text>
</g>
<rect x="175.5" y="774.7" width="162.6" height="12.6" fill="#D9D9D9" stroke="#7a7a7a" stroke-width="0.9"/>
<text x="256.8" y="783.5" font-size="6.8" text-anchor="middle" fill="#1A1A1A" font-weight="normal" >F</text>
<rect x="175.5" y="787.3" width="162.6" height="162.9" fill="none" stroke="#7a7a7a" stroke-width="0.9"/>
<g clip-path="url(#clipB6)">
<circle cx="424.2" cy="868.75" r="16" fill="none" stroke="#EBEBEB" stroke-width="0.9"/>
<circle cx="424.2" cy="868.75" r="32" fill="none" stroke="#EBEBEB" stroke-width="0.9"/>
<circle cx="424.2" cy="868.75" r="48" fill="none" stroke="#EBEBEB" stroke-width="0.9"/>
<circle cx="424.2" cy="868.75" r="64" fill="none" stroke="#EBEBEB" stroke-width="0.9"/>
<circle cx="424.2" cy="868.75" r="73.08" fill="none" stroke="#EBEBEB" stroke-width="0.9"/>
<line x1="424.2" y1="868.75" x2="438.46" y2="797.07" stroke="#EBEBEB" stroke-width="0.9"/>
<line x1="424.2" y1="868.75" x2="464.8" y2="807.99" stroke="#EBEBEB" stroke-width="0.9"/>
<line x1="424.2" y1="868.75" x2="484.96" y2="828.15" stroke="#EBEBEB" stroke-width="0.9"/>
<line x1="424.2" y1="868.75" x2="495.88" y2="854.49" stroke="#EBEBEB" stroke-width="0.9"/>
<line x1="424.2" y1="868.75" x2="495.88" y2="883.01" stroke="#EBEBEB" stroke-width="0.9"/>
<line x1="424.2" y1="868.75" x2="484.96" y2="909.35" stroke="#EBEBEB" stroke-width="0.9"/>
<line x1="424.2" y1="868.75" x2="464.8" y2="929.51" stroke="#EBEBEB" stroke-width="0.9"/>
<line x1="424.2" y1="868.75" x2="438.46" y2="940.43" stroke="#EBEBEB" stroke-width="0.9"/>
<line x1="424.2" y1="868.75" x2="409.94" y2="940.43" stroke="#EBEBEB" stroke-width="0.9"/>
<line x1="424.2" y1="868.75" x2="383.6" y2="929.51" stroke="#EBEBEB" stroke-width="0.9"/>
<line x1="424.2" y1="868.75" x2="363.44" y2="909.35" stroke="#EBEBEB" stroke-width="0.9"/>
<line x1="424.2" y1="868.75" x2="352.52" y2="883.01" stroke="#EBEBEB" stroke-width="0.9"/>
<line x1="424.2" y1="868.75" x2="352.52" y2="854.49" stroke="#EBEBEB" stroke-width="0.9"/>
<line x1="424.2" y1="868.75" x2="363.44" y2="828.15" stroke="#EBEBEB" stroke-width="0.9"/>
<line x1="424.2" y1="868.75" x2="383.6" y2="807.99" stroke="#EBEBEB" stroke-width="0.9"/>
<line x1="424.2" y1="868.75" x2="409.94" y2="797.07" stroke="#EBEBEB" stroke-width="0.9"/>
<path d="M424.2,868.75 L430.39,862.56 A8.75,8.75 0 0 1 432.28,865.4 L424.2,868.75Z" fill="#F8766D" stroke="#fff" stroke-width="0.75"/>
<path d="M430.39,862.56 L436.57,856.38 A17.5,17.5 0 0 1 440.37,862.05 L432.28,865.4 A8.75,8.75 0 0 0 430.39,862.56Z" fill="#F8766D" stroke="#fff" stroke-width="0.75"/>
<path d="M424.2,868.75 L430.21,866.26 A6.5,6.5 0 0 1 430.7,868.75 L424.2,868.75Z" fill="#F8766D" stroke="#fff" stroke-width="0.75"/>
<path d="M430.21,866.26 L436.21,863.78 A13,13 0 0 1 437.2,868.75 L430.7,868.75 A6.5,6.5 0 0 0 430.21,866.26Z" fill="#F8766D" stroke="#fff" stroke-width="0.75"/>
<path d="M436.21,863.78 L442.22,861.29 A19.5,19.5 0 0 1 443.7,868.75 L437.2,868.75 A13,13 0 0 0 436.21,863.78Z" fill="#F8766D" stroke="#fff" stroke-width="0.75"/>
<path d="M442.22,861.29 L448.22,858.8 A26,26 0 0 1 450.2,868.75 L443.7,868.75 A19.5,19.5 0 0 0 442.22,861.29Z" fill="#F8766D" stroke="#fff" stroke-width="0.75"/>
<path d="M448.22,858.8 L454.23,856.31 A32.5,32.5 0 0 1 456.7,868.75 L450.2,868.75 A26,26 0 0 0 448.22,858.8Z" fill="#F8766D" stroke="#fff" stroke-width="0.75"/>
<path d="M424.2,868.75 L431.31,868.75 A7.11,7.11 0 0 1 430.77,871.47 L424.2,868.75Z" fill="#F8766D" stroke="#fff" stroke-width="0.75"/>
<path d="M431.31,868.75 L438.42,868.75 A14.22,14.22 0 0 1 437.34,874.19 L430.77,871.47 A7.11,7.11 0 0 0 431.31,868.75Z" fill="#F8766D" stroke="#fff" stroke-width="0.75"/>
<path d="M438.42,868.75 L445.53,868.75 A21.33,21.33 0 0 1 443.91,876.91 L437.34,874.19 A14.22,14.22 0 0 0 438.42,868.75Z" fill="#F8766D" stroke="#fff" stroke-width="0.75"/>
<path d="M445.53,868.75 L452.64,868.75 A28.44,28.44 0 0 1 450.48,879.64 L443.91,876.91 A21.33,21.33 0 0 0 445.53,868.75Z" fill="#F8766D" stroke="#fff" stroke-width="0.75"/>
<path d="M452.64,868.75 L459.76,868.75 A35.56,35.56 0 0 1 457.05,882.36 L450.48,879.64 A28.44,28.44 0 0 0 452.64,868.75Z" fill="#F8766D" stroke="#fff" stroke-width="0.75"/>
<path d="M459.76,868.75 L466.87,868.75 A42.67,42.67 0 0 1 463.62,885.08 L457.05,882.36 A35.56,35.56 0 0 0 459.76,868.75Z" fill="#F8766D" stroke="#fff" stroke-width="0.75"/>
<path d="M466.87,868.75 L473.98,868.75 A49.78,49.78 0 0 1 470.19,887.8 L463.62,885.08 A42.67,42.67 0 0 0 466.87,868.75Z" fill="#F8766D" stroke="#fff" stroke-width="0.75"/>
<path d="M473.98,868.75 L481.09,868.75 A56.89,56.89 0 0 1 476.76,890.52 L470.19,887.8 A49.78,49.78 0 0 0 473.98,868.75Z" fill="#F8766D" stroke="#fff" stroke-width="0.75"/>
<path d="M481.09,868.75 L488.2,868.75 A64,64 0 0 1 483.33,893.24 L476.76,890.52 A56.89,56.89 0 0 0 481.09,868.75Z" fill="#F8766D" stroke="#fff" stroke-width="0.75"/>
<path d="M424.2,868.75 L427.03,871.58 A4,4 0 0 1 425.73,872.45 L424.2,868.75Z" fill="#F8766D" stroke="#fff" stroke-width="0.75"/>
<path d="M424.2,868.75 L426.11,873.37 A5,5 0 0 1 424.2,873.75 L424.2,868.75Z" fill="#F8766D" stroke="#fff" stroke-width="0.75"/>
<path d="M424.2,868.75 L417.53,868.75 A6.67,6.67 0 0 1 418.04,866.2 L424.2,868.75Z" fill="#00BFC4" stroke="#fff" stroke-width="0.75"/>
<path d="M417.53,868.75 L410.87,868.75 A13.33,13.33 0 0 1 411.88,863.65 L418.04,866.2 A6.67,6.67 0 0 0 417.53,868.75Z" fill="#00BFC4" stroke="#fff" stroke-width="0.75"/>
<path d="M410.87,868.75 L404.2,868.75 A20,20 0 0 1 405.72,861.1 L411.88,863.65 A13.33,13.33 0 0 0 410.87,868.75Z" fill="#00BFC4" stroke="#fff" stroke-width="0.75"/>
<path d="M424.2,868.75 L418.66,866.45 A6,6 0 0 1 419.96,864.51 L424.2,868.75Z" fill="#00BFC4" stroke="#fff" stroke-width="0.75"/>
<path d="M418.66,866.45 L413.11,864.16 A12,12 0 0 1 415.71,860.26 L419.96,864.51 A6,6 0 0 0 418.66,866.45Z" fill="#00BFC4" stroke="#fff" stroke-width="0.75"/>
<path d="M424.2,868.75 L422.67,865.05 A4,4 0 0 1 424.2,864.75 L424.2,868.75Z" fill="#00BFC4" stroke="#fff" stroke-width="0.75"/>
<path d="M424.2,868.75 L421.9,874.29 A6,6 0 0 1 419.96,872.99 L424.2,868.75Z" fill="#00BFC4" stroke="#fff" stroke-width="0.75"/>
<path d="M421.9,874.29 L419.61,879.84 A12,12 0 0 1 415.71,877.24 L419.96,872.99 A6,6 0 0 0 421.9,874.29Z" fill="#00BFC4" stroke="#fff" stroke-width="0.75"/>
<circle cx="424.2" cy="868.75" r="1.6" fill="#fff"/>
<text x="438.46" y="797.17" font-size="6.6" text-anchor="middle" fill="#4D4D4D" font-weight="normal" >ge</text>
<text x="438.46" y="804.07" font-size="6.6" text-anchor="middle" fill="#4D4D4D" font-weight="normal" >tRF1</text>
<text x="464.8" y="808.09" font-size="6.6" text-anchor="middle" fill="#4D4D4D" font-weight="normal" >ge</text>
<text x="464.8" y="814.99" font-size="6.6" text-anchor="middle" fill="#4D4D4D" font-weight="normal" >tRF3</text>
<text x="484.96" y="828.25" font-size="6.6" text-anchor="middle" fill="#4D4D4D" font-weight="normal" >ge</text>
<text x="484.96" y="835.15" font-size="6.6" text-anchor="middle" fill="#4D4D4D" font-weight="normal" >tRF3_CCA</text>
<text x="495.88" y="854.59" font-size="6.6" text-anchor="middle" fill="#4D4D4D" font-weight="normal" >ge</text>
<text x="495.88" y="861.49" font-size="6.6" text-anchor="middle" fill="#4D4D4D" font-weight="normal" >tRF5</text>
<text x="495.88" y="883.11" font-size="6.6" text-anchor="middle" fill="#4D4D4D" font-weight="normal" >ge</text>
<text x="495.88" y="890.01" font-size="6.6" text-anchor="middle" fill="#4D4D4D" font-weight="normal" >tRFmisc</text>
<text x="484.96" y="909.45" font-size="6.6" text-anchor="middle" fill="#4D4D4D" font-weight="normal" >ge</text>
<text x="484.96" y="916.35" font-size="6.6" text-anchor="middle" fill="#4D4D4D" font-weight="normal" >tRhalve3</text>
<text x="464.8" y="929.61" font-size="6.6" text-anchor="middle" fill="#4D4D4D" font-weight="normal" >ge</text>
<text x="464.8" y="936.51" font-size="6.6" text-anchor="middle" fill="#4D4D4D" font-weight="normal" >tRhalve5</text>
<text x="438.46" y="940.53" font-size="6.6" text-anchor="middle" fill="#4D4D4D" font-weight="normal" >ge</text>
<text x="438.46" y="947.43" font-size="6.6" text-anchor="middle" fill="#4D4D4D" font-weight="normal" >tRNAleader</text>
<text x="409.94" y="940.53" font-size="6.6" text-anchor="middle" fill="#4D4D4D" font-weight="normal" >mt</text>
<text x="409.94" y="947.43" font-size="6.6" text-anchor="middle" fill="#4D4D4D" font-weight="normal" >tRF1</text>
<text x="383.6" y="929.61" font-size="6.6" text-anchor="middle" fill="#4D4D4D" font-weight="normal" >mt</text>
<text x="383.6" y="936.51" font-size="6.6" text-anchor="middle" fill="#4D4D4D" font-weight="normal" >tRF3</text>
<text x="363.44" y="909.45" font-size="6.6" text-anchor="middle" fill="#4D4D4D" font-weight="normal" >mt</text>
<text x="363.44" y="916.35" font-size="6.6" text-anchor="middle" fill="#4D4D4D" font-weight="normal" >tRF3_CCA</text>
<text x="352.52" y="883.11" font-size="6.6" text-anchor="middle" fill="#4D4D4D" font-weight="normal" >mt</text>
<text x="352.52" y="890.01" font-size="6.6" text-anchor="middle" fill="#4D4D4D" font-weight="normal" >tRF5</text>
<text x="352.52" y="854.59" font-size="6.6" text-anchor="middle" fill="#4D4D4D" font-weight="normal" >mt</text>
<text x="352.52" y="861.49" font-size="6.6" text-anchor="middle" fill="#4D4D4D" font-weight="normal" >tRFmisc</text>
<text x="363.44" y="828.25" font-size="6.6" text-anchor="middle" fill="#4D4D4D" font-weight="normal" >mt</text>
<text x="363.44" y="835.15" font-size="6.6" text-anchor="middle" fill="#4D4D4D" font-weight="normal" >tRhalve3</text>
<text x="383.6" y="808.09" font-size="6.6" text-anchor="middle" fill="#4D4D4D" font-weight="normal" >mt</text>
<text x="383.6" y="814.99" font-size="6.6" text-anchor="middle" fill="#4D4D4D" font-weight="normal" >tRhalve5</text>
<text x="409.94" y="797.17" font-size="6.6" text-anchor="middle" fill="#4D4D4D" font-weight="normal" >mt</text>
<text x="409.94" y="804.07" font-size="6.6" text-anchor="middle" fill="#4D4D4D" font-weight="normal" >tRNAleader</text>
</g>
<rect x="343" y="774.7" width="162.4" height="12.6" fill="#D9D9D9" stroke="#7a7a7a" stroke-width="0.9"/>
<text x="424.2" y="783.5" font-size="6.8" text-anchor="middle" fill="#1A1A1A" font-weight="normal" >G+K+M+N</text>
<rect x="343" y="787.3" width="162.4" height="162.9" fill="none" stroke="#7a7a7a" stroke-width="0.9"/>
<g clip-path="url(#clipB7)">
<circle cx="591" cy="868.75" r="16" fill="none" stroke="#EBEBEB" stroke-width="0.9"/>
<circle cx="591" cy="868.75" r="32" fill="none" stroke="#EBEBEB" stroke-width="0.9"/>
<circle cx="591" cy="868.75" r="48" fill="none" stroke="#EBEBEB" stroke-width="0.9"/>
<circle cx="591" cy="868.75" r="64" fill="none" stroke="#EBEBEB" stroke-width="0.9"/>
<circle cx="591" cy="868.75" r="73.08" fill="none" stroke="#EBEBEB" stroke-width="0.9"/>
<line x1="591" y1="868.75" x2="605.26" y2="797.07" stroke="#EBEBEB" stroke-width="0.9"/>
<line x1="591" y1="868.75" x2="631.6" y2="807.99" stroke="#EBEBEB" stroke-width="0.9"/>
<line x1="591" y1="868.75" x2="651.76" y2="828.15" stroke="#EBEBEB" stroke-width="0.9"/>
<line x1="591" y1="868.75" x2="662.68" y2="854.49" stroke="#EBEBEB" stroke-width="0.9"/>
<line x1="591" y1="868.75" x2="662.68" y2="883.01" stroke="#EBEBEB" stroke-width="0.9"/>
<line x1="591" y1="868.75" x2="651.76" y2="909.35" stroke="#EBEBEB" stroke-width="0.9"/>
<line x1="591" y1="868.75" x2="631.6" y2="929.51" stroke="#EBEBEB" stroke-width="0.9"/>
<line x1="591" y1="868.75" x2="605.26" y2="940.43" stroke="#EBEBEB" stroke-width="0.9"/>
<line x1="591" y1="868.75" x2="576.74" y2="940.43" stroke="#EBEBEB" stroke-width="0.9"/>
<line x1="591" y1="868.75" x2="550.4" y2="929.51" stroke="#EBEBEB" stroke-width="0.9"/>
<line x1="591" y1="868.75" x2="530.24" y2="909.35" stroke="#EBEBEB" stroke-width="0.9"/>
<line x1="591" y1="868.75" x2="519.32" y2="883.01" stroke="#EBEBEB" stroke-width="0.9"/>
<line x1="591" y1="868.75" x2="519.32" y2="854.49" stroke="#EBEBEB" stroke-width="0.9"/>
<line x1="591" y1="868.75" x2="530.24" y2="828.15" stroke="#EBEBEB" stroke-width="0.9"/>
<line x1="591" y1="868.75" x2="550.4" y2="807.99" stroke="#EBEBEB" stroke-width="0.9"/>
<line x1="591" y1="868.75" x2="576.74" y2="797.07" stroke="#EBEBEB" stroke-width="0.9"/>
<path d="M591,868.75 L650.13,844.26 A64,64 0 0 1 655,868.75 L591,868.75Z" fill="#F8766D" stroke="#fff" stroke-width="0.75"/>
<path d="M591,868.75 L650.13,893.24 A64,64 0 0 1 636.25,914 L591,868.75Z" fill="#F8766D" stroke="#fff" stroke-width="0.75"/>
<path d="M591,868.75 L636.25,914 A64,64 0 0 1 615.49,927.88 L591,868.75Z" fill="#F8766D" stroke="#fff" stroke-width="0.75"/>
<path d="M591,868.75 L615.49,927.88 A64,64 0 0 1 591,932.75 L591,868.75Z" fill="#F8766D" stroke="#fff" stroke-width="0.75"/>
<path d="M591,868.75 L545.75,823.5 A64,64 0 0 1 566.51,809.62 L591,868.75Z" fill="#00BFC4" stroke="#fff" stroke-width="0.75"/>
<circle cx="591" cy="868.75" r="1.6" fill="#fff"/>
<text x="605.26" y="797.17" font-size="6.6" text-anchor="middle" fill="#4D4D4D" font-weight="normal" >ge</text>
<text x="605.26" y="804.07" font-size="6.6" text-anchor="middle" fill="#4D4D4D" font-weight="normal" >tRF1</text>
<text x="631.6" y="808.09" font-size="6.6" text-anchor="middle" fill="#4D4D4D" font-weight="normal" >ge</text>
<text x="631.6" y="814.99" font-size="6.6" text-anchor="middle" fill="#4D4D4D" font-weight="normal" >tRF3</text>
<text x="651.76" y="828.25" font-size="6.6" text-anchor="middle" fill="#4D4D4D" font-weight="normal" >ge</text>
<text x="651.76" y="835.15" font-size="6.6" text-anchor="middle" fill="#4D4D4D" font-weight="normal" >tRF3_CCA</text>
<text x="662.68" y="854.59" font-size="6.6" text-anchor="middle" fill="#4D4D4D" font-weight="normal" >ge</text>
<text x="662.68" y="861.49" font-size="6.6" text-anchor="middle" fill="#4D4D4D" font-weight="normal" >tRF5</text>
<text x="662.68" y="883.11" font-size="6.6" text-anchor="middle" fill="#4D4D4D" font-weight="normal" >ge</text>
<text x="662.68" y="890.01" font-size="6.6" text-anchor="middle" fill="#4D4D4D" font-weight="normal" >tRFmisc</text>
<text x="651.76" y="909.45" font-size="6.6" text-anchor="middle" fill="#4D4D4D" font-weight="normal" >ge</text>
<text x="651.76" y="916.35" font-size="6.6" text-anchor="middle" fill="#4D4D4D" font-weight="normal" >tRhalve3</text>
<text x="631.6" y="929.61" font-size="6.6" text-anchor="middle" fill="#4D4D4D" font-weight="normal" >ge</text>
<text x="631.6" y="936.51" font-size="6.6" text-anchor="middle" fill="#4D4D4D" font-weight="normal" >tRhalve5</text>
<text x="605.26" y="940.53" font-size="6.6" text-anchor="middle" fill="#4D4D4D" font-weight="normal" >ge</text>
<text x="605.26" y="947.43" font-size="6.6" text-anchor="middle" fill="#4D4D4D" font-weight="normal" >tRNAleader</text>
<text x="576.74" y="940.53" font-size="6.6" text-anchor="middle" fill="#4D4D4D" font-weight="normal" >mt</text>
<text x="576.74" y="947.43" font-size="6.6" text-anchor="middle" fill="#4D4D4D" font-weight="normal" >tRF1</text>
<text x="550.4" y="929.61" font-size="6.6" text-anchor="middle" fill="#4D4D4D" font-weight="normal" >mt</text>
<text x="550.4" y="936.51" font-size="6.6" text-anchor="middle" fill="#4D4D4D" font-weight="normal" >tRF3</text>
<text x="530.24" y="909.45" font-size="6.6" text-anchor="middle" fill="#4D4D4D" font-weight="normal" >mt</text>
<text x="530.24" y="916.35" font-size="6.6" text-anchor="middle" fill="#4D4D4D" font-weight="normal" >tRF3_CCA</text>
<text x="519.32" y="883.11" font-size="6.6" text-anchor="middle" fill="#4D4D4D" font-weight="normal" >mt</text>
<text x="519.32" y="890.01" font-size="6.6" text-anchor="middle" fill="#4D4D4D" font-weight="normal" >tRF5</text>
<text x="519.32" y="854.59" font-size="6.6" text-anchor="middle" fill="#4D4D4D" font-weight="normal" >mt</text>
<text x="519.32" y="861.49" font-size="6.6" text-anchor="middle" fill="#4D4D4D" font-weight="normal" >tRFmisc</text>
<text x="530.24" y="828.25" font-size="6.6" text-anchor="middle" fill="#4D4D4D" font-weight="normal" >mt</text>
<text x="530.24" y="835.15" font-size="6.6" text-anchor="middle" fill="#4D4D4D" font-weight="normal" >tRhalve3</text>
<text x="550.4" y="808.09" font-size="6.6" text-anchor="middle" fill="#4D4D4D" font-weight="normal" >mt</text>
<text x="550.4" y="814.99" font-size="6.6" text-anchor="middle" fill="#4D4D4D" font-weight="normal" >tRhalve5</text>
<text x="576.74" y="797.17" font-size="6.6" text-anchor="middle" fill="#4D4D4D" font-weight="normal" >mt</text>
<text x="576.74" y="804.07" font-size="6.6" text-anchor="middle" fill="#4D4D4D" font-weight="normal" >tRNAleader</text>
</g>
<rect x="509.8" y="774.7" width="162.4" height="12.6" fill="#D9D9D9" stroke="#7a7a7a" stroke-width="0.9"/>
<text x="591" y="783.5" font-size="6.8" text-anchor="middle" fill="#1A1A1A" font-weight="normal" >H</text>
<rect x="509.8" y="787.3" width="162.4" height="162.9" fill="none" stroke="#7a7a7a" stroke-width="0.9"/>
<g clip-path="url(#clipB8)">
<circle cx="89.8" cy="1054.6" r="16" fill="none" stroke="#EBEBEB" stroke-width="0.9"/>
<circle cx="89.8" cy="1054.6" r="32" fill="none" stroke="#EBEBEB" stroke-width="0.9"/>
<circle cx="89.8" cy="1054.6" r="48" fill="none" stroke="#EBEBEB" stroke-width="0.9"/>
<circle cx="89.8" cy="1054.6" r="64" fill="none" stroke="#EBEBEB" stroke-width="0.9"/>
<circle cx="89.8" cy="1054.6" r="73.17" fill="none" stroke="#EBEBEB" stroke-width="0.9"/>
<line x1="89.8" y1="1054.6" x2="104.07" y2="982.84" stroke="#EBEBEB" stroke-width="0.9"/>
<line x1="89.8" y1="1054.6" x2="130.45" y2="993.76" stroke="#EBEBEB" stroke-width="0.9"/>
<line x1="89.8" y1="1054.6" x2="150.64" y2="1013.95" stroke="#EBEBEB" stroke-width="0.9"/>
<line x1="89.8" y1="1054.6" x2="161.56" y2="1040.33" stroke="#EBEBEB" stroke-width="0.9"/>
<line x1="89.8" y1="1054.6" x2="161.56" y2="1068.87" stroke="#EBEBEB" stroke-width="0.9"/>
<line x1="89.8" y1="1054.6" x2="150.64" y2="1095.25" stroke="#EBEBEB" stroke-width="0.9"/>
<line x1="89.8" y1="1054.6" x2="130.45" y2="1115.44" stroke="#EBEBEB" stroke-width="0.9"/>
<line x1="89.8" y1="1054.6" x2="104.07" y2="1126.36" stroke="#EBEBEB" stroke-width="0.9"/>
<line x1="89.8" y1="1054.6" x2="75.53" y2="1126.36" stroke="#EBEBEB" stroke-width="0.9"/>
<line x1="89.8" y1="1054.6" x2="49.15" y2="1115.44" stroke="#EBEBEB" stroke-width="0.9"/>
<line x1="89.8" y1="1054.6" x2="28.96" y2="1095.25" stroke="#EBEBEB" stroke-width="0.9"/>
<line x1="89.8" y1="1054.6" x2="18.04" y2="1068.87" stroke="#EBEBEB" stroke-width="0.9"/>
<line x1="89.8" y1="1054.6" x2="18.04" y2="1040.33" stroke="#EBEBEB" stroke-width="0.9"/>
<line x1="89.8" y1="1054.6" x2="28.96" y2="1013.95" stroke="#EBEBEB" stroke-width="0.9"/>
<line x1="89.8" y1="1054.6" x2="49.15" y2="993.76" stroke="#EBEBEB" stroke-width="0.9"/>
<line x1="89.8" y1="1054.6" x2="75.53" y2="982.84" stroke="#EBEBEB" stroke-width="0.9"/>
<path d="M89.8,1054.6 L89.8,990.6 A64,64 0 0 1 114.29,995.47 L89.8,1054.6Z" fill="#F8766D" stroke="#fff" stroke-width="0.75"/>
<path d="M89.8,1054.6 L65.31,995.47 A64,64 0 0 1 89.8,990.6 L89.8,1054.6Z" fill="#00BFC4" stroke="#fff" stroke-width="0.75"/>
<circle cx="89.8" cy="1054.6" r="1.6" fill="#fff"/>
<text x="104.07" y="982.94" font-size="6.6" text-anchor="middle" fill="#4D4D4D" font-weight="normal" >ge</text>
<text x="104.07" y="989.84" font-size="6.6" text-anchor="middle" fill="#4D4D4D" font-weight="normal" >tRF1</text>
<text x="130.45" y="993.86" font-size="6.6" text-anchor="middle" fill="#4D4D4D" font-weight="normal" >ge</text>
<text x="130.45" y="1000.76" font-size="6.6" text-anchor="middle" fill="#4D4D4D" font-weight="normal" >tRF3</text>
<text x="150.64" y="1014.05" font-size="6.6" text-anchor="middle" fill="#4D4D4D" font-weight="normal" >ge</text>
<text x="150.64" y="1020.95" font-size="6.6" text-anchor="middle" fill="#4D4D4D" font-weight="normal" >tRF3_CCA</text>
<text x="161.56" y="1040.43" font-size="6.6" text-anchor="middle" fill="#4D4D4D" font-weight="normal" >ge</text>
<text x="161.56" y="1047.33" font-size="6.6" text-anchor="middle" fill="#4D4D4D" font-weight="normal" >tRF5</text>
<text x="161.56" y="1068.97" font-size="6.6" text-anchor="middle" fill="#4D4D4D" font-weight="normal" >ge</text>
<text x="161.56" y="1075.87" font-size="6.6" text-anchor="middle" fill="#4D4D4D" font-weight="normal" >tRFmisc</text>
<text x="150.64" y="1095.35" font-size="6.6" text-anchor="middle" fill="#4D4D4D" font-weight="normal" >ge</text>
<text x="150.64" y="1102.25" font-size="6.6" text-anchor="middle" fill="#4D4D4D" font-weight="normal" >tRhalve3</text>
<text x="130.45" y="1115.54" font-size="6.6" text-anchor="middle" fill="#4D4D4D" font-weight="normal" >ge</text>
<text x="130.45" y="1122.44" font-size="6.6" text-anchor="middle" fill="#4D4D4D" font-weight="normal" >tRhalve5</text>
<text x="104.07" y="1126.46" font-size="6.6" text-anchor="middle" fill="#4D4D4D" font-weight="normal" >ge</text>
<text x="104.07" y="1133.36" font-size="6.6" text-anchor="middle" fill="#4D4D4D" font-weight="normal" >tRNAleader</text>
<text x="75.53" y="1126.46" font-size="6.6" text-anchor="middle" fill="#4D4D4D" font-weight="normal" >mt</text>
<text x="75.53" y="1133.36" font-size="6.6" text-anchor="middle" fill="#4D4D4D" font-weight="normal" >tRF1</text>
<text x="49.15" y="1115.54" font-size="6.6" text-anchor="middle" fill="#4D4D4D" font-weight="normal" >mt</text>
<text x="49.15" y="1122.44" font-size="6.6" text-anchor="middle" fill="#4D4D4D" font-weight="normal" >tRF3</text>
<text x="28.96" y="1095.35" font-size="6.6" text-anchor="middle" fill="#4D4D4D" font-weight="normal" >mt</text>
<text x="28.96" y="1102.25" font-size="6.6" text-anchor="middle" fill="#4D4D4D" font-weight="normal" >tRF3_CCA</text>
<text x="18.04" y="1068.97" font-size="6.6" text-anchor="middle" fill="#4D4D4D" font-weight="normal" >mt</text>
<text x="18.04" y="1075.87" font-size="6.6" text-anchor="middle" fill="#4D4D4D" font-weight="normal" >tRF5</text>
<text x="18.04" y="1040.43" font-size="6.6" text-anchor="middle" fill="#4D4D4D" font-weight="normal" >mt</text>
<text x="18.04" y="1047.33" font-size="6.6" text-anchor="middle" fill="#4D4D4D" font-weight="normal" >tRFmisc</text>
<text x="28.96" y="1014.05" font-size="6.6" text-anchor="middle" fill="#4D4D4D" font-weight="normal" >mt</text>
<text x="28.96" y="1020.95" font-size="6.6" text-anchor="middle" fill="#4D4D4D" font-weight="normal" >tRhalve3</text>
<text x="49.15" y="993.86" font-size="6.6" text-anchor="middle" fill="#4D4D4D" font-weight="normal" >mt</text>
<text x="49.15" y="1000.76" font-size="6.6" text-anchor="middle" fill="#4D4D4D" font-weight="normal" >tRhalve5</text>
<text x="75.53" y="982.94" font-size="6.6" text-anchor="middle" fill="#4D4D4D" font-weight="normal" >mt</text>
<text x="75.53" y="989.84" font-size="6.6" text-anchor="middle" fill="#4D4D4D" font-weight="normal" >tRNAleader</text>
</g>
<rect x="8.5" y="960.7" width="162.6" height="12.7" fill="#D9D9D9" stroke="#7a7a7a" stroke-width="0.9"/>
<text x="89.8" y="969.55" font-size="6.8" text-anchor="middle" fill="#1A1A1A" font-weight="normal" >J</text>
<rect x="8.5" y="973.4" width="162.6" height="162.4" fill="none" stroke="#7a7a7a" stroke-width="0.9"/>
<line x1="6.2" x2="8.5" y1="1055" y2="1055" stroke="#7a7a7a" stroke-width="0.9"/>
<text x="5.1" y="1057.4" font-size="6.8" text-anchor="end" fill="#4D4D4D" font-weight="normal" >0</text>
<line x1="6.2" x2="8.5" y1="1042" y2="1042" stroke="#7a7a7a" stroke-width="0.9"/>
<text x="5.1" y="1044.4" font-size="6.8" text-anchor="end" fill="#4D4D4D" font-weight="normal" >1</text>
<line x1="6.2" x2="8.5" y1="1029" y2="1029" stroke="#7a7a7a" stroke-width="0.9"/>
<text x="5.1" y="1031.4" font-size="6.8" text-anchor="end" fill="#4D4D4D" font-weight="normal" >2</text>
<line x1="6.2" x2="8.5" y1="1016" y2="1016" stroke="#7a7a7a" stroke-width="0.9"/>
<text x="5.1" y="1018.4" font-size="6.8" text-anchor="end" fill="#4D4D4D" font-weight="normal" >3</text>
<line x1="6.2" x2="8.5" y1="1003" y2="1003" stroke="#7a7a7a" stroke-width="0.9"/>
<text x="5.1" y="1005.4" font-size="6.8" text-anchor="end" fill="#4D4D4D" font-weight="normal" >4</text>
<line x1="6.2" x2="8.5" y1="990" y2="990" stroke="#7a7a7a" stroke-width="0.9"/>
<text x="5.1" y="992.4" font-size="6.8" text-anchor="end" fill="#4D4D4D" font-weight="normal" >5</text>
<g clip-path="url(#clipB9)">
<circle cx="256.8" cy="1054.6" r="16" fill="none" stroke="#EBEBEB" stroke-width="0.9"/>
<circle cx="256.8" cy="1054.6" r="32" fill="none" stroke="#EBEBEB" stroke-width="0.9"/>
<circle cx="256.8" cy="1054.6" r="48" fill="none" stroke="#EBEBEB" stroke-width="0.9"/>
<circle cx="256.8" cy="1054.6" r="64" fill="none" stroke="#EBEBEB" stroke-width="0.9"/>
<circle cx="256.8" cy="1054.6" r="73.17" fill="none" stroke="#EBEBEB" stroke-width="0.9"/>
<line x1="256.8" y1="1054.6" x2="271.07" y2="982.84" stroke="#EBEBEB" stroke-width="0.9"/>
<line x1="256.8" y1="1054.6" x2="297.45" y2="993.76" stroke="#EBEBEB" stroke-width="0.9"/>
<line x1="256.8" y1="1054.6" x2="317.64" y2="1013.95" stroke="#EBEBEB" stroke-width="0.9"/>
<line x1="256.8" y1="1054.6" x2="328.56" y2="1040.33" stroke="#EBEBEB" stroke-width="0.9"/>
<line x1="256.8" y1="1054.6" x2="328.56" y2="1068.87" stroke="#EBEBEB" stroke-width="0.9"/>
<line x1="256.8" y1="1054.6" x2="317.64" y2="1095.25" stroke="#EBEBEB" stroke-width="0.9"/>
<line x1="256.8" y1="1054.6" x2="297.45" y2="1115.44" stroke="#EBEBEB" stroke-width="0.9"/>
<line x1="256.8" y1="1054.6" x2="271.07" y2="1126.36" stroke="#EBEBEB" stroke-width="0.9"/>
<line x1="256.8" y1="1054.6" x2="242.53" y2="1126.36" stroke="#EBEBEB" stroke-width="0.9"/>
<line x1="256.8" y1="1054.6" x2="216.15" y2="1115.44" stroke="#EBEBEB" stroke-width="0.9"/>
<line x1="256.8" y1="1054.6" x2="195.96" y2="1095.25" stroke="#EBEBEB" stroke-width="0.9"/>
<line x1="256.8" y1="1054.6" x2="185.04" y2="1068.87" stroke="#EBEBEB" stroke-width="0.9"/>
<line x1="256.8" y1="1054.6" x2="185.04" y2="1040.33" stroke="#EBEBEB" stroke-width="0.9"/>
<line x1="256.8" y1="1054.6" x2="195.96" y2="1013.95" stroke="#EBEBEB" stroke-width="0.9"/>
<line x1="256.8" y1="1054.6" x2="216.15" y2="993.76" stroke="#EBEBEB" stroke-width="0.9"/>
<line x1="256.8" y1="1054.6" x2="242.53" y2="982.84" stroke="#EBEBEB" stroke-width="0.9"/>
<path d="M256.8,1054.6 L244.75,1025.5 A31.5,31.5 0 0 1 256.8,1023.1 L256.8,1054.6Z" fill="#00BFC4" stroke="#fff" stroke-width="0.75"/>
<path d="M256.8,1054.6 L227.24,1066.85 A32,32 0 0 1 224.8,1054.6 L256.8,1054.6Z" fill="#00BFC4" stroke="#fff" stroke-width="0.75"/>
<path d="M227.24,1066.85 L197.67,1079.09 A64,64 0 0 1 192.8,1054.6 L224.8,1054.6 A32,32 0 0 0 227.24,1066.85Z" fill="#00BFC4" stroke="#fff" stroke-width="0.75"/>
<path d="M256.8,1054.6 L279.43,1077.23 A32,32 0 0 1 269.05,1084.16 L256.8,1054.6Z" fill="#F8766D" stroke="#fff" stroke-width="0.75"/>
<circle cx="256.8" cy="1054.6" r="1.6" fill="#fff"/>
<text x="271.07" y="982.94" font-size="6.6" text-anchor="middle" fill="#4D4D4D" font-weight="normal" >ge</text>
<text x="271.07" y="989.84" font-size="6.6" text-anchor="middle" fill="#4D4D4D" font-weight="normal" >tRF1</text>
<text x="297.45" y="993.86" font-size="6.6" text-anchor="middle" fill="#4D4D4D" font-weight="normal" >ge</text>
<text x="297.45" y="1000.76" font-size="6.6" text-anchor="middle" fill="#4D4D4D" font-weight="normal" >tRF3</text>
<text x="317.64" y="1014.05" font-size="6.6" text-anchor="middle" fill="#4D4D4D" font-weight="normal" >ge</text>
<text x="317.64" y="1020.95" font-size="6.6" text-anchor="middle" fill="#4D4D4D" font-weight="normal" >tRF3_CCA</text>
<text x="328.56" y="1040.43" font-size="6.6" text-anchor="middle" fill="#4D4D4D" font-weight="normal" >ge</text>
<text x="328.56" y="1047.33" font-size="6.6" text-anchor="middle" fill="#4D4D4D" font-weight="normal" >tRF5</text>
<text x="328.56" y="1068.97" font-size="6.6" text-anchor="middle" fill="#4D4D4D" font-weight="normal" >ge</text>
<text x="328.56" y="1075.87" font-size="6.6" text-anchor="middle" fill="#4D4D4D" font-weight="normal" >tRFmisc</text>
<text x="317.64" y="1095.35" font-size="6.6" text-anchor="middle" fill="#4D4D4D" font-weight="normal" >ge</text>
<text x="317.64" y="1102.25" font-size="6.6" text-anchor="middle" fill="#4D4D4D" font-weight="normal" >tRhalve3</text>
<text x="297.45" y="1115.54" font-size="6.6" text-anchor="middle" fill="#4D4D4D" font-weight="normal" >ge</text>
<text x="297.45" y="1122.44" font-size="6.6" text-anchor="middle" fill="#4D4D4D" font-weight="normal" >tRhalve5</text>
<text x="271.07" y="1126.46" font-size="6.6" text-anchor="middle" fill="#4D4D4D" font-weight="normal" >ge</text>
<text x="271.07" y="1133.36" font-size="6.6" text-anchor="middle" fill="#4D4D4D" font-weight="normal" >tRNAleader</text>
<text x="242.53" y="1126.46" font-size="6.6" text-anchor="middle" fill="#4D4D4D" font-weight="normal" >mt</text>
<text x="242.53" y="1133.36" font-size="6.6" text-anchor="middle" fill="#4D4D4D" font-weight="normal" >tRF1</text>
<text x="216.15" y="1115.54" font-size="6.6" text-anchor="middle" fill="#4D4D4D" font-weight="normal" >mt</text>
<text x="216.15" y="1122.44" font-size="6.6" text-anchor="middle" fill="#4D4D4D" font-weight="normal" >tRF3</text>
<text x="195.96" y="1095.35" font-size="6.6" text-anchor="middle" fill="#4D4D4D" font-weight="normal" >mt</text>
<text x="195.96" y="1102.25" font-size="6.6" text-anchor="middle" fill="#4D4D4D" font-weight="normal" >tRF3_CCA</text>
<text x="185.04" y="1068.97" font-size="6.6" text-anchor="middle" fill="#4D4D4D" font-weight="normal" >mt</text>
<text x="185.04" y="1075.87" font-size="6.6" text-anchor="middle" fill="#4D4D4D" font-weight="normal" >tRF5</text>
<text x="185.04" y="1040.43" font-size="6.6" text-anchor="middle" fill="#4D4D4D" font-weight="normal" >mt</text>
<text x="185.04" y="1047.33" font-size="6.6" text-anchor="middle" fill="#4D4D4D" font-weight="normal" >tRFmisc</text>
<text x="195.96" y="1014.05" font-size="6.6" text-anchor="middle" fill="#4D4D4D" font-weight="normal" >mt</text>
<text x="195.96" y="1020.95" font-size="6.6" text-anchor="middle" fill="#4D4D4D" font-weight="normal" >tRhalve3</text>
<text x="216.15" y="993.86" font-size="6.6" text-anchor="middle" fill="#4D4D4D" font-weight="normal" >mt</text>
<text x="216.15" y="1000.76" font-size="6.6" text-anchor="middle" fill="#4D4D4D" font-weight="normal" >tRhalve5</text>
<text x="242.53" y="982.94" font-size="6.6" text-anchor="middle" fill="#4D4D4D" font-weight="normal" >mt</text>
<text x="242.53" y="989.84" font-size="6.6" text-anchor="middle" fill="#4D4D4D" font-weight="normal" >tRNAleader</text>
</g>
<rect x="175.5" y="960.7" width="162.6" height="12.7" fill="#D9D9D9" stroke="#7a7a7a" stroke-width="0.9"/>
<text x="256.8" y="969.55" font-size="6.8" text-anchor="middle" fill="#1A1A1A" font-weight="normal" >L</text>
<rect x="175.5" y="973.4" width="162.6" height="162.4" fill="none" stroke="#7a7a7a" stroke-width="0.9"/>
<rect x="350.8" y="960.9" width="13.3" height="13.3" fill="#F8766D"/>
<rect x="350.8" y="977.1" width="13.3" height="13.3" fill="#00BFC4"/>
<text x="370.7" y="970.4" font-size="8.1" text-anchor="start" fill="#1A1A1A" font-weight="normal" >Genomic</text>
<text x="370.7" y="986.7" font-size="8.1" text-anchor="start" fill="#1A1A1A" font-weight="normal" >Mitochondrial</text>
</svg></body></html>
